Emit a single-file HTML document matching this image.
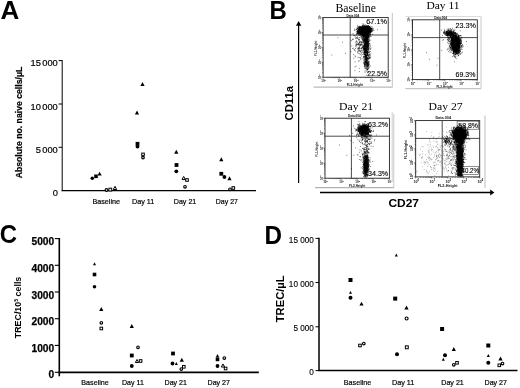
<!DOCTYPE html>
<html><head><meta charset="utf-8"><title>Figure</title>
<style>
html,body{margin:0;padding:0;background:#fff;}
body{width:520px;height:388px;overflow:hidden;font-family:"Liberation Sans",sans-serif;}
svg{display:block}
</style></head><body>
<svg width="520" height="388" viewBox="0 0 520 388">
<defs><filter id="soft" x="0" y="0" width="100%" height="100%" filterUnits="userSpaceOnUse"><feGaussianBlur stdDeviation="0.32"/></filter></defs>
<rect width="520" height="388" fill="#fff"/>
<g filter="url(#soft)">
<text x="0.50" y="18.90" font-family="Liberation Sans" font-size="25" text-anchor="start" fill="#000" font-weight="bold" textLength="18.80" lengthAdjust="spacingAndGlyphs" >A</text>
<text x="269.50" y="19.10" font-family="Liberation Sans" font-size="25" text-anchor="start" fill="#000" font-weight="bold" textLength="17.30" lengthAdjust="spacingAndGlyphs" >B</text>
<text x="-0.20" y="242.80" font-family="Liberation Sans" font-size="25" text-anchor="start" fill="#000" font-weight="bold" textLength="17.30" lengthAdjust="spacingAndGlyphs" >C</text>
<text x="264.40" y="243.70" font-family="Liberation Sans" font-size="25" text-anchor="start" fill="#000" font-weight="bold" textLength="17.50" lengthAdjust="spacingAndGlyphs" >D</text>
<line x1="62.20" y1="60.10" x2="62.20" y2="191.10" stroke="#000" stroke-width="1.0" />
<line x1="61.70" y1="190.60" x2="256.00" y2="190.60" stroke="#000" stroke-width="1.1" />
<line x1="58.60" y1="60.60" x2="62.20" y2="60.60" stroke="#000" stroke-width="1.0" />
<line x1="58.60" y1="104.00" x2="62.20" y2="104.00" stroke="#000" stroke-width="1.0" />
<line x1="58.60" y1="147.30" x2="62.20" y2="147.30" stroke="#000" stroke-width="1.0" />
<text x="57.80" y="66.20" font-family="Liberation Sans" font-size="9.3" text-anchor="end" fill="#000" word-spacing="-1.2" stroke="#000" stroke-width="0.2">15 000</text>
<text x="57.80" y="109.80" font-family="Liberation Sans" font-size="9.3" text-anchor="end" fill="#000" word-spacing="-1.2" stroke="#000" stroke-width="0.2">10 000</text>
<text x="57.80" y="153.00" font-family="Liberation Sans" font-size="9.3" text-anchor="end" fill="#000" word-spacing="-1.2" stroke="#000" stroke-width="0.2">5 000</text>
<text x="57.80" y="196.40" font-family="Liberation Sans" font-size="9.3" text-anchor="end" fill="#000" word-spacing="-1.2" stroke="#000" stroke-width="0.2">0</text>
<text x="22.20" y="178.30" font-family="Liberation Sans" font-size="8.4" text-anchor="start" fill="#000" font-weight="bold" textLength="111.50" lengthAdjust="spacingAndGlyphs" transform="rotate(-90 22.20 178.30)" stroke="#000" stroke-width="0.2">Absolute no. naive cells/µL</text>
<text x="92.40" y="204.00" font-family="Liberation Sans" font-size="7.6" text-anchor="start" fill="#000" textLength="27.60" lengthAdjust="spacingAndGlyphs" stroke="#000" stroke-width="0.2">Baseline</text>
<text x="132.00" y="204.00" font-family="Liberation Sans" font-size="7.6" text-anchor="start" fill="#000" textLength="22.30" lengthAdjust="spacingAndGlyphs" stroke="#000" stroke-width="0.2">Day 11</text>
<text x="173.80" y="204.00" font-family="Liberation Sans" font-size="7.6" text-anchor="start" fill="#000" textLength="22.50" lengthAdjust="spacingAndGlyphs" stroke="#000" stroke-width="0.2">Day 21</text>
<text x="215.80" y="204.00" font-family="Liberation Sans" font-size="7.6" text-anchor="start" fill="#000" textLength="22.20" lengthAdjust="spacingAndGlyphs" stroke="#000" stroke-width="0.2">Day 27</text>
<circle cx="92.30" cy="178.30" r="1.8" fill="#000"/>
<rect x="94.20" y="174.50" width="3.6" height="3.6" fill="#000"/>
<path d="M97.50 175.55L101.70 175.55L99.60 171.65Z" fill="#000"/>
<circle cx="106.50" cy="190.00" r="1.4" fill="#fff" stroke="#000" stroke-width="1.15"/>
<rect x="108.90" y="188.20" width="2.8" height="2.8" fill="#fff" stroke="#000" stroke-width="1"/>
<path d="M113.30 189.50L116.70 189.50L115.00 186.30Z" fill="#fff" stroke="#000" stroke-width="1.0"/>
<path d="M140.40 85.95L144.60 85.95L142.50 82.05Z" fill="#000"/>
<path d="M134.90 114.45L139.10 114.45L137.00 110.55Z" fill="#000"/>
<rect x="135.60" y="141.90" width="3.8" height="3.8" fill="#000"/>
<circle cx="137.50" cy="146.60" r="1.9" fill="#000"/>
<rect x="141.70" y="153.10" width="2.6" height="2.6" fill="#fff" stroke="#000" stroke-width="1"/>
<circle cx="143.00" cy="157.60" r="1.3" fill="#fff" stroke="#000" stroke-width="1.15"/>
<path d="M174.20 153.75L178.40 153.75L176.30 149.85Z" fill="#000"/>
<rect x="174.60" y="163.10" width="3.8" height="3.8" fill="#000"/>
<circle cx="176.30" cy="171.30" r="1.9" fill="#000"/>
<path d="M182.05 179.55L185.35 179.55L183.70 176.45Z" fill="#fff" stroke="#000" stroke-width="1.0"/>
<rect x="185.70" y="178.70" width="2.6" height="2.6" fill="#fff" stroke="#000" stroke-width="1"/>
<circle cx="185.00" cy="186.80" r="1.3" fill="#fff" stroke="#000" stroke-width="1.15"/>
<path d="M219.20 161.25L223.40 161.25L221.30 157.35Z" fill="#000"/>
<rect x="219.40" y="171.90" width="3.8" height="3.8" fill="#000"/>
<circle cx="224.40" cy="177.00" r="1.9" fill="#000"/>
<path d="M227.40 180.25L231.60 180.25L229.50 176.35Z" fill="#000"/>
<circle cx="230.00" cy="189.30" r="1.3" fill="#fff" stroke="#000" stroke-width="1.15"/>
<rect x="232.00" y="186.70" width="2.6" height="2.6" fill="#fff" stroke="#000" stroke-width="1"/>
<line x1="59.30" y1="238.00" x2="59.30" y2="376.30" stroke="#000" stroke-width="1.6" />
<line x1="58.50" y1="372.30" x2="258.80" y2="372.30" stroke="#000" stroke-width="1.7" />
<line x1="54.80" y1="238.60" x2="59.30" y2="238.60" stroke="#000" stroke-width="1.1" />
<line x1="54.80" y1="265.30" x2="59.30" y2="265.30" stroke="#000" stroke-width="1.1" />
<line x1="54.80" y1="292.00" x2="59.30" y2="292.00" stroke="#000" stroke-width="1.1" />
<line x1="54.80" y1="318.70" x2="59.30" y2="318.70" stroke="#000" stroke-width="1.1" />
<line x1="54.80" y1="345.40" x2="59.30" y2="345.40" stroke="#000" stroke-width="1.1" />
<line x1="54.80" y1="372.30" x2="59.30" y2="372.30" stroke="#000" stroke-width="1.1" />
<text x="54.20" y="245.35" font-family="Liberation Sans" font-size="10.2" text-anchor="end" fill="#000" font-weight="bold" textLength="22.70" lengthAdjust="spacingAndGlyphs" stroke="#000" stroke-width="0.25">5000</text>
<text x="54.20" y="272.05" font-family="Liberation Sans" font-size="10.2" text-anchor="end" fill="#000" font-weight="bold" textLength="22.70" lengthAdjust="spacingAndGlyphs" stroke="#000" stroke-width="0.25">4000</text>
<text x="54.20" y="298.75" font-family="Liberation Sans" font-size="10.2" text-anchor="end" fill="#000" font-weight="bold" textLength="22.70" lengthAdjust="spacingAndGlyphs" stroke="#000" stroke-width="0.25">3000</text>
<text x="54.20" y="325.45" font-family="Liberation Sans" font-size="10.2" text-anchor="end" fill="#000" font-weight="bold" textLength="22.70" lengthAdjust="spacingAndGlyphs" stroke="#000" stroke-width="0.25">2000</text>
<text x="54.20" y="352.15" font-family="Liberation Sans" font-size="10.2" text-anchor="end" fill="#000" font-weight="bold" textLength="22.70" lengthAdjust="spacingAndGlyphs" stroke="#000" stroke-width="0.25">1000</text>
<text x="54.20" y="377.50" font-family="Liberation Sans" font-size="10.2" text-anchor="end" fill="#000" font-weight="bold" stroke="#000" stroke-width="0.25">0</text>
<text x="20.6" y="338.2" font-family="Liberation Sans" font-size="8.4" font-weight="bold" transform="rotate(-90 20.6 338.2)" textLength="61.5" lengthAdjust="spacingAndGlyphs">TREC/10<tspan font-size="5" dy="-3">5</tspan><tspan dy="3"> cells</tspan></text>
<text x="81.30" y="385.10" font-family="Liberation Sans" font-size="7.6" text-anchor="start" fill="#000" textLength="27.50" lengthAdjust="spacingAndGlyphs" stroke="#000" stroke-width="0.2">Baseline</text>
<text x="122.00" y="385.10" font-family="Liberation Sans" font-size="7.6" text-anchor="start" fill="#000" textLength="21.80" lengthAdjust="spacingAndGlyphs" stroke="#000" stroke-width="0.2">Day 11</text>
<text x="164.50" y="385.10" font-family="Liberation Sans" font-size="7.6" text-anchor="start" fill="#000" textLength="22.50" lengthAdjust="spacingAndGlyphs" stroke="#000" stroke-width="0.2">Day 21</text>
<text x="207.50" y="385.10" font-family="Liberation Sans" font-size="7.6" text-anchor="start" fill="#000" textLength="22.50" lengthAdjust="spacingAndGlyphs" stroke="#000" stroke-width="0.2">Day 27</text>
<path d="M93.00 265.25L96.00 265.25L94.50 262.35Z" fill="#000"/>
<rect x="92.70" y="272.70" width="3.6" height="3.6" fill="#000"/>
<circle cx="94.50" cy="286.80" r="1.8" fill="#000"/>
<path d="M99.20 310.95L103.40 310.95L101.30 307.05Z" fill="#000"/>
<circle cx="101.30" cy="322.80" r="1.3" fill="#fff" stroke="#000" stroke-width="1.15"/>
<rect x="100.00" y="327.20" width="2.6" height="2.6" fill="#fff" stroke="#000" stroke-width="1"/>
<path d="M129.70 327.95L133.90 327.95L131.80 324.05Z" fill="#000"/>
<circle cx="138.00" cy="347.30" r="1.3" fill="#fff" stroke="#000" stroke-width="1.15"/>
<rect x="129.90" y="353.60" width="3.8" height="3.8" fill="#000"/>
<path d="M135.35 362.55L138.65 362.55L137.00 359.45Z" fill="#fff" stroke="#000" stroke-width="1.0"/>
<rect x="139.30" y="359.70" width="2.6" height="2.6" fill="#fff" stroke="#000" stroke-width="1"/>
<circle cx="131.80" cy="366.00" r="1.9" fill="#000"/>
<rect x="171.10" y="351.60" width="3.8" height="3.8" fill="#000"/>
<path d="M179.70 361.75L183.90 361.75L181.80 357.85Z" fill="#000"/>
<circle cx="172.50" cy="363.50" r="1.9" fill="#000"/>
<path d="M174.80 364.95L177.80 364.95L176.30 362.05Z" fill="#000"/>
<rect x="182.50" y="365.50" width="2.6" height="2.6" fill="#fff" stroke="#000" stroke-width="1"/>
<circle cx="181.30" cy="369.00" r="1.3" fill="#fff" stroke="#000" stroke-width="1.15"/>
<path d="M215.70 357.50L219.30 357.50L217.50 354.10Z" fill="#000"/>
<rect x="215.70" y="357.60" width="3.6" height="3.6" fill="#000"/>
<circle cx="224.30" cy="358.00" r="1.3" fill="#fff" stroke="#000" stroke-width="1.15"/>
<circle cx="217.50" cy="366.00" r="1.9" fill="#000"/>
<path d="M221.35 367.05L224.65 367.05L223.00 363.95Z" fill="#fff" stroke="#000" stroke-width="1.0"/>
<rect x="224.30" y="367.20" width="2.6" height="2.6" fill="#fff" stroke="#000" stroke-width="1"/>
<line x1="319.00" y1="237.80" x2="319.00" y2="371.00" stroke="#000" stroke-width="1.5" />
<line x1="318.30" y1="370.50" x2="517.50" y2="370.50" stroke="#000" stroke-width="1.4" />
<line x1="315.50" y1="238.40" x2="319.00" y2="238.40" stroke="#000" stroke-width="1.0" />
<line x1="315.50" y1="282.50" x2="319.00" y2="282.50" stroke="#000" stroke-width="1.0" />
<line x1="315.50" y1="326.80" x2="319.00" y2="326.80" stroke="#000" stroke-width="1.0" />
<line x1="315.50" y1="370.60" x2="319.00" y2="370.60" stroke="#000" stroke-width="1.0" />
<text x="313.90" y="242.55" font-family="Liberation Sans" font-size="8.2" text-anchor="end" fill="#000" stroke="#000" stroke-width="0.12">15 000</text>
<text x="313.90" y="286.65" font-family="Liberation Sans" font-size="8.2" text-anchor="end" fill="#000" stroke="#000" stroke-width="0.12">10 000</text>
<text x="313.90" y="330.95" font-family="Liberation Sans" font-size="8.2" text-anchor="end" fill="#000" stroke="#000" stroke-width="0.12">5 000</text>
<text x="313.90" y="374.75" font-family="Liberation Sans" font-size="8.2" text-anchor="end" fill="#000" stroke="#000" stroke-width="0.12">0</text>
<text x="283.60" y="322.20" font-family="Liberation Sans" font-size="11.2" text-anchor="start" fill="#000" font-weight="bold" textLength="46.80" lengthAdjust="spacingAndGlyphs" transform="rotate(-90 283.60 322.20)" >TREC/µL</text>
<text x="343.80" y="384.60" font-family="Liberation Sans" font-size="7.6" text-anchor="start" fill="#000" textLength="27.50" lengthAdjust="spacingAndGlyphs" stroke="#000" stroke-width="0.2">Baseline</text>
<text x="391.90" y="384.60" font-family="Liberation Sans" font-size="7.6" text-anchor="start" fill="#000" textLength="22.50" lengthAdjust="spacingAndGlyphs" stroke="#000" stroke-width="0.2">Day 11</text>
<text x="441.30" y="384.60" font-family="Liberation Sans" font-size="7.6" text-anchor="start" fill="#000" textLength="22.50" lengthAdjust="spacingAndGlyphs" stroke="#000" stroke-width="0.2">Day 21</text>
<text x="484.50" y="384.60" font-family="Liberation Sans" font-size="7.6" text-anchor="start" fill="#000" textLength="22.50" lengthAdjust="spacingAndGlyphs" stroke="#000" stroke-width="0.2">Day 27</text>
<rect x="348.50" y="278.00" width="4.0" height="4.0" fill="#000"/>
<path d="M349.00 293.85L352.00 293.85L350.50 290.95Z" fill="#000"/>
<circle cx="350.50" cy="297.70" r="2.0" fill="#000"/>
<path d="M359.40 305.55L363.60 305.55L361.50 301.65Z" fill="#000"/>
<rect x="358.70" y="344.20" width="2.6" height="2.6" fill="#fff" stroke="#000" stroke-width="1"/>
<circle cx="363.80" cy="343.50" r="1.3" fill="#fff" stroke="#000" stroke-width="1.15"/>
<path d="M394.80 256.45L397.80 256.45L396.30 253.55Z" fill="#000"/>
<rect x="393.20" y="296.60" width="4.0" height="4.0" fill="#000"/>
<path d="M404.40 309.45L408.60 309.45L406.50 305.55Z" fill="#000"/>
<circle cx="406.60" cy="318.50" r="1.5" fill="#fff" stroke="#000" stroke-width="1.15"/>
<rect x="405.35" y="345.85" width="2.9" height="2.9" fill="#fff" stroke="#000" stroke-width="1"/>
<circle cx="397.00" cy="354.30" r="2.0" fill="#000"/>
<rect x="440.10" y="327.00" width="4.0" height="4.0" fill="#000"/>
<path d="M451.70 350.95L455.90 350.95L453.80 347.05Z" fill="#000"/>
<circle cx="445.00" cy="355.30" r="2.0" fill="#000"/>
<path d="M441.80 360.75L444.80 360.75L443.30 357.85Z" fill="#000"/>
<circle cx="453.80" cy="364.80" r="1.3" fill="#fff" stroke="#000" stroke-width="1.15"/>
<rect x="455.70" y="361.50" width="2.6" height="2.6" fill="#fff" stroke="#000" stroke-width="1"/>
<rect x="486.30" y="343.50" width="4.0" height="4.0" fill="#000"/>
<path d="M486.80 356.95L489.80 356.95L488.30 354.05Z" fill="#000"/>
<circle cx="488.30" cy="362.80" r="2.0" fill="#000"/>
<path d="M498.40 360.45L502.60 360.45L500.50 356.55Z" fill="#000"/>
<rect x="498.00" y="364.00" width="2.6" height="2.6" fill="#fff" stroke="#000" stroke-width="1"/>
<circle cx="502.50" cy="363.50" r="1.3" fill="#fff" stroke="#000" stroke-width="1.15"/>
<line x1="298.60" y1="24.50" x2="298.60" y2="183.10" stroke="#000" stroke-width="1.2" />
<path d="M296.0 25.8L301.3 25.8L298.6 21.0Z" fill="#000"/>
<line x1="320.00" y1="192.40" x2="491.00" y2="192.40" stroke="#000" stroke-width="1.5" />
<path d="M490.2 189.4L490.2 195.6L494.4 192.4Z" fill="#000"/>
<text x="292.80" y="120.40" font-family="Liberation Sans" font-size="11.6" text-anchor="start" fill="#000" font-weight="bold" textLength="34.40" lengthAdjust="spacingAndGlyphs" transform="rotate(-90 292.80 120.40)" >CD11a</text>
<text x="388.40" y="207.10" font-family="Liberation Sans" font-size="11.7" text-anchor="start" fill="#000" font-weight="bold" textLength="30.60" lengthAdjust="spacingAndGlyphs" >CD27</text>
<text x="335.40" y="11.60" font-family="Liberation Serif" font-size="11.8" text-anchor="start" fill="#000" textLength="40.60" lengthAdjust="spacingAndGlyphs" >Baseline</text>
<text x="426.40" y="9.10" font-family="Liberation Serif" font-size="11.0" text-anchor="start" fill="#000" textLength="33.20" lengthAdjust="spacingAndGlyphs" >Day 11</text>
<text x="339.00" y="110.00" font-family="Liberation Serif" font-size="11.3" text-anchor="start" fill="#000" textLength="34.20" lengthAdjust="spacingAndGlyphs" >Day 21</text>
<text x="428.60" y="110.00" font-family="Liberation Serif" font-size="11.3" text-anchor="start" fill="#000" textLength="34.00" lengthAdjust="spacingAndGlyphs" >Day 27</text>
<line x1="313.50" y1="87.10" x2="392.50" y2="87.10" stroke="#a8a8a8" stroke-width="1.0" />
<line x1="392.30" y1="13.00" x2="392.30" y2="87.10" stroke="#c4c4c4" stroke-width="1.0" />
<rect x="323.10" y="17.60" width="65.10" height="59.60" fill="#fff" stroke="#1a1a1a" stroke-width="0.85"/>
<line x1="350.20" y1="17.60" x2="350.20" y2="77.20" stroke="#2a2a2a" stroke-width="0.85" />
<line x1="323.10" y1="35.00" x2="388.20" y2="35.00" stroke="#2a2a2a" stroke-width="0.85" />
<path d="M323.10 77.20v1.7M323.10 77.20h-1.7M328.00 77.20v0.9M323.10 72.71h-0.9M330.87 77.20v0.9M323.10 70.09h-0.9M332.90 77.20v0.9M323.10 68.23h-0.9M334.48 77.20v0.9M323.10 66.79h-0.9M335.76 77.20v0.9M323.10 65.61h-0.9M336.85 77.20v0.9M323.10 64.61h-0.9M337.80 77.20v0.9M323.10 63.74h-0.9M338.63 77.20v0.9M323.10 62.98h-0.9M339.38 77.20v1.7M323.10 62.30h-1.7M344.27 77.20v0.9M323.10 57.81h-0.9M347.14 77.20v0.9M323.10 55.19h-0.9M349.17 77.20v0.9M323.10 53.33h-0.9M350.75 77.20v0.9M323.10 51.89h-0.9M352.04 77.20v0.9M323.10 50.71h-0.9M353.13 77.20v0.9M323.10 49.71h-0.9M354.07 77.20v0.9M323.10 48.84h-0.9M354.91 77.20v0.9M323.10 48.08h-0.9M355.65 77.20v1.7M323.10 47.40h-1.7M360.55 77.20v0.9M323.10 42.91h-0.9M363.42 77.20v0.9M323.10 40.29h-0.9M365.45 77.20v0.9M323.10 38.43h-0.9M367.03 77.20v0.9M323.10 36.99h-0.9M368.31 77.20v0.9M323.10 35.81h-0.9M369.40 77.20v0.9M323.10 34.81h-0.9M370.35 77.20v0.9M323.10 33.94h-0.9M371.18 77.20v0.9M323.10 33.18h-0.9M371.93 77.20v1.7M323.10 32.50h-1.7M376.82 77.20v0.9M323.10 28.01h-0.9M379.69 77.20v0.9M323.10 25.39h-0.9M381.72 77.20v0.9M323.10 23.53h-0.9M383.30 77.20v0.9M323.10 22.09h-0.9M384.59 77.20v0.9M323.10 20.91h-0.9M385.68 77.20v0.9M323.10 19.91h-0.9M386.62 77.20v0.9M323.10 19.04h-0.9M387.46 77.20v0.9M323.10 18.28h-0.9M388.20 77.20v1.7M323.10 17.60h-1.7" stroke="#222" stroke-width="0.5" fill="none"/>
<text x="321.24" y="82.10" font-family="Liberation Sans" font-size="3.0" font-weight="bold" fill="#111">10<tspan dy="-1.35" font-size="2.40">0</tspan></text>
<text x="320.90" y="79.06" font-family="Liberation Sans" font-size="3.0" font-weight="bold" fill="#111" transform="rotate(-90 320.90 79.06)">10<tspan dy="-1.35" font-size="2.40">0</tspan></text>
<text x="337.51" y="82.10" font-family="Liberation Sans" font-size="3.0" font-weight="bold" fill="#111">10<tspan dy="-1.35" font-size="2.40">1</tspan></text>
<text x="320.90" y="64.16" font-family="Liberation Sans" font-size="3.0" font-weight="bold" fill="#111" transform="rotate(-90 320.90 64.16)">10<tspan dy="-1.35" font-size="2.40">1</tspan></text>
<text x="353.79" y="82.10" font-family="Liberation Sans" font-size="3.0" font-weight="bold" fill="#111">10<tspan dy="-1.35" font-size="2.40">2</tspan></text>
<text x="320.90" y="49.26" font-family="Liberation Sans" font-size="3.0" font-weight="bold" fill="#111" transform="rotate(-90 320.90 49.26)">10<tspan dy="-1.35" font-size="2.40">2</tspan></text>
<text x="370.06" y="82.10" font-family="Liberation Sans" font-size="3.0" font-weight="bold" fill="#111">10<tspan dy="-1.35" font-size="2.40">3</tspan></text>
<text x="320.90" y="34.36" font-family="Liberation Sans" font-size="3.0" font-weight="bold" fill="#111" transform="rotate(-90 320.90 34.36)">10<tspan dy="-1.35" font-size="2.40">3</tspan></text>
<text x="386.34" y="82.10" font-family="Liberation Sans" font-size="3.0" font-weight="bold" fill="#111">10<tspan dy="-1.35" font-size="2.40">4</tspan></text>
<text x="320.90" y="19.46" font-family="Liberation Sans" font-size="3.0" font-weight="bold" fill="#111" transform="rotate(-90 320.90 19.46)">10<tspan dy="-1.35" font-size="2.40">4</tspan></text>
<text x="352.80" y="16.60" font-family="Liberation Sans" font-size="3.1" text-anchor="middle" fill="#111" font-weight="bold" >Data.004</text>
<text x="354.80" y="85.80" font-family="Liberation Sans" font-size="3.1" text-anchor="middle" fill="#111" font-weight="bold" >FL2-Height</text>
<text x="316.80" y="48.40" font-family="Liberation Sans" font-size="2.9" text-anchor="middle" fill="#111" font-weight="bold" transform="rotate(-90 316.80 48.40)" >FL1-Height</text>
<path d="M368.3 30.1h.7M362.3 25.6h.7M363.6 30.0h.7M362.2 31.2h.7M364.7 28.6h.7M361.2 29.7h.7M365.5 31.7h.7M360.1 28.5h.7M365.6 33.6h.7M363.5 29.3h.7M366.6 30.0h.7M365.6 33.5h.7M365.3 30.7h.7M365.6 29.4h.7M363.1 29.5h.7M363.0 29.7h.7M363.1 29.9h.7M363.8 30.7h.7M364.4 33.3h.7M359.4 33.1h.7M363.0 28.3h.7M363.1 30.8h.7M366.5 28.6h.7M364.2 30.8h.7M359.1 28.3h.7M365.2 31.9h.7M366.5 31.6h.7M364.7 30.8h.7M366.9 29.0h.7M363.2 31.3h.7M359.3 33.1h.7M361.5 30.5h.7M369.4 29.0h.7M362.2 33.6h.7M360.7 29.8h.7M365.0 31.5h.7M365.2 31.3h.7M367.2 32.5h.7M365.2 29.3h.7M361.7 27.0h.7M365.5 27.1h.7M366.0 34.1h.7M360.7 29.3h.7M362.3 32.2h.7M361.3 30.4h.7M362.2 30.1h.7M367.1 28.8h.7M363.8 31.1h.7M365.9 28.2h.7M366.6 31.4h.7M366.0 30.7h.7M359.2 29.4h.7M365.8 30.7h.7M363.5 34.0h.7M369.5 30.5h.7M368.8 26.8h.7M358.1 32.2h.7M362.9 31.7h.7M365.0 30.4h.7M365.4 30.9h.7M359.5 31.0h.7M364.1 34.1h.7M360.6 30.6h.7M362.5 30.3h.7M368.1 31.3h.7M362.3 30.9h.7M365.7 28.7h.7M362.9 33.5h.7M365.9 30.5h.7M362.3 30.3h.7M359.4 32.4h.7M364.5 30.9h.7M360.1 29.2h.7M365.0 31.1h.7M362.3 31.6h.7M366.1 29.3h.7M362.2 28.9h.7M360.5 32.1h.7M365.0 31.2h.7M360.4 28.6h.7M363.4 29.8h.7M363.9 29.3h.7M365.4 34.0h.7M367.8 33.7h.7M363.8 32.4h.7M362.6 32.3h.7M362.6 29.7h.7M361.9 31.9h.7M364.3 31.0h.7M360.5 30.9h.7M359.7 33.4h.7M363.2 31.0h.7M363.3 27.6h.7M359.9 30.5h.7M367.6 28.5h.7M361.7 30.5h.7M359.0 27.4h.7M362.5 30.5h.7M362.5 33.5h.7M363.2 31.3h.7M367.9 33.8h.7M359.3 29.9h.7M366.7 28.0h.7M361.1 28.1h.7M359.9 28.4h.7M364.1 33.0h.7M367.7 30.6h.7M358.3 30.5h.7M362.7 31.3h.7M363.3 27.2h.7M364.7 26.7h.7M361.7 31.2h.7M364.5 33.6h.7M357.2 31.2h.7M365.5 30.0h.7M365.3 28.5h.7M365.4 31.6h.7M360.9 29.3h.7M363.1 29.4h.7M366.4 30.9h.7M367.1 32.8h.7M363.8 30.2h.7M361.0 29.1h.7M361.4 31.3h.7M361.2 30.7h.7M364.1 29.7h.7M363.1 33.3h.7M368.0 29.1h.7M363.1 29.9h.7M362.9 33.5h.7M365.5 33.0h.7M368.4 29.8h.7M363.1 30.7h.7M366.4 30.4h.7M365.3 32.8h.7M366.7 31.4h.7M361.5 27.6h.7M366.6 31.5h.7M361.1 29.6h.7M362.4 27.4h.7M364.3 29.1h.7M362.8 32.0h.7M363.3 31.6h.7M364.7 30.7h.7M363.7 34.1h.7M363.1 33.7h.7M361.1 32.0h.7M364.1 29.2h.7M356.5 33.6h.7M360.5 28.8h.7M364.0 30.7h.7M364.4 30.1h.7M359.6 32.2h.7M361.2 31.0h.7M365.2 32.8h.7M363.0 30.0h.7M363.0 27.1h.7M361.6 28.7h.7M360.5 30.9h.7M362.8 33.6h.7M367.6 27.0h.7M363.9 28.7h.7M365.1 30.9h.7M366.1 31.2h.7M365.7 30.0h.7M356.8 28.3h.7M361.3 29.7h.7M360.9 33.7h.7M363.1 33.1h.7M362.7 33.7h.7M360.4 31.7h.7M360.0 31.4h.7M367.9 27.5h.7M361.2 31.1h.7M363.1 28.0h.7M366.7 30.7h.7M367.1 31.2h.7M360.5 29.7h.7M367.3 28.0h.7M362.3 31.7h.7M366.3 32.2h.7M359.6 34.6h.7M363.2 30.6h.7M363.6 30.2h.7M361.0 30.0h.7M367.2 28.0h.7M357.0 31.6h.7M364.5 32.0h.7M368.3 29.2h.7M364.1 31.6h.7M366.9 32.5h.7M361.3 28.0h.7M362.9 27.5h.7M366.6 29.8h.7M362.6 28.9h.7M367.7 31.1h.7M362.5 31.8h.7M363.4 31.7h.7M367.2 30.1h.7M365.0 31.5h.7M366.7 31.7h.7M363.7 29.4h.7M364.4 28.6h.7M365.4 30.7h.7M365.1 29.6h.7M361.4 28.9h.7M366.6 30.2h.7M363.0 27.2h.7M363.4 24.0h.7M367.3 30.1h.7M363.7 27.9h.7M360.6 31.7h.7M363.0 31.4h.7M367.0 31.9h.7M358.5 28.7h.7M360.5 28.9h.7M358.0 26.7h.7M361.6 29.5h.7M365.0 30.0h.7M367.4 27.1h.7M359.8 31.1h.7M362.9 28.7h.7M365.7 32.7h.7M367.1 29.8h.7M363.6 31.0h.7M363.7 32.5h.7M362.3 31.3h.7M357.6 32.0h.7M368.0 30.5h.7M366.4 27.4h.7M362.7 27.7h.7M364.5 31.6h.7M359.9 29.0h.7M362.0 35.2h.7M363.4 30.8h.7M364.6 31.2h.7M363.0 28.1h.7M361.8 33.7h.7M364.3 29.9h.7M359.9 30.5h.7M363.7 29.4h.7M366.0 29.5h.7M363.1 32.2h.7M364.2 32.7h.7M363.0 29.8h.7M364.9 31.0h.7M366.8 31.4h.7M363.5 31.5h.7M365.4 28.5h.7M363.2 30.0h.7M366.8 29.7h.7M366.5 28.2h.7M363.5 32.6h.7M362.9 32.8h.7M358.1 30.7h.7M364.0 30.4h.7M359.5 31.9h.7M357.3 32.4h.7M364.4 32.5h.7M362.9 28.5h.7M362.2 29.7h.7M365.2 30.0h.7M364.7 31.5h.7M367.4 26.8h.7M362.5 31.9h.7M365.5 29.5h.7M362.9 30.4h.7M364.0 29.6h.7M361.9 28.5h.7M362.6 33.3h.7M361.1 32.5h.7M368.9 31.0h.7M370.0 30.4h.7M368.2 30.6h.7M360.4 31.3h.7M368.8 29.5h.7M365.0 28.8h.7M361.3 31.5h.7M363.2 31.8h.7M367.1 28.4h.7M361.9 30.8h.7M370.0 30.1h.7M362.4 31.5h.7M369.4 29.6h.7M362.9 30.8h.7M365.8 34.9h.7M360.4 27.6h.7M364.2 31.8h.7M357.8 29.6h.7M366.4 29.8h.7M365.1 31.1h.7M365.6 31.6h.7M364.5 33.1h.7M362.3 31.0h.7M366.9 29.7h.7M362.9 29.4h.7M361.3 34.6h.7M365.1 34.4h.7M365.9 30.9h.7M363.1 31.3h.7M363.8 32.5h.7M361.5 31.1h.7M365.1 30.4h.7M363.3 31.8h.7M365.4 30.6h.7M363.8 29.7h.7M365.4 30.6h.7M359.6 30.2h.7M365.5 31.3h.7M361.5 32.2h.7M365.5 31.9h.7M367.9 30.1h.7M365.4 30.3h.7M366.5 32.9h.7M365.1 32.1h.7M361.6 31.9h.7M360.6 34.8h.7M366.9 27.8h.7M356.6 33.2h.7M361.4 31.7h.7M360.2 30.8h.7M361.9 31.8h.7M362.8 33.5h.7M361.6 33.1h.7M363.6 31.6h.7M359.3 27.3h.7M366.5 28.3h.7M362.7 30.0h.7M361.2 31.0h.7M359.8 28.4h.7M366.1 29.1h.7M365.6 31.9h.7M367.7 31.5h.7M358.7 29.4h.7M362.5 32.9h.7M364.5 29.7h.7M364.8 29.9h.7M365.1 30.9h.7M366.6 31.2h.7M366.3 30.6h.7M365.5 30.3h.7M365.3 31.0h.7M363.3 29.8h.7M362.9 31.5h.7M357.4 33.0h.7M357.2 30.2h.7M362.7 32.0h.7M364.2 30.5h.7M363.8 32.4h.7M369.9 31.3h.7M358.0 29.8h.7M364.7 36.9h.7M361.5 29.9h.7M365.1 31.2h.7M360.0 32.4h.7M360.0 30.1h.7M367.2 28.1h.7M362.7 33.8h.7M362.9 28.6h.7M362.0 32.2h.7M359.4 29.4h.7M359.7 28.4h.7M367.1 30.4h.7M362.4 31.4h.7M361.7 28.3h.7M366.7 32.3h.7M361.3 31.9h.7M367.5 31.5h.7M365.0 28.2h.7M363.2 27.0h.7M366.6 30.3h.7M367.2 29.1h.7M366.0 27.6h.7M362.5 31.6h.7M364.6 30.5h.7M359.1 33.1h.7M365.4 32.8h.7M366.7 29.9h.7M364.7 35.7h.7M361.3 31.4h.7M362.1 33.9h.7M364.1 28.6h.7M361.9 27.9h.7M357.4 25.4h.7M361.6 28.4h.7M364.0 29.0h.7M364.2 34.0h.7M360.4 28.3h.7M366.3 35.1h.7M361.2 27.3h.7M362.8 29.8h.7M365.5 28.5h.7M362.9 30.0h.7M359.3 27.6h.7M364.8 31.6h.7M361.4 33.6h.7M366.1 31.5h.7M365.3 31.3h.7M365.6 32.3h.7M363.8 26.6h.7M363.1 29.0h.7M360.3 31.7h.7M358.7 32.2h.7M361.8 28.2h.7M361.2 35.1h.7M367.6 30.0h.7M366.5 34.0h.7M361.2 30.0h.7M366.1 31.4h.7M362.6 33.7h.7M365.0 32.1h.7M370.2 31.5h.7M370.9 31.2h.7M363.1 30.8h.7M366.0 31.9h.7M364.6 27.7h.7M360.6 30.1h.7M365.6 33.4h.7M356.9 30.3h.7M362.3 30.4h.7M364.1 28.9h.7M359.9 32.5h.7M365.6 29.8h.7M363.2 29.2h.7M359.7 31.8h.7M361.7 28.4h.7M361.9 33.7h.7M364.8 31.0h.7M363.8 32.2h.7M365.6 28.0h.7M362.9 29.3h.7M364.1 30.4h.7M358.0 32.8h.7M364.3 27.2h.7M366.7 30.8h.7M364.8 30.6h.7M364.0 29.6h.7M358.9 29.3h.7M364.0 30.6h.7M365.3 30.3h.7M357.3 31.9h.7M361.2 27.9h.7M362.6 27.8h.7M364.4 28.7h.7M368.8 30.0h.7M361.9 29.2h.7M357.5 28.8h.7M361.3 29.8h.7M357.3 30.5h.7M366.9 29.6h.7M363.3 31.3h.7M361.2 29.6h.7M366.1 30.9h.7M360.1 27.0h.7M369.7 31.4h.7M359.1 30.8h.7M365.4 30.8h.7M358.3 34.0h.7M365.2 30.2h.7M365.4 30.1h.7M362.6 32.3h.7M358.1 32.5h.7M364.7 32.0h.7M366.1 33.6h.7M367.6 32.3h.7M362.5 31.9h.7M362.3 28.8h.7M364.9 31.3h.7M366.9 26.5h.7M365.3 31.9h.7M364.0 33.5h.7M361.3 31.3h.7M362.7 30.6h.7M361.0 30.4h.7M365.5 30.9h.7M364.6 29.2h.7M368.1 29.3h.7M363.8 31.8h.7M363.2 32.1h.7M364.2 34.0h.7M365.2 31.4h.7M361.5 31.6h.7M366.5 31.5h.7M361.2 29.6h.7M363.1 30.7h.7M359.9 34.3h.7M363.4 30.9h.7M362.5 30.6h.7M368.9 28.8h.7M362.3 28.7h.7M362.2 33.6h.7M361.9 29.8h.7M358.7 29.9h.7M364.3 29.7h.7M362.6 32.2h.7M365.1 30.4h.7M361.5 27.8h.7M368.2 27.7h.7M365.4 30.3h.7M361.7 32.3h.7M361.6 33.1h.7M360.9 31.6h.7M367.1 28.8h.7M369.4 32.3h.7M357.7 33.3h.7M368.9 30.1h.7M363.1 31.4h.7M358.5 30.9h.7M366.2 29.6h.7M366.7 34.9h.7M358.3 27.2h.7M361.7 31.9h.7M364.7 28.9h.7M360.6 29.2h.7M368.3 28.8h.7M362.1 32.5h.7M362.9 28.7h.7M367.5 31.3h.7M361.8 29.9h.7M366.2 30.0h.7M364.4 32.4h.7M366.4 27.1h.7M362.4 30.0h.7M364.0 32.1h.7M366.9 29.8h.7M360.7 31.1h.7M362.1 34.0h.7M364.7 30.8h.7M366.4 29.4h.7M362.8 30.4h.7M365.5 33.2h.7M365.9 32.2h.7M363.1 31.4h.7M363.1 32.9h.7M362.1 30.6h.7M364.4 32.2h.7M361.8 30.3h.7M361.5 28.1h.7M366.7 31.6h.7M359.7 28.8h.7M365.3 29.5h.7M360.9 33.1h.7M362.4 30.0h.7M365.3 29.3h.7M363.8 31.0h.7M365.7 29.3h.7M366.7 31.3h.7M368.6 31.1h.7M362.3 29.7h.7M360.6 30.7h.7M363.5 32.4h.7M363.9 29.0h.7M366.5 29.8h.7M364.4 33.4h.7M367.1 29.2h.7M363.3 33.2h.7M366.3 31.7h.7M366.0 26.5h.7M362.8 27.9h.7M361.9 29.9h.7M364.9 32.8h.7M365.7 31.1h.7M362.6 33.0h.7M364.3 27.2h.7M363.3 31.5h.7M360.9 30.9h.7M367.6 30.0h.7M363.3 30.4h.7M360.8 29.6h.7M360.7 29.9h.7M361.2 32.3h.7M363.1 32.1h.7M360.0 30.4h.7M365.0 31.8h.7M361.7 30.3h.7M363.7 29.8h.7M362.3 31.5h.7M360.2 27.0h.7M362.1 31.0h.7M357.2 33.1h.7M363.7 31.6h.7M361.1 30.4h.7M368.4 34.0h.7M365.1 30.0h.7M363.1 33.0h.7M361.5 28.7h.7M363.1 32.2h.7M360.5 31.1h.7M364.4 30.7h.7M363.0 32.2h.7M365.0 27.6h.7M367.8 31.3h.7M364.2 29.7h.7M362.5 25.6h.7M362.7 31.5h.7M365.0 29.1h.7M356.9 28.2h.7M362.4 32.8h.7M358.9 30.4h.7M364.9 31.6h.7M363.0 25.0h.7M364.9 30.6h.7M364.8 28.6h.7M362.0 33.3h.7M363.1 30.4h.7M361.4 32.8h.7M358.9 29.4h.7M364.5 30.4h.7M365.8 31.3h.7M367.3 30.0h.7M363.1 31.0h.7M358.6 33.2h.7M361.0 32.7h.7M367.4 32.5h.7M364.0 29.3h.7M357.7 31.6h.7M362.8 33.8h.7M362.7 31.7h.7M362.4 31.4h.7M362.6 30.2h.7M358.4 29.2h.7M363.1 33.0h.7M364.3 28.2h.7M367.9 31.2h.7M366.6 28.8h.7M354.5 29.1h.7M360.7 31.1h.7M359.3 28.8h.7M359.8 30.8h.7M361.0 33.2h.7M365.7 32.2h.7M363.0 31.0h.7M365.9 28.9h.7M367.0 30.4h.7M367.0 34.9h.7M367.9 28.5h.7M366.9 30.0h.7M362.4 30.1h.7M360.4 31.1h.7M361.6 32.7h.7M364.5 25.6h.7M360.9 28.6h.7M361.7 29.3h.7M364.1 30.3h.7M360.6 31.4h.7M366.1 30.6h.7M366.8 31.4h.7M362.0 29.8h.7M363.6 31.6h.7M364.0 32.5h.7M366.7 28.6h.7M360.4 30.4h.7M364.8 32.3h.7M365.3 31.8h.7M361.0 31.3h.7M361.8 31.4h.7M366.0 29.3h.7M362.9 35.3h.7M361.5 29.6h.7M360.6 27.8h.7M366.3 29.3h.7M361.9 29.0h.7M355.9 32.0h.7M362.1 30.5h.7M367.3 30.3h.7M363.9 30.9h.7M367.1 28.0h.7M362.0 26.4h.7M363.6 31.8h.7M362.4 34.4h.7M366.3 34.4h.7M364.1 34.1h.7M362.2 31.4h.7M364.0 29.8h.7M368.2 33.2h.7M361.8 32.0h.7M364.0 31.0h.7M365.4 29.8h.7M364.3 31.3h.7M362.1 29.8h.7M366.1 30.8h.7M370.2 34.8h.7M361.8 31.3h.7M358.2 29.4h.7M361.2 29.2h.7M357.8 31.1h.7M364.0 29.1h.7M363.4 32.4h.7M368.0 28.0h.7M367.9 27.3h.7M361.3 29.8h.7M367.8 31.8h.7M365.2 33.6h.7M364.2 29.7h.7M367.6 30.2h.7M360.1 27.3h.7M364.0 34.2h.7M365.6 30.7h.7M366.9 27.7h.7M364.8 29.6h.7M367.3 29.0h.7M365.8 31.0h.7M363.6 31.9h.7M363.2 33.3h.7M363.0 26.4h.7M367.5 33.1h.7M365.0 33.3h.7M365.5 29.0h.7M358.0 28.6h.7M362.8 31.6h.7M359.7 28.9h.7M367.7 29.2h.7M361.6 28.8h.7M368.0 32.1h.7M366.0 33.8h.7M366.2 33.2h.7M364.6 32.3h.7M365.3 31.9h.7M360.4 30.2h.7M362.6 29.3h.7M363.5 34.0h.7M366.1 30.8h.7M364.5 33.3h.7M360.3 31.3h.7M368.1 34.0h.7M366.0 31.6h.7M358.6 29.2h.7M363.4 31.3h.7M364.7 26.2h.7M362.1 31.1h.7M361.5 30.1h.7M364.9 31.1h.7M364.0 32.0h.7M366.6 30.0h.7M360.7 29.2h.7M362.2 30.5h.7M359.4 29.1h.7M362.9 33.1h.7M365.0 30.3h.7M365.9 30.9h.7M364.2 32.6h.7M364.5 30.9h.7M365.5 29.5h.7M363.7 26.6h.7M362.4 33.5h.7M362.6 30.6h.7M362.4 28.6h.7M364.9 30.5h.7M366.5 28.9h.7M363.7 29.9h.7M362.0 32.7h.7M361.6 29.2h.7M370.4 30.5h.7M363.0 31.5h.7M360.9 31.3h.7M360.4 29.7h.7M362.1 33.2h.7M365.3 34.1h.7M368.1 29.3h.7M365.0 29.8h.7M361.9 32.9h.7M367.5 30.9h.7M364.5 31.2h.7M364.5 31.3h.7M360.9 31.8h.7M361.8 28.3h.7M363.2 31.1h.7M365.9 31.3h.7M364.4 29.3h.7M364.7 31.0h.7M364.4 29.2h.7M368.2 32.0h.7M365.4 30.8h.7M362.8 32.4h.7M360.0 29.7h.7M362.8 31.7h.7M362.8 33.3h.7M358.8 33.6h.7M364.4 32.4h.7M362.2 32.6h.7M362.7 31.1h.7M359.6 31.6h.7M363.9 27.0h.7M363.3 30.0h.7M365.8 29.3h.7M364.1 33.0h.7M361.2 34.2h.7M364.2 30.1h.7M359.9 27.2h.7M366.2 29.7h.7M361.9 32.6h.7M365.4 30.8h.7M359.6 26.9h.7M366.1 30.5h.7M362.9 34.2h.7M362.4 31.3h.7M369.4 31.8h.7M362.1 29.0h.7M366.9 28.2h.7M365.9 33.7h.7M363.3 32.2h.7M363.8 33.3h.7M364.4 29.3h.7M364.6 30.9h.7M362.0 30.2h.7M360.4 29.0h.7M365.4 27.1h.7M364.4 30.6h.7M362.0 33.3h.7M365.5 29.5h.7M364.2 32.4h.7M359.4 31.0h.7M363.0 31.4h.7M369.3 29.4h.7M362.7 28.3h.7M364.2 31.8h.7M356.9 33.4h.7M368.0 25.5h.7M359.5 31.5h.7M363.9 32.9h.7M362.9 33.1h.7M359.9 31.4h.7M362.5 29.8h.7M358.9 29.9h.7M367.4 29.4h.7M363.1 30.9h.7M361.1 31.2h.7M365.2 30.2h.7M358.7 33.6h.7M363.9 30.6h.7M363.1 29.6h.7M359.2 30.6h.7M364.1 32.6h.7M368.2 29.3h.7M368.1 30.9h.7M365.3 28.7h.7M364.7 28.9h.7M365.6 28.3h.7M363.8 29.9h.7M364.7 31.2h.7M364.2 29.7h.7M366.1 31.8h.7M361.6 32.1h.7M362.0 30.9h.7M363.5 30.6h.7M365.9 27.3h.7M367.3 27.4h.7M367.2 31.8h.7M359.8 31.4h.7M363.0 28.5h.7M367.1 32.9h.7M364.9 34.0h.7M364.3 30.3h.7M367.5 29.4h.7M366.1 33.0h.7M364.5 31.0h.7M365.3 31.3h.7M362.0 24.0h.7M362.5 28.0h.7M366.6 30.0h.7M364.6 32.3h.7M366.7 29.1h.7M369.9 32.6h.7M365.7 29.1h.7M369.5 32.1h.7M367.0 30.3h.7M369.2 33.7h.7M363.7 34.7h.7M361.1 32.5h.7M365.7 32.2h.7M362.0 30.1h.7M366.5 32.8h.7M363.7 30.3h.7M362.4 33.3h.7M363.4 29.7h.7M358.6 27.3h.7M360.7 26.8h.7M362.6 30.1h.7M360.9 29.8h.7M363.4 27.2h.7M365.5 25.3h.7M368.9 27.8h.7M363.7 29.9h.7M364.6 29.1h.7M365.1 27.6h.7M365.7 30.0h.7M364.6 32.6h.7M360.3 29.4h.7M361.5 30.4h.7M364.0 32.0h.7M364.2 30.3h.7M365.1 32.6h.7M366.2 34.6h.7M361.9 31.0h.7M359.9 29.3h.7M365.3 33.0h.7M362.2 31.5h.7M363.8 31.6h.7M364.2 29.7h.7M357.5 27.7h.7M364.7 30.4h.7M369.3 30.7h.7M366.1 28.3h.7M359.8 31.0h.7M368.2 31.4h.7M362.7 31.4h.7M365.3 31.5h.7M363.7 28.6h.7M360.5 29.6h.7M363.3 28.1h.7M367.9 31.7h.7M362.2 32.1h.7M370.2 31.1h.7M364.2 32.6h.7M359.9 29.5h.7M361.5 32.1h.7M359.0 31.2h.7M362.3 30.1h.7M362.1 33.4h.7M361.3 28.3h.7M364.5 29.5h.7M365.0 30.5h.7M363.7 30.7h.7M359.0 26.7h.7M369.1 28.4h.7M365.0 28.5h.7M363.4 30.1h.7M367.5 30.2h.7M359.4 27.9h.7M364.4 32.3h.7M369.0 34.7h.7M359.7 30.4h.7M360.3 31.1h.7M365.8 27.1h.7M365.9 32.0h.7M362.9 29.4h.7M368.1 30.3h.7M360.6 30.8h.7M366.4 31.9h.7M358.3 28.0h.7M362.5 30.9h.7M364.0 28.2h.7M366.1 31.5h.7M359.3 28.8h.7M363.3 27.7h.7M363.7 30.9h.7M362.4 31.7h.7M368.5 29.3h.7M364.9 29.7h.7M367.8 33.0h.7M363.6 29.4h.7M365.7 30.5h.7M360.3 28.7h.7M363.2 34.7h.7M366.6 33.2h.7M366.2 33.2h.7M367.7 28.5h.7M365.3 31.8h.7M365.0 31.4h.7M356.8 31.0h.7M359.9 32.4h.7M362.2 30.1h.7M363.4 26.7h.7M363.1 28.2h.7M366.2 29.6h.7M360.5 33.0h.7M362.8 28.7h.7M363.3 30.2h.7M364.2 28.7h.7M366.5 31.2h.7M368.0 31.7h.7M360.9 32.6h.7M362.9 30.8h.7M356.9 28.2h.7M367.3 32.7h.7M358.8 31.2h.7M364.5 33.0h.7M360.7 27.3h.7M364.5 29.4h.7M362.0 28.9h.7M367.0 29.0h.7M366.2 31.8h.7M361.9 32.5h.7M367.1 31.3h.7M363.0 32.1h.7M361.6 31.6h.7M367.8 28.1h.7M358.8 32.0h.7M361.3 29.8h.7M364.0 29.4h.7M364.0 28.8h.7M362.2 30.5h.7M365.1 29.8h.7M364.6 31.8h.7M365.0 30.4h.7M367.2 29.2h.7M366.5 32.5h.7M366.1 29.7h.7M366.3 31.6h.7M360.6 30.1h.7M360.1 31.4h.7M367.4 32.4h.7M361.0 28.7h.7M363.2 30.4h.7M365.7 30.0h.7M366.7 29.6h.7M366.5 27.9h.7M362.2 30.7h.7M365.9 31.7h.7M361.4 28.2h.7M363.6 30.5h.7M362.6 30.6h.7M360.1 31.6h.7M366.4 29.0h.7M361.4 33.0h.7M366.6 29.2h.7M361.9 27.3h.7M365.0 31.0h.7M363.8 34.9h.7M363.2 30.4h.7M364.4 30.3h.7M366.7 30.4h.7M364.0 34.9h.7M362.2 28.4h.7M364.1 29.5h.7M362.0 31.1h.7M366.0 27.8h.7M363.2 26.7h.7M366.2 28.7h.7M365.4 34.1h.7M367.3 31.4h.7M358.3 34.2h.7M362.5 32.1h.7M362.3 30.2h.7M368.0 27.5h.7M360.3 30.1h.7M366.5 25.9h.7M367.0 29.8h.7M365.5 35.6h.7M365.0 32.7h.7M367.3 30.0h.7M364.0 30.3h.7M364.2 30.0h.7M362.2 29.5h.7M365.7 28.1h.7M363.9 33.2h.7M359.9 27.3h.7M365.4 29.1h.7M361.6 31.8h.7M364.4 29.3h.7M362.7 27.8h.7M362.0 30.5h.7M365.1 31.7h.7M368.3 30.5h.7M366.3 31.1h.7M361.0 31.2h.7M364.6 31.9h.7M365.0 30.9h.7M361.2 30.0h.7M364.4 31.8h.7M365.8 31.3h.7M365.3 33.3h.7M364.2 29.6h.7M359.8 30.7h.7M365.3 29.9h.7M367.6 29.0h.7M362.6 30.5h.7M360.2 32.5h.7M361.5 28.3h.7M358.6 32.3h.7M367.0 28.6h.7M359.7 29.7h.7M363.5 29.5h.7M364.8 28.5h.7M369.1 31.2h.7M366.3 29.8h.7M366.1 33.7h.7M361.6 30.8h.7M366.3 31.4h.7M361.3 29.7h.7M365.2 31.2h.7M361.8 31.2h.7M357.6 30.7h.7M366.2 32.4h.7M362.4 31.1h.7M364.2 30.4h.7M361.4 27.8h.7M361.8 28.1h.7M357.7 32.7h.7M359.3 29.1h.7M361.4 26.9h.7M363.9 26.9h.7M367.7 27.4h.7M360.7 29.7h.7M362.5 30.1h.7M365.9 32.7h.7M369.5 28.3h.7M366.5 32.0h.7M362.9 28.2h.7M370.3 33.0h.7M358.9 33.7h.7M365.1 31.2h.7M366.0 29.6h.7M363.4 32.6h.7M360.6 28.1h.7M359.2 32.2h.7M360.9 30.0h.7M362.4 31.8h.7M364.7 29.1h.7M367.5 31.5h.7M364.6 29.8h.7M362.8 30.2h.7M363.7 31.5h.7M364.8 30.2h.7M363.3 32.0h.7M366.9 33.0h.7M363.6 28.2h.7M364.1 31.0h.7M363.9 31.6h.7M362.3 30.9h.7M357.4 34.0h.7M363.7 30.0h.7M365.1 30.2h.7M361.7 32.2h.7M363.8 29.3h.7M365.5 31.5h.7M364.7 30.0h.7M366.6 28.9h.7M365.9 33.5h.7M361.1 31.1h.7M358.7 30.7h.7M359.0 28.0h.7M364.1 32.7h.7M365.0 30.2h.7M361.5 30.6h.7M370.2 33.3h.7M360.0 29.2h.7M359.7 31.7h.7M362.8 27.6h.7M363.1 29.7h.7M360.7 29.9h.7M365.9 28.8h.7M362.6 27.8h.7M362.5 33.2h.7M365.1 29.2h.7M361.9 33.0h.7M363.2 29.6h.7M366.7 29.9h.7M361.7 31.4h.7M360.1 29.8h.7M361.6 31.0h.7M363.4 34.2h.7M365.6 30.8h.7M365.3 30.3h.7M364.5 31.9h.7M365.1 33.5h.7M365.4 29.4h.7M364.6 28.6h.7M369.3 27.2h.7M363.5 31.7h.7M361.3 29.9h.7M366.6 28.4h.7M366.3 30.3h.7M362.8 34.5h.7M365.9 31.5h.7M363.1 31.1h.7M363.3 34.2h.7M364.3 29.3h.7M362.4 31.5h.7M360.8 29.3h.7M359.4 26.3h.7M370.0 30.3h.7M368.6 31.8h.7M364.6 28.6h.7M363.7 31.1h.7M361.4 32.1h.7M367.2 31.7h.7M364.4 27.5h.7M371.4 32.2h.7M360.7 28.6h.7M362.0 28.9h.7M364.0 29.1h.7M364.2 29.9h.7M363.1 28.5h.7M364.3 31.3h.7M361.6 27.6h.7M364.0 27.3h.7M361.6 31.6h.7M367.2 30.2h.7M364.7 33.2h.7M360.9 29.9h.7M364.5 33.2h.7M360.5 28.4h.7M366.4 33.0h.7M362.0 30.8h.7M366.4 30.3h.7M358.5 31.1h.7M366.3 28.2h.7M367.2 30.0h.7M358.8 31.0h.7M359.5 33.3h.7M365.0 34.1h.7M359.1 30.9h.7M367.6 32.9h.7M365.4 31.3h.7M365.4 32.6h.7M368.6 27.2h.7M360.9 29.5h.7M364.2 31.4h.7M362.7 30.5h.7M365.7 32.9h.7M361.5 30.1h.7M363.8 35.4h.7M361.8 31.2h.7M363.8 29.8h.7M366.2 30.5h.7M362.3 30.7h.7M364.3 29.4h.7M361.6 32.7h.7M362.0 32.3h.7M363.1 28.9h.7M360.4 27.3h.7M365.4 31.8h.7M362.3 28.4h.7M361.9 30.7h.7M366.8 29.2h.7M358.8 30.9h.7M362.4 28.8h.7M358.2 31.5h.7M367.2 28.4h.7M359.2 29.3h.7M362.4 31.4h.7M363.5 27.0h.7M363.9 30.9h.7M361.7 30.9h.7M359.4 29.6h.7M359.4 30.3h.7M365.2 26.5h.7M363.2 31.7h.7M363.8 33.4h.7M363.0 34.5h.7M363.5 28.0h.7M362.8 29.0h.7M366.5 33.5h.7M367.9 31.9h.7M363.0 29.3h.7M360.3 31.7h.7M359.9 29.9h.7M364.0 31.3h.7M359.5 28.0h.7M360.1 32.1h.7M360.2 28.7h.7M365.0 32.2h.7M368.5 30.4h.7M366.0 27.1h.7M365.2 32.2h.7M366.1 29.6h.7M367.4 33.7h.7M363.6 30.7h.7M362.6 30.0h.7M363.6 28.1h.7M359.8 30.0h.7M362.1 32.4h.7M362.9 28.7h.7M358.7 29.9h.7M360.6 27.1h.7M368.7 26.8h.7M368.1 36.5h.7M363.9 29.7h.7M365.4 28.9h.7M364.1 32.1h.7M360.2 33.6h.7M363.8 31.2h.7M367.3 27.9h.7M360.2 31.2h.7M364.7 30.2h.7M363.3 30.2h.7M361.0 28.1h.7M361.6 30.8h.7M364.8 28.2h.7M368.3 35.1h.7M364.2 29.1h.7M363.1 32.1h.7M363.3 34.2h.7M362.8 32.4h.7M364.9 34.9h.7M364.7 31.5h.7M361.3 30.1h.7M360.0 36.8h.7M363.8 30.2h.7M363.7 31.4h.7M365.2 27.2h.7M367.1 30.8h.7M363.5 34.1h.7M364.4 29.1h.7M361.3 32.1h.7M363.8 30.9h.7M360.1 31.0h.7M361.8 29.1h.7M367.2 31.2h.7M362.9 32.5h.7M368.8 27.7h.7M366.2 31.1h.7M363.4 33.3h.7M366.0 29.8h.7M367.1 30.3h.7M363.6 28.1h.7M363.8 31.8h.7M362.8 30.7h.7M367.1 30.3h.7M361.9 33.9h.7M361.7 26.0h.7M360.1 30.1h.7M360.3 28.4h.7M362.3 30.3h.7M362.9 30.6h.7M366.6 37.0h.7M366.9 31.9h.7M361.8 30.8h.7M360.8 30.6h.7M360.7 32.7h.7M369.4 32.5h.7M371.0 28.5h.7M366.1 30.4h.7M364.1 28.6h.7M363.5 30.5h.7M361.7 32.8h.7M365.7 32.9h.7M362.2 29.4h.7M360.5 32.2h.7M366.3 30.6h.7M361.7 30.8h.7M365.0 31.7h.7M363.0 32.8h.7M367.2 28.9h.7M364.5 30.8h.7M360.1 29.6h.7M364.4 32.9h.7M361.7 29.9h.7M363.1 29.8h.7M359.7 32.3h.7M363.0 31.5h.7M365.5 29.8h.7M361.0 29.3h.7M362.3 29.0h.7M362.8 27.9h.7M362.4 29.5h.7M364.3 31.6h.7M368.6 32.9h.7M365.6 30.7h.7M363.9 31.4h.7M363.1 30.8h.7M361.4 31.4h.7M361.3 29.8h.7M362.3 35.6h.7M364.1 32.6h.7M360.4 31.8h.7M363.0 32.5h.7M362.7 28.5h.7M365.9 30.8h.7M360.2 30.5h.7M361.2 32.1h.7M364.0 31.4h.7M361.2 33.3h.7M362.2 31.3h.7M363.2 30.9h.7M360.5 30.9h.7M364.9 28.3h.7M366.6 28.8h.7M362.3 29.5h.7M367.0 29.8h.7M362.6 31.4h.7M364.2 32.9h.7M362.7 29.6h.7M361.6 29.2h.7M365.7 31.7h.7M362.9 30.5h.7M357.8 32.3h.7M365.0 26.7h.7M362.3 30.5h.7M367.7 31.2h.7M367.2 33.7h.7M365.8 28.9h.7M360.2 30.2h.7M365.9 31.6h.7M360.3 32.1h.7M361.4 30.0h.7M366.6 31.0h.7M362.4 29.3h.7M364.0 31.3h.7M363.4 29.3h.7M365.1 32.4h.7M360.8 32.0h.7M362.2 30.3h.7M366.4 28.4h.7M363.5 34.0h.7M367.8 29.7h.7M360.9 33.2h.7M364.5 31.3h.7M359.7 31.0h.7M363.6 28.9h.7M371.1 31.2h.7M370.5 29.4h.7M367.9 28.8h.7M371.5 28.6h.7M363.9 28.6h.7M369.3 28.5h.7M367.4 27.2h.7M365.5 27.3h.7M364.4 28.9h.7M368.2 32.2h.7M368.2 27.6h.7M364.5 27.0h.7M366.6 27.8h.7M366.4 27.5h.7M370.3 28.8h.7M368.5 28.8h.7M371.9 27.1h.7M368.1 31.4h.7M366.9 30.8h.7M366.9 31.1h.7M367.0 32.1h.7M363.6 30.6h.7M366.0 28.8h.7M368.4 28.5h.7M365.6 30.3h.7M364.6 29.0h.7M369.4 28.2h.7M369.8 27.8h.7M367.6 29.5h.7M363.9 30.6h.7M363.9 31.5h.7M370.4 28.4h.7M367.2 29.1h.7M363.8 28.0h.7M366.8 29.3h.7M369.8 28.6h.7M365.7 30.4h.7M368.7 29.0h.7M367.5 28.5h.7M366.6 26.1h.7M363.1 30.6h.7M365.6 27.7h.7M368.1 32.5h.7M369.3 30.0h.7M367.1 32.2h.7M371.0 29.8h.7M366.4 29.6h.7M368.3 29.2h.7M366.0 28.5h.7M363.8 29.0h.7M367.7 27.4h.7M365.1 30.8h.7M365.2 29.9h.7M364.5 26.3h.7M367.7 30.2h.7M367.4 29.2h.7M370.1 28.8h.7M365.1 29.6h.7M369.2 29.7h.7M369.1 31.5h.7M365.1 29.0h.7M366.2 30.1h.7M363.2 30.7h.7M363.7 29.8h.7M366.1 28.5h.7M368.0 27.3h.7M368.1 28.7h.7M363.7 30.7h.7M364.1 30.1h.7M365.9 28.6h.7M369.8 29.6h.7M366.3 30.5h.7M365.7 31.6h.7M365.4 30.0h.7M365.5 30.2h.7M364.8 29.0h.7M368.3 27.2h.7M366.3 29.8h.7M365.6 28.6h.7M368.2 30.4h.7M363.2 27.8h.7M360.9 29.0h.7M368.0 27.8h.7M363.9 29.7h.7M365.4 32.1h.7M369.8 26.3h.7M368.1 30.0h.7M368.1 29.0h.7M363.4 29.2h.7M365.4 31.7h.7M367.8 30.9h.7M364.3 29.0h.7M366.0 27.7h.7M365.5 26.7h.7M366.7 27.6h.7M366.7 29.5h.7M365.8 27.9h.7M368.2 30.1h.7M365.3 30.5h.7M360.6 29.1h.7M367.4 28.9h.7M362.8 28.9h.7M368.5 29.4h.7M363.6 29.1h.7M370.3 30.9h.7M369.8 28.9h.7M368.2 29.0h.7M366.4 27.5h.7M366.7 30.6h.7M366.9 26.3h.7M367.9 27.5h.7M367.8 27.9h.7M370.1 28.8h.7M369.0 27.0h.7M366.3 29.3h.7M363.6 28.3h.7M365.5 29.3h.7M366.8 26.6h.7M369.2 30.0h.7M365.3 30.6h.7M366.2 28.2h.7M363.7 25.2h.7M367.3 30.8h.7M368.1 30.1h.7M371.0 26.9h.7M368.3 32.2h.7M366.5 32.1h.7M366.1 28.4h.7M362.6 30.1h.7M368.7 30.1h.7M367.4 30.4h.7M366.5 26.7h.7M367.6 30.1h.7M372.9 28.6h.7M367.2 26.6h.7M363.0 27.5h.7M370.1 29.5h.7M367.0 28.5h.7M367.4 30.6h.7M368.2 29.1h.7M367.3 29.8h.7M368.4 29.8h.7M366.3 27.1h.7M367.1 29.3h.7M366.6 28.6h.7M364.3 30.8h.7M365.3 29.1h.7M365.7 27.2h.7M368.2 26.8h.7M366.7 28.5h.7M366.7 27.6h.7M368.9 31.1h.7M368.2 28.4h.7M363.7 32.2h.7M362.4 27.3h.7M367.4 29.9h.7M364.1 29.8h.7M363.6 30.2h.7M367.6 29.1h.7M369.1 29.6h.7M361.6 30.4h.7M367.4 30.6h.7M366.3 30.3h.7M366.1 29.9h.7M368.8 28.4h.7M365.5 29.3h.7M368.6 29.8h.7M367.2 30.3h.7M367.7 27.7h.7M369.8 31.2h.7M369.2 26.7h.7M369.6 27.6h.7M366.9 29.0h.7M370.5 30.7h.7M366.9 30.0h.7M365.6 27.6h.7M368.3 30.4h.7M367.0 31.6h.7M370.9 28.6h.7M367.5 30.1h.7M362.8 31.1h.7M369.2 29.9h.7M367.0 28.8h.7M370.1 28.4h.7M367.9 29.2h.7M369.9 31.6h.7M367.4 29.4h.7M364.4 27.8h.7M367.8 30.0h.7M367.1 27.5h.7M364.9 25.0h.7M366.5 25.4h.7M362.5 27.6h.7M368.8 27.3h.7M367.9 31.9h.7M368.1 29.9h.7M363.9 28.5h.7M362.8 29.9h.7M367.7 31.1h.7M366.6 29.5h.7M364.6 29.7h.7M369.2 29.8h.7M368.4 29.2h.7M367.7 29.3h.7M364.8 29.0h.7M368.3 29.6h.7M366.5 27.8h.7M367.9 28.4h.7M366.3 30.1h.7M369.1 28.3h.7M365.9 30.3h.7M366.1 31.7h.7M368.9 29.3h.7M364.4 30.4h.7M367.2 26.9h.7M364.8 28.9h.7M368.2 26.2h.7M366.4 29.3h.7M371.5 29.5h.7M367.1 29.0h.7M367.4 30.0h.7M366.2 29.8h.7M370.7 28.7h.7M368.0 32.0h.7M365.0 29.1h.7M365.3 30.4h.7M369.1 29.8h.7M366.6 29.0h.7M367.1 30.8h.7M367.6 31.4h.7M371.1 28.7h.7M370.5 31.2h.7M366.7 25.7h.7M364.6 30.3h.7M362.7 31.1h.7M364.9 29.5h.7M365.3 28.5h.7M367.2 27.3h.7M366.1 28.3h.7M368.3 27.6h.7M371.2 31.7h.7M364.0 27.2h.7M365.5 29.6h.7M368.0 30.1h.7M368.5 29.0h.7M364.1 27.7h.7M365.8 27.9h.7M371.9 28.5h.7M369.4 30.3h.7M364.9 27.2h.7M366.0 29.6h.7M366.0 30.8h.7M365.4 28.2h.7M367.4 32.1h.7M368.5 31.9h.7M365.9 30.9h.7M367.9 32.9h.7M366.1 29.6h.7M365.1 27.6h.7M368.6 30.2h.7M364.9 30.8h.7M366.9 29.4h.7M371.2 30.6h.7M369.7 31.8h.7M368.0 29.1h.7M370.5 32.1h.7M364.1 28.3h.7M365.6 28.3h.7M370.2 29.1h.7M366.8 29.9h.7M368.7 29.6h.7M368.2 27.5h.7M367.6 28.4h.7M367.3 31.5h.7M368.1 29.4h.7M370.1 32.2h.7M368.6 28.5h.7M370.5 29.6h.7M365.2 30.2h.7M365.7 28.5h.7M364.4 27.8h.7M368.3 25.5h.7M368.1 30.4h.7M368.3 29.1h.7M364.1 29.1h.7M368.1 31.1h.7M366.9 26.2h.7M365.0 27.5h.7M368.0 29.6h.7M366.9 28.7h.7M362.6 28.6h.7M368.8 27.5h.7M364.5 26.9h.7M365.5 29.4h.7M362.4 29.5h.7M364.2 32.3h.7M365.7 29.5h.7M362.6 30.4h.7M366.7 28.4h.7M369.8 28.9h.7M365.7 31.2h.7M365.6 30.0h.7M365.2 27.4h.7M370.0 29.7h.7M368.9 30.5h.7M366.9 29.9h.7M365.7 28.4h.7M367.5 26.0h.7M366.5 27.6h.7M366.6 27.5h.7M369.5 30.1h.7M365.2 30.1h.7M362.4 26.9h.7M367.9 31.6h.7M366.6 30.3h.7M367.2 31.6h.7M365.6 26.8h.7M365.0 29.3h.7M368.0 28.2h.7M369.2 26.9h.7M367.2 27.6h.7M365.8 28.3h.7M369.1 31.5h.7M361.9 28.6h.7M367.4 27.8h.7M366.4 29.0h.7M368.5 28.0h.7M368.5 28.9h.7M366.9 28.2h.7M366.5 29.3h.7M372.3 30.7h.7M367.7 29.4h.7M365.2 30.9h.7M364.3 28.1h.7M368.7 28.4h.7M364.8 33.3h.7M364.6 28.7h.7M363.9 29.5h.7M369.1 33.1h.7M369.7 30.1h.7M366.9 31.0h.7M366.8 30.2h.7M363.9 30.2h.7M364.0 28.8h.7M363.0 27.4h.7M370.3 29.7h.7M364.8 31.1h.7M362.4 29.2h.7M364.1 30.2h.7M368.8 28.8h.7M366.0 28.2h.7M369.1 29.6h.7M371.2 29.8h.7M367.3 27.8h.7M364.6 30.3h.7M366.3 30.8h.7M368.3 28.4h.7M366.0 30.9h.7M369.0 30.6h.7M365.1 29.6h.7M365.3 32.8h.7M366.3 29.3h.7M366.4 28.0h.7M368.2 28.5h.7M367.2 30.1h.7M367.1 28.8h.7M368.5 29.3h.7M364.3 25.9h.7M364.1 29.3h.7M369.6 28.2h.7M367.0 27.5h.7M368.4 31.8h.7M364.7 29.2h.7M371.3 28.5h.7M364.9 29.2h.7M367.5 28.8h.7M366.7 30.9h.7M364.8 30.9h.7M365.4 30.6h.7M369.6 29.4h.7M365.8 27.5h.7M363.7 30.2h.7M363.0 29.1h.7M365.8 30.6h.7M365.5 31.1h.7M366.4 32.3h.7M366.0 28.6h.7M364.6 30.9h.7M365.8 30.6h.7M365.9 27.1h.7M369.8 31.0h.7M365.9 30.6h.7M362.6 30.3h.7M366.1 29.6h.7M366.2 29.4h.7M366.3 28.4h.7M366.5 29.5h.7M368.7 29.5h.7M365.4 28.9h.7M366.0 32.0h.7M364.0 29.5h.7M364.3 30.0h.7M365.5 29.2h.7M365.5 30.5h.7M369.5 30.1h.7M368.6 29.8h.7M360.1 27.6h.7M367.4 28.5h.7M363.5 26.1h.7M365.1 31.6h.7M364.7 30.9h.7M365.0 30.3h.7M367.8 27.8h.7M365.1 28.1h.7M368.0 26.8h.7M366.5 28.1h.7M370.4 27.2h.7M367.5 29.4h.7M369.8 30.6h.7M363.3 31.7h.7M365.8 29.9h.7M361.5 31.4h.7M366.9 29.3h.7M365.8 31.0h.7M360.4 28.8h.7M364.6 28.9h.7M369.9 27.6h.7M366.2 27.2h.7M368.3 28.9h.7M369.2 31.8h.7M361.6 26.2h.7M365.1 29.2h.7M364.8 30.0h.7M366.5 27.0h.7M366.6 27.6h.7M363.8 28.7h.7M365.9 30.1h.7M363.3 26.6h.7M368.0 28.7h.7M366.3 28.7h.7M363.1 27.2h.7M367.3 29.3h.7M366.2 30.3h.7M370.0 28.9h.7M368.2 30.7h.7M366.5 28.9h.7M364.2 30.8h.7M367.7 29.3h.7M365.3 30.7h.7M363.2 30.2h.7M369.2 29.0h.7M364.5 27.6h.7M368.5 28.9h.7M368.4 28.1h.7M364.1 33.4h.7M364.7 30.3h.7M369.2 29.2h.7M367.5 29.8h.7M370.8 29.3h.7M368.2 31.9h.7M364.8 27.6h.7M367.4 29.1h.7M369.3 30.7h.7M367.2 30.6h.7M366.8 33.4h.7M369.9 29.4h.7M373.0 29.9h.7M369.3 28.3h.7M364.9 32.2h.7M366.5 28.2h.7M365.7 30.8h.7M366.3 28.1h.7M361.6 28.3h.7M367.7 28.7h.7M365.8 32.6h.7M368.5 28.7h.7M368.4 28.0h.7M368.5 31.8h.7M366.7 31.4h.7M366.2 27.5h.7M366.5 29.1h.7M369.0 29.6h.7M365.6 28.8h.7M367.0 30.1h.7M364.8 28.4h.7M366.8 27.9h.7M369.4 29.3h.7M364.5 28.1h.7M369.4 28.6h.7M364.8 30.3h.7M369.3 26.8h.7M367.4 31.9h.7M371.7 30.9h.7M368.4 27.5h.7M368.5 28.5h.7M366.2 30.3h.7M365.3 28.6h.7M371.0 30.3h.7M363.3 28.1h.7M362.8 33.9h.7M363.0 33.1h.7M365.1 34.8h.7M365.3 34.3h.7M364.9 32.1h.7M366.7 34.3h.7M363.6 31.0h.7M365.2 35.8h.7M365.4 31.4h.7M364.1 31.5h.7M364.3 35.1h.7M365.2 33.6h.7M363.9 32.6h.7M365.1 30.0h.7M364.0 29.6h.7M366.7 31.9h.7M366.5 30.9h.7M368.0 35.7h.7M365.2 33.1h.7M364.3 32.9h.7M366.6 35.1h.7M366.6 33.1h.7M364.4 30.4h.7M361.3 33.2h.7M363.7 33.6h.7M364.5 32.9h.7M364.7 29.6h.7M364.3 34.0h.7M364.7 34.1h.7M360.8 34.1h.7M365.8 34.8h.7M365.2 34.6h.7M366.5 33.1h.7M364.6 34.5h.7M362.3 34.1h.7M363.4 32.3h.7M363.5 33.7h.7M362.6 35.5h.7M363.8 31.8h.7M367.6 34.1h.7M361.8 33.1h.7M366.4 36.6h.7M366.7 33.9h.7M369.6 34.5h.7M361.8 36.8h.7M367.6 36.1h.7M369.4 36.5h.7M365.1 34.6h.7M363.6 34.4h.7M363.6 31.8h.7M362.2 33.2h.7M366.1 33.1h.7M361.8 31.2h.7M364.6 33.0h.7M363.8 31.1h.7M368.0 34.5h.7M365.5 34.0h.7M362.8 35.7h.7M363.9 33.0h.7M363.7 31.0h.7M365.0 32.0h.7M364.8 34.3h.7M367.9 31.5h.7M367.7 37.5h.7M364.0 33.9h.7M367.0 32.2h.7M368.0 31.6h.7M366.0 34.2h.7M363.3 31.9h.7M364.9 32.9h.7M364.4 32.8h.7M366.3 34.5h.7M365.2 34.4h.7M365.6 36.4h.7M365.1 34.2h.7M363.8 31.0h.7M363.6 33.0h.7M362.5 35.3h.7M363.1 33.6h.7M363.7 33.8h.7M366.4 36.6h.7M362.7 35.2h.7M363.8 36.2h.7M362.4 31.9h.7M364.8 36.0h.7M365.1 35.8h.7M365.6 35.4h.7M364.7 33.1h.7M365.1 33.7h.7M364.1 32.8h.7M361.4 29.8h.7M363.3 32.2h.7M362.5 37.0h.7M362.9 33.9h.7M366.5 32.3h.7M365.8 33.6h.7M363.1 34.9h.7M366.9 39.4h.7M367.0 32.1h.7M367.0 31.0h.7M364.3 28.8h.7M366.3 34.1h.7M368.3 36.2h.7M364.2 34.7h.7M366.5 32.5h.7M363.7 33.6h.7M361.0 28.9h.7M365.1 33.3h.7M363.9 37.9h.7M365.3 36.1h.7M365.5 33.8h.7M364.1 30.7h.7M365.0 32.7h.7M366.3 32.6h.7M363.5 33.6h.7M361.9 31.5h.7M364.9 33.1h.7M364.3 33.8h.7M365.4 38.7h.7M364.8 32.2h.7M366.9 35.0h.7M364.6 36.7h.7M361.7 33.8h.7M364.3 34.3h.7M365.6 34.6h.7M366.4 32.8h.7M364.0 35.4h.7M365.0 33.1h.7M363.2 33.4h.7M362.8 36.3h.7M370.0 36.1h.7M363.7 35.6h.7M362.2 34.5h.7M364.8 35.7h.7M364.1 34.1h.7M367.1 34.0h.7M367.8 33.9h.7M364.9 36.9h.7M364.5 33.9h.7M363.9 32.1h.7M367.6 35.2h.7M363.1 32.5h.7M365.1 35.7h.7M366.3 35.1h.7M362.9 37.4h.7M364.1 33.9h.7M364.5 36.2h.7M365.5 35.2h.7M364.8 33.2h.7M365.4 35.0h.7M366.5 35.6h.7M366.7 30.3h.7M365.3 34.8h.7M366.9 33.1h.7M362.6 30.3h.7M363.4 30.4h.7M364.8 35.7h.7M363.0 31.9h.7M363.8 31.4h.7M367.0 32.1h.7M366.6 33.3h.7M362.3 32.4h.7M364.1 30.7h.7M363.3 34.7h.7M364.8 28.2h.7M366.3 34.9h.7M365.6 39.4h.7M361.4 33.3h.7M366.3 30.1h.7M366.3 33.3h.7M362.7 36.3h.7M366.2 31.9h.7M364.8 31.0h.7M369.5 32.1h.7M365.3 33.1h.7M367.8 34.9h.7M365.6 35.5h.7M364.8 35.5h.7M368.4 38.6h.7M360.7 33.3h.7M366.8 34.9h.7M367.7 34.4h.7M367.0 32.1h.7M362.8 30.1h.7M366.3 35.1h.7M367.9 34.9h.7M366.1 32.9h.7M367.7 35.1h.7M365.5 37.5h.7M362.7 34.1h.7M365.2 34.8h.7M365.9 35.5h.7M362.2 33.3h.7M363.3 33.5h.7M362.3 34.3h.7M365.7 37.1h.7M361.7 30.8h.7M364.5 33.3h.7M361.4 30.6h.7M363.8 34.5h.7M365.6 33.7h.7M368.0 36.9h.7M366.1 34.4h.7M366.5 34.4h.7M368.3 32.0h.7M364.6 33.5h.7M365.5 32.6h.7M361.6 32.6h.7M367.8 33.4h.7M366.1 35.4h.7M365.3 33.1h.7M364.8 36.7h.7M365.9 34.4h.7M364.6 34.0h.7M367.5 36.8h.7M365.6 34.5h.7M367.7 37.4h.7M366.2 32.7h.7M360.7 30.5h.7M364.7 34.4h.7M364.5 32.4h.7M367.0 34.0h.7M363.6 31.3h.7M366.3 33.2h.7M365.8 34.6h.7M365.3 33.9h.7M365.8 31.7h.7M366.0 33.2h.7M364.0 33.5h.7M364.3 33.9h.7M363.9 37.7h.7M362.1 33.4h.7M363.8 30.9h.7M365.5 36.5h.7M363.9 36.1h.7M362.2 33.3h.7M363.0 30.6h.7M363.3 31.7h.7M365.4 36.9h.7M366.4 37.1h.7M364.6 32.4h.7M367.7 37.2h.7M363.4 33.2h.7M366.3 34.1h.7M362.9 34.3h.7M361.8 37.8h.7M365.9 31.8h.7M367.1 36.9h.7M367.4 34.7h.7M362.6 31.7h.7M368.5 34.0h.7M363.5 32.6h.7M361.9 32.2h.7M365.4 32.6h.7M368.3 32.6h.7M367.2 35.2h.7M368.1 35.1h.7M361.4 30.6h.7M365.3 32.1h.7M367.2 31.0h.7M366.4 33.3h.7M365.8 35.6h.7M361.1 31.7h.7M365.7 34.1h.7M362.3 32.1h.7M364.7 32.8h.7M366.0 37.1h.7M366.0 31.4h.7M363.1 34.7h.7M366.8 32.8h.7M363.9 29.1h.7M367.3 34.1h.7M364.0 34.9h.7M365.8 36.6h.7M363.2 33.8h.7M363.0 33.3h.7M364.0 30.7h.7M363.1 34.4h.7M363.5 33.3h.7M360.5 33.5h.7M360.2 31.8h.7M365.2 38.1h.7M365.4 32.1h.7M364.0 34.2h.7M365.7 33.2h.7M366.6 35.4h.7M363.5 33.8h.7M366.0 31.5h.7M363.3 33.8h.7M364.5 35.2h.7M366.1 33.1h.7M366.9 34.3h.7M366.4 39.6h.7M363.6 30.4h.7M366.7 32.9h.7M363.7 35.6h.7M364.3 29.0h.7M367.5 33.7h.7M363.3 34.0h.7M365.2 32.2h.7M366.5 31.7h.7M365.4 33.1h.7M366.1 35.0h.7M363.3 32.3h.7M368.2 36.1h.7M366.6 36.0h.7M365.5 31.0h.7M364.2 33.2h.7M365.2 29.6h.7M367.8 33.1h.7M366.4 29.7h.7M365.6 32.2h.7M367.2 32.7h.7M367.3 36.6h.7M362.9 31.4h.7M363.6 33.4h.7M365.5 32.0h.7M364.1 33.3h.7M366.0 32.3h.7M365.5 34.8h.7M366.8 32.7h.7M367.3 37.1h.7M365.7 34.0h.7M366.0 33.2h.7M364.9 35.6h.7M364.5 33.3h.7M364.8 34.1h.7M367.0 36.2h.7M362.6 33.4h.7M364.9 35.4h.7M367.1 33.6h.7M364.2 29.9h.7M366.1 35.0h.7M365.0 31.3h.7M364.8 32.9h.7M363.5 33.1h.7M362.0 31.6h.7M359.7 33.1h.7M368.3 30.9h.7M365.8 33.8h.7M364.0 35.1h.7M362.3 33.7h.7M363.9 33.1h.7M361.6 32.6h.7M365.8 33.9h.7M361.4 35.0h.7M365.5 34.4h.7M366.3 32.8h.7M366.8 34.8h.7M364.3 33.4h.7M366.5 38.5h.7M363.8 28.0h.7M365.5 32.1h.7M364.4 32.6h.7M365.9 34.1h.7M363.3 32.6h.7M363.4 32.8h.7M364.5 35.2h.7M362.2 35.5h.7M362.9 34.2h.7M369.7 34.4h.7M367.5 34.8h.7M364.1 36.2h.7M362.2 34.4h.7M364.6 35.3h.7M366.7 35.2h.7M364.9 35.9h.7M362.7 35.3h.7M367.3 33.3h.7M365.5 35.0h.7M367.6 34.8h.7M364.7 33.1h.7M363.3 30.0h.7M367.8 36.8h.7M366.7 33.5h.7M367.1 37.1h.7M365.1 34.8h.7M362.7 34.0h.7M368.3 36.8h.7M367.1 35.6h.7M364.2 31.7h.7M363.7 33.4h.7M364.5 35.2h.7M362.5 34.7h.7M362.3 33.1h.7M364.7 35.6h.7M364.4 33.4h.7M365.6 32.7h.7M367.3 33.7h.7M365.0 35.9h.7M365.4 33.6h.7M366.9 35.6h.7M364.5 36.8h.7M364.1 36.5h.7M367.2 34.6h.7M364.6 35.2h.7M361.4 30.4h.7M367.5 33.1h.7M366.2 35.7h.7M363.5 35.7h.7M362.5 33.2h.7M364.7 29.7h.7M367.4 31.3h.7M362.7 34.8h.7M362.6 33.6h.7M363.9 32.4h.7M363.1 32.4h.7M364.9 34.4h.7M363.4 35.2h.7M364.8 34.9h.7M363.7 30.9h.7M369.6 33.4h.7M367.7 35.7h.7M364.9 32.8h.7M364.1 35.8h.7M363.7 34.6h.7M364.3 33.0h.7M364.1 31.3h.7M366.5 36.0h.7M366.1 32.3h.7M363.7 32.0h.7M366.5 33.2h.7M363.9 34.0h.7M365.5 34.0h.7M366.3 32.2h.7M367.9 33.3h.7M363.1 35.8h.7M363.0 33.3h.7M363.1 36.1h.7M365.9 36.6h.7M364.8 31.1h.7M368.4 37.4h.7M364.9 34.4h.7M364.3 30.4h.7M364.0 30.9h.7M365.1 33.6h.7M366.4 37.6h.7M366.5 33.5h.7M363.6 36.3h.7M359.7 28.7h.7M361.3 36.1h.7M360.9 32.7h.7M367.6 34.1h.7M361.1 33.0h.7M364.6 34.4h.7M363.4 32.5h.7M366.7 34.1h.7M363.4 34.1h.7M366.3 36.2h.7M367.6 31.4h.7M365.3 31.0h.7M365.0 39.2h.7M365.5 34.3h.7M363.4 32.6h.7M366.0 35.6h.7M365.6 38.4h.7M361.8 34.8h.7M361.7 35.3h.7M365.1 31.9h.7M364.6 32.1h.7M365.6 30.6h.7M366.5 35.4h.7M364.4 33.8h.7M367.0 37.3h.7M365.7 34.8h.7M361.4 31.2h.7M365.1 32.9h.7M362.6 33.2h.7M367.7 36.8h.7M361.2 33.3h.7M363.4 35.1h.7M364.3 33.8h.7M365.6 32.7h.7M362.1 29.7h.7M366.1 32.6h.7M364.3 35.0h.7M365.3 36.0h.7M362.9 36.3h.7M365.7 35.4h.7M369.6 36.1h.7M364.9 34.8h.7M365.6 35.1h.7M364.5 35.1h.7M367.8 32.6h.7M366.5 33.9h.7M366.5 33.6h.7M367.9 35.3h.7M364.3 33.0h.7M365.2 35.8h.7M366.2 37.1h.7M364.6 33.7h.7M366.2 39.3h.7M365.3 36.2h.7M367.7 31.5h.7M364.5 34.4h.7M365.1 35.5h.7M366.4 32.0h.7M363.3 32.0h.7M358.6 28.5h.7M364.9 32.8h.7M356.1 29.5h.7M361.6 29.7h.7M367.8 31.2h.7M352.7 33.6h.7M367.8 36.1h.7M365.4 31.8h.7M369.0 33.3h.7M362.4 33.3h.7M359.5 32.5h.7M356.7 31.6h.7M372.2 29.2h.7M360.8 30.7h.7M365.0 27.5h.7M359.0 30.0h.7M360.3 27.1h.7M366.8 34.0h.7M369.7 32.3h.7M358.6 27.9h.7M359.7 26.5h.7M360.1 32.9h.7M362.7 30.5h.7M359.9 35.5h.7M363.4 33.6h.7M377.1 29.7h.7M368.2 34.0h.7M360.7 31.9h.7M361.1 29.7h.7M368.2 30.4h.7M354.3 35.7h.7M364.7 29.2h.7M361.2 33.1h.7M361.3 32.1h.7M368.2 31.8h.7M365.3 32.5h.7M363.7 29.0h.7M368.0 29.4h.7M363.4 26.9h.7M362.6 32.4h.7M359.5 29.5h.7M370.5 34.4h.7M360.2 34.2h.7M363.2 34.1h.7M360.7 32.9h.7M365.5 31.3h.7M361.0 37.0h.7M361.8 34.9h.7M362.0 29.6h.7M364.6 26.6h.7M360.9 32.9h.7M356.1 29.2h.7M362.6 32.7h.7M368.4 34.5h.7M363.4 25.7h.7M364.2 31.9h.7M362.0 32.2h.7M358.4 34.1h.7M363.5 27.6h.7M362.7 33.4h.7M363.0 30.9h.7M367.0 31.7h.7M362.1 31.7h.7M362.2 29.8h.7M361.2 33.5h.7M365.8 31.7h.7M357.6 31.7h.7M366.1 34.1h.7M358.2 33.5h.7M365.8 33.4h.7M370.0 22.5h.7M360.1 28.9h.7M370.2 31.7h.7M368.7 31.1h.7M363.7 30.4h.7M367.0 29.9h.7M363.5 34.0h.7M362.0 27.1h.7M356.6 29.3h.7M370.5 29.6h.7M364.8 34.5h.7M360.8 32.5h.7M360.4 33.3h.7M366.0 28.2h.7M363.8 30.2h.7M365.8 34.7h.7M363.1 28.8h.7M359.2 34.9h.7M366.4 33.1h.7M362.7 30.1h.7M365.9 34.1h.7M372.3 34.3h.7M363.7 38.3h.7M354.4 30.4h.7M368.0 31.8h.7M362.8 33.2h.7M370.9 31.4h.7M372.1 30.0h.7M359.8 28.8h.7M361.1 27.0h.7M364.3 34.1h.7M362.3 28.8h.7M361.8 32.1h.7M358.2 31.6h.7M372.0 31.3h.7M361.1 29.0h.7M368.5 30.3h.7M363.4 37.6h.7M362.2 33.6h.7M365.6 30.1h.7M359.2 37.6h.7M369.0 31.6h.7M373.6 30.5h.7M362.7 28.6h.7M364.1 33.0h.7M361.5 30.6h.7M358.8 28.3h.7M359.9 34.6h.7M363.2 32.1h.7M369.3 34.7h.7M365.3 34.1h.7M361.1 30.3h.7M370.7 36.6h.7M366.8 36.3h.7M363.8 32.2h.7M362.9 27.3h.7M357.0 31.4h.7M358.3 30.2h.7M370.1 31.8h.7M361.1 33.3h.7M363.8 30.0h.7M357.2 33.6h.7M365.9 41.0h.7M363.5 43.7h.7M364.6 39.1h.7M366.6 41.7h.7M367.0 51.5h.7M365.1 44.0h.7M365.7 42.3h.7M366.5 41.6h.7M364.7 37.0h.7M366.1 48.1h.7M367.3 44.0h.7M365.1 35.1h.7M366.1 49.0h.7M366.5 45.4h.7M368.6 45.1h.7M364.0 41.5h.7M366.6 45.5h.7M369.9 46.1h.7M367.0 41.0h.7M364.0 49.3h.7M367.3 34.7h.7M366.8 49.1h.7M368.6 46.2h.7M364.9 42.9h.7M367.1 38.3h.7M366.6 44.7h.7M364.9 37.2h.7M365.6 51.0h.7M366.9 52.3h.7M363.0 46.7h.7M365.0 50.5h.7M366.1 56.3h.7M364.7 45.6h.7M361.1 56.0h.7M364.1 38.5h.7M366.5 56.1h.7M364.9 51.3h.7M364.1 52.5h.7M366.6 51.4h.7M367.1 44.9h.7M365.4 50.1h.7M367.4 53.6h.7M367.1 45.4h.7M366.3 43.7h.7M365.6 48.4h.7M367.2 47.2h.7M365.4 48.3h.7M363.7 49.0h.7M367.0 41.2h.7M365.4 51.6h.7M367.7 45.4h.7M366.8 30.3h.7M367.5 55.8h.7M364.7 30.6h.7M366.2 52.3h.7M365.3 53.1h.7M367.0 45.9h.7M367.2 53.0h.7M366.4 37.7h.7M363.3 32.6h.7M363.4 52.1h.7M367.4 38.7h.7M367.8 39.2h.7M366.6 46.7h.7M364.8 43.1h.7M364.7 43.6h.7M367.4 39.7h.7M366.9 38.3h.7M368.7 39.0h.7M363.5 41.9h.7M365.3 42.7h.7M366.2 35.3h.7M368.4 41.3h.7M365.2 40.0h.7M365.3 51.8h.7M365.7 47.8h.7M370.5 54.0h.7M366.9 37.0h.7M367.3 51.6h.7M365.9 35.0h.7M365.5 39.5h.7M367.9 48.3h.7M366.4 40.1h.7M364.7 49.6h.7M367.4 54.5h.7M366.4 45.2h.7M367.0 39.5h.7M365.6 41.4h.7M367.4 37.6h.7M364.8 44.3h.7M366.6 44.2h.7M366.4 43.3h.7M363.9 44.5h.7M368.1 45.2h.7M365.8 46.3h.7M366.6 45.5h.7M363.3 50.0h.7M368.9 41.0h.7M364.9 46.7h.7M365.3 32.2h.7M369.4 40.7h.7M368.3 43.7h.7M365.0 36.6h.7M365.8 46.3h.7M368.3 46.3h.7M365.7 45.5h.7M364.6 49.0h.7M367.9 46.2h.7M366.6 46.4h.7M365.1 54.7h.7M364.4 49.4h.7M367.5 39.5h.7M367.3 36.1h.7M367.5 35.9h.7M368.0 47.0h.7M362.8 35.9h.7M364.4 40.2h.7M364.7 41.5h.7M365.9 37.6h.7M365.3 44.2h.7M370.7 48.0h.7M364.3 46.0h.7M368.3 51.8h.7M365.4 50.7h.7M363.2 45.9h.7M367.4 42.4h.7M368.5 45.4h.7M366.0 38.5h.7M365.9 46.2h.7M366.5 39.8h.7M365.8 44.3h.7M366.8 43.3h.7M365.2 61.7h.7M368.7 39.8h.7M368.0 40.8h.7M366.1 45.5h.7M365.7 44.4h.7M365.4 48.3h.7M368.0 55.7h.7M361.2 53.9h.7M365.3 34.5h.7M365.7 59.6h.7M368.6 54.7h.7M364.7 55.5h.7M369.0 57.0h.7M368.0 44.3h.7M364.7 40.4h.7M366.0 45.6h.7M365.6 41.2h.7M362.8 41.1h.7M364.5 48.5h.7M368.1 48.5h.7M367.2 47.9h.7M365.9 38.9h.7M364.6 44.4h.7M363.7 50.1h.7M365.6 45.7h.7M365.4 40.0h.7M365.2 48.6h.7M367.0 44.3h.7M365.2 45.4h.7M363.9 42.6h.7M363.7 39.9h.7M367.4 46.7h.7M363.9 39.4h.7M366.1 37.5h.7M365.9 54.1h.7M366.2 52.0h.7M365.9 54.1h.7M366.0 45.0h.7M367.9 42.3h.7M365.3 41.8h.7M366.1 43.1h.7M369.2 37.4h.7M366.8 39.8h.7M366.0 52.1h.7M364.7 30.0h.7M366.8 53.3h.7M365.8 40.9h.7M364.9 46.2h.7M364.9 33.2h.7M364.6 43.7h.7M365.7 45.8h.7M367.1 55.8h.7M363.7 48.0h.7M365.5 43.8h.7M363.0 49.0h.7M362.2 40.7h.7M369.4 43.4h.7M367.2 40.2h.7M364.3 47.6h.7M366.9 42.3h.7M364.2 41.1h.7M365.7 39.2h.7M367.8 41.5h.7M365.1 39.5h.7M363.6 46.9h.7M364.6 46.7h.7M365.8 61.9h.7M367.2 58.9h.7M362.4 44.5h.7M367.1 38.8h.7M366.5 41.1h.7M368.6 44.4h.7M365.6 58.8h.7M365.5 37.6h.7M366.6 40.1h.7M363.5 45.9h.7M366.9 36.1h.7M367.6 35.2h.7M365.5 51.6h.7M366.8 37.1h.7M365.1 38.4h.7M362.5 47.9h.7M369.9 40.2h.7M362.9 40.0h.7M366.6 49.1h.7M364.7 52.2h.7M364.6 46.4h.7M370.2 49.2h.7M366.3 49.2h.7M365.6 45.4h.7M364.3 37.0h.7M363.5 47.9h.7M363.6 46.4h.7M370.0 51.6h.7M364.9 47.0h.7M368.4 41.8h.7M368.0 35.1h.7M363.9 50.8h.7M363.7 53.3h.7M365.1 46.9h.7M365.7 38.3h.7M367.3 45.2h.7M367.5 36.3h.7M361.5 42.8h.7M365.8 43.1h.7M366.9 47.1h.7M362.9 34.8h.7M364.5 43.6h.7M365.4 46.0h.7M361.6 48.5h.7M365.5 45.7h.7M368.2 48.8h.7M364.8 41.6h.7M368.1 46.4h.7M367.1 45.0h.7M369.1 63.8h.7M365.4 44.3h.7M365.3 39.4h.7M369.9 57.7h.7M363.5 38.7h.7M367.6 46.8h.7M368.0 42.4h.7M368.7 36.9h.7M366.7 42.5h.7M366.0 49.9h.7M365.3 42.8h.7M365.0 56.0h.7M363.3 42.5h.7M367.5 38.2h.7M363.4 46.3h.7M362.7 29.0h.7M366.1 42.8h.7M367.3 40.1h.7M367.3 42.2h.7M364.0 51.5h.7M368.1 39.9h.7M365.2 44.9h.7M366.7 44.6h.7M365.1 54.2h.7M366.5 36.3h.7M364.1 40.4h.7M367.6 52.5h.7M364.3 52.7h.7M367.0 51.3h.7M367.0 40.1h.7M364.2 53.1h.7M364.6 48.3h.7M367.6 44.7h.7M367.8 52.3h.7M369.5 48.5h.7M366.0 46.2h.7M364.1 47.1h.7M364.7 45.2h.7M367.0 46.8h.7M363.8 50.9h.7M366.5 40.6h.7M366.0 55.5h.7M365.7 44.3h.7M367.2 51.4h.7M365.8 37.1h.7M365.3 38.3h.7M368.6 50.0h.7M365.6 31.7h.7M364.9 52.5h.7M366.8 43.7h.7M360.4 42.3h.7M364.9 51.3h.7M365.5 47.5h.7M367.9 41.8h.7M363.8 39.3h.7M366.8 57.8h.7M367.3 41.6h.7M369.7 44.2h.7M366.8 44.3h.7M367.8 41.4h.7M366.1 51.1h.7M365.8 46.2h.7M366.5 36.2h.7M366.5 38.9h.7M365.1 41.6h.7M365.3 49.7h.7M364.9 49.5h.7M365.8 42.0h.7M365.0 45.4h.7M366.3 40.1h.7M366.3 43.2h.7M365.9 44.0h.7M365.6 39.0h.7M369.0 52.0h.7M364.9 41.5h.7M365.1 53.1h.7M363.9 50.3h.7M365.1 42.1h.7M363.8 48.4h.7M368.4 50.0h.7M364.9 32.6h.7M365.3 47.8h.7M363.6 45.7h.7M364.4 36.1h.7M363.6 52.7h.7M365.3 35.5h.7M364.8 30.5h.7M363.1 33.2h.7M366.5 52.1h.7M364.5 52.0h.7M364.3 52.8h.7M367.1 48.0h.7M365.2 27.1h.7M365.8 41.0h.7M366.0 49.0h.7M366.4 43.0h.7M366.8 44.7h.7M364.5 48.1h.7M364.9 39.5h.7M367.6 43.4h.7M366.0 36.5h.7M366.4 58.6h.7M366.5 47.5h.7M364.2 49.0h.7M362.9 36.2h.7M365.8 56.9h.7M367.1 41.4h.7M362.7 46.1h.7M362.3 31.5h.7M365.4 43.0h.7M362.8 37.2h.7M365.9 40.9h.7M366.0 48.7h.7M368.1 56.0h.7M367.0 44.9h.7M365.4 59.8h.7M365.6 42.9h.7M364.2 54.3h.7M366.7 39.6h.7M362.1 37.5h.7M365.1 43.8h.7M363.7 40.7h.7M366.6 53.5h.7M367.1 48.0h.7M369.7 45.8h.7M367.3 36.3h.7M363.9 40.8h.7M364.4 33.9h.7M364.4 42.5h.7M363.4 49.4h.7M365.4 49.4h.7M365.5 41.1h.7M365.5 44.0h.7M364.7 46.9h.7M365.3 56.2h.7M368.4 42.0h.7M367.9 47.4h.7M365.7 53.4h.7M363.5 42.5h.7M366.0 50.1h.7M364.5 44.4h.7M366.2 40.9h.7M367.3 51.6h.7M364.9 52.0h.7M364.9 45.9h.7M366.7 45.1h.7M367.7 39.2h.7M365.8 40.0h.7M369.5 57.2h.7M365.4 47.7h.7M367.5 43.5h.7M362.2 38.9h.7M365.3 38.9h.7M365.0 43.2h.7M365.0 48.6h.7M367.3 37.9h.7M363.7 48.8h.7M366.8 52.0h.7M364.8 49.2h.7M367.5 46.5h.7M366.0 50.5h.7M362.2 45.9h.7M366.3 50.0h.7M367.7 45.1h.7M364.8 39.3h.7M367.6 37.3h.7M364.5 40.9h.7M366.9 38.2h.7M364.9 43.6h.7M366.7 43.9h.7M368.0 43.2h.7M366.4 49.5h.7M364.5 46.0h.7M365.4 41.7h.7M365.4 51.0h.7M363.5 43.9h.7M369.2 35.6h.7M366.4 57.5h.7M366.1 61.1h.7M365.6 49.1h.7M365.6 40.2h.7M367.3 48.2h.7M363.4 45.8h.7M367.2 51.7h.7M367.7 50.3h.7M368.7 38.9h.7M364.3 46.0h.7M367.4 49.7h.7M364.6 46.3h.7M367.3 44.0h.7M366.3 47.5h.7M365.6 56.9h.7M365.8 40.8h.7M368.0 41.9h.7M368.0 41.6h.7M367.2 44.7h.7M365.2 43.6h.7M362.6 32.0h.7M367.4 58.9h.7M363.6 39.7h.7M367.3 44.3h.7M366.9 34.4h.7M366.6 39.7h.7M367.5 44.2h.7M366.9 45.9h.7M364.3 53.8h.7M366.1 49.0h.7M369.9 49.1h.7M363.8 30.9h.7M363.4 47.2h.7M363.6 40.8h.7M365.0 48.4h.7M365.8 44.0h.7M364.4 39.5h.7M363.0 40.2h.7M367.6 41.1h.7M364.9 35.0h.7M366.5 38.2h.7M366.1 52.6h.7M364.2 51.9h.7M365.7 37.4h.7M367.9 33.6h.7M366.6 43.2h.7M365.2 44.5h.7M363.4 41.9h.7M364.2 49.5h.7M367.4 40.4h.7M366.8 38.2h.7M364.7 45.9h.7M367.4 42.7h.7M364.8 32.9h.7M366.6 44.5h.7M365.2 40.0h.7M365.4 47.2h.7M366.4 42.6h.7M365.0 45.9h.7M364.4 36.2h.7M363.7 39.6h.7M368.4 49.9h.7M364.4 48.6h.7M367.9 52.7h.7M364.6 47.0h.7M362.1 39.9h.7M366.7 51.1h.7M365.6 40.2h.7M366.5 28.3h.7M364.0 45.7h.7M365.8 31.1h.7M364.7 51.0h.7M362.4 39.1h.7M366.7 34.4h.7M368.0 44.1h.7M365.1 49.3h.7M367.4 49.1h.7M364.8 56.5h.7M364.7 44.4h.7M365.0 44.5h.7M365.6 50.1h.7M365.3 51.1h.7M363.8 39.5h.7M367.8 41.4h.7M363.6 38.7h.7M365.1 39.9h.7M364.9 38.3h.7M364.3 38.1h.7M367.3 52.6h.7M366.3 49.8h.7M365.8 50.1h.7M365.6 40.3h.7M367.3 45.9h.7M367.8 40.2h.7M366.6 42.9h.7M362.9 27.8h.7M365.3 40.7h.7M364.8 45.4h.7M366.4 42.9h.7M368.2 49.7h.7M366.5 32.2h.7M366.4 34.9h.7M364.6 43.5h.7M369.5 47.5h.7M364.5 50.1h.7M365.5 52.1h.7M366.5 41.4h.7M364.8 40.8h.7M366.7 43.9h.7M366.5 45.9h.7M365.6 44.5h.7M364.3 44.0h.7M367.8 48.5h.7M366.8 55.5h.7M364.1 46.1h.7M366.1 42.5h.7M363.3 38.1h.7M365.5 40.2h.7M363.5 48.0h.7M365.0 40.2h.7M368.2 45.2h.7M365.5 59.0h.7M367.2 45.8h.7M363.2 41.4h.7M366.5 56.0h.7M365.6 44.6h.7M366.9 47.5h.7M366.2 41.8h.7M367.2 50.4h.7M366.1 45.9h.7M368.6 35.8h.7M363.0 48.6h.7M364.8 52.5h.7M364.2 26.9h.7M365.2 37.5h.7M369.1 43.5h.7M366.0 53.9h.7M366.5 49.5h.7M363.9 48.4h.7M366.7 44.8h.7M365.0 48.9h.7M363.9 40.7h.7M365.4 43.5h.7M367.5 45.2h.7M366.7 52.0h.7M364.7 39.1h.7M366.4 45.8h.7M369.4 55.2h.7M365.5 46.7h.7M363.1 34.0h.7M366.9 48.5h.7M366.2 62.0h.7M368.0 47.7h.7M364.6 41.9h.7M365.9 39.8h.7M363.9 51.5h.7M366.0 34.9h.7M364.3 40.0h.7M366.1 43.2h.7M364.5 46.3h.7M361.2 52.2h.7M367.6 52.1h.7M364.4 41.6h.7M366.0 42.2h.7M365.4 48.2h.7M364.6 46.1h.7M364.2 50.0h.7M366.8 34.1h.7M364.5 43.8h.7M364.7 40.3h.7M370.1 55.2h.7M365.1 45.1h.7M365.3 42.3h.7M363.4 53.9h.7M366.8 54.6h.7M365.9 61.5h.7M368.7 56.2h.7M363.1 56.6h.7M365.2 26.4h.7M367.9 49.7h.7M364.9 41.5h.7M366.0 42.5h.7M366.2 42.7h.7M367.1 69.9h.7M364.6 47.1h.7M367.0 51.7h.7M367.0 47.2h.7M366.9 45.4h.7M363.6 47.7h.7M366.3 46.6h.7M366.2 38.5h.7M366.7 45.6h.7M368.2 44.2h.7M363.3 40.3h.7M366.7 39.2h.7M367.2 45.7h.7M366.7 65.1h.7M365.9 64.8h.7M368.9 62.0h.7M365.0 58.0h.7M368.2 68.5h.7M365.2 62.6h.7M368.2 65.0h.7M367.2 54.1h.7M366.8 52.7h.7M368.9 64.4h.7M366.3 59.7h.7M366.7 57.6h.7M366.8 63.5h.7M364.9 62.3h.7M364.1 56.8h.7M367.0 60.6h.7M365.8 51.1h.7M368.9 51.5h.7M367.6 54.5h.7M364.0 60.0h.7M367.2 62.0h.7M367.8 59.2h.7M365.8 59.0h.7M365.4 57.9h.7M364.9 56.5h.7M365.9 60.7h.7M363.9 61.6h.7M368.2 62.4h.7M363.4 63.0h.7M367.1 72.7h.7M364.9 63.1h.7M367.3 52.6h.7M365.1 57.0h.7M366.6 64.4h.7M367.2 54.7h.7M365.2 57.1h.7M368.6 52.6h.7M363.6 63.3h.7M364.8 59.9h.7M364.3 64.5h.7M368.7 55.3h.7M363.2 57.7h.7M367.2 69.6h.7M368.0 57.0h.7M367.3 52.5h.7M366.9 63.3h.7M368.2 66.0h.7M367.2 65.9h.7M366.2 66.3h.7M366.3 65.7h.7M363.4 62.0h.7M367.4 43.7h.7M367.4 62.3h.7M367.6 62.9h.7M365.7 57.4h.7M363.8 52.2h.7M367.6 58.2h.7M365.2 57.8h.7M364.7 72.3h.7M365.5 64.4h.7M365.8 54.9h.7M364.2 67.1h.7M366.9 62.8h.7M367.3 60.0h.7M365.4 59.0h.7M365.6 62.7h.7M362.9 59.9h.7M364.7 65.7h.7M367.0 58.0h.7M368.2 45.2h.7M366.0 67.6h.7M365.6 52.7h.7M366.6 61.1h.7M367.5 64.2h.7M365.1 61.5h.7M366.7 51.6h.7M366.1 64.6h.7M368.0 64.3h.7M367.7 68.9h.7M363.6 56.2h.7M367.4 67.1h.7M367.3 64.4h.7M365.4 50.4h.7M364.8 64.3h.7M368.0 64.1h.7M365.9 59.0h.7M366.7 49.8h.7M365.0 59.9h.7M365.8 58.0h.7M368.0 65.6h.7M368.9 58.6h.7M366.1 55.4h.7M368.8 57.8h.7M364.3 57.5h.7M366.7 63.1h.7M366.1 59.9h.7M368.3 65.9h.7M365.4 51.2h.7M363.9 66.1h.7M368.0 61.6h.7M367.7 47.6h.7M368.7 54.3h.7M367.0 53.7h.7M364.8 55.8h.7M367.1 64.3h.7M366.7 51.7h.7M366.3 57.4h.7M367.0 69.2h.7M364.7 71.1h.7M366.4 55.7h.7M366.8 54.9h.7M366.3 59.0h.7M366.9 65.0h.7M368.4 65.1h.7M366.7 69.2h.7M366.6 47.4h.7M364.0 54.6h.7M367.5 63.7h.7M363.8 64.0h.7M366.2 57.4h.7M366.5 59.8h.7M364.9 44.3h.7M365.4 53.9h.7M367.1 68.2h.7M364.0 54.3h.7M366.7 63.5h.7M366.7 47.6h.7M368.1 60.0h.7M364.7 68.3h.7M368.1 58.0h.7M367.0 58.2h.7M366.0 54.9h.7M366.7 52.5h.7M364.2 54.6h.7M365.4 62.7h.7M365.7 60.4h.7M366.9 49.7h.7M367.3 69.3h.7M369.3 57.8h.7M365.7 62.8h.7M370.0 66.0h.7M365.4 64.9h.7M364.2 63.5h.7M366.9 55.7h.7M370.4 57.0h.7M367.2 64.2h.7M365.8 57.3h.7M365.5 51.9h.7M366.7 67.2h.7M368.0 55.8h.7M364.2 64.8h.7M363.7 59.8h.7M366.7 57.9h.7M368.8 53.0h.7M366.0 60.7h.7M365.3 62.1h.7M366.3 62.6h.7M364.4 58.7h.7M365.1 52.0h.7M366.5 41.7h.7M366.6 69.8h.7M365.6 63.6h.7M364.0 56.2h.7M366.5 64.8h.7M362.7 50.8h.7M362.7 49.4h.7M368.2 64.0h.7M367.5 72.0h.7M369.1 54.2h.7M368.1 62.9h.7M367.7 63.1h.7M365.0 66.2h.7M364.3 58.1h.7M367.0 58.8h.7M366.1 50.0h.7M366.6 46.5h.7M365.0 56.6h.7M366.6 59.5h.7M367.9 62.5h.7M366.8 55.5h.7M365.9 59.7h.7M365.9 59.4h.7M364.6 51.9h.7M366.3 63.3h.7M367.2 53.8h.7M366.1 63.0h.7M364.8 56.7h.7M366.9 65.9h.7M367.3 63.2h.7M368.8 66.0h.7M366.4 62.6h.7M363.9 64.8h.7M364.1 63.1h.7M366.6 69.3h.7M365.3 58.3h.7M367.7 65.5h.7M364.1 66.7h.7M365.3 60.5h.7M365.3 55.3h.7M365.2 49.1h.7M365.0 67.3h.7M364.3 65.2h.7M367.3 61.0h.7M365.9 71.0h.7M365.6 62.9h.7M365.8 68.3h.7M363.0 54.2h.7M364.6 61.8h.7M365.2 68.7h.7M368.1 58.2h.7M364.3 62.5h.7M364.6 54.2h.7M368.2 72.1h.7M369.6 58.0h.7M366.3 55.3h.7M365.0 54.7h.7M368.9 67.2h.7M366.7 52.6h.7M365.9 63.3h.7M366.1 55.9h.7M365.4 55.7h.7M365.1 55.8h.7M364.2 61.2h.7M364.8 64.5h.7M368.4 68.8h.7M366.0 62.1h.7M368.6 58.5h.7M365.2 61.8h.7M365.0 62.3h.7M364.1 64.0h.7M364.1 59.8h.7M367.9 63.9h.7M365.4 58.1h.7M367.4 63.5h.7M364.1 56.4h.7M365.9 66.1h.7M365.1 59.0h.7M367.4 60.9h.7M366.2 59.0h.7M367.9 66.2h.7M365.1 55.7h.7M367.0 58.2h.7M366.3 68.8h.7M366.7 65.4h.7M368.5 61.7h.7M367.3 66.3h.7M368.5 61.8h.7M363.2 56.9h.7M366.1 59.3h.7M365.6 63.3h.7M366.9 66.8h.7M366.3 62.4h.7M367.0 66.0h.7M365.0 55.1h.7M367.6 64.9h.7M365.7 61.2h.7M366.5 59.0h.7M366.5 61.3h.7M364.8 66.0h.7M365.0 52.9h.7M366.4 56.7h.7M366.4 55.0h.7M367.5 58.5h.7M365.8 56.8h.7M364.9 54.5h.7M368.2 67.5h.7M364.7 62.9h.7M366.9 66.0h.7M365.0 65.1h.7M366.8 62.2h.7M365.9 75.1h.7M364.9 51.3h.7M366.8 59.9h.7M366.2 60.2h.7M364.0 52.4h.7M366.5 66.4h.7M365.8 58.1h.7M368.6 59.0h.7M362.5 58.3h.7M366.2 57.0h.7M363.1 48.6h.7M352.9 35.4h.7M356.1 45.6h.7M360.9 42.2h.7M359.4 35.1h.7M358.8 40.0h.7M355.2 42.1h.7M357.4 44.7h.7M359.0 42.5h.7M359.6 41.0h.7M362.2 41.9h.7M361.3 44.6h.7M356.3 40.9h.7M356.6 43.7h.7M356.6 38.1h.7M355.8 43.9h.7M357.4 38.2h.7M353.8 49.5h.7M361.6 51.0h.7M361.4 50.5h.7M358.5 43.8h.7M360.9 48.9h.7M359.9 41.6h.7M351.0 40.7h.7M357.1 36.9h.7M354.9 38.2h.7M360.2 44.9h.7M356.0 37.6h.7M361.3 41.7h.7M359.0 50.9h.7M362.2 39.5h.7M352.9 39.3h.7M360.2 51.8h.7M362.1 47.6h.7M359.2 42.6h.7M358.5 37.9h.7M358.9 57.6h.7M360.2 45.0h.7M354.6 29.8h.7M360.6 44.8h.7M361.1 48.0h.7M359.2 45.7h.7M359.5 46.2h.7M363.0 38.9h.7M362.5 46.1h.7M359.5 53.6h.7M359.9 51.7h.7M359.2 41.6h.7M364.6 50.3h.7M361.5 39.0h.7M361.7 47.0h.7M356.6 31.7h.7M358.2 48.3h.7M357.2 26.7h.7M356.2 34.5h.7M356.1 41.2h.7M361.6 38.4h.7M361.1 42.8h.7M357.7 50.0h.7M356.6 44.6h.7M357.0 38.2h.7M357.9 39.5h.7M355.2 37.0h.7M356.1 44.5h.7M360.4 58.3h.7M358.8 44.3h.7M365.2 45.8h.7M359.8 54.7h.7M359.3 44.6h.7M362.4 52.3h.7M359.9 48.4h.7M354.8 35.6h.7M360.7 38.0h.7M357.5 48.5h.7M358.0 51.1h.7M359.9 57.6h.7M359.9 34.8h.7M355.3 46.1h.7M358.4 47.4h.7M358.9 48.9h.7M356.6 42.4h.7M365.6 48.6h.7M359.1 47.6h.7M358.6 35.4h.7M356.8 33.7h.7M358.7 43.1h.7M352.4 39.2h.7M361.2 36.7h.7M365.1 44.6h.7M362.6 38.5h.7M357.9 44.7h.7M359.2 39.5h.7M353.5 48.2h.7M358.9 50.6h.7M361.2 42.9h.7M360.1 44.8h.7M355.0 48.4h.7M360.6 45.3h.7M362.0 42.9h.7M357.4 42.0h.7M362.7 36.7h.7M362.0 47.5h.7M361.3 44.6h.7M355.1 45.1h.7M360.5 59.6h.7M358.5 49.2h.7M358.1 44.9h.7M362.6 47.4h.7M357.7 48.9h.7M358.7 48.4h.7M358.8 48.8h.7M358.5 43.5h.7M355.7 38.6h.7M360.0 44.0h.7M361.4 48.7h.7M358.6 50.8h.7M356.5 35.5h.7M358.2 39.9h.7M358.0 43.9h.7M355.2 51.0h.7M362.4 54.4h.7M353.2 54.4h.7M354.7 61.9h.7M357.5 52.5h.7M357.6 57.3h.7M354.6 55.8h.7M358.5 61.3h.7M356.6 47.0h.7M359.4 47.1h.7M357.2 51.8h.7M354.7 66.9h.7M354.2 50.4h.7M360.0 50.6h.7M355.2 56.6h.7M358.9 68.3h.7M357.4 44.3h.7M358.7 60.7h.7M350.6 51.6h.7M357.8 53.6h.7M351.5 45.9h.7M365.0 45.0h.7M353.6 58.1h.7M354.6 70.6h.7M355.7 66.1h.7M351.9 39.7h.7M345.3 53.3h.7M342.1 42.2h.7M352.4 48.5h.7M331.5 55.0h.7M337.6 37.8h.7M358.9 71.6h.7" stroke="#000" stroke-width="0.7" fill="none"/>
<text x="366.30" y="23.90" font-family="Liberation Sans" font-size="7.2" text-anchor="start" fill="#000" textLength="20.60" lengthAdjust="spacingAndGlyphs" stroke="#000" stroke-width="0.12">67.1%</text>
<text x="367.30" y="76.00" font-family="Liberation Sans" font-size="7.2" text-anchor="start" fill="#000" textLength="19.60" lengthAdjust="spacingAndGlyphs" stroke="#000" stroke-width="0.12">22.5%</text>
<line x1="405.50" y1="88.70" x2="481.00" y2="88.70" stroke="#b8b8b8" stroke-width="1.0" />
<line x1="481.00" y1="16.50" x2="481.00" y2="88.70" stroke="#c8c8c8" stroke-width="1.0" />
<line x1="405.50" y1="16.50" x2="481.00" y2="16.50" stroke="#dcdcdc" stroke-width="1.0" />
<rect x="412.50" y="19.80" width="64.80" height="59.80" fill="#fff" stroke="#1a1a1a" stroke-width="0.85"/>
<line x1="439.70" y1="19.80" x2="439.70" y2="79.60" stroke="#2a2a2a" stroke-width="0.85" />
<line x1="412.50" y1="37.60" x2="477.30" y2="37.60" stroke="#2a2a2a" stroke-width="0.85" />
<path d="M412.50 79.60v1.7M412.50 79.60h-1.7M417.38 79.60v0.9M412.50 75.10h-0.9M420.23 79.60v0.9M412.50 72.47h-0.9M422.25 79.60v0.9M412.50 70.60h-0.9M423.82 79.60v0.9M412.50 69.15h-0.9M425.11 79.60v0.9M412.50 67.97h-0.9M426.19 79.60v0.9M412.50 66.97h-0.9M427.13 79.60v0.9M412.50 66.10h-0.9M427.96 79.60v0.9M412.50 65.33h-0.9M428.70 79.60v1.7M412.50 64.65h-1.7M433.58 79.60v0.9M412.50 60.15h-0.9M436.43 79.60v0.9M412.50 57.52h-0.9M438.45 79.60v0.9M412.50 55.65h-0.9M440.02 79.60v0.9M412.50 54.20h-0.9M441.31 79.60v0.9M412.50 53.02h-0.9M442.39 79.60v0.9M412.50 52.02h-0.9M443.33 79.60v0.9M412.50 51.15h-0.9M444.16 79.60v0.9M412.50 50.38h-0.9M444.90 79.60v1.7M412.50 49.70h-1.7M449.78 79.60v0.9M412.50 45.20h-0.9M452.63 79.60v0.9M412.50 42.57h-0.9M454.65 79.60v0.9M412.50 40.70h-0.9M456.22 79.60v0.9M412.50 39.25h-0.9M457.51 79.60v0.9M412.50 38.07h-0.9M458.59 79.60v0.9M412.50 37.07h-0.9M459.53 79.60v0.9M412.50 36.20h-0.9M460.36 79.60v0.9M412.50 35.43h-0.9M461.10 79.60v1.7M412.50 34.75h-1.7M465.98 79.60v0.9M412.50 30.25h-0.9M468.83 79.60v0.9M412.50 27.62h-0.9M470.85 79.60v0.9M412.50 25.75h-0.9M472.42 79.60v0.9M412.50 24.30h-0.9M473.71 79.60v0.9M412.50 23.12h-0.9M474.79 79.60v0.9M412.50 22.12h-0.9M475.73 79.60v0.9M412.50 21.25h-0.9M476.56 79.60v0.9M412.50 20.48h-0.9M477.30 79.60v1.7M412.50 19.80h-1.7" stroke="#222" stroke-width="0.5" fill="none"/>
<text x="410.64" y="84.50" font-family="Liberation Sans" font-size="3.0" font-weight="bold" fill="#111">10<tspan dy="-1.35" font-size="2.40">0</tspan></text>
<text x="410.30" y="81.46" font-family="Liberation Sans" font-size="3.0" font-weight="bold" fill="#111" transform="rotate(-90 410.30 81.46)">10<tspan dy="-1.35" font-size="2.40">0</tspan></text>
<text x="426.84" y="84.50" font-family="Liberation Sans" font-size="3.0" font-weight="bold" fill="#111">10<tspan dy="-1.35" font-size="2.40">1</tspan></text>
<text x="410.30" y="66.51" font-family="Liberation Sans" font-size="3.0" font-weight="bold" fill="#111" transform="rotate(-90 410.30 66.51)">10<tspan dy="-1.35" font-size="2.40">1</tspan></text>
<text x="443.04" y="84.50" font-family="Liberation Sans" font-size="3.0" font-weight="bold" fill="#111">10<tspan dy="-1.35" font-size="2.40">2</tspan></text>
<text x="410.30" y="51.56" font-family="Liberation Sans" font-size="3.0" font-weight="bold" fill="#111" transform="rotate(-90 410.30 51.56)">10<tspan dy="-1.35" font-size="2.40">2</tspan></text>
<text x="459.24" y="84.50" font-family="Liberation Sans" font-size="3.0" font-weight="bold" fill="#111">10<tspan dy="-1.35" font-size="2.40">3</tspan></text>
<text x="410.30" y="36.61" font-family="Liberation Sans" font-size="3.0" font-weight="bold" fill="#111" transform="rotate(-90 410.30 36.61)">10<tspan dy="-1.35" font-size="2.40">3</tspan></text>
<text x="475.44" y="84.50" font-family="Liberation Sans" font-size="3.0" font-weight="bold" fill="#111">10<tspan dy="-1.35" font-size="2.40">4</tspan></text>
<text x="410.30" y="21.66" font-family="Liberation Sans" font-size="3.0" font-weight="bold" fill="#111" transform="rotate(-90 410.30 21.66)">10<tspan dy="-1.35" font-size="2.40">4</tspan></text>
<text x="440.60" y="18.60" font-family="Liberation Sans" font-size="3.1" text-anchor="middle" fill="#111" font-weight="bold" >Data.004</text>
<text x="444.50" y="87.60" font-family="Liberation Sans" font-size="3.1" text-anchor="middle" fill="#111" font-weight="bold" >FL2-Height</text>
<text x="406.00" y="50.70" font-family="Liberation Sans" font-size="2.9" text-anchor="middle" fill="#111" font-weight="bold" transform="rotate(-90 406.00 50.70)" >FL1-Height</text>
<path d="M456.6 43.1h.7M456.1 39.1h.7M457.2 39.9h.7M455.6 45.1h.7M453.9 56.4h.7M454.3 47.2h.7M457.9 41.3h.7M458.4 45.6h.7M457.7 42.4h.7M453.4 49.9h.7M456.7 46.3h.7M456.9 47.9h.7M453.2 36.6h.7M452.1 38.0h.7M450.9 42.2h.7M454.5 45.2h.7M456.1 44.2h.7M455.1 45.8h.7M453.5 42.4h.7M455.7 43.0h.7M454.4 45.0h.7M458.4 47.4h.7M454.9 43.2h.7M455.4 54.3h.7M449.0 46.4h.7M456.1 49.1h.7M453.2 53.4h.7M457.7 45.8h.7M455.9 42.9h.7M455.7 45.1h.7M457.6 47.4h.7M455.4 48.2h.7M456.8 46.7h.7M452.4 49.0h.7M453.2 41.2h.7M455.4 47.5h.7M458.6 39.6h.7M458.7 52.5h.7M454.6 44.6h.7M454.4 43.0h.7M452.8 38.5h.7M455.2 46.5h.7M459.4 42.4h.7M451.2 45.4h.7M454.6 46.8h.7M454.8 40.6h.7M454.2 48.4h.7M456.2 41.9h.7M457.4 40.3h.7M454.5 46.2h.7M452.7 40.4h.7M455.6 45.3h.7M455.1 43.3h.7M453.3 42.1h.7M462.0 44.4h.7M458.8 43.9h.7M458.5 50.9h.7M456.5 43.3h.7M452.7 48.8h.7M452.9 40.2h.7M458.8 51.9h.7M455.7 44.7h.7M454.2 46.7h.7M454.6 39.5h.7M454.0 46.3h.7M452.3 41.2h.7M455.9 52.2h.7M456.0 45.8h.7M459.7 42.2h.7M454.1 48.6h.7M457.9 47.8h.7M450.1 47.4h.7M457.0 46.0h.7M457.0 51.3h.7M455.7 42.0h.7M451.7 45.1h.7M454.1 43.1h.7M453.2 46.2h.7M457.1 47.6h.7M453.2 48.6h.7M456.3 36.1h.7M456.9 37.9h.7M453.2 49.3h.7M457.0 43.4h.7M453.7 46.6h.7M451.8 46.5h.7M455.0 48.3h.7M455.3 41.3h.7M456.0 44.3h.7M452.6 40.5h.7M453.5 45.4h.7M457.2 45.8h.7M453.1 43.6h.7M456.8 50.0h.7M453.6 46.3h.7M454.8 37.1h.7M452.9 42.9h.7M454.5 43.9h.7M454.3 46.8h.7M453.6 39.0h.7M456.7 43.4h.7M457.3 42.7h.7M458.3 41.3h.7M453.1 47.8h.7M459.3 43.2h.7M458.9 52.1h.7M457.3 45.1h.7M451.0 38.7h.7M453.9 47.2h.7M455.2 42.9h.7M455.8 39.2h.7M456.4 42.0h.7M458.3 46.7h.7M454.0 43.2h.7M452.2 45.6h.7M453.5 44.8h.7M458.0 47.4h.7M456.6 56.0h.7M457.1 50.2h.7M455.1 40.9h.7M456.1 41.2h.7M449.3 46.7h.7M456.3 41.6h.7M458.3 45.8h.7M454.6 41.7h.7M458.0 44.3h.7M454.5 43.6h.7M453.9 38.7h.7M454.0 41.9h.7M457.1 40.8h.7M457.0 43.8h.7M453.9 44.6h.7M455.7 46.0h.7M456.8 46.6h.7M452.3 42.3h.7M459.0 45.8h.7M450.7 45.3h.7M459.2 50.8h.7M455.7 46.5h.7M457.0 45.2h.7M454.6 51.7h.7M454.8 49.4h.7M452.3 41.9h.7M453.2 46.7h.7M454.3 42.8h.7M453.7 45.8h.7M457.6 43.7h.7M456.9 45.8h.7M454.3 46.7h.7M458.4 36.0h.7M457.1 52.7h.7M455.2 48.5h.7M457.7 48.0h.7M456.1 50.8h.7M457.9 46.8h.7M457.0 42.3h.7M455.3 46.0h.7M455.5 43.0h.7M458.3 47.5h.7M457.1 40.8h.7M454.5 42.7h.7M455.2 52.1h.7M460.9 47.4h.7M456.4 45.0h.7M454.5 48.8h.7M454.7 41.4h.7M456.9 45.2h.7M456.3 47.0h.7M457.7 48.5h.7M457.6 45.6h.7M455.4 47.2h.7M456.2 47.7h.7M456.4 54.3h.7M455.3 47.5h.7M456.0 51.0h.7M454.1 40.6h.7M458.2 49.1h.7M456.1 42.8h.7M458.3 47.9h.7M454.4 43.6h.7M454.3 50.8h.7M455.2 41.6h.7M454.4 49.7h.7M456.9 43.1h.7M453.2 42.9h.7M456.2 44.1h.7M454.4 45.5h.7M454.4 41.1h.7M452.6 41.4h.7M454.1 46.3h.7M455.8 42.4h.7M457.9 41.3h.7M457.6 41.4h.7M454.9 48.7h.7M457.4 42.6h.7M455.8 41.3h.7M455.2 47.2h.7M454.4 51.1h.7M456.6 48.4h.7M454.4 44.9h.7M456.2 49.1h.7M457.1 44.3h.7M453.8 40.7h.7M460.1 50.8h.7M458.7 45.6h.7M459.9 48.4h.7M456.1 43.7h.7M452.6 47.7h.7M455.8 45.6h.7M452.8 37.3h.7M453.3 48.6h.7M459.6 43.8h.7M454.9 39.4h.7M453.5 46.4h.7M454.0 45.7h.7M458.2 45.4h.7M453.2 51.6h.7M456.9 46.6h.7M456.3 44.9h.7M457.1 40.5h.7M455.6 41.0h.7M455.5 48.1h.7M455.2 52.3h.7M455.5 42.9h.7M456.3 46.7h.7M456.3 45.9h.7M455.4 49.2h.7M452.2 47.9h.7M454.4 45.0h.7M453.7 50.2h.7M451.3 40.0h.7M454.7 48.1h.7M452.8 47.1h.7M457.9 42.5h.7M450.2 47.5h.7M455.2 45.2h.7M457.9 49.0h.7M454.4 46.0h.7M453.7 47.0h.7M455.4 47.5h.7M454.3 46.2h.7M456.3 47.9h.7M455.8 37.8h.7M456.7 41.2h.7M457.7 45.9h.7M455.6 43.1h.7M459.3 43.3h.7M458.5 52.5h.7M462.2 52.2h.7M455.4 42.0h.7M454.1 39.7h.7M458.6 47.6h.7M453.4 48.3h.7M455.9 49.9h.7M456.5 41.7h.7M456.1 49.5h.7M456.0 46.3h.7M453.1 42.9h.7M455.8 49.0h.7M454.5 44.2h.7M460.2 42.9h.7M455.2 42.0h.7M455.7 49.0h.7M457.4 47.7h.7M458.3 46.2h.7M457.1 42.1h.7M457.8 43.7h.7M458.4 42.2h.7M456.3 47.0h.7M456.3 45.3h.7M459.0 47.9h.7M453.2 43.3h.7M458.3 42.7h.7M459.5 45.0h.7M451.8 48.4h.7M453.7 30.9h.7M455.7 40.6h.7M456.0 48.4h.7M457.3 45.0h.7M452.2 50.0h.7M455.8 45.8h.7M452.3 42.2h.7M455.9 44.8h.7M455.9 41.7h.7M452.0 46.1h.7M455.2 49.7h.7M458.4 45.5h.7M454.8 50.4h.7M457.5 42.5h.7M459.5 47.4h.7M455.3 40.4h.7M454.8 47.7h.7M456.4 51.3h.7M457.7 42.2h.7M455.2 44.1h.7M454.1 42.5h.7M453.6 41.5h.7M455.4 46.9h.7M458.1 42.7h.7M454.4 33.1h.7M455.2 46.2h.7M454.4 45.5h.7M453.8 42.2h.7M452.6 40.7h.7M451.6 49.3h.7M457.3 46.1h.7M455.3 51.3h.7M456.7 43.0h.7M455.7 46.9h.7M456.2 46.9h.7M452.1 41.9h.7M451.4 46.0h.7M454.7 40.5h.7M460.2 51.5h.7M454.6 48.7h.7M454.3 49.1h.7M457.3 44.0h.7M456.9 52.9h.7M457.8 41.6h.7M456.6 49.1h.7M456.3 50.4h.7M454.4 36.7h.7M459.1 42.3h.7M455.6 40.0h.7M457.6 42.3h.7M456.1 46.2h.7M458.9 54.1h.7M457.5 50.4h.7M456.4 47.1h.7M454.0 47.8h.7M451.5 48.5h.7M456.0 45.9h.7M458.2 39.1h.7M453.7 47.6h.7M455.0 48.0h.7M455.2 41.2h.7M456.6 46.7h.7M456.8 48.0h.7M459.9 42.8h.7M454.4 51.1h.7M453.9 45.8h.7M458.0 47.7h.7M456.7 45.7h.7M451.9 47.9h.7M457.5 47.8h.7M454.8 46.4h.7M457.2 44.6h.7M454.6 41.3h.7M456.6 41.1h.7M454.6 50.8h.7M451.3 41.8h.7M457.6 45.0h.7M458.1 41.5h.7M453.7 49.7h.7M453.5 45.4h.7M455.1 50.9h.7M453.3 45.6h.7M457.5 51.1h.7M456.0 49.0h.7M454.4 53.2h.7M456.8 49.3h.7M459.6 47.9h.7M455.9 49.0h.7M458.7 41.1h.7M452.2 47.8h.7M455.4 46.1h.7M460.1 46.0h.7M455.6 50.8h.7M454.0 46.2h.7M455.3 46.5h.7M456.2 41.3h.7M454.7 43.2h.7M452.8 46.8h.7M454.2 40.8h.7M452.2 43.0h.7M453.1 46.5h.7M457.6 44.0h.7M454.0 43.5h.7M457.0 42.9h.7M456.7 43.2h.7M450.5 50.9h.7M457.3 45.0h.7M455.9 46.3h.7M459.1 45.0h.7M456.2 44.8h.7M454.4 47.3h.7M456.7 43.9h.7M460.7 35.6h.7M458.8 41.8h.7M454.0 48.0h.7M457.7 51.6h.7M452.7 53.5h.7M453.6 46.9h.7M458.6 46.8h.7M455.7 49.4h.7M455.9 41.7h.7M458.2 51.0h.7M457.2 48.1h.7M458.4 50.8h.7M458.6 48.5h.7M451.9 48.5h.7M457.4 50.2h.7M459.2 41.6h.7M449.7 49.1h.7M457.5 46.8h.7M453.4 52.7h.7M455.2 54.5h.7M456.7 50.8h.7M450.4 47.5h.7M454.3 40.6h.7M455.1 57.0h.7M454.5 38.8h.7M458.3 43.0h.7M455.6 52.5h.7M458.1 49.2h.7M458.2 46.2h.7M453.1 44.9h.7M454.8 45.7h.7M455.5 47.8h.7M457.8 44.0h.7M455.1 46.9h.7M458.3 44.9h.7M451.5 48.9h.7M452.9 43.7h.7M454.7 48.0h.7M451.8 50.4h.7M454.9 50.4h.7M455.1 57.3h.7M456.1 44.9h.7M454.3 36.1h.7M459.5 41.1h.7M456.3 49.5h.7M457.4 46.2h.7M454.3 48.2h.7M455.6 39.7h.7M453.7 48.1h.7M457.8 36.6h.7M456.4 45.1h.7M457.8 46.6h.7M455.3 49.6h.7M458.2 51.1h.7M455.8 48.1h.7M459.7 46.4h.7M454.3 47.6h.7M453.9 49.5h.7M454.1 44.6h.7M458.4 43.1h.7M455.2 47.7h.7M456.7 40.7h.7M457.9 45.9h.7M456.2 49.1h.7M457.6 47.5h.7M457.8 47.5h.7M453.1 40.4h.7M453.9 41.6h.7M455.0 36.7h.7M455.9 48.6h.7M457.3 46.1h.7M453.3 53.8h.7M454.1 43.5h.7M455.8 39.8h.7M452.8 45.3h.7M458.0 44.6h.7M456.6 48.0h.7M456.2 42.3h.7M457.9 45.3h.7M453.5 41.0h.7M457.8 46.6h.7M454.2 49.5h.7M457.3 46.1h.7M453.1 44.8h.7M456.3 42.0h.7M461.1 46.4h.7M453.4 39.1h.7M458.0 45.7h.7M455.6 42.9h.7M457.1 47.4h.7M453.3 43.5h.7M452.9 46.9h.7M455.6 49.3h.7M456.8 49.1h.7M451.8 42.1h.7M453.2 39.5h.7M453.8 49.4h.7M457.3 51.8h.7M456.8 47.9h.7M454.9 44.3h.7M454.9 42.2h.7M452.8 45.6h.7M458.4 42.1h.7M453.0 49.1h.7M455.3 38.9h.7M455.1 36.1h.7M456.1 44.0h.7M452.9 45.7h.7M454.5 50.9h.7M454.1 47.2h.7M453.5 46.8h.7M457.1 49.2h.7M457.7 41.2h.7M459.6 53.1h.7M455.5 46.7h.7M457.7 39.5h.7M455.2 47.3h.7M456.7 47.8h.7M453.2 49.0h.7M457.6 47.8h.7M454.3 41.2h.7M455.2 47.0h.7M453.2 43.3h.7M456.6 47.3h.7M453.7 37.2h.7M454.9 38.3h.7M452.2 47.5h.7M456.1 40.8h.7M454.9 45.0h.7M456.4 49.8h.7M456.4 36.5h.7M456.2 44.2h.7M455.1 45.1h.7M455.0 43.6h.7M457.6 50.0h.7M458.6 49.7h.7M457.3 47.5h.7M453.0 49.2h.7M454.9 45.0h.7M452.4 42.9h.7M462.1 45.4h.7M457.3 50.5h.7M456.7 43.8h.7M455.3 47.4h.7M454.8 40.4h.7M453.4 51.4h.7M457.2 48.7h.7M457.6 47.2h.7M453.6 54.2h.7M455.0 46.8h.7M456.1 50.9h.7M455.3 40.0h.7M452.5 41.4h.7M457.6 51.3h.7M455.4 44.2h.7M457.2 46.7h.7M454.3 41.6h.7M456.0 50.1h.7M458.1 49.4h.7M454.6 50.4h.7M451.4 45.8h.7M457.3 42.7h.7M452.8 51.4h.7M455.2 44.9h.7M458.8 48.7h.7M453.4 46.3h.7M455.7 50.2h.7M458.8 40.2h.7M454.3 51.9h.7M455.9 46.1h.7M454.4 47.7h.7M454.5 46.0h.7M455.8 43.5h.7M452.9 39.4h.7M454.2 43.1h.7M456.6 46.1h.7M455.9 41.9h.7M454.6 42.8h.7M453.2 40.0h.7M459.5 46.7h.7M457.7 46.5h.7M453.6 50.5h.7M456.6 45.4h.7M453.1 45.1h.7M457.2 50.2h.7M456.0 44.7h.7M454.7 47.0h.7M453.6 45.1h.7M451.0 50.2h.7M457.4 44.8h.7M454.2 47.5h.7M455.1 42.9h.7M454.5 43.5h.7M453.0 48.4h.7M451.5 44.7h.7M455.0 38.3h.7M456.5 37.5h.7M453.9 41.4h.7M454.6 43.2h.7M457.5 45.2h.7M455.0 44.9h.7M455.9 42.6h.7M456.7 46.1h.7M456.2 45.3h.7M455.3 45.2h.7M454.0 45.7h.7M457.3 43.6h.7M455.4 47.8h.7M455.0 43.8h.7M455.8 46.2h.7M458.6 46.4h.7M457.4 45.5h.7M457.7 50.7h.7M458.2 40.7h.7M455.4 40.9h.7M455.6 45.3h.7M453.2 40.2h.7M453.8 44.5h.7M456.1 50.3h.7M459.3 42.1h.7M455.8 44.3h.7M455.0 39.5h.7M456.4 46.5h.7M453.8 45.2h.7M453.3 33.9h.7M453.5 43.0h.7M452.9 44.6h.7M459.3 46.0h.7M454.8 39.8h.7M455.0 44.5h.7M457.6 43.3h.7M453.6 42.0h.7M458.5 50.5h.7M454.3 56.9h.7M453.4 41.5h.7M456.9 43.8h.7M453.3 39.8h.7M455.1 44.2h.7M454.9 40.3h.7M457.4 41.7h.7M456.7 51.9h.7M452.5 42.3h.7M455.1 46.3h.7M454.9 40.1h.7M456.1 43.9h.7M457.6 42.9h.7M452.8 40.7h.7M454.0 45.7h.7M456.8 40.2h.7M455.9 39.5h.7M461.7 46.9h.7M455.2 42.7h.7M457.2 51.2h.7M454.7 45.4h.7M455.5 47.2h.7M453.8 46.4h.7M455.0 51.9h.7M453.0 44.6h.7M456.3 49.7h.7M456.8 44.6h.7M455.9 49.1h.7M452.3 48.5h.7M454.2 49.2h.7M459.5 44.0h.7M454.8 46.1h.7M455.1 50.4h.7M458.0 41.8h.7M453.0 44.6h.7M454.2 48.2h.7M458.3 45.2h.7M453.2 42.5h.7M456.2 46.0h.7M455.2 43.6h.7M457.3 45.6h.7M456.5 50.8h.7M452.5 45.8h.7M454.8 43.3h.7M456.1 42.4h.7M453.7 56.0h.7M459.4 50.1h.7M453.4 42.8h.7M453.5 43.8h.7M455.8 47.7h.7M452.6 48.6h.7M455.8 49.3h.7M455.2 48.0h.7M452.3 47.0h.7M453.8 42.3h.7M455.4 44.2h.7M449.8 49.5h.7M454.1 44.3h.7M455.0 42.7h.7M454.9 45.5h.7M454.6 40.1h.7M454.0 49.6h.7M455.6 44.0h.7M458.1 43.3h.7M459.1 47.8h.7M455.1 41.7h.7M453.8 41.7h.7M457.9 53.3h.7M457.4 44.4h.7M456.1 37.8h.7M453.2 43.4h.7M459.4 47.3h.7M457.7 48.3h.7M453.7 45.2h.7M453.9 39.5h.7M455.9 46.2h.7M456.4 47.8h.7M453.6 40.7h.7M454.8 44.2h.7M457.9 46.2h.7M453.9 46.7h.7M456.0 42.2h.7M458.1 38.7h.7M455.2 48.5h.7M454.9 45.8h.7M451.2 44.2h.7M456.2 41.6h.7M455.7 44.0h.7M455.2 46.5h.7M455.1 47.2h.7M454.7 50.9h.7M456.2 40.6h.7M453.8 47.6h.7M458.5 43.9h.7M455.7 42.5h.7M458.8 47.3h.7M454.9 50.4h.7M450.1 45.9h.7M452.6 45.7h.7M454.2 40.7h.7M455.1 43.5h.7M460.3 45.1h.7M459.8 49.9h.7M455.0 39.0h.7M457.0 47.1h.7M452.2 53.4h.7M456.2 45.3h.7M458.2 49.8h.7M456.6 46.3h.7M456.5 38.1h.7M454.4 43.9h.7M461.4 48.8h.7M455.3 46.6h.7M454.6 47.9h.7M454.8 47.1h.7M456.4 45.1h.7M454.8 42.2h.7M452.6 43.8h.7M454.6 43.9h.7M455.3 46.3h.7M455.5 44.8h.7M458.1 52.0h.7M454.0 46.1h.7M456.1 41.8h.7M456.7 44.0h.7M458.8 42.3h.7M456.4 41.5h.7M452.9 47.3h.7M455.6 49.9h.7M457.2 38.9h.7M458.1 41.0h.7M454.7 41.7h.7M456.2 46.2h.7M455.4 54.1h.7M454.2 43.2h.7M453.2 51.7h.7M453.4 44.8h.7M454.6 44.3h.7M455.9 40.1h.7M454.5 47.8h.7M452.5 47.5h.7M454.0 48.6h.7M455.1 42.3h.7M453.2 52.2h.7M457.2 42.7h.7M461.2 43.5h.7M453.2 49.8h.7M454.8 50.0h.7M454.2 48.9h.7M456.0 46.7h.7M457.1 42.4h.7M454.2 44.9h.7M454.9 45.4h.7M456.7 43.8h.7M454.1 48.8h.7M461.7 49.5h.7M457.3 44.2h.7M453.9 48.1h.7M459.3 46.2h.7M457.2 44.6h.7M453.4 42.8h.7M452.8 45.8h.7M454.5 51.8h.7M458.5 45.4h.7M456.4 44.7h.7M458.4 55.2h.7M456.1 42.5h.7M453.6 44.3h.7M456.0 45.2h.7M454.9 45.7h.7M456.0 44.7h.7M453.1 43.7h.7M452.5 44.0h.7M454.7 47.5h.7M455.5 41.1h.7M453.5 50.4h.7M453.3 46.9h.7M455.5 45.3h.7M456.9 43.8h.7M456.3 44.5h.7M456.8 44.8h.7M453.7 45.7h.7M455.6 44.4h.7M452.8 47.5h.7M452.5 44.4h.7M454.5 48.6h.7M456.7 50.2h.7M451.7 44.5h.7M452.6 47.0h.7M460.2 43.8h.7M457.2 36.4h.7M454.9 48.9h.7M454.3 44.1h.7M455.0 48.3h.7M454.8 43.7h.7M454.0 46.3h.7M456.9 43.8h.7M456.6 46.2h.7M457.3 53.7h.7M456.7 46.9h.7M455.0 42.5h.7M453.1 44.5h.7M454.5 48.0h.7M455.1 50.0h.7M456.1 43.4h.7M454.6 35.5h.7M458.4 44.7h.7M452.0 45.3h.7M453.0 40.7h.7M454.6 40.8h.7M456.7 43.1h.7M453.0 45.7h.7M453.3 42.6h.7M457.4 53.4h.7M451.4 38.4h.7M453.6 47.4h.7M453.9 46.8h.7M453.1 45.0h.7M453.2 37.5h.7M453.3 46.2h.7M455.1 47.2h.7M455.2 38.9h.7M455.1 45.7h.7M458.0 49.4h.7M455.9 43.4h.7M457.6 39.6h.7M453.3 39.8h.7M454.9 48.6h.7M453.2 53.4h.7M453.6 51.9h.7M454.2 47.3h.7M453.1 44.5h.7M454.0 49.8h.7M453.2 47.9h.7M459.3 45.6h.7M454.5 47.2h.7M450.0 44.2h.7M456.3 45.2h.7M452.9 45.6h.7M457.0 48.8h.7M454.5 44.2h.7M454.5 40.0h.7M453.8 41.0h.7M455.1 45.6h.7M460.5 49.5h.7M456.5 43.4h.7M459.1 52.1h.7M455.3 43.2h.7M455.1 44.6h.7M452.2 44.0h.7M454.6 48.6h.7M455.9 44.3h.7M457.8 48.2h.7M455.5 43.0h.7M453.5 47.5h.7M456.2 44.7h.7M456.2 40.4h.7M457.9 47.5h.7M458.5 42.1h.7M456.0 43.2h.7M458.1 55.4h.7M455.5 46.9h.7M458.4 41.9h.7M455.7 43.9h.7M455.7 41.0h.7M452.5 39.9h.7M456.0 46.0h.7M457.2 47.8h.7M457.4 47.3h.7M455.9 47.8h.7M455.0 46.6h.7M455.8 58.6h.7M453.0 48.9h.7M457.2 47.4h.7M455.8 44.0h.7M452.7 44.1h.7M455.4 41.5h.7M456.7 40.1h.7M457.8 54.1h.7M454.7 45.4h.7M459.7 38.3h.7M454.1 40.3h.7M454.1 49.8h.7M457.7 44.1h.7M457.9 40.1h.7M454.3 50.4h.7M460.1 51.3h.7M457.6 45.8h.7M458.2 45.4h.7M458.6 46.6h.7M457.1 39.8h.7M455.1 47.8h.7M452.7 46.0h.7M456.6 44.4h.7M454.0 43.5h.7M450.9 41.3h.7M459.6 41.6h.7M455.1 39.0h.7M460.0 44.0h.7M455.5 47.6h.7M454.9 56.1h.7M456.9 45.4h.7M451.5 46.2h.7M453.9 48.6h.7M454.9 41.2h.7M457.2 46.1h.7M455.0 43.3h.7M454.8 42.4h.7M456.9 39.8h.7M455.3 41.9h.7M457.2 45.9h.7M457.6 41.1h.7M451.0 47.1h.7M454.8 39.4h.7M456.2 49.4h.7M454.2 45.1h.7M453.0 41.8h.7M455.7 44.8h.7M454.9 42.6h.7M457.2 47.2h.7M460.3 44.2h.7M454.2 45.2h.7M453.7 40.5h.7M453.4 43.0h.7M454.8 42.6h.7M456.7 48.8h.7M456.7 46.2h.7M453.9 43.2h.7M452.3 48.6h.7M457.9 51.3h.7M453.1 52.1h.7M456.0 47.1h.7M458.6 47.2h.7M454.5 46.3h.7M454.3 43.9h.7M457.7 40.4h.7M452.1 47.2h.7M456.0 45.7h.7M456.9 42.8h.7M457.5 42.7h.7M453.9 49.3h.7M455.4 45.2h.7M453.8 49.5h.7M457.7 42.5h.7M456.2 46.5h.7M455.3 39.3h.7M457.8 48.2h.7M452.1 41.1h.7M459.3 48.9h.7M452.4 43.0h.7M455.2 43.6h.7M454.5 42.7h.7M454.8 48.6h.7M453.0 50.2h.7M456.5 45.3h.7M458.7 50.2h.7M456.5 48.3h.7M455.6 47.7h.7M458.2 49.7h.7M453.9 43.7h.7M456.2 43.9h.7M454.0 52.0h.7M454.1 46.3h.7M453.7 46.6h.7M457.5 44.6h.7M455.1 46.9h.7M455.4 43.9h.7M456.4 47.1h.7M454.5 48.3h.7M452.6 41.1h.7M457.2 50.7h.7M455.0 39.4h.7M454.2 47.1h.7M457.1 47.7h.7M457.1 40.4h.7M454.2 42.7h.7M454.8 51.1h.7M456.8 42.3h.7M454.9 35.6h.7M457.0 43.2h.7M456.0 46.6h.7M451.7 46.3h.7M454.4 43.7h.7M453.0 44.4h.7M457.0 49.3h.7M456.2 46.0h.7M458.4 45.2h.7M456.1 53.3h.7M452.5 40.2h.7M453.6 43.9h.7M454.8 46.0h.7M459.2 51.3h.7M454.4 48.4h.7M456.3 44.6h.7M457.7 51.8h.7M453.6 49.5h.7M453.9 43.8h.7M456.2 42.8h.7M455.0 45.4h.7M456.5 44.5h.7M455.0 42.1h.7M456.2 47.6h.7M453.3 46.5h.7M458.6 47.8h.7M457.5 47.3h.7M455.1 43.1h.7M454.6 44.0h.7M452.3 39.9h.7M457.9 39.6h.7M452.6 39.0h.7M455.4 43.4h.7M456.0 40.3h.7M457.4 43.3h.7M453.2 48.1h.7M457.2 49.3h.7M451.6 43.1h.7M455.3 43.0h.7M451.1 45.9h.7M455.8 44.9h.7M453.0 41.0h.7M456.4 42.6h.7M455.1 44.9h.7M454.8 47.9h.7M454.8 48.8h.7M459.0 46.9h.7M452.8 42.8h.7M456.9 49.0h.7M453.3 44.3h.7M454.8 40.9h.7M455.7 44.7h.7M458.4 42.3h.7M457.1 45.4h.7M456.6 44.0h.7M454.3 49.0h.7M458.0 44.3h.7M457.3 44.5h.7M455.7 52.8h.7M457.6 47.4h.7M457.0 44.7h.7M455.7 47.9h.7M453.9 44.4h.7M459.1 45.4h.7M455.6 50.4h.7M459.1 45.8h.7M457.8 42.1h.7M453.3 44.7h.7M458.9 44.0h.7M456.3 47.7h.7M452.5 42.8h.7M457.8 49.3h.7M455.7 37.5h.7M456.3 48.9h.7M452.4 46.6h.7M454.6 40.1h.7M457.9 52.3h.7M454.3 49.0h.7M455.3 45.1h.7M454.4 43.6h.7M454.4 47.7h.7M454.6 49.0h.7M455.1 42.7h.7M456.0 52.2h.7M457.2 51.7h.7M451.9 42.1h.7M453.5 45.1h.7M455.6 39.1h.7M454.4 46.0h.7M457.4 38.0h.7M459.0 44.6h.7M457.3 41.2h.7M455.9 49.9h.7M458.2 46.0h.7M452.4 49.1h.7M455.1 45.7h.7M458.5 39.9h.7M460.8 41.7h.7M457.9 53.3h.7M455.8 53.5h.7M453.6 49.0h.7M456.5 43.7h.7M457.0 42.0h.7M452.8 51.4h.7M457.9 42.6h.7M452.5 43.4h.7M454.4 50.9h.7M455.0 48.9h.7M454.8 39.4h.7M459.8 47.4h.7M453.1 45.3h.7M458.1 42.4h.7M453.0 41.3h.7M458.0 55.7h.7M453.8 43.8h.7M455.3 46.2h.7M459.0 48.8h.7M455.5 49.9h.7M456.2 40.7h.7M455.3 54.7h.7M456.6 45.1h.7M456.9 43.7h.7M455.3 43.6h.7M455.1 49.4h.7M455.8 46.2h.7M456.4 45.2h.7M456.5 49.2h.7M455.5 41.0h.7M456.9 39.2h.7M457.4 47.2h.7M453.5 42.8h.7M455.0 36.9h.7M457.8 51.7h.7M455.3 46.7h.7M455.0 47.5h.7M458.5 50.2h.7M453.8 44.1h.7M457.2 43.0h.7M453.7 43.7h.7M456.4 47.9h.7M451.2 43.1h.7M457.8 43.4h.7M455.7 46.5h.7M456.2 46.1h.7M453.3 50.1h.7M457.0 46.1h.7M457.8 45.2h.7M454.0 42.5h.7M456.4 51.3h.7M457.7 44.8h.7M452.1 42.1h.7M453.6 48.7h.7M459.0 35.5h.7M453.9 46.0h.7M459.4 47.4h.7M456.1 51.5h.7M454.8 43.9h.7M453.4 46.0h.7M451.1 43.4h.7M454.1 44.1h.7M455.7 48.8h.7M456.5 43.9h.7M456.8 43.6h.7M453.7 44.0h.7M452.9 48.8h.7M456.4 45.9h.7M458.1 52.8h.7M453.7 44.0h.7M456.7 42.0h.7M456.3 42.7h.7M455.4 48.6h.7M456.9 40.9h.7M456.0 53.5h.7M455.4 44.6h.7M456.2 47.4h.7M452.6 48.9h.7M456.2 46.5h.7M453.5 43.7h.7M452.7 49.1h.7M455.8 35.8h.7M452.9 42.6h.7M455.1 40.3h.7M455.9 45.7h.7M456.0 44.0h.7M458.3 40.8h.7M449.3 41.5h.7M460.0 54.3h.7M453.4 38.9h.7M457.5 37.4h.7M457.3 42.9h.7M454.6 42.6h.7M454.8 45.7h.7M455.1 44.1h.7M455.5 44.9h.7M461.3 52.9h.7M454.0 46.6h.7M459.1 41.6h.7M456.1 43.3h.7M454.4 49.6h.7M456.7 40.0h.7M457.0 40.0h.7M456.1 50.3h.7M454.8 52.0h.7M454.7 41.1h.7M455.0 44.6h.7M458.2 44.1h.7M458.3 46.3h.7M454.6 45.0h.7M456.0 45.1h.7M453.0 45.0h.7M457.8 45.5h.7M457.9 41.9h.7M456.1 45.9h.7M456.3 42.6h.7M456.6 46.1h.7M455.9 43.7h.7M452.3 42.4h.7M450.0 48.2h.7M455.5 47.8h.7M453.3 47.8h.7M455.9 47.9h.7M453.9 49.6h.7M457.1 53.8h.7M458.3 43.5h.7M455.1 51.6h.7M455.5 41.6h.7M456.0 46.7h.7M456.7 48.9h.7M453.9 43.8h.7M455.6 50.4h.7M457.1 44.9h.7M457.9 40.9h.7M455.1 43.4h.7M457.9 40.9h.7M460.3 40.3h.7M458.2 44.8h.7M454.7 46.8h.7M455.0 49.0h.7M458.5 50.0h.7M453.7 46.7h.7M456.6 45.6h.7M457.8 46.7h.7M457.2 50.6h.7M458.4 43.7h.7M454.4 50.8h.7M452.3 38.9h.7M451.7 48.8h.7M456.1 40.2h.7M456.5 40.8h.7M456.1 44.9h.7M454.9 48.2h.7M455.9 42.1h.7M450.9 40.4h.7M453.8 41.8h.7M453.3 44.7h.7M455.7 40.3h.7M455.5 35.5h.7M451.5 43.8h.7M453.9 42.4h.7M454.5 42.5h.7M455.0 45.1h.7M457.1 42.6h.7M453.1 44.8h.7M458.9 47.3h.7M453.3 52.3h.7M453.5 43.7h.7M458.2 44.8h.7M456.3 46.3h.7M454.3 46.9h.7M456.1 44.8h.7M450.8 46.8h.7M455.5 38.8h.7M453.8 41.6h.7M458.3 45.3h.7M455.9 49.8h.7M460.0 35.6h.7M456.4 52.9h.7M456.6 44.0h.7M458.9 47.1h.7M454.7 44.1h.7M456.6 49.5h.7M455.8 39.3h.7M455.0 43.1h.7M453.6 45.3h.7M455.2 42.7h.7M455.9 42.4h.7M457.2 42.1h.7M453.9 38.0h.7M454.1 41.6h.7M456.4 46.2h.7M457.3 48.9h.7M454.2 41.9h.7M454.3 49.6h.7M451.4 47.5h.7M450.7 44.2h.7M452.1 47.2h.7M456.1 51.5h.7M457.9 46.0h.7M458.4 38.8h.7M453.7 40.1h.7M459.6 43.6h.7M452.9 37.2h.7M455.0 48.3h.7M458.8 38.3h.7M452.4 49.4h.7M453.6 48.3h.7M456.3 44.0h.7M454.5 43.9h.7M457.6 48.7h.7M449.7 48.3h.7M456.9 50.9h.7M457.4 46.7h.7M455.6 42.4h.7M456.9 42.1h.7M456.6 47.8h.7M455.6 46.3h.7M452.0 42.8h.7M454.0 44.6h.7M454.5 40.9h.7M453.3 43.9h.7M453.2 46.3h.7M456.5 53.3h.7M457.7 49.2h.7M453.6 44.5h.7M452.8 47.3h.7M455.7 48.1h.7M457.6 43.8h.7M455.9 40.0h.7M454.1 49.2h.7M454.9 48.9h.7M457.1 39.2h.7M456.0 42.6h.7M455.3 42.9h.7M455.3 46.1h.7M458.0 47.9h.7M454.8 46.7h.7M452.8 41.1h.7M456.9 49.3h.7M453.0 47.7h.7M454.7 42.5h.7M454.6 44.9h.7M456.1 49.8h.7M454.8 47.6h.7M454.2 46.0h.7M455.9 43.6h.7M455.7 48.1h.7M459.5 46.4h.7M453.3 41.2h.7M454.9 48.5h.7M453.3 55.2h.7M454.7 49.2h.7M450.7 49.3h.7M454.8 42.5h.7M455.4 50.3h.7M455.4 50.9h.7M457.0 48.9h.7M455.9 51.6h.7M458.1 49.1h.7M456.0 49.2h.7M457.4 44.8h.7M458.3 39.4h.7M455.7 48.5h.7M456.8 45.4h.7M455.4 45.0h.7M458.5 49.5h.7M453.4 49.3h.7M457.2 40.5h.7M456.4 46.2h.7M457.5 53.6h.7M457.0 53.8h.7M454.8 44.0h.7M456.6 45.9h.7M454.2 50.9h.7M461.1 43.2h.7M456.3 49.2h.7M456.3 41.2h.7M457.4 43.9h.7M455.1 45.7h.7M458.7 41.8h.7M453.8 40.1h.7M456.3 52.5h.7M458.7 44.5h.7M455.4 46.6h.7M456.1 47.8h.7M458.5 41.4h.7M454.3 40.3h.7M457.4 46.6h.7M454.8 48.8h.7M454.4 46.4h.7M454.8 53.4h.7M457.2 51.3h.7M455.2 43.3h.7M454.7 48.1h.7M453.6 43.8h.7M457.4 53.6h.7M456.1 45.4h.7M454.6 41.4h.7M455.8 45.2h.7M455.3 41.2h.7M456.8 48.1h.7M454.9 47.0h.7M453.3 51.2h.7M456.3 43.7h.7M453.3 47.6h.7M453.9 48.8h.7M454.6 41.0h.7M454.2 54.3h.7M457.7 43.1h.7M457.1 40.6h.7M456.1 42.3h.7M451.7 43.0h.7M452.0 44.6h.7M454.0 44.8h.7M455.4 53.1h.7M455.5 52.7h.7M454.9 44.0h.7M455.5 50.0h.7M456.1 49.1h.7M456.6 41.5h.7M457.0 40.7h.7M456.8 43.4h.7M458.3 42.7h.7M455.8 47.9h.7M454.5 53.6h.7M454.9 42.3h.7M456.0 44.8h.7M458.3 40.7h.7M455.7 43.4h.7M454.2 47.3h.7M453.9 39.3h.7M457.8 50.1h.7M453.2 43.3h.7M458.2 36.7h.7M458.1 46.6h.7M457.5 46.1h.7M456.5 53.3h.7M456.9 45.7h.7M451.2 45.1h.7M456.0 47.3h.7M453.7 45.4h.7M455.7 43.6h.7M455.5 43.8h.7M455.9 42.9h.7M453.3 44.2h.7M456.9 50.9h.7M454.2 50.2h.7M458.7 36.4h.7M454.2 49.8h.7M453.7 50.5h.7M456.5 41.5h.7M456.3 49.5h.7M455.7 46.8h.7M458.3 44.9h.7M457.5 37.4h.7M451.6 50.9h.7M455.0 41.1h.7M457.7 48.2h.7M455.1 47.8h.7M455.8 37.7h.7M456.2 46.4h.7M455.6 43.5h.7M455.5 46.6h.7M456.3 35.1h.7M455.5 41.7h.7M458.4 43.3h.7M455.1 46.7h.7M455.2 43.8h.7M452.8 47.2h.7M454.2 45.5h.7M458.9 49.8h.7M458.1 44.5h.7M454.3 47.9h.7M453.5 46.5h.7M455.0 43.5h.7M455.5 43.0h.7M455.9 42.0h.7M454.0 41.7h.7M456.9 40.2h.7M455.1 47.1h.7M454.8 47.0h.7M456.5 42.3h.7M457.9 46.0h.7M458.6 50.8h.7M457.7 46.7h.7M453.6 52.0h.7M455.8 37.3h.7M459.4 51.2h.7M455.3 41.7h.7M453.6 40.9h.7M454.4 44.1h.7M455.2 44.3h.7M455.8 42.6h.7M454.5 48.6h.7M456.4 43.7h.7M454.6 41.4h.7M458.7 48.5h.7M455.0 42.3h.7M457.1 47.4h.7M456.2 49.4h.7M455.5 44.2h.7M453.3 43.4h.7M451.8 47.3h.7M454.7 49.1h.7M451.6 44.2h.7M461.3 45.7h.7M455.9 48.7h.7M459.5 39.3h.7M453.5 43.4h.7M454.4 43.9h.7M458.1 41.5h.7M453.8 45.1h.7M454.4 42.5h.7M452.8 44.9h.7M457.5 43.0h.7M454.8 41.9h.7M453.2 43.1h.7M457.0 42.6h.7M453.1 51.1h.7M454.6 46.0h.7M452.3 43.4h.7M458.4 46.7h.7M452.1 39.2h.7M456.0 37.5h.7M454.0 45.0h.7M455.2 48.3h.7M463.0 46.1h.7M455.1 41.8h.7M456.3 52.8h.7M456.4 46.9h.7M455.5 46.3h.7M457.0 46.7h.7M456.3 49.4h.7M456.6 42.0h.7M453.4 47.5h.7M456.2 44.4h.7M458.1 51.9h.7M456.2 52.4h.7M453.7 40.9h.7M454.0 44.1h.7M452.2 45.7h.7M455.2 44.3h.7M456.2 43.6h.7M456.1 48.4h.7M458.4 41.7h.7M456.8 47.4h.7M454.2 42.8h.7M457.2 49.1h.7M456.9 47.2h.7M456.4 44.6h.7M454.0 45.4h.7M459.8 30.8h.7M451.6 42.2h.7M457.3 46.5h.7M452.4 47.4h.7M455.1 48.3h.7M450.6 47.9h.7M456.2 39.9h.7M453.1 45.4h.7M456.0 45.6h.7M451.4 46.2h.7M456.7 45.7h.7M455.6 45.6h.7M455.3 43.9h.7M454.6 42.8h.7M454.0 50.6h.7M457.3 46.4h.7M453.2 52.0h.7M455.9 51.4h.7M453.7 44.2h.7M459.1 39.8h.7M455.4 48.1h.7M458.7 45.5h.7M458.9 46.2h.7M459.3 48.6h.7M452.2 50.1h.7M457.4 48.3h.7M461.0 46.1h.7M455.3 43.8h.7M454.2 42.3h.7M459.0 46.1h.7M455.6 42.0h.7M456.7 46.4h.7M458.8 53.0h.7M457.8 38.9h.7M456.1 48.1h.7M459.2 50.5h.7M453.7 39.5h.7M454.4 41.7h.7M457.7 40.3h.7M459.8 43.8h.7M456.9 51.5h.7M457.0 47.7h.7M455.2 50.2h.7M453.2 46.8h.7M452.5 46.2h.7M456.5 46.2h.7M457.9 42.3h.7M457.5 43.1h.7M452.6 44.7h.7M460.4 43.6h.7M454.5 42.6h.7M459.2 46.4h.7M457.2 39.4h.7M453.4 40.1h.7M455.0 42.4h.7M454.0 40.4h.7M451.6 37.2h.7M452.9 40.0h.7M454.6 40.1h.7M454.7 39.6h.7M457.0 43.2h.7M454.8 41.2h.7M456.0 36.4h.7M454.0 39.6h.7M457.1 39.8h.7M451.5 44.0h.7M455.1 38.0h.7M454.1 40.2h.7M451.8 42.4h.7M454.7 38.8h.7M455.8 40.5h.7M457.5 43.0h.7M456.2 41.0h.7M450.8 40.8h.7M453.0 39.1h.7M453.2 42.8h.7M455.0 42.2h.7M457.0 42.5h.7M458.3 42.4h.7M453.6 36.8h.7M454.9 36.9h.7M456.1 40.0h.7M450.5 43.4h.7M455.1 46.6h.7M456.1 39.4h.7M455.2 41.2h.7M455.8 41.2h.7M456.1 36.5h.7M452.3 39.7h.7M457.2 38.6h.7M454.8 41.9h.7M453.7 43.4h.7M454.4 39.0h.7M456.0 40.1h.7M455.1 39.7h.7M451.8 44.4h.7M456.5 40.6h.7M458.3 40.6h.7M452.9 44.3h.7M455.5 41.6h.7M457.7 41.2h.7M450.7 46.5h.7M459.8 41.3h.7M459.1 43.1h.7M455.3 40.1h.7M453.8 38.7h.7M455.7 38.1h.7M456.0 36.8h.7M459.1 42.0h.7M453.7 42.4h.7M460.4 41.8h.7M456.7 39.7h.7M460.4 43.9h.7M451.2 39.8h.7M456.5 43.2h.7M451.4 39.9h.7M451.2 40.3h.7M456.1 37.6h.7M455.4 41.2h.7M455.2 42.7h.7M455.2 43.5h.7M456.4 39.7h.7M459.0 45.0h.7M452.4 38.5h.7M456.2 40.0h.7M454.7 41.3h.7M455.9 43.7h.7M456.7 41.5h.7M455.5 42.1h.7M456.1 38.9h.7M453.6 39.8h.7M455.3 41.9h.7M455.4 38.7h.7M451.2 39.9h.7M452.6 38.9h.7M457.1 41.6h.7M456.0 41.2h.7M457.0 39.6h.7M453.6 37.6h.7M455.7 41.9h.7M457.4 42.7h.7M454.6 42.3h.7M452.0 41.9h.7M452.9 41.2h.7M454.3 40.5h.7M456.0 37.1h.7M455.6 40.0h.7M453.0 40.8h.7M454.9 41.2h.7M456.7 39.2h.7M455.1 42.6h.7M455.9 41.4h.7M458.5 36.4h.7M458.9 45.9h.7M454.0 44.0h.7M456.5 39.0h.7M454.4 43.3h.7M455.0 39.3h.7M454.0 44.9h.7M451.8 43.6h.7M451.6 43.8h.7M458.9 39.2h.7M456.3 41.7h.7M455.8 44.6h.7M453.4 35.3h.7M453.4 38.6h.7M457.9 39.3h.7M454.1 43.2h.7M452.9 35.6h.7M453.9 39.0h.7M456.9 40.9h.7M455.9 38.3h.7M453.9 40.1h.7M456.7 43.1h.7M455.6 43.8h.7M451.1 38.5h.7M460.0 40.7h.7M460.3 40.3h.7M454.0 39.8h.7M456.1 38.1h.7M457.6 40.2h.7M454.4 41.0h.7M455.2 44.0h.7M455.4 43.5h.7M452.7 43.2h.7M455.4 41.4h.7M455.9 40.2h.7M457.3 39.9h.7M453.3 41.5h.7M455.8 40.4h.7M455.9 42.4h.7M457.1 39.5h.7M453.4 37.9h.7M453.0 40.2h.7M455.0 39.9h.7M456.9 42.6h.7M457.3 41.7h.7M454.2 42.4h.7M457.9 39.6h.7M458.4 40.3h.7M453.9 39.8h.7M454.2 42.2h.7M455.0 43.0h.7M454.3 41.8h.7M453.6 38.5h.7M457.3 41.9h.7M457.4 34.8h.7M451.0 39.0h.7M458.8 41.2h.7M453.2 39.4h.7M455.4 41.6h.7M454.4 39.7h.7M451.2 40.0h.7M459.2 38.7h.7M456.0 37.4h.7M457.9 41.6h.7M454.1 45.1h.7M452.9 37.7h.7M454.8 41.6h.7M458.9 41.5h.7M454.3 39.5h.7M458.9 39.5h.7M456.9 39.2h.7M457.1 41.3h.7M451.8 39.3h.7M453.6 40.2h.7M457.5 39.1h.7M456.4 37.8h.7M458.0 39.1h.7M455.8 40.3h.7M453.9 36.3h.7M454.4 41.1h.7M458.1 42.2h.7M458.3 38.5h.7M453.7 37.6h.7M455.3 41.2h.7M456.8 42.7h.7M456.7 37.5h.7M458.6 36.6h.7M454.8 40.7h.7M453.7 40.7h.7M459.6 39.2h.7M457.2 43.5h.7M456.8 42.4h.7M456.1 41.9h.7M454.0 38.6h.7M458.3 41.5h.7M456.3 40.7h.7M455.3 41.5h.7M453.8 42.5h.7M454.4 41.3h.7M453.6 40.9h.7M452.8 41.2h.7M457.5 40.2h.7M453.1 41.5h.7M456.0 41.7h.7M456.9 42.5h.7M458.1 38.7h.7M458.6 37.6h.7M453.0 38.8h.7M453.9 40.6h.7M456.4 42.2h.7M453.9 37.4h.7M456.4 41.5h.7M457.9 39.2h.7M458.6 40.3h.7M454.6 38.6h.7M450.4 38.6h.7M453.9 43.5h.7M454.6 42.2h.7M456.1 40.0h.7M454.0 38.0h.7M455.0 37.6h.7M456.9 39.1h.7M454.5 35.6h.7M453.4 43.9h.7M455.2 40.7h.7M455.5 42.5h.7M452.2 41.0h.7M458.0 40.3h.7M458.9 40.6h.7M457.9 40.4h.7M454.5 41.4h.7M452.6 41.4h.7M453.6 44.2h.7M453.0 38.5h.7M460.5 43.8h.7M455.8 44.4h.7M454.1 43.1h.7M456.3 44.1h.7M456.0 41.4h.7M449.9 37.3h.7M452.2 36.3h.7M451.4 42.2h.7M450.8 38.0h.7M454.6 41.5h.7M456.8 42.4h.7M452.5 40.9h.7M454.6 41.9h.7M453.5 41.5h.7M452.5 37.5h.7M456.6 40.9h.7M457.4 39.6h.7M460.5 39.7h.7M451.3 40.7h.7M458.3 41.0h.7M457.6 40.4h.7M451.4 37.9h.7M455.2 44.0h.7M454.2 41.3h.7M452.8 40.2h.7M457.6 41.8h.7M461.1 41.9h.7M457.4 44.5h.7M455.9 42.2h.7M460.1 41.1h.7M457.3 39.5h.7M454.2 38.4h.7M452.2 38.1h.7M453.7 42.9h.7M451.9 38.8h.7M454.7 42.2h.7M457.7 42.9h.7M458.0 44.2h.7M455.2 42.3h.7M455.5 44.1h.7M450.5 40.7h.7M457.7 40.2h.7M458.8 41.9h.7M455.8 40.5h.7M457.9 43.2h.7M456.0 38.6h.7M455.2 42.6h.7M456.8 38.6h.7M453.8 41.6h.7M455.5 38.9h.7M457.2 45.5h.7M454.3 37.5h.7M456.9 39.5h.7M455.1 41.0h.7M452.1 38.1h.7M459.5 39.1h.7M461.0 40.3h.7M459.0 42.2h.7M455.7 39.6h.7M457.2 42.0h.7M456.0 45.9h.7M452.1 42.5h.7M454.7 42.8h.7M456.3 42.3h.7M452.7 41.6h.7M457.1 43.6h.7M452.3 42.7h.7M454.1 38.7h.7M454.5 38.9h.7M453.8 44.5h.7M456.7 42.3h.7M455.1 39.6h.7M455.6 41.9h.7M455.5 41.9h.7M452.9 40.1h.7M458.0 38.0h.7M452.6 38.0h.7M457.8 40.9h.7M454.3 37.7h.7M454.3 41.7h.7M454.5 38.9h.7M453.4 41.3h.7M459.9 38.4h.7M449.6 43.7h.7M456.7 38.8h.7M454.4 37.4h.7M456.0 41.0h.7M458.1 39.7h.7M453.7 39.3h.7M455.0 44.0h.7M452.7 39.8h.7M456.7 40.7h.7M452.4 41.3h.7M454.9 40.8h.7M455.4 38.1h.7M458.2 43.3h.7M454.6 42.2h.7M458.5 41.7h.7M451.4 38.7h.7M459.1 40.3h.7M454.9 44.9h.7M458.5 39.3h.7M454.8 38.7h.7M457.7 40.8h.7M455.3 43.8h.7M458.1 36.6h.7M452.8 40.3h.7M455.4 47.0h.7M450.0 41.3h.7M455.0 43.3h.7M453.6 38.3h.7M454.6 42.2h.7M454.2 37.6h.7M458.1 43.7h.7M456.6 36.2h.7M455.6 37.1h.7M452.7 41.2h.7M453.2 43.3h.7M458.1 42.0h.7M456.0 38.8h.7M457.0 40.5h.7M455.9 42.0h.7M452.7 38.7h.7M456.2 43.0h.7M455.6 36.7h.7M453.4 40.1h.7M453.2 38.3h.7M455.1 42.7h.7M453.1 40.7h.7M455.3 34.3h.7M454.3 37.4h.7M458.9 41.6h.7M452.9 43.5h.7M456.0 38.7h.7M455.3 41.5h.7M451.1 42.6h.7M457.2 40.9h.7M452.0 36.7h.7M453.3 37.7h.7M449.8 43.5h.7M451.1 39.7h.7M454.5 40.2h.7M456.0 40.5h.7M457.1 42.7h.7M454.1 38.8h.7M452.8 40.3h.7M457.0 43.2h.7M456.6 42.7h.7M455.2 41.0h.7M460.6 39.4h.7M455.9 42.7h.7M456.1 41.1h.7M454.5 40.8h.7M455.5 39.9h.7M451.3 44.0h.7M456.2 40.2h.7M455.2 39.1h.7M456.4 42.1h.7M455.0 42.4h.7M455.3 37.4h.7M454.5 35.3h.7M452.7 40.5h.7M452.0 37.2h.7M455.0 41.8h.7M454.5 41.0h.7M455.3 35.3h.7M457.6 41.7h.7M455.8 38.7h.7M461.0 37.3h.7M453.0 39.1h.7M454.6 39.2h.7M453.8 41.3h.7M451.0 39.2h.7M454.5 43.8h.7M459.9 43.0h.7M450.8 39.2h.7M457.5 40.9h.7M455.6 38.8h.7M461.3 38.4h.7M457.5 37.4h.7M457.2 40.8h.7M453.1 38.9h.7M455.0 40.5h.7M455.7 40.1h.7M454.5 39.1h.7M453.8 39.2h.7M451.4 39.8h.7M452.1 39.3h.7M457.6 39.8h.7M459.0 42.7h.7M458.8 37.2h.7M452.5 42.1h.7M456.1 39.4h.7M457.0 37.5h.7M457.4 38.5h.7M457.5 40.2h.7M454.4 42.7h.7M455.6 42.4h.7M455.8 39.4h.7M451.3 40.4h.7M452.4 43.2h.7M455.3 43.3h.7M456.7 39.9h.7M455.5 37.1h.7M456.8 42.1h.7M455.5 39.7h.7M453.4 42.6h.7M453.6 39.2h.7M454.0 43.3h.7M455.1 37.8h.7M451.2 37.5h.7M451.1 40.3h.7M461.4 40.8h.7M454.7 37.4h.7M454.5 38.2h.7M455.3 42.8h.7M451.6 30.7h.7M447.6 28.8h.7M451.8 32.5h.7M450.4 33.5h.7M452.7 35.6h.7M451.8 36.1h.7M446.0 33.1h.7M445.9 34.1h.7M454.5 37.2h.7M448.6 33.6h.7M448.8 34.8h.7M451.4 31.8h.7M448.2 38.0h.7M451.6 33.5h.7M454.8 34.4h.7M449.9 31.9h.7M456.5 34.2h.7M451.0 29.7h.7M454.7 36.6h.7M454.6 29.9h.7M451.2 34.8h.7M446.7 33.0h.7M446.7 32.8h.7M449.0 32.0h.7M452.4 34.0h.7M447.7 34.8h.7M455.8 34.7h.7M451.6 33.3h.7M448.7 33.7h.7M447.4 32.0h.7M445.7 33.5h.7M450.3 36.9h.7M449.0 33.0h.7M448.3 32.8h.7M447.4 32.8h.7M453.3 31.2h.7M450.0 32.6h.7M450.6 35.6h.7M452.4 33.6h.7M447.8 37.7h.7M444.0 33.4h.7M452.0 32.7h.7M448.4 33.7h.7M447.0 35.2h.7M447.6 33.8h.7M452.2 31.7h.7M449.9 35.7h.7M447.6 32.2h.7M447.9 33.1h.7M452.0 33.4h.7M445.8 32.0h.7M452.2 37.0h.7M452.9 31.8h.7M449.7 34.3h.7M447.3 37.3h.7M452.7 34.9h.7M447.3 33.2h.7M451.7 36.6h.7M447.2 32.3h.7M443.7 32.4h.7M452.8 34.5h.7M455.1 35.5h.7M454.9 35.6h.7M454.7 33.4h.7M451.9 33.7h.7M451.8 38.9h.7M451.5 33.9h.7M449.1 31.2h.7M447.7 33.6h.7M447.6 30.0h.7M446.5 32.8h.7M450.0 33.7h.7M448.2 29.9h.7M448.0 33.3h.7M450.7 35.2h.7M455.5 36.4h.7M450.9 34.1h.7M451.2 33.5h.7M450.4 32.8h.7M449.2 35.3h.7M451.3 32.1h.7M451.6 32.9h.7M454.6 33.8h.7M449.0 32.3h.7M449.7 32.6h.7M452.9 33.2h.7M447.6 33.3h.7M448.6 34.3h.7M449.3 31.1h.7M449.5 35.6h.7M446.0 33.9h.7M444.2 31.5h.7M446.7 33.8h.7M448.3 34.6h.7M446.8 31.9h.7M451.4 32.9h.7M448.7 30.3h.7M450.2 34.8h.7M450.8 34.4h.7M449.4 34.3h.7M447.4 34.1h.7M447.3 35.5h.7M450.7 31.4h.7M448.0 33.9h.7M453.2 32.1h.7M450.4 33.2h.7M455.9 33.2h.7M445.5 31.6h.7M448.6 33.3h.7M446.3 34.6h.7M456.5 38.5h.7M453.0 36.3h.7M450.6 32.9h.7M447.0 33.4h.7M449.6 33.3h.7M444.3 30.7h.7M449.8 36.6h.7M447.2 34.0h.7M449.4 36.0h.7M446.9 31.3h.7M442.9 32.0h.7M445.7 35.3h.7M447.2 33.0h.7M447.9 32.7h.7M449.6 33.2h.7M450.1 33.0h.7M449.3 34.6h.7M448.0 30.7h.7M447.2 35.7h.7M449.7 33.2h.7M448.1 38.9h.7M450.4 35.0h.7M448.5 32.6h.7M446.1 31.8h.7M453.7 34.7h.7M446.3 33.7h.7M452.4 34.8h.7M455.0 33.3h.7M450.6 35.4h.7M449.7 31.1h.7M450.2 35.8h.7M453.0 36.4h.7M448.0 32.7h.7M453.0 40.2h.7M449.3 33.0h.7M448.5 31.9h.7M448.1 29.2h.7M452.9 35.2h.7M445.1 32.7h.7M455.4 34.6h.7M448.4 33.0h.7M450.8 32.4h.7M449.8 35.8h.7M449.7 31.3h.7M446.9 32.8h.7M447.6 32.3h.7M446.7 31.8h.7M451.4 32.7h.7M453.7 35.3h.7M450.3 34.4h.7M450.0 36.9h.7M444.1 32.2h.7M450.1 32.3h.7M450.8 33.5h.7M457.7 34.7h.7M452.5 32.1h.7M446.2 35.3h.7M447.7 33.4h.7M454.8 32.8h.7M450.5 32.9h.7M448.7 33.1h.7M445.7 34.9h.7M448.2 35.7h.7M448.6 34.2h.7M446.0 32.3h.7M450.8 35.3h.7M450.3 31.5h.7M445.8 35.3h.7M451.6 32.3h.7M451.6 31.3h.7M453.5 35.2h.7M448.9 35.5h.7M449.3 32.1h.7M454.7 35.7h.7M452.3 35.6h.7M452.9 34.4h.7M446.1 32.1h.7M449.7 33.3h.7M447.7 34.4h.7M449.4 35.5h.7M454.1 33.8h.7M450.7 33.0h.7M445.8 32.9h.7M444.4 32.4h.7M452.8 33.1h.7M446.1 31.6h.7M457.4 38.6h.7M448.5 34.5h.7M450.2 30.7h.7M449.2 33.3h.7M450.8 34.3h.7M449.9 35.5h.7M455.1 36.2h.7M447.2 31.8h.7M443.4 33.6h.7M450.8 31.6h.7M450.3 33.8h.7M447.8 32.0h.7M447.6 35.5h.7M451.0 32.9h.7M454.4 36.0h.7M450.9 35.8h.7M448.2 33.8h.7M450.0 34.6h.7M450.0 29.9h.7M449.1 31.6h.7M449.0 31.8h.7M449.1 33.1h.7M441.2 30.1h.7M450.6 35.2h.7M449.2 32.3h.7M449.0 33.5h.7M456.3 33.6h.7M455.2 32.9h.7M450.6 31.3h.7M446.3 32.7h.7M447.8 34.5h.7M455.2 33.7h.7M453.0 34.6h.7M449.0 32.6h.7M449.7 33.3h.7M450.1 35.7h.7M449.8 33.0h.7M453.1 34.1h.7M446.5 34.7h.7M452.0 35.9h.7M449.9 31.6h.7M447.2 33.1h.7M447.3 33.7h.7M454.5 35.6h.7M446.4 32.5h.7M450.5 31.5h.7M450.3 34.4h.7M448.6 30.9h.7M453.0 32.8h.7M454.8 32.4h.7M449.8 34.7h.7M448.5 32.7h.7M448.1 32.2h.7M449.6 34.5h.7M453.2 33.0h.7M451.6 29.4h.7M445.5 33.1h.7M449.3 33.8h.7M448.2 32.9h.7M446.2 32.8h.7M449.0 31.6h.7M454.4 33.7h.7M444.6 34.2h.7M451.6 36.8h.7M451.7 34.5h.7M449.0 32.8h.7M447.7 32.0h.7M446.2 32.5h.7M447.9 30.8h.7M444.1 34.0h.7M449.7 35.5h.7M444.7 31.0h.7M454.0 38.4h.7M449.2 33.6h.7M443.9 29.2h.7M451.3 32.5h.7M451.4 33.9h.7M446.9 32.7h.7M449.5 34.9h.7M450.5 36.2h.7M454.0 34.4h.7M448.5 33.6h.7M446.3 33.3h.7M442.2 35.7h.7M447.1 32.4h.7M448.5 33.3h.7M448.0 35.2h.7M453.0 32.6h.7M453.5 34.7h.7M443.6 33.0h.7M452.5 34.7h.7M451.6 33.2h.7M451.2 30.8h.7M452.6 35.8h.7M448.4 30.7h.7M444.9 33.3h.7M450.0 35.2h.7M451.2 33.3h.7M454.6 33.3h.7M451.0 32.1h.7M450.3 32.8h.7M454.2 35.9h.7M447.0 34.2h.7M449.5 33.0h.7M446.9 34.7h.7M446.8 34.9h.7M451.9 32.4h.7M443.5 32.4h.7M454.0 37.7h.7M451.9 34.1h.7M446.8 34.5h.7M456.1 35.1h.7M450.4 34.1h.7M450.4 34.9h.7M447.6 34.2h.7M447.3 35.6h.7M450.6 30.1h.7M452.4 34.0h.7M451.5 35.0h.7M448.6 31.3h.7M449.9 35.9h.7M443.7 32.3h.7M445.5 34.1h.7M447.7 33.3h.7M453.5 35.3h.7M447.4 34.1h.7M445.3 34.7h.7M453.2 32.5h.7M449.6 37.6h.7M447.3 32.0h.7M446.8 31.2h.7M449.2 29.2h.7M449.4 34.0h.7M454.4 32.7h.7M454.3 42.1h.7M450.9 39.2h.7M455.0 40.8h.7M458.3 43.1h.7M451.1 33.9h.7M447.5 39.4h.7M457.4 34.7h.7M453.0 40.4h.7M453.4 38.1h.7M460.9 42.3h.7M459.7 39.1h.7M454.0 32.4h.7M448.2 33.5h.7M450.1 43.6h.7M452.6 39.8h.7M454.3 39.4h.7M453.1 38.4h.7M446.9 35.2h.7M451.3 40.0h.7M458.4 35.6h.7M459.2 43.5h.7M447.6 35.1h.7M454.1 33.7h.7M452.0 28.3h.7M458.6 42.3h.7M454.4 43.2h.7M449.9 42.7h.7M447.1 33.4h.7M451.8 41.4h.7M452.1 35.0h.7M445.9 35.6h.7M448.0 34.5h.7M456.5 40.4h.7M454.7 43.0h.7M456.8 40.4h.7M450.5 32.2h.7M455.2 40.6h.7M448.9 41.4h.7M455.2 38.7h.7M456.7 41.0h.7M443.2 39.6h.7M459.0 43.0h.7M455.7 37.9h.7M453.8 45.1h.7M455.8 37.9h.7M452.4 34.1h.7M458.0 41.4h.7M456.0 35.8h.7M457.2 42.8h.7M450.9 33.9h.7M452.8 38.1h.7M447.3 42.7h.7M453.9 43.8h.7M453.8 39.7h.7M454.4 42.8h.7M455.5 39.4h.7M448.1 40.2h.7M452.2 41.3h.7M455.3 32.8h.7M458.0 35.6h.7M460.3 35.7h.7M453.4 34.5h.7M458.7 40.6h.7M453.1 41.3h.7M452.6 36.1h.7M446.9 39.8h.7M456.9 40.4h.7M453.5 29.9h.7M458.6 35.7h.7M445.5 32.9h.7M455.5 39.9h.7M455.8 27.7h.7M450.0 44.6h.7M453.9 33.4h.7M448.7 39.1h.7M452.4 40.5h.7M450.3 28.5h.7M451.0 41.4h.7M457.7 36.5h.7M447.3 36.2h.7M452.3 41.2h.7M456.4 42.6h.7M457.1 39.1h.7M451.3 36.7h.7M462.2 47.1h.7M448.4 41.8h.7M453.3 35.9h.7M451.4 37.2h.7M450.3 44.4h.7M453.3 36.4h.7M456.4 38.4h.7M456.6 35.4h.7M450.8 36.3h.7M456.1 35.8h.7M450.6 36.3h.7M449.9 37.0h.7M452.5 35.6h.7M456.1 41.4h.7M451.0 39.0h.7M456.2 43.8h.7M458.0 37.8h.7M447.8 48.3h.7M455.8 33.8h.7M452.0 34.0h.7M458.0 35.5h.7M457.1 40.3h.7M450.2 36.7h.7M446.4 30.0h.7M459.0 40.7h.7M450.8 32.5h.7M448.2 40.4h.7M449.5 45.4h.7M448.5 38.2h.7M451.7 33.2h.7M453.0 31.3h.7M452.9 39.1h.7M457.6 36.4h.7M451.6 38.7h.7M451.8 43.5h.7M453.8 30.9h.7M449.3 38.2h.7M451.7 39.5h.7M451.0 32.7h.7M452.9 40.6h.7M451.6 34.9h.7M451.2 44.6h.7M453.8 40.2h.7M452.5 34.6h.7M455.5 37.9h.7M449.2 39.9h.7M453.4 44.6h.7M447.1 30.7h.7M458.3 38.7h.7M452.6 40.0h.7M449.9 40.0h.7M450.9 42.8h.7M453.7 32.5h.7M452.9 47.7h.7M458.4 40.5h.7M453.5 41.8h.7M450.9 42.6h.7M449.9 42.5h.7M448.4 36.2h.7M451.7 43.4h.7M449.3 32.8h.7M454.8 40.3h.7M448.8 47.2h.7M450.2 35.1h.7M457.1 33.3h.7M451.4 35.4h.7M459.8 39.9h.7M450.8 52.3h.7M459.6 41.3h.7M454.5 47.2h.7M447.7 40.9h.7M453.2 51.9h.7M446.9 49.8h.7M448.9 39.4h.7M451.0 39.7h.7M466.1 41.5h.7M454.0 61.9h.7M447.5 35.2h.7M441.4 50.4h.7M458.3 48.4h.7M453.7 43.2h.7M448.8 32.9h.7M454.3 55.2h.7M449.1 45.3h.7M448.4 37.3h.7M447.6 49.0h.7M461.3 45.5h.7M460.6 43.1h.7M448.0 43.8h.7M455.5 50.5h.7M460.4 53.6h.7M452.2 56.6h.7M452.4 46.3h.7M451.5 48.6h.7M455.7 43.7h.7M455.7 46.6h.7M447.3 39.2h.7M448.0 51.4h.7M448.8 37.4h.7M449.1 50.4h.7M453.9 52.2h.7M452.9 47.0h.7M457.3 44.7h.7M455.1 50.9h.7M449.7 52.4h.7M451.8 43.0h.7M437.7 58.2h.7M436.6 65.2h.7M428.9 59.3h.7M450.2 41.4h.7M426.2 52.7h.7M442.4 40.3h.7M444.7 33.2h.7" stroke="#000" stroke-width="0.7" fill="none"/>
<text x="455.60" y="27.60" font-family="Liberation Sans" font-size="7.2" text-anchor="start" fill="#000" textLength="20.40" lengthAdjust="spacingAndGlyphs" stroke="#000" stroke-width="0.12">23.3%</text>
<text x="455.60" y="77.40" font-family="Liberation Sans" font-size="7.2" text-anchor="start" fill="#000" textLength="19.80" lengthAdjust="spacingAndGlyphs" stroke="#000" stroke-width="0.12">69.3%</text>
<line x1="315.00" y1="187.70" x2="394.00" y2="187.70" stroke="#a0a0a0" stroke-width="1.0" />
<line x1="393.80" y1="114.00" x2="393.80" y2="187.70" stroke="#c8c8c8" stroke-width="1.0" />
<rect x="325.00" y="118.20" width="64.40" height="60.00" fill="#fff" stroke="#1a1a1a" stroke-width="0.85"/>
<line x1="351.40" y1="118.20" x2="351.40" y2="178.20" stroke="#2a2a2a" stroke-width="0.85" />
<line x1="325.00" y1="136.20" x2="389.40" y2="136.20" stroke="#2a2a2a" stroke-width="0.85" />
<path d="M325.00 178.20v1.7M325.00 178.20h-1.7M329.85 178.20v0.9M325.00 173.68h-0.9M332.68 178.20v0.9M325.00 171.04h-0.9M334.69 178.20v0.9M325.00 169.17h-0.9M336.25 178.20v0.9M325.00 167.72h-0.9M337.53 178.20v0.9M325.00 166.53h-0.9M338.61 178.20v0.9M325.00 165.52h-0.9M339.54 178.20v0.9M325.00 164.65h-0.9M340.36 178.20v0.9M325.00 163.89h-0.9M341.10 178.20v1.7M325.00 163.20h-1.7M345.95 178.20v0.9M325.00 158.68h-0.9M348.78 178.20v0.9M325.00 156.04h-0.9M350.79 178.20v0.9M325.00 154.17h-0.9M352.35 178.20v0.9M325.00 152.72h-0.9M353.63 178.20v0.9M325.00 151.53h-0.9M354.71 178.20v0.9M325.00 150.52h-0.9M355.64 178.20v0.9M325.00 149.65h-0.9M356.46 178.20v0.9M325.00 148.89h-0.9M357.20 178.20v1.7M325.00 148.20h-1.7M362.05 178.20v0.9M325.00 143.68h-0.9M364.88 178.20v0.9M325.00 141.04h-0.9M366.89 178.20v0.9M325.00 139.17h-0.9M368.45 178.20v0.9M325.00 137.72h-0.9M369.73 178.20v0.9M325.00 136.53h-0.9M370.81 178.20v0.9M325.00 135.52h-0.9M371.74 178.20v0.9M325.00 134.65h-0.9M372.56 178.20v0.9M325.00 133.89h-0.9M373.30 178.20v1.7M325.00 133.20h-1.7M378.15 178.20v0.9M325.00 128.68h-0.9M380.98 178.20v0.9M325.00 126.04h-0.9M382.99 178.20v0.9M325.00 124.17h-0.9M384.55 178.20v0.9M325.00 122.72h-0.9M385.83 178.20v0.9M325.00 121.53h-0.9M386.91 178.20v0.9M325.00 120.52h-0.9M387.84 178.20v0.9M325.00 119.65h-0.9M388.66 178.20v0.9M325.00 118.89h-0.9M389.40 178.20v1.7M325.00 118.20h-1.7" stroke="#222" stroke-width="0.5" fill="none"/>
<text x="323.14" y="183.10" font-family="Liberation Sans" font-size="3.0" font-weight="bold" fill="#111">10<tspan dy="-1.35" font-size="2.40">0</tspan></text>
<text x="322.80" y="180.06" font-family="Liberation Sans" font-size="3.0" font-weight="bold" fill="#111" transform="rotate(-90 322.80 180.06)">10<tspan dy="-1.35" font-size="2.40">0</tspan></text>
<text x="339.24" y="183.10" font-family="Liberation Sans" font-size="3.0" font-weight="bold" fill="#111">10<tspan dy="-1.35" font-size="2.40">1</tspan></text>
<text x="322.80" y="165.06" font-family="Liberation Sans" font-size="3.0" font-weight="bold" fill="#111" transform="rotate(-90 322.80 165.06)">10<tspan dy="-1.35" font-size="2.40">1</tspan></text>
<text x="355.34" y="183.10" font-family="Liberation Sans" font-size="3.0" font-weight="bold" fill="#111">10<tspan dy="-1.35" font-size="2.40">2</tspan></text>
<text x="322.80" y="150.06" font-family="Liberation Sans" font-size="3.0" font-weight="bold" fill="#111" transform="rotate(-90 322.80 150.06)">10<tspan dy="-1.35" font-size="2.40">2</tspan></text>
<text x="371.44" y="183.10" font-family="Liberation Sans" font-size="3.0" font-weight="bold" fill="#111">10<tspan dy="-1.35" font-size="2.40">3</tspan></text>
<text x="322.80" y="135.06" font-family="Liberation Sans" font-size="3.0" font-weight="bold" fill="#111" transform="rotate(-90 322.80 135.06)">10<tspan dy="-1.35" font-size="2.40">3</tspan></text>
<text x="387.54" y="183.10" font-family="Liberation Sans" font-size="3.0" font-weight="bold" fill="#111">10<tspan dy="-1.35" font-size="2.40">4</tspan></text>
<text x="322.80" y="120.06" font-family="Liberation Sans" font-size="3.0" font-weight="bold" fill="#111" transform="rotate(-90 322.80 120.06)">10<tspan dy="-1.35" font-size="2.40">4</tspan></text>
<text x="354.40" y="116.80" font-family="Liberation Sans" font-size="3.1" text-anchor="middle" fill="#111" font-weight="bold" >Data.004</text>
<text x="357.20" y="186.90" font-family="Liberation Sans" font-size="3.1" text-anchor="middle" fill="#111" font-weight="bold" >FL2-Height</text>
<text x="317.60" y="149.20" font-family="Liberation Sans" font-size="2.9" text-anchor="middle" fill="#111" font-weight="bold" transform="rotate(-90 317.60 149.20)" >FL1-Height</text>
<path d="M361.6 131.6h.7M363.4 130.9h.7M367.0 131.1h.7M367.0 131.9h.7M367.3 127.3h.7M361.4 126.8h.7M365.0 129.2h.7M365.9 130.6h.7M363.8 135.0h.7M365.1 129.7h.7M360.9 132.7h.7M366.0 127.2h.7M363.1 130.4h.7M359.2 129.1h.7M367.1 125.9h.7M364.8 134.3h.7M361.9 128.7h.7M364.1 131.0h.7M364.5 126.2h.7M361.5 130.0h.7M362.7 132.5h.7M362.7 128.9h.7M368.3 129.6h.7M361.0 129.8h.7M362.9 131.5h.7M364.7 129.0h.7M362.5 128.5h.7M367.0 134.6h.7M363.4 131.2h.7M364.4 128.6h.7M362.1 128.6h.7M358.5 128.0h.7M364.7 132.0h.7M363.0 128.9h.7M365.2 134.7h.7M361.1 127.9h.7M362.4 131.1h.7M361.3 130.9h.7M361.6 131.1h.7M362.7 128.8h.7M365.6 127.0h.7M361.5 131.5h.7M365.5 130.3h.7M357.8 131.5h.7M364.4 129.0h.7M358.4 131.8h.7M368.0 131.0h.7M367.0 128.2h.7M364.0 128.2h.7M360.6 129.0h.7M361.1 128.0h.7M361.5 128.8h.7M362.7 130.1h.7M360.3 130.6h.7M358.8 129.9h.7M363.7 124.2h.7M362.6 132.4h.7M364.7 128.6h.7M362.1 130.5h.7M363.9 131.8h.7M363.9 132.0h.7M364.5 128.0h.7M360.9 128.5h.7M364.6 127.7h.7M365.8 126.1h.7M362.8 127.6h.7M364.3 130.1h.7M363.1 126.8h.7M361.2 128.2h.7M366.1 128.3h.7M364.8 132.0h.7M361.3 128.6h.7M357.8 128.8h.7M365.4 127.5h.7M364.4 131.7h.7M364.4 128.7h.7M364.1 128.2h.7M362.4 135.5h.7M362.2 128.2h.7M363.9 130.5h.7M365.5 128.0h.7M360.8 127.5h.7M365.4 132.4h.7M361.5 128.6h.7M363.4 127.5h.7M362.2 132.1h.7M360.3 130.7h.7M366.6 127.2h.7M366.3 129.8h.7M362.1 131.9h.7M363.7 129.2h.7M362.0 127.8h.7M362.1 129.2h.7M365.5 129.2h.7M364.3 128.9h.7M364.7 129.6h.7M366.8 130.4h.7M359.2 129.5h.7M362.4 132.1h.7M363.6 131.9h.7M365.4 128.2h.7M362.7 129.9h.7M360.7 138.0h.7M364.9 126.7h.7M359.8 130.1h.7M362.5 126.1h.7M359.0 129.8h.7M362.3 130.8h.7M363.2 132.4h.7M358.7 131.2h.7M361.4 127.6h.7M366.0 125.2h.7M363.3 128.9h.7M366.6 126.3h.7M364.4 130.9h.7M363.5 130.1h.7M363.1 126.3h.7M362.1 125.2h.7M365.9 132.1h.7M359.8 132.7h.7M363.0 126.1h.7M361.6 131.2h.7M363.2 127.2h.7M365.2 129.3h.7M362.2 126.8h.7M364.8 131.8h.7M360.8 129.1h.7M362.8 130.2h.7M360.7 134.6h.7M364.2 131.9h.7M362.6 134.8h.7M364.6 125.5h.7M366.1 129.7h.7M360.7 129.7h.7M361.1 131.5h.7M365.1 126.5h.7M365.2 132.3h.7M357.0 132.9h.7M365.2 131.8h.7M367.2 129.7h.7M361.2 130.7h.7M363.1 130.9h.7M357.4 128.8h.7M370.2 130.7h.7M366.1 130.6h.7M362.6 131.8h.7M365.4 129.0h.7M363.0 131.4h.7M361.4 127.8h.7M366.5 132.6h.7M363.0 133.6h.7M365.7 130.8h.7M362.2 131.7h.7M362.1 129.6h.7M361.9 132.7h.7M363.9 129.8h.7M365.3 135.8h.7M366.2 126.1h.7M363.5 130.1h.7M362.1 127.5h.7M368.0 131.7h.7M366.0 130.7h.7M365.7 131.1h.7M364.0 129.4h.7M361.0 128.1h.7M363.4 127.7h.7M364.4 127.7h.7M365.6 126.5h.7M364.4 132.9h.7M365.8 128.5h.7M366.9 129.9h.7M364.4 129.7h.7M359.0 131.2h.7M364.6 131.6h.7M361.0 131.7h.7M361.8 127.0h.7M360.8 130.3h.7M362.4 133.5h.7M365.6 132.6h.7M363.1 127.2h.7M359.3 129.3h.7M366.8 132.8h.7M359.2 130.5h.7M365.3 127.4h.7M363.5 128.1h.7M363.9 130.3h.7M362.7 129.5h.7M361.7 130.1h.7M355.2 130.9h.7M366.2 126.6h.7M363.0 131.2h.7M361.7 128.2h.7M363.3 131.6h.7M359.9 130.4h.7M364.9 126.5h.7M363.9 133.3h.7M363.5 129.4h.7M367.2 128.4h.7M363.1 133.0h.7M368.1 127.2h.7M363.0 131.0h.7M366.8 130.9h.7M362.0 131.7h.7M357.7 130.1h.7M365.4 132.5h.7M364.7 126.4h.7M366.0 128.5h.7M362.3 132.6h.7M358.4 135.2h.7M365.8 131.9h.7M363.1 131.5h.7M365.1 130.4h.7M359.6 130.9h.7M364.2 132.1h.7M364.6 130.4h.7M363.9 126.2h.7M358.7 129.5h.7M361.7 130.9h.7M360.3 128.4h.7M365.3 129.8h.7M361.2 131.1h.7M364.2 127.3h.7M361.8 130.3h.7M363.0 129.2h.7M362.1 123.3h.7M364.8 130.5h.7M363.1 125.5h.7M362.4 129.7h.7M362.9 129.5h.7M357.7 131.2h.7M364.9 131.3h.7M366.8 130.2h.7M366.9 126.8h.7M365.2 129.2h.7M367.0 128.5h.7M362.0 128.2h.7M364.6 127.8h.7M365.6 131.4h.7M363.5 130.0h.7M361.7 134.2h.7M365.5 126.9h.7M365.9 127.0h.7M364.1 131.1h.7M362.4 128.2h.7M364.2 130.9h.7M363.8 130.5h.7M359.7 129.4h.7M360.7 129.8h.7M360.5 127.6h.7M360.8 128.5h.7M362.4 129.1h.7M364.6 127.1h.7M367.2 128.5h.7M361.0 130.0h.7M361.9 128.2h.7M363.5 126.3h.7M365.6 126.0h.7M361.2 131.9h.7M365.9 130.1h.7M359.3 128.4h.7M361.4 127.8h.7M362.1 130.2h.7M365.2 129.9h.7M360.8 129.4h.7M363.6 131.4h.7M361.4 128.2h.7M361.4 126.7h.7M364.0 128.1h.7M365.4 131.4h.7M363.1 130.0h.7M362.1 129.9h.7M363.4 132.2h.7M362.0 132.1h.7M364.9 130.4h.7M360.2 127.2h.7M363.2 129.9h.7M360.0 133.7h.7M363.7 129.3h.7M364.7 127.8h.7M357.9 129.3h.7M361.5 129.7h.7M363.8 125.9h.7M361.3 131.8h.7M367.1 129.5h.7M363.7 130.6h.7M364.2 136.1h.7M367.9 128.3h.7M362.7 132.6h.7M365.1 132.1h.7M365.3 127.8h.7M360.3 126.4h.7M361.8 130.9h.7M362.2 134.7h.7M359.4 129.2h.7M366.3 134.4h.7M361.1 130.6h.7M365.4 125.1h.7M365.6 130.2h.7M362.5 132.2h.7M363.7 128.0h.7M367.0 128.3h.7M366.9 124.1h.7M365.9 129.1h.7M364.3 130.3h.7M366.2 127.8h.7M363.1 129.1h.7M364.8 129.8h.7M364.3 130.8h.7M359.2 129.3h.7M363.9 130.4h.7M370.0 131.8h.7M367.0 128.9h.7M365.7 134.2h.7M362.5 128.4h.7M359.7 126.8h.7M368.0 126.4h.7M363.4 131.8h.7M364.1 130.5h.7M363.4 132.3h.7M360.0 129.0h.7M363.5 125.4h.7M361.7 129.4h.7M367.5 128.4h.7M366.7 128.2h.7M367.9 128.9h.7M366.3 136.9h.7M366.2 133.4h.7M360.8 131.3h.7M365.5 129.4h.7M364.3 127.2h.7M362.3 126.9h.7M359.6 131.6h.7M361.4 130.6h.7M368.4 132.5h.7M361.9 129.2h.7M361.8 129.8h.7M368.0 133.7h.7M362.2 126.5h.7M366.3 124.3h.7M365.0 124.3h.7M364.6 130.3h.7M362.4 127.1h.7M364.9 130.9h.7M363.9 135.5h.7M362.9 128.6h.7M367.3 137.2h.7M361.9 129.4h.7M362.4 130.6h.7M365.7 128.1h.7M363.0 127.6h.7M364.1 129.2h.7M364.6 129.3h.7M364.0 125.9h.7M361.9 128.9h.7M364.0 127.3h.7M362.2 132.2h.7M364.7 128.3h.7M363.5 129.0h.7M364.1 129.1h.7M361.1 130.1h.7M359.5 131.4h.7M366.1 131.9h.7M360.0 129.5h.7M365.8 130.4h.7M364.4 130.2h.7M365.6 129.5h.7M359.4 130.6h.7M369.2 131.6h.7M365.2 134.6h.7M361.6 127.5h.7M362.6 131.0h.7M368.3 132.6h.7M363.5 133.4h.7M364.5 130.7h.7M363.2 127.8h.7M363.1 127.6h.7M358.3 128.0h.7M367.1 129.3h.7M360.0 130.3h.7M369.8 129.7h.7M370.1 131.3h.7M358.3 130.8h.7M369.2 131.2h.7M360.6 131.0h.7M367.2 126.3h.7M364.1 130.8h.7M366.6 129.1h.7M361.5 131.6h.7M364.6 129.9h.7M362.5 132.0h.7M362.4 135.3h.7M362.8 133.1h.7M366.5 131.1h.7M363.4 132.7h.7M364.0 127.9h.7M364.0 131.0h.7M359.2 132.7h.7M358.8 130.5h.7M363.4 125.8h.7M363.0 127.4h.7M364.6 128.3h.7M364.2 130.8h.7M366.5 127.8h.7M368.0 124.9h.7M360.6 128.7h.7M359.1 125.5h.7M364.3 125.5h.7M361.4 131.7h.7M366.5 128.9h.7M365.3 131.7h.7M364.9 129.1h.7M360.9 126.3h.7M367.1 131.0h.7M363.1 129.6h.7M365.5 132.0h.7M363.3 127.2h.7M365.5 128.8h.7M359.6 133.0h.7M368.3 130.6h.7M363.4 129.5h.7M362.6 128.6h.7M361.3 127.7h.7M362.0 129.4h.7M363.6 130.8h.7M360.7 131.1h.7M360.8 127.2h.7M364.5 125.4h.7M363.0 124.9h.7M362.0 131.2h.7M365.5 127.0h.7M360.6 133.4h.7M364.4 133.1h.7M359.3 133.2h.7M364.4 126.7h.7M363.6 133.3h.7M365.0 126.9h.7M359.3 132.6h.7M362.6 127.8h.7M362.1 127.9h.7M359.6 129.1h.7M364.1 126.1h.7M366.1 127.7h.7M364.1 131.7h.7M365.6 133.3h.7M358.8 124.9h.7M359.2 128.2h.7M364.5 126.9h.7M360.5 128.4h.7M361.7 134.8h.7M360.6 133.9h.7M369.3 129.4h.7M362.8 129.3h.7M361.6 128.2h.7M359.9 130.5h.7M365.7 127.7h.7M365.5 128.5h.7M361.5 129.9h.7M362.4 133.7h.7M366.9 132.9h.7M365.5 126.5h.7M361.9 129.4h.7M368.0 127.7h.7M366.6 125.0h.7M362.2 128.9h.7M366.3 132.2h.7M363.8 130.8h.7M360.0 125.4h.7M366.4 136.5h.7M366.2 128.7h.7M364.9 125.4h.7M363.0 129.0h.7M367.0 130.5h.7M366.1 126.5h.7M362.8 127.9h.7M365.7 130.5h.7M363.9 124.9h.7M368.1 129.0h.7M363.6 136.0h.7M367.5 130.3h.7M365.4 126.7h.7M361.5 131.7h.7M362.1 129.2h.7M359.7 128.2h.7M361.8 128.5h.7M368.1 129.5h.7M363.7 132.5h.7M362.7 131.5h.7M358.7 129.0h.7M364.9 128.0h.7M364.8 129.0h.7M365.1 132.4h.7M362.9 127.0h.7M360.9 130.0h.7M363.4 125.9h.7M366.1 132.8h.7M363.5 130.5h.7M364.3 127.5h.7M363.4 130.6h.7M363.0 126.6h.7M359.6 128.1h.7M361.6 127.8h.7M357.7 128.9h.7M361.9 129.2h.7M359.8 130.9h.7M363.3 131.7h.7M361.3 131.3h.7M364.0 128.6h.7M363.6 127.5h.7M362.9 129.5h.7M363.0 130.2h.7M365.0 126.9h.7M364.3 124.1h.7M360.5 134.7h.7M365.2 129.5h.7M369.9 127.3h.7M362.7 126.8h.7M364.3 127.7h.7M358.0 126.1h.7M361.4 131.1h.7M364.3 131.3h.7M364.1 128.0h.7M368.0 128.0h.7M364.3 128.0h.7M362.1 128.8h.7M360.7 131.6h.7M363.1 131.9h.7M366.6 131.2h.7M363.8 130.9h.7M361.7 130.6h.7M357.8 127.3h.7M365.1 125.6h.7M363.9 131.3h.7M363.2 127.4h.7M365.6 134.5h.7M366.9 125.9h.7M367.9 128.1h.7M367.3 129.6h.7M364.9 133.1h.7M360.8 133.0h.7M363.4 131.4h.7M363.1 129.1h.7M359.8 129.1h.7M365.6 127.5h.7M366.9 131.3h.7M359.6 129.6h.7M364.5 129.4h.7M364.4 132.0h.7M362.4 130.8h.7M362.8 127.3h.7M364.6 128.4h.7M362.7 131.5h.7M358.0 131.0h.7M364.3 130.0h.7M364.7 130.4h.7M364.5 125.8h.7M362.1 130.2h.7M362.9 129.9h.7M361.1 133.9h.7M363.5 131.4h.7M365.7 128.5h.7M362.0 127.1h.7M364.5 132.9h.7M365.2 126.4h.7M366.2 132.5h.7M364.2 125.8h.7M358.4 128.0h.7M359.4 130.5h.7M366.8 133.1h.7M365.9 132.3h.7M366.3 130.2h.7M361.3 134.4h.7M368.4 124.8h.7M366.9 130.6h.7M362.1 133.6h.7M361.4 129.4h.7M363.7 133.0h.7M362.1 130.5h.7M362.3 130.8h.7M367.6 133.0h.7M364.0 130.3h.7M360.2 133.3h.7M364.4 133.6h.7M364.8 130.5h.7M363.7 126.4h.7M366.1 132.1h.7M362.3 131.4h.7M364.3 128.8h.7M361.8 126.9h.7M361.3 132.8h.7M366.1 130.4h.7M366.7 130.6h.7M362.8 131.4h.7M363.3 129.5h.7M365.1 127.5h.7M367.3 131.1h.7M362.3 131.8h.7M360.8 126.6h.7M362.9 130.8h.7M362.1 127.3h.7M369.2 131.0h.7M361.2 129.4h.7M366.2 130.0h.7M360.7 135.9h.7M368.0 126.6h.7M366.0 131.8h.7M361.8 129.5h.7M362.2 131.3h.7M368.6 130.6h.7M363.1 134.0h.7M363.8 128.2h.7M362.3 129.1h.7M365.6 132.4h.7M366.7 132.5h.7M359.7 131.6h.7M360.8 130.8h.7M364.3 128.6h.7M362.7 129.1h.7M364.8 130.7h.7M368.5 130.9h.7M365.4 131.2h.7M363.6 132.5h.7M362.0 130.8h.7M362.2 129.6h.7M359.4 126.8h.7M365.9 130.7h.7M365.6 129.5h.7M361.6 131.5h.7M366.6 127.7h.7M358.0 128.8h.7M363.5 126.1h.7M360.3 131.2h.7M366.9 133.8h.7M362.8 131.1h.7M363.3 127.6h.7M362.3 131.6h.7M360.9 128.3h.7M363.5 128.2h.7M360.7 129.0h.7M366.8 130.6h.7M361.2 130.6h.7M362.4 131.0h.7M363.6 126.9h.7M361.9 130.4h.7M364.2 129.0h.7M364.6 127.5h.7M362.1 129.0h.7M357.7 130.9h.7M361.5 129.6h.7M360.8 131.5h.7M362.8 128.5h.7M366.4 128.4h.7M359.2 133.0h.7M362.3 127.3h.7M362.6 132.9h.7M364.6 127.8h.7M363.7 135.7h.7M365.8 132.8h.7M362.5 129.5h.7M369.0 129.1h.7M364.8 132.0h.7M365.6 129.5h.7M366.1 128.9h.7M360.8 131.0h.7M363.8 128.7h.7M363.5 126.9h.7M364.6 132.6h.7M358.8 127.6h.7M362.0 127.0h.7M364.2 133.3h.7M363.9 133.1h.7M363.9 130.9h.7M362.4 130.7h.7M361.2 133.1h.7M360.8 127.6h.7M364.2 127.9h.7M365.1 131.2h.7M364.0 125.7h.7M363.2 130.2h.7M363.5 129.5h.7M361.7 128.7h.7M364.6 130.7h.7M362.0 131.2h.7M366.3 132.6h.7M363.3 135.3h.7M359.6 131.3h.7M364.0 129.7h.7M363.3 128.4h.7M364.0 129.3h.7M362.6 129.2h.7M362.4 131.5h.7M366.9 129.6h.7M364.5 133.7h.7M361.1 131.4h.7M362.5 130.9h.7M365.4 133.4h.7M362.0 131.9h.7M363.0 132.7h.7M360.7 132.6h.7M368.1 134.8h.7M366.7 130.0h.7M362.0 132.1h.7M365.0 126.1h.7M360.5 131.3h.7M363.4 126.3h.7M360.9 128.4h.7M365.5 131.7h.7M365.3 130.0h.7M363.8 129.6h.7M368.3 126.8h.7M365.7 132.3h.7M364.6 124.7h.7M363.6 129.8h.7M361.5 128.5h.7M362.7 131.1h.7M361.8 130.8h.7M360.7 134.6h.7M359.6 129.5h.7M360.6 127.2h.7M364.4 132.8h.7M361.5 130.6h.7M362.1 131.6h.7M356.7 131.0h.7M362.4 129.2h.7M362.4 125.7h.7M365.6 130.6h.7M361.1 128.6h.7M362.4 125.0h.7M363.4 131.1h.7M363.4 129.4h.7M359.1 128.0h.7M359.2 128.1h.7M363.9 136.6h.7M362.8 129.6h.7M362.1 128.8h.7M366.0 128.3h.7M363.4 131.2h.7M361.0 135.2h.7M362.2 130.2h.7M367.0 128.7h.7M355.9 130.2h.7M365.4 129.9h.7M366.0 130.2h.7M368.2 134.1h.7M364.1 133.0h.7M362.6 131.4h.7M366.2 127.4h.7M364.5 125.1h.7M360.6 126.6h.7M365.7 127.6h.7M367.6 127.6h.7M362.0 126.7h.7M363.7 128.6h.7M363.1 130.9h.7M363.4 128.0h.7M360.4 130.1h.7M368.1 132.8h.7M363.9 128.4h.7M366.0 130.5h.7M362.1 128.8h.7M361.9 127.3h.7M363.1 128.6h.7M363.9 128.9h.7M359.7 130.4h.7M368.3 126.8h.7M364.5 128.0h.7M364.2 136.3h.7M366.6 128.5h.7M361.7 128.6h.7M365.0 129.0h.7M360.8 130.6h.7M357.9 128.1h.7M367.2 128.8h.7M363.1 127.3h.7M361.0 126.7h.7M360.9 126.3h.7M355.9 129.4h.7M360.8 132.1h.7M365.1 131.3h.7M366.6 132.9h.7M362.5 133.0h.7M368.7 131.4h.7M360.3 129.2h.7M363.8 128.2h.7M361.1 133.4h.7M363.0 129.2h.7M365.3 127.8h.7M368.8 130.3h.7M364.5 126.5h.7M362.1 131.9h.7M363.9 129.6h.7M362.8 130.9h.7M358.8 133.7h.7M366.2 132.3h.7M359.0 130.7h.7M367.8 129.3h.7M361.3 125.8h.7M361.9 131.2h.7M358.9 126.7h.7M365.5 127.0h.7M363.5 129.7h.7M365.7 127.8h.7M363.5 127.6h.7M367.0 129.1h.7M368.1 128.0h.7M363.2 133.3h.7M364.5 131.4h.7M362.7 129.6h.7M362.2 130.1h.7M366.0 132.7h.7M365.3 125.6h.7M366.3 131.8h.7M363.2 129.3h.7M357.7 127.6h.7M365.6 133.7h.7M363.6 127.7h.7M362.9 130.6h.7M360.6 129.7h.7M364.7 132.3h.7M362.2 127.2h.7M363.4 128.7h.7M362.8 128.4h.7M363.6 128.3h.7M364.9 129.3h.7M361.7 133.8h.7M364.9 129.9h.7M362.1 125.0h.7M364.8 131.4h.7M361.6 130.5h.7M361.7 130.1h.7M364.1 128.1h.7M362.1 131.2h.7M361.7 126.0h.7M358.7 129.4h.7M367.9 130.2h.7M365.1 132.0h.7M363.8 133.3h.7M358.8 129.7h.7M367.2 130.6h.7M366.7 133.0h.7M363.9 126.3h.7M361.2 130.8h.7M369.4 130.6h.7M358.0 129.6h.7M363.5 130.1h.7M365.0 121.6h.7M370.4 132.4h.7M365.6 131.0h.7M361.0 129.5h.7M369.0 131.7h.7M365.6 130.0h.7M363.1 130.5h.7M366.9 133.0h.7M366.4 127.3h.7M363.1 129.8h.7M361.3 131.7h.7M361.4 135.8h.7M364.7 130.1h.7M361.3 129.4h.7M367.6 125.9h.7M362.3 132.7h.7M356.3 129.8h.7M360.9 132.1h.7M360.7 126.1h.7M362.7 133.8h.7M362.3 130.1h.7M364.1 127.8h.7M362.7 129.4h.7M364.9 129.8h.7M362.9 125.7h.7M368.7 129.5h.7M363.0 131.7h.7M367.8 130.3h.7M364.6 127.4h.7M364.0 130.8h.7M361.9 131.4h.7M360.5 133.8h.7M359.9 132.2h.7M361.3 131.3h.7M367.3 125.8h.7M363.3 129.9h.7M360.2 128.4h.7M366.7 126.9h.7M362.4 126.2h.7M360.5 130.7h.7M366.4 126.5h.7M365.1 131.0h.7M358.3 130.7h.7M360.1 126.5h.7M360.1 127.3h.7M362.9 130.9h.7M366.1 126.2h.7M367.9 127.4h.7M358.4 131.0h.7M364.7 132.3h.7M365.7 132.5h.7M361.2 128.8h.7M361.8 130.5h.7M361.9 133.1h.7M364.7 131.3h.7M362.3 128.6h.7M362.5 129.8h.7M357.4 127.2h.7M365.1 130.2h.7M365.0 129.3h.7M361.7 129.9h.7M362.0 131.2h.7M363.3 130.3h.7M364.8 128.0h.7M361.4 128.4h.7M362.9 132.9h.7M362.4 128.7h.7M365.8 133.0h.7M364.5 132.3h.7M363.5 130.1h.7M363.6 131.8h.7M363.7 129.9h.7M361.0 127.5h.7M363.4 129.1h.7M366.1 128.9h.7M364.9 129.4h.7M360.7 126.9h.7M362.5 130.0h.7M360.2 132.2h.7M365.1 131.8h.7M363.8 131.4h.7M364.8 125.5h.7M361.7 134.0h.7M361.6 131.0h.7M365.2 130.4h.7M364.8 135.5h.7M359.0 126.8h.7M368.0 132.4h.7M362.1 134.0h.7M361.4 127.9h.7M363.5 128.7h.7M363.5 128.0h.7M361.1 128.8h.7M365.7 127.5h.7M360.8 131.3h.7M362.6 134.6h.7M368.5 128.0h.7M358.0 126.8h.7M364.2 128.0h.7M366.1 126.7h.7M361.9 129.9h.7M367.2 127.3h.7M364.6 129.7h.7M363.9 128.7h.7M362.4 129.8h.7M363.8 126.9h.7M363.2 130.0h.7M365.8 128.7h.7M367.6 125.4h.7M359.2 127.7h.7M363.1 132.7h.7M364.6 130.9h.7M363.7 127.3h.7M368.2 131.9h.7M361.7 129.5h.7M363.4 131.9h.7M365.6 131.8h.7M362.8 131.5h.7M364.2 128.5h.7M364.1 129.3h.7M363.1 130.9h.7M361.6 135.2h.7M365.3 130.7h.7M366.2 129.7h.7M367.0 123.9h.7M364.1 128.4h.7M359.4 132.6h.7M366.4 129.0h.7M367.1 134.8h.7M362.3 131.1h.7M364.5 127.4h.7M361.0 131.3h.7M358.5 128.4h.7M364.0 130.5h.7M361.6 129.5h.7M365.6 130.7h.7M366.2 131.7h.7M364.9 127.5h.7M362.8 129.2h.7M365.3 128.4h.7M360.2 128.9h.7M359.3 129.0h.7M368.3 125.7h.7M367.5 126.4h.7M361.5 129.6h.7M362.9 129.4h.7M364.8 132.5h.7M367.8 128.5h.7M360.4 125.1h.7M362.8 127.4h.7M362.7 124.4h.7M366.1 132.3h.7M364.4 131.3h.7M359.6 130.6h.7M364.0 127.7h.7M366.6 127.6h.7M362.4 133.8h.7M362.9 133.5h.7M363.5 127.4h.7M361.8 127.2h.7M361.6 130.2h.7M365.8 134.1h.7M358.7 129.9h.7M363.5 134.1h.7M366.6 131.5h.7M360.4 130.5h.7M359.6 126.0h.7M366.4 129.3h.7M360.5 133.5h.7M364.1 140.3h.7M371.2 134.9h.7M363.7 129.3h.7M373.3 131.3h.7M356.0 130.3h.7M364.7 132.7h.7M356.5 137.6h.7M365.2 133.4h.7M367.6 132.9h.7M368.6 132.6h.7M371.1 130.4h.7M360.9 128.6h.7M367.5 134.4h.7M361.4 128.4h.7M363.7 131.9h.7M363.2 136.3h.7M362.2 131.0h.7M361.9 131.3h.7M365.7 131.0h.7M364.3 127.5h.7M367.3 130.5h.7M363.4 130.0h.7M367.8 135.0h.7M366.3 129.3h.7M367.0 129.5h.7M363.4 127.7h.7M362.0 135.0h.7M364.0 129.5h.7M369.2 131.2h.7M366.0 126.7h.7M357.9 124.9h.7M364.4 125.1h.7M366.2 135.4h.7M364.5 130.3h.7M366.4 128.9h.7M369.9 132.4h.7M367.0 130.5h.7M369.9 135.2h.7M363.5 134.1h.7M365.4 130.6h.7M360.3 130.7h.7M358.3 135.2h.7M361.4 137.5h.7M357.5 124.3h.7M356.9 134.2h.7M359.1 134.0h.7M363.5 128.8h.7M364.3 133.1h.7M368.4 136.1h.7M361.5 134.6h.7M365.5 133.1h.7M369.8 132.1h.7M367.1 136.1h.7M357.8 128.3h.7M358.9 123.7h.7M363.5 135.1h.7M366.0 129.9h.7M369.3 135.5h.7M371.6 138.0h.7M365.1 130.2h.7M363.8 134.3h.7M355.3 129.2h.7M367.6 129.9h.7M362.0 130.5h.7M361.9 126.5h.7M363.0 131.9h.7M369.5 137.2h.7M364.9 129.6h.7M356.2 134.9h.7M364.2 132.8h.7M367.0 132.6h.7M363.9 131.2h.7M367.6 126.3h.7M365.2 132.4h.7M372.9 130.3h.7M361.5 131.0h.7M366.9 127.4h.7M367.6 133.3h.7M357.4 124.9h.7M369.0 131.7h.7M370.9 130.8h.7M356.6 129.1h.7M360.9 132.9h.7M363.0 125.0h.7M357.3 129.8h.7M370.5 132.0h.7M368.3 124.3h.7M365.0 131.6h.7M366.7 130.8h.7M353.9 128.3h.7M363.0 133.5h.7M364.1 132.6h.7M361.6 132.6h.7M364.9 132.0h.7M362.9 131.4h.7M365.6 132.0h.7M351.3 129.1h.7M367.4 133.6h.7M361.1 132.4h.7M361.9 132.4h.7M361.0 131.5h.7M360.0 130.6h.7M364.6 131.8h.7M365.5 136.6h.7M362.5 132.8h.7M362.7 133.4h.7M365.9 128.6h.7M366.7 132.3h.7M363.2 130.3h.7M369.1 131.7h.7M363.6 133.3h.7M365.5 133.1h.7M367.2 126.7h.7M364.9 134.9h.7M366.0 134.3h.7M367.1 136.7h.7M364.4 131.1h.7M352.1 133.2h.7M369.9 131.2h.7M363.2 134.4h.7M359.1 128.9h.7M358.7 136.6h.7M366.3 128.0h.7M367.3 131.8h.7M365.7 138.3h.7M361.8 138.0h.7M358.8 129.6h.7M364.4 128.8h.7M361.9 134.6h.7M362.5 132.5h.7M363.8 132.5h.7M364.7 128.6h.7M365.4 133.7h.7M365.3 136.4h.7M369.1 126.3h.7M358.7 121.7h.7M359.0 131.0h.7M358.6 124.9h.7M360.2 133.9h.7M361.1 130.1h.7M367.6 128.5h.7M360.2 127.2h.7M368.2 133.8h.7M366.0 129.6h.7M366.5 132.0h.7M360.7 139.9h.7M365.4 132.4h.7M367.7 133.3h.7M369.2 130.0h.7M366.6 127.3h.7M364.7 137.7h.7M367.6 138.2h.7M362.0 128.4h.7M365.7 126.6h.7M365.6 133.8h.7M363.5 132.2h.7M361.4 132.1h.7M364.8 132.9h.7M358.9 124.9h.7M358.2 129.9h.7M363.5 134.2h.7M363.2 129.6h.7M371.7 127.9h.7M362.5 131.9h.7M366.4 134.0h.7M365.8 130.7h.7M361.3 135.9h.7M363.5 134.5h.7M359.4 128.3h.7M363.8 138.4h.7M369.7 135.0h.7M356.9 134.1h.7M364.3 132.3h.7M367.6 128.2h.7M364.3 129.9h.7M359.8 130.0h.7M364.9 126.8h.7M361.7 133.8h.7M363.0 132.9h.7M366.3 131.8h.7M365.3 132.1h.7M363.8 133.8h.7M364.7 127.4h.7M361.9 125.2h.7M363.3 128.2h.7M365.5 125.7h.7M368.4 129.9h.7M356.4 135.4h.7M363.0 128.3h.7M363.7 123.5h.7M362.0 128.2h.7M361.5 135.3h.7M370.0 139.5h.7M362.3 130.1h.7M361.5 131.3h.7M366.1 128.8h.7M372.6 131.6h.7M365.4 126.7h.7M365.8 132.6h.7M361.0 135.5h.7M363.6 126.0h.7M358.5 130.9h.7M365.1 131.0h.7M368.4 134.4h.7M370.1 128.8h.7M362.2 138.0h.7M364.7 128.4h.7M363.6 135.4h.7M360.9 132.9h.7M357.6 130.1h.7M360.7 129.7h.7M361.5 131.0h.7M359.2 130.5h.7M362.5 132.3h.7M368.7 139.1h.7M360.5 129.8h.7M358.6 130.0h.7M362.7 127.2h.7M365.8 133.2h.7M359.0 132.3h.7M371.1 131.0h.7M358.5 126.4h.7M365.9 134.5h.7M365.1 132.0h.7M365.1 132.3h.7M360.5 135.4h.7M376.1 134.9h.7M362.5 132.8h.7M361.1 130.6h.7M368.5 132.2h.7M366.4 124.6h.7M358.6 133.8h.7M364.5 121.7h.7M370.6 131.6h.7M361.7 135.8h.7M368.8 128.5h.7M358.8 135.1h.7M368.3 143.5h.7M366.1 137.4h.7M361.8 137.3h.7M369.2 144.8h.7M365.6 136.1h.7M362.2 148.4h.7M366.5 134.3h.7M367.1 144.4h.7M364.0 136.5h.7M366.2 145.0h.7M366.7 135.0h.7M366.4 138.4h.7M366.0 140.8h.7M369.3 144.4h.7M374.2 140.7h.7M367.1 141.8h.7M365.9 148.2h.7M370.2 136.6h.7M368.4 139.5h.7M370.6 141.6h.7M361.7 142.8h.7M374.5 139.6h.7M360.3 146.4h.7M363.9 144.2h.7M366.0 136.9h.7M365.4 136.0h.7M365.3 141.7h.7M362.7 144.6h.7M371.4 135.4h.7M369.4 139.8h.7M362.3 139.5h.7M366.6 136.8h.7M365.0 139.4h.7M369.3 139.3h.7M366.9 142.0h.7M367.9 137.9h.7M362.0 140.3h.7M364.1 141.3h.7M362.0 139.5h.7M365.3 143.0h.7M366.8 140.5h.7M368.8 139.0h.7M365.2 140.4h.7M369.1 143.6h.7M367.6 139.6h.7M370.0 135.5h.7M362.1 139.2h.7M370.7 146.2h.7M366.4 133.0h.7M365.2 142.1h.7M361.7 136.8h.7M370.6 138.2h.7M368.7 136.1h.7M363.6 139.0h.7M368.0 139.4h.7M365.2 137.2h.7M368.8 135.0h.7M366.9 134.9h.7M369.6 135.0h.7M364.8 135.3h.7M367.2 146.0h.7M365.0 145.0h.7M364.6 150.0h.7M367.2 140.6h.7M366.1 141.7h.7M370.9 143.3h.7M364.2 135.9h.7M360.2 142.6h.7M363.7 132.9h.7M364.8 145.1h.7M362.8 139.1h.7M361.9 143.5h.7M365.4 141.7h.7M363.6 137.6h.7M366.4 133.7h.7M372.7 146.6h.7M367.3 138.3h.7M368.2 143.8h.7M363.6 137.1h.7M365.5 139.6h.7M364.5 167.7h.7M366.8 172.2h.7M366.3 171.9h.7M364.8 162.9h.7M365.7 160.4h.7M363.1 173.8h.7M364.1 152.7h.7M365.1 165.8h.7M365.1 162.2h.7M365.1 165.6h.7M366.2 166.1h.7M365.2 167.4h.7M365.0 160.9h.7M366.1 159.2h.7M365.2 159.8h.7M365.1 176.5h.7M364.9 166.7h.7M366.9 162.9h.7M367.0 163.8h.7M365.7 154.2h.7M365.9 165.8h.7M366.6 160.8h.7M364.2 168.7h.7M367.9 160.6h.7M364.9 175.0h.7M365.3 165.9h.7M366.7 167.8h.7M366.1 157.4h.7M366.0 166.6h.7M364.1 151.3h.7M368.3 170.6h.7M363.2 164.3h.7M365.6 161.3h.7M364.9 172.0h.7M365.5 160.0h.7M364.1 165.1h.7M366.9 167.8h.7M366.0 161.3h.7M365.3 171.6h.7M366.0 173.1h.7M366.7 166.2h.7M364.5 175.0h.7M365.5 167.8h.7M365.9 170.5h.7M365.7 166.2h.7M365.5 163.7h.7M365.7 170.3h.7M366.4 158.2h.7M366.0 171.0h.7M364.2 165.5h.7M365.0 157.0h.7M363.4 173.7h.7M366.8 174.3h.7M364.1 166.9h.7M365.5 161.0h.7M364.4 173.4h.7M364.1 163.9h.7M365.2 162.8h.7M367.1 166.7h.7M362.4 172.7h.7M365.1 156.3h.7M365.4 155.9h.7M370.4 162.0h.7M363.6 159.8h.7M365.3 172.1h.7M366.0 160.1h.7M363.4 154.5h.7M365.2 172.8h.7M366.2 172.8h.7M365.4 157.2h.7M364.8 164.5h.7M364.5 167.3h.7M365.7 165.6h.7M364.3 165.8h.7M367.9 164.6h.7M364.8 172.2h.7M364.3 167.1h.7M365.0 168.1h.7M365.1 162.8h.7M365.4 156.5h.7M367.2 165.0h.7M367.4 163.4h.7M365.2 171.6h.7M366.7 168.8h.7M368.2 165.7h.7M366.4 165.3h.7M364.3 171.7h.7M365.4 169.9h.7M365.6 169.2h.7M365.7 168.1h.7M365.7 166.1h.7M366.6 164.0h.7M366.1 162.4h.7M365.2 157.3h.7M364.8 161.8h.7M365.6 172.1h.7M367.1 169.8h.7M365.7 163.8h.7M366.2 163.6h.7M366.7 161.5h.7M363.4 171.9h.7M363.8 159.0h.7M367.0 165.9h.7M368.2 167.1h.7M365.1 163.1h.7M364.7 174.8h.7M365.9 166.3h.7M366.0 161.0h.7M365.2 171.5h.7M367.4 168.7h.7M366.8 174.7h.7M364.9 161.7h.7M364.7 162.9h.7M368.7 166.1h.7M364.3 163.6h.7M368.0 162.1h.7M365.9 165.7h.7M365.0 169.5h.7M366.7 168.9h.7M365.8 159.3h.7M364.8 166.7h.7M364.8 163.3h.7M365.2 160.7h.7M366.3 174.5h.7M367.5 168.0h.7M366.3 163.4h.7M362.7 168.3h.7M366.5 174.4h.7M365.2 167.3h.7M366.2 165.6h.7M364.8 169.0h.7M363.9 163.5h.7M365.1 160.7h.7M363.4 160.5h.7M363.7 169.1h.7M366.7 168.2h.7M365.6 157.2h.7M363.5 165.6h.7M364.9 152.5h.7M366.0 156.8h.7M363.3 153.7h.7M369.4 160.7h.7M366.5 157.9h.7M368.9 168.8h.7M366.8 169.0h.7M365.6 162.9h.7M360.8 167.8h.7M368.0 163.3h.7M363.6 161.7h.7M365.5 164.5h.7M364.1 164.9h.7M366.5 156.2h.7M365.3 160.0h.7M365.0 168.9h.7M366.9 156.1h.7M366.0 162.5h.7M365.8 174.3h.7M362.9 153.1h.7M366.2 162.3h.7M365.1 168.4h.7M365.1 161.5h.7M368.7 161.8h.7M364.6 165.4h.7M365.2 160.9h.7M367.1 170.2h.7M366.0 159.6h.7M365.3 162.7h.7M363.4 163.0h.7M367.0 166.6h.7M363.7 157.9h.7M366.6 160.1h.7M365.6 163.3h.7M366.9 170.9h.7M366.0 168.4h.7M365.1 166.1h.7M366.1 166.4h.7M366.9 169.3h.7M365.6 166.8h.7M367.0 175.6h.7M365.4 169.7h.7M365.2 163.2h.7M365.7 163.2h.7M364.5 166.0h.7M366.1 168.6h.7M366.0 160.8h.7M362.1 168.9h.7M367.5 164.8h.7M365.5 172.3h.7M364.6 165.9h.7M367.0 176.2h.7M365.1 159.0h.7M366.6 175.1h.7M366.6 164.1h.7M366.6 160.1h.7M365.1 175.4h.7M365.3 170.6h.7M367.6 152.4h.7M365.1 157.6h.7M365.7 163.9h.7M368.5 166.1h.7M366.5 161.5h.7M362.9 161.9h.7M367.0 160.6h.7M365.3 175.2h.7M366.2 167.0h.7M363.9 164.8h.7M363.3 170.5h.7M366.4 163.8h.7M367.9 164.3h.7M364.9 164.9h.7M366.4 169.8h.7M365.9 159.1h.7M364.8 160.1h.7M363.4 166.1h.7M366.4 171.5h.7M365.3 173.1h.7M363.6 169.3h.7M366.3 168.0h.7M366.9 163.4h.7M363.4 170.7h.7M366.4 152.1h.7M367.5 172.8h.7M366.4 170.1h.7M365.7 168.0h.7M365.9 173.6h.7M366.6 175.4h.7M365.0 166.4h.7M366.7 163.2h.7M368.2 159.7h.7M366.0 163.9h.7M364.8 162.9h.7M365.1 159.6h.7M365.9 174.1h.7M367.0 157.7h.7M364.5 166.5h.7M367.0 170.0h.7M367.3 170.4h.7M366.3 167.7h.7M366.1 159.0h.7M365.8 164.4h.7M364.7 166.4h.7M365.8 172.7h.7M367.6 162.0h.7M364.8 155.7h.7M365.7 165.4h.7M364.0 154.7h.7M368.8 169.7h.7M366.4 158.7h.7M364.4 162.9h.7M366.3 170.1h.7M367.9 161.1h.7M366.9 163.0h.7M366.3 164.5h.7M365.4 169.8h.7M365.3 166.5h.7M365.4 173.0h.7M367.2 161.5h.7M365.8 167.0h.7M362.5 166.4h.7M368.0 164.7h.7M365.1 168.5h.7M367.0 167.4h.7M364.4 163.2h.7M364.4 177.0h.7M365.2 161.6h.7M365.2 175.1h.7M365.2 163.8h.7M365.8 168.3h.7M365.0 163.5h.7M364.3 162.5h.7M367.9 159.8h.7M365.0 170.9h.7M363.6 165.6h.7M366.6 173.1h.7M367.2 155.3h.7M366.4 161.6h.7M366.7 159.8h.7M364.5 161.1h.7M365.1 161.7h.7M364.2 170.1h.7M366.7 157.4h.7M365.0 168.4h.7M368.1 166.3h.7M365.4 170.6h.7M366.7 159.3h.7M366.5 174.9h.7M365.9 161.7h.7M363.7 164.3h.7M367.5 162.8h.7M364.7 168.1h.7M366.8 161.6h.7M364.2 160.6h.7M364.2 164.9h.7M364.1 170.6h.7M364.1 163.8h.7M364.7 164.8h.7M367.4 156.5h.7M367.7 159.8h.7M367.2 155.6h.7M366.6 151.4h.7M364.5 165.6h.7M364.3 161.0h.7M367.1 166.5h.7M364.6 163.1h.7M365.2 162.7h.7M365.6 156.5h.7M363.9 170.1h.7M364.3 163.1h.7M363.8 156.3h.7M367.3 165.4h.7M365.8 174.0h.7M364.6 161.9h.7M364.3 170.4h.7M366.1 158.9h.7M364.9 169.6h.7M362.0 162.2h.7M367.5 170.2h.7M366.0 161.1h.7M365.9 165.6h.7M363.6 167.9h.7M366.0 167.1h.7M365.2 173.6h.7M366.0 163.8h.7M364.9 172.6h.7M364.0 175.4h.7M365.2 169.7h.7M366.2 161.0h.7M364.0 166.1h.7M366.4 174.9h.7M366.0 164.8h.7M368.1 167.0h.7M366.0 170.5h.7M367.1 170.2h.7M365.5 168.5h.7M365.6 164.6h.7M365.8 163.7h.7M364.1 175.2h.7M366.3 166.5h.7M366.8 166.4h.7M364.3 164.1h.7M367.8 169.5h.7M364.6 164.8h.7M364.0 166.0h.7M365.3 158.4h.7M364.5 166.5h.7M365.3 176.9h.7M363.9 169.1h.7M366.1 158.8h.7M365.1 164.3h.7M364.1 170.9h.7M365.5 167.1h.7M366.9 164.1h.7M367.1 160.1h.7M365.3 166.4h.7M364.3 160.7h.7M365.8 158.9h.7M365.0 158.0h.7M367.0 171.6h.7M365.5 163.0h.7M364.0 169.6h.7M366.6 150.3h.7M363.6 166.9h.7M367.8 158.5h.7M367.1 175.2h.7M368.7 165.8h.7M367.6 159.0h.7M366.1 161.5h.7M365.2 168.5h.7M364.7 171.4h.7M365.9 169.3h.7M365.6 168.0h.7M367.7 166.6h.7M364.7 172.9h.7M364.4 167.4h.7M366.7 169.0h.7M366.2 164.6h.7M366.0 164.3h.7M365.2 172.0h.7M364.3 173.5h.7M365.8 175.7h.7M363.3 158.0h.7M365.5 168.8h.7M364.7 162.9h.7M364.7 172.3h.7M364.4 152.0h.7M364.9 165.0h.7M366.3 166.5h.7M365.5 163.1h.7M365.9 164.0h.7M364.0 164.5h.7M365.3 176.9h.7M366.9 168.3h.7M365.2 170.5h.7M366.3 161.6h.7M365.2 171.0h.7M363.9 158.0h.7M363.3 173.5h.7M364.6 164.8h.7M365.3 171.8h.7M365.2 167.9h.7M368.0 167.7h.7M368.5 170.8h.7M364.6 162.8h.7M365.9 158.1h.7M363.7 170.6h.7M365.3 165.7h.7M366.7 167.6h.7M366.0 166.5h.7M365.3 170.4h.7M364.1 174.2h.7M367.1 158.3h.7M364.6 167.2h.7M365.6 172.5h.7M365.4 163.7h.7M365.6 166.3h.7M365.2 159.5h.7M363.4 169.2h.7M365.9 158.7h.7M368.0 163.3h.7M366.3 166.1h.7M365.7 160.2h.7M365.1 175.8h.7M367.3 158.7h.7M367.3 166.1h.7M365.9 165.9h.7M362.9 167.5h.7M366.5 169.0h.7M363.1 171.9h.7M364.4 166.2h.7M364.4 162.3h.7M364.5 169.0h.7M366.2 159.6h.7M364.4 169.3h.7M363.7 162.1h.7M365.6 167.7h.7M364.7 166.7h.7M365.6 172.8h.7M367.0 167.1h.7M364.9 164.8h.7M365.1 163.5h.7M367.4 167.8h.7M366.3 173.7h.7M365.0 166.8h.7M364.5 171.4h.7M364.4 167.9h.7M364.7 162.6h.7M366.0 171.3h.7M367.3 166.0h.7M366.7 157.0h.7M366.5 166.0h.7M365.4 168.2h.7M363.8 165.9h.7M362.9 164.8h.7M363.6 168.1h.7M365.5 156.4h.7M364.7 163.7h.7M365.4 166.8h.7M365.1 168.5h.7M366.4 168.1h.7M366.1 164.5h.7M364.5 162.0h.7M363.8 158.8h.7M367.6 172.0h.7M365.0 167.7h.7M364.5 170.3h.7M365.3 156.2h.7M364.5 167.6h.7M363.6 165.9h.7M365.9 166.6h.7M365.7 158.3h.7M365.4 163.0h.7M367.3 176.2h.7M366.4 163.6h.7M366.1 168.5h.7M365.2 169.5h.7M368.1 169.8h.7M367.4 170.3h.7M364.2 169.8h.7M365.5 161.8h.7M363.9 156.3h.7M366.2 166.8h.7M364.1 172.6h.7M365.3 167.2h.7M366.0 164.6h.7M364.8 169.5h.7M368.3 166.4h.7M366.8 166.1h.7M364.4 171.8h.7M366.0 167.4h.7M366.8 163.0h.7M365.4 163.9h.7M366.5 163.5h.7M363.2 164.1h.7M363.1 161.9h.7M365.3 160.6h.7M366.7 157.4h.7M365.3 166.3h.7M366.1 165.0h.7M367.9 163.1h.7M367.0 161.3h.7M366.4 167.5h.7M366.7 166.4h.7M364.8 166.7h.7M365.1 165.8h.7M365.5 166.3h.7M366.7 163.7h.7M364.2 163.6h.7M367.4 166.2h.7M364.1 163.5h.7M365.8 171.8h.7M365.9 171.1h.7M366.8 162.2h.7M366.4 156.2h.7M364.4 162.3h.7M365.4 167.9h.7M370.0 166.6h.7M364.3 170.0h.7M365.3 172.8h.7M365.1 169.2h.7M365.6 170.4h.7M366.2 162.2h.7M367.9 157.2h.7M367.7 168.1h.7M366.4 163.0h.7M366.4 165.2h.7M366.9 168.0h.7M364.6 162.6h.7M364.1 172.7h.7M365.4 166.2h.7M367.5 167.8h.7M364.3 165.8h.7M367.2 167.7h.7M365.9 165.0h.7M366.0 163.2h.7M365.1 164.4h.7M366.0 165.9h.7M366.3 164.2h.7M365.3 168.5h.7M367.8 160.3h.7M365.4 164.2h.7M366.8 170.0h.7M365.9 170.7h.7M363.7 159.5h.7M364.0 156.9h.7M365.0 170.4h.7M365.7 168.9h.7M366.5 174.2h.7M364.9 171.5h.7M363.6 176.7h.7M364.7 157.8h.7M365.0 161.6h.7M365.3 164.1h.7M364.5 168.5h.7M364.4 166.2h.7M366.3 164.6h.7M365.8 164.2h.7M365.9 170.3h.7M364.9 174.7h.7M366.3 170.0h.7M366.8 170.5h.7M367.3 166.2h.7M363.5 167.6h.7M367.1 174.8h.7M366.2 168.9h.7M363.6 176.8h.7M363.1 172.4h.7M367.1 171.9h.7M366.4 146.7h.7M367.5 162.7h.7M363.4 163.2h.7M366.3 162.3h.7M367.1 174.3h.7M368.5 162.1h.7M364.2 165.5h.7M365.8 174.3h.7M366.8 158.3h.7M363.1 164.4h.7M364.4 163.6h.7M364.6 163.2h.7M367.1 161.6h.7M365.1 160.1h.7M366.6 164.9h.7M364.9 168.6h.7M366.2 162.5h.7M366.1 158.6h.7M365.2 168.0h.7M365.3 173.1h.7M364.7 160.1h.7M364.5 176.3h.7M364.8 166.6h.7M364.6 155.8h.7M363.8 163.9h.7M364.1 171.6h.7M366.2 177.4h.7M366.6 163.4h.7M366.2 155.9h.7M366.1 163.7h.7M365.7 164.3h.7M363.7 174.7h.7M366.8 160.3h.7M365.5 157.8h.7M365.0 166.8h.7M365.1 167.6h.7M363.4 169.0h.7M365.4 170.5h.7M364.0 151.9h.7M366.0 165.8h.7M362.5 166.7h.7M365.3 172.2h.7M366.3 171.4h.7M367.1 171.5h.7M365.8 173.5h.7M366.1 171.0h.7M366.7 168.8h.7M366.8 159.2h.7M365.9 166.0h.7M364.6 151.8h.7M362.2 171.8h.7M365.8 174.6h.7M362.8 164.4h.7M366.1 169.1h.7M366.2 165.3h.7M366.2 167.8h.7M366.2 176.2h.7M367.0 172.7h.7M364.2 168.0h.7M365.5 168.0h.7M363.1 164.9h.7M366.5 167.5h.7M366.8 172.4h.7M365.6 167.3h.7M365.7 167.6h.7M369.4 164.4h.7M364.4 166.5h.7M365.0 166.0h.7M365.0 157.2h.7M366.0 157.0h.7M365.0 155.6h.7M367.1 151.0h.7M364.0 162.0h.7M365.6 149.5h.7M364.5 170.2h.7M363.1 148.9h.7M368.0 152.3h.7M364.9 156.8h.7M365.2 147.5h.7M366.9 155.1h.7M366.5 164.3h.7M367.0 151.0h.7M367.5 155.4h.7M363.8 166.9h.7M362.3 154.6h.7M365.4 160.0h.7M365.9 145.4h.7M368.4 173.2h.7M364.9 153.7h.7M368.2 167.8h.7M366.4 160.9h.7M368.3 149.0h.7M363.7 158.9h.7M365.7 149.5h.7M368.0 169.2h.7M366.7 166.8h.7M366.0 158.9h.7M366.3 162.1h.7M367.6 168.4h.7M366.6 164.1h.7M367.5 157.9h.7M364.8 160.5h.7M366.3 150.5h.7M364.7 151.2h.7M366.8 166.9h.7M362.5 156.2h.7M365.1 163.6h.7M367.4 146.4h.7M364.1 149.1h.7M363.8 161.2h.7M364.0 158.7h.7M365.1 156.8h.7M363.8 163.2h.7M368.8 152.9h.7M366.2 161.5h.7M366.6 162.4h.7M364.2 157.8h.7M364.1 168.0h.7M364.4 155.1h.7M366.8 141.4h.7M366.0 156.2h.7M369.6 159.7h.7M367.7 163.9h.7M367.6 148.1h.7M368.0 159.9h.7M364.4 160.2h.7M365.0 163.8h.7M364.5 165.2h.7M364.7 154.3h.7M363.2 160.0h.7M366.5 152.2h.7M366.7 157.0h.7M365.6 159.1h.7M361.6 160.8h.7M360.9 150.9h.7M363.9 156.6h.7M366.4 158.4h.7M366.1 148.4h.7M366.4 161.5h.7M365.9 156.7h.7M366.4 153.6h.7M365.0 162.5h.7M368.6 161.7h.7M366.2 146.4h.7M366.1 159.3h.7M369.9 157.9h.7M362.2 154.6h.7M363.2 158.1h.7M368.0 162.3h.7M365.5 158.1h.7M367.5 153.9h.7M365.6 169.9h.7M362.9 173.5h.7M367.5 142.2h.7M367.4 159.7h.7M367.1 157.4h.7M368.5 157.7h.7M367.9 157.4h.7M365.9 165.7h.7M366.9 162.8h.7M366.4 145.4h.7M367.7 152.4h.7M367.6 151.9h.7M368.1 149.4h.7M365.9 164.5h.7M368.7 160.6h.7M363.2 161.8h.7M369.5 149.1h.7M367.2 165.5h.7M367.3 160.3h.7M366.6 141.6h.7M364.5 149.3h.7M364.6 165.4h.7M363.3 160.0h.7M364.3 143.9h.7M364.6 163.0h.7M367.8 174.8h.7M364.5 157.0h.7M367.2 148.9h.7M365.8 158.9h.7M365.7 159.7h.7M366.7 170.2h.7M363.3 157.9h.7M365.9 155.3h.7M368.1 152.9h.7M363.4 171.3h.7M363.8 163.7h.7M362.0 157.8h.7M364.4 157.0h.7M366.3 159.1h.7M365.7 151.8h.7M366.0 159.1h.7M365.5 169.2h.7M366.4 156.1h.7M364.4 162.2h.7M363.8 149.2h.7M364.7 153.3h.7M364.3 168.9h.7M368.3 164.8h.7M362.5 155.7h.7M367.4 154.2h.7M367.3 157.7h.7M365.5 158.8h.7M363.2 157.5h.7M366.2 164.9h.7M366.6 156.8h.7M365.5 138.3h.7M365.8 151.4h.7M372.4 161.4h.7M364.2 169.7h.7M366.3 149.0h.7M368.1 159.7h.7M368.3 165.1h.7M364.1 173.4h.7M365.4 152.7h.7M367.5 146.4h.7M365.1 152.4h.7M366.5 167.0h.7M364.4 158.4h.7M368.5 149.0h.7M366.2 157.5h.7M365.1 167.0h.7M367.2 156.1h.7M364.5 152.5h.7M363.4 149.3h.7M366.2 155.3h.7M364.0 153.2h.7M364.5 165.0h.7M365.9 140.9h.7M359.6 149.7h.7M366.8 144.2h.7M366.6 147.6h.7M370.3 143.4h.7M371.1 142.7h.7M362.0 143.1h.7M360.2 160.1h.7M367.2 164.6h.7M360.0 156.7h.7M366.0 158.1h.7M361.8 153.4h.7M367.0 155.6h.7M359.0 152.3h.7M363.0 156.6h.7M363.9 147.7h.7M367.6 156.1h.7M367.2 152.1h.7M358.9 159.5h.7M367.2 150.3h.7M364.3 158.6h.7M369.2 141.6h.7M364.2 158.7h.7M363.0 151.1h.7M361.0 141.0h.7M359.0 141.6h.7M361.6 159.4h.7M359.4 140.3h.7M367.9 134.7h.7M357.6 139.7h.7M366.7 158.9h.7M365.7 153.4h.7M362.7 148.4h.7M359.6 156.6h.7M357.7 155.0h.7M346.5 155.4h.7M339.3 145.1h.7M353.5 155.2h.7M352.9 142.7h.7M355.0 147.8h.7M353.1 125.9h.7M350.4 140.6h.7M356.9 154.8h.7M351.3 168.8h.7M349.3 135.3h.7" stroke="#000" stroke-width="0.7" fill="none"/>
<text x="368.00" y="126.60" font-family="Liberation Sans" font-size="7.2" text-anchor="start" fill="#000" textLength="20.20" lengthAdjust="spacingAndGlyphs" stroke="#000" stroke-width="0.12">63.2%</text>
<text x="368.00" y="175.90" font-family="Liberation Sans" font-size="7.2" text-anchor="start" fill="#000" textLength="20.20" lengthAdjust="spacingAndGlyphs" stroke="#000" stroke-width="0.12">34.3%</text>
<line x1="485.00" y1="115.50" x2="485.00" y2="187.80" stroke="#bdbdbd" stroke-width="1.0" />
<line x1="392.20" y1="112.00" x2="392.20" y2="182.00" stroke="#cfcfcf" stroke-width="1.0" />
<rect x="415.70" y="120.60" width="64.00" height="56.30" fill="#fff" stroke="#1a1a1a" stroke-width="0.85"/>
<line x1="442.20" y1="120.60" x2="442.20" y2="176.90" stroke="#2a2a2a" stroke-width="0.85" />
<line x1="415.70" y1="138.40" x2="479.70" y2="138.40" stroke="#2a2a2a" stroke-width="0.85" />
<path d="M415.70 176.90v1.7M415.70 176.90h-1.7M420.52 176.90v0.9M415.70 172.66h-0.9M423.33 176.90v0.9M415.70 170.18h-0.9M425.33 176.90v0.9M415.70 168.43h-0.9M426.88 176.90v0.9M415.70 167.06h-0.9M428.15 176.90v0.9M415.70 165.95h-0.9M429.22 176.90v0.9M415.70 165.01h-0.9M430.15 176.90v0.9M415.70 164.19h-0.9M430.97 176.90v0.9M415.70 163.47h-0.9M431.70 176.90v1.7M415.70 162.82h-1.7M436.52 176.90v0.9M415.70 158.59h-0.9M439.33 176.90v0.9M415.70 156.11h-0.9M441.33 176.90v0.9M415.70 154.35h-0.9M442.88 176.90v0.9M415.70 152.99h-0.9M444.15 176.90v0.9M415.70 151.87h-0.9M445.22 176.90v0.9M415.70 150.93h-0.9M446.15 176.90v0.9M415.70 150.11h-0.9M446.97 176.90v0.9M415.70 149.39h-0.9M447.70 176.90v1.7M415.70 148.75h-1.7M452.52 176.90v0.9M415.70 144.51h-0.9M455.33 176.90v0.9M415.70 142.03h-0.9M457.33 176.90v0.9M415.70 140.28h-0.9M458.88 176.90v0.9M415.70 138.91h-0.9M460.15 176.90v0.9M415.70 137.80h-0.9M461.22 176.90v0.9M415.70 136.86h-0.9M462.15 176.90v0.9M415.70 136.04h-0.9M462.97 176.90v0.9M415.70 135.32h-0.9M463.70 176.90v1.7M415.70 134.68h-1.7M468.52 176.90v0.9M415.70 130.44h-0.9M471.33 176.90v0.9M415.70 127.96h-0.9M473.33 176.90v0.9M415.70 126.20h-0.9M474.88 176.90v0.9M415.70 124.84h-0.9M476.15 176.90v0.9M415.70 123.72h-0.9M477.22 176.90v0.9M415.70 122.78h-0.9M478.15 176.90v0.9M415.70 121.96h-0.9M478.97 176.90v0.9M415.70 121.24h-0.9M479.70 176.90v1.7M415.70 120.60h-1.7" stroke="#222" stroke-width="0.5" fill="none"/>
<text x="413.41" y="182.50" font-family="Liberation Sans" font-size="3.7" font-weight="bold" fill="#111">10<tspan dy="-1.67" font-size="2.96">0</tspan></text>
<text x="413.50" y="179.19" font-family="Liberation Sans" font-size="3.7" font-weight="bold" fill="#111" transform="rotate(-90 413.50 179.19)">10<tspan dy="-1.67" font-size="2.96">0</tspan></text>
<text x="429.41" y="182.50" font-family="Liberation Sans" font-size="3.7" font-weight="bold" fill="#111">10<tspan dy="-1.67" font-size="2.96">1</tspan></text>
<text x="413.50" y="165.12" font-family="Liberation Sans" font-size="3.7" font-weight="bold" fill="#111" transform="rotate(-90 413.50 165.12)">10<tspan dy="-1.67" font-size="2.96">1</tspan></text>
<text x="445.41" y="182.50" font-family="Liberation Sans" font-size="3.7" font-weight="bold" fill="#111">10<tspan dy="-1.67" font-size="2.96">2</tspan></text>
<text x="413.50" y="151.04" font-family="Liberation Sans" font-size="3.7" font-weight="bold" fill="#111" transform="rotate(-90 413.50 151.04)">10<tspan dy="-1.67" font-size="2.96">2</tspan></text>
<text x="461.41" y="182.50" font-family="Liberation Sans" font-size="3.7" font-weight="bold" fill="#111">10<tspan dy="-1.67" font-size="2.96">3</tspan></text>
<text x="413.50" y="136.97" font-family="Liberation Sans" font-size="3.7" font-weight="bold" fill="#111" transform="rotate(-90 413.50 136.97)">10<tspan dy="-1.67" font-size="2.96">3</tspan></text>
<text x="477.41" y="182.50" font-family="Liberation Sans" font-size="3.7" font-weight="bold" fill="#111">10<tspan dy="-1.67" font-size="2.96">4</tspan></text>
<text x="413.50" y="122.89" font-family="Liberation Sans" font-size="3.7" font-weight="bold" fill="#111" transform="rotate(-90 413.50 122.89)">10<tspan dy="-1.67" font-size="2.96">4</tspan></text>
<text x="443.20" y="118.60" font-family="Liberation Sans" font-size="3.8000000000000003" text-anchor="middle" fill="#111" font-weight="bold" >Data.004</text>
<text x="447.60" y="187.40" font-family="Liberation Sans" font-size="3.8000000000000003" text-anchor="middle" fill="#111" font-weight="bold" >FL2-Height</text>
<text x="407.20" y="149.75" font-family="Liberation Sans" font-size="3.6" text-anchor="middle" fill="#111" font-weight="bold" transform="rotate(-90 407.20 149.75)" >FL1-Height</text>
<rect x="457.10" y="121.20" width="21.60" height="8.00" fill="#fff" stroke="#444" stroke-width="0.6"/>
<text x="458.30" y="127.90" font-family="Liberation Sans" font-size="7.2" text-anchor="start" fill="#000" textLength="19.70" lengthAdjust="spacingAndGlyphs" stroke="#000" stroke-width="0.12">58.8%</text>
<rect x="460.40" y="166.60" width="18.30" height="8.00" fill="#fff" stroke="#444" stroke-width="0.6"/>
<text x="461.60" y="173.30" font-family="Liberation Sans" font-size="7.2" text-anchor="start" fill="#000" textLength="17.30" lengthAdjust="spacingAndGlyphs" stroke="#000" stroke-width="0.12">40.2%</text>
<path d="M451.5 156.8h.6M437.7 155.3h.6M421.0 158.1h.6M430.4 166.8h.6M434.1 156.1h.6M425.2 162.4h.6M434.2 162.2h.6M444.1 163.8h.6M433.6 137.1h.6M424.3 164.4h.6M446.1 168.9h.6M430.5 146.2h.6M445.1 164.7h.6M436.2 156.0h.6M422.5 153.9h.6M449.3 146.8h.6M431.3 154.5h.6M432.7 137.9h.6M431.0 150.4h.6M432.9 152.0h.6M436.1 146.0h.6M452.9 152.8h.6M450.7 170.6h.6M437.3 144.2h.6M433.1 157.6h.6M428.2 150.8h.6M463.0 158.8h.6M423.9 161.9h.6M426.2 131.6h.6M437.4 147.9h.6M436.2 173.6h.6M436.5 147.0h.6M451.9 134.2h.6M423.8 169.5h.6M450.8 152.7h.6M428.2 158.5h.6M438.3 156.8h.6M430.3 142.1h.6M427.8 150.9h.6M430.9 148.3h.6M433.5 137.0h.6M444.0 168.8h.6M429.0 141.3h.6M438.6 160.6h.6M433.9 165.3h.6M430.1 144.7h.6M450.8 150.9h.6M431.5 132.7h.6M432.1 149.6h.6M435.6 162.7h.6M437.8 144.3h.6M446.4 159.6h.6M441.4 155.2h.6M436.8 141.9h.6M420.4 149.1h.6M428.6 157.8h.6M427.0 166.3h.6M429.5 149.8h.6M435.7 159.6h.6M441.2 157.9h.6M434.8 170.0h.6M419.1 155.6h.6M429.7 157.6h.6M427.5 157.5h.6M460.8 161.2h.6M437.4 171.5h.6M427.1 144.9h.6M416.5 171.0h.6M437.1 161.4h.6M437.7 155.9h.6M433.5 140.9h.6M451.3 152.1h.6M453.8 162.8h.6M422.2 151.7h.6M431.6 149.6h.6M429.3 154.4h.6M428.7 147.4h.6M435.8 155.1h.6M429.6 158.9h.6M430.3 158.7h.6M434.6 166.2h.6M416.5 172.0h.6M430.2 166.8h.6M428.5 152.6h.6M438.9 150.1h.6M428.9 152.0h.6M449.1 136.3h.6M433.3 168.3h.6M430.9 169.6h.6M428.5 145.0h.6M426.2 159.6h.6M422.1 156.5h.6M436.1 151.5h.6M455.2 149.8h.6M454.9 147.2h.6M438.9 157.2h.6M425.9 161.4h.6M446.9 161.2h.6M434.7 168.2h.6M441.8 158.3h.6M442.7 141.8h.6M431.1 135.8h.6M428.2 156.0h.6M422.9 146.7h.6M446.8 151.7h.6M421.4 157.5h.6M439.5 154.2h.6M432.6 146.0h.6M462.0 144.3h.6M435.4 159.9h.6M445.8 151.0h.6M437.9 149.1h.6M438.9 136.3h.6M447.9 158.6h.6M442.6 153.3h.6M431.7 169.3h.6M433.8 165.5h.6M435.6 146.8h.6M430.7 160.0h.6M441.8 146.4h.6M436.0 156.3h.6M442.5 168.1h.6M421.7 146.7h.6M436.2 139.4h.6M456.7 152.9h.6M436.1 158.0h.6M442.8 135.4h.6M433.6 163.2h.6M439.2 154.1h.6M429.2 139.7h.6M439.6 157.3h.6M429.3 157.0h.6M454.7 156.1h.6M438.1 150.3h.6M450.6 149.7h.6M437.6 160.3h.6M452.2 150.3h.6M445.3 142.7h.6M436.4 158.7h.6M436.2 156.0h.6M434.0 154.3h.6M442.6 159.7h.6M449.4 153.1h.6M444.9 162.9h.6M439.0 161.9h.6M440.0 155.5h.6M435.7 141.2h.6M425.4 154.8h.6M441.0 161.0h.6M433.3 147.5h.6M438.0 154.7h.6M424.6 162.4h.6M446.0 155.0h.6M420.4 154.8h.6M436.2 141.9h.6M440.4 155.8h.6M453.2 151.9h.6M447.4 157.8h.6M453.7 147.9h.6M448.1 175.7h.6M446.9 146.6h.6M455.2 165.7h.6M437.2 157.7h.6M438.4 155.8h.6M452.7 164.3h.6M439.9 147.2h.6M456.5 161.3h.6M445.6 158.4h.6M440.9 138.9h.6M438.2 160.5h.6M441.6 163.2h.6M452.7 159.5h.6M442.5 151.2h.6M442.7 158.4h.6M454.8 159.6h.6M459.5 161.5h.6M444.4 142.7h.6M442.3 143.1h.6M450.4 156.5h.6M459.1 164.7h.6M452.4 149.0h.6M444.0 163.2h.6M448.8 149.9h.6M444.9 160.1h.6M452.2 161.9h.6M446.2 155.5h.6M452.0 159.0h.6M439.5 149.8h.6M451.6 173.6h.6M453.5 151.2h.6M450.2 154.5h.6M449.1 163.6h.6M447.7 159.1h.6M457.2 152.8h.6M445.6 161.9h.6M448.5 156.5h.6M449.4 149.7h.6M448.4 152.4h.6M456.6 151.6h.6M448.0 167.5h.6M444.6 160.5h.6M442.8 150.7h.6M443.7 151.6h.6M446.7 132.8h.6M448.1 156.7h.6M443.0 146.7h.6M447.0 153.7h.6M460.9 168.7h.6M447.5 152.0h.6M449.2 142.3h.6M439.8 162.4h.6M435.3 152.5h.6M441.6 156.0h.6M449.1 152.9h.6M452.6 156.3h.6M454.2 159.1h.6M457.8 175.4h.6M448.5 131.7h.6M442.9 155.2h.6M438.6 149.3h.6M454.1 149.7h.6M446.3 170.0h.6M439.8 145.8h.6M448.1 144.4h.6M448.3 164.7h.6M451.0 153.6h.6M443.7 160.1h.6M446.8 159.0h.6M457.0 140.0h.6M453.9 150.7h.6M452.5 156.4h.6M446.3 155.4h.6M455.0 163.0h.6M455.0 144.8h.6M444.0 149.5h.6M445.3 166.8h.6M453.6 152.5h.6M435.8 153.1h.6M439.6 149.4h.6M450.1 162.3h.6M459.5 147.0h.6M438.0 137.2h.6M456.4 143.1h.6M447.8 170.7h.6M440.8 161.7h.6M440.1 165.7h.6M437.7 150.2h.6M443.5 153.7h.6M453.1 167.8h.6M455.1 170.1h.6M437.6 157.9h.6M457.5 173.0h.6M454.4 155.5h.6M453.6 156.1h.6M442.9 167.3h.6M448.0 157.5h.6M451.4 165.1h.6M445.0 145.0h.6M445.2 150.7h.6M447.8 163.8h.6M446.6 155.0h.6M440.1 161.3h.6M446.7 164.9h.6M454.9 163.5h.6M446.5 165.3h.6M459.5 145.3h.6M451.3 163.7h.6M450.7 159.3h.6M442.6 153.0h.6M453.4 147.3h.6M444.3 148.2h.6M452.4 169.9h.6M441.2 150.8h.6M431.0 167.6h.6M455.8 164.7h.6M441.5 163.4h.6M460.9 147.0h.6M444.0 171.0h.6M444.9 167.8h.6M444.1 155.7h.6M437.9 152.2h.6M450.0 160.5h.6M455.9 167.0h.6M447.2 171.6h.6M456.8 158.8h.6M434.5 171.4h.6M432.9 162.2h.6M434.3 168.3h.6M422.4 166.8h.6M436.0 164.3h.6M437.9 164.5h.6M446.2 158.0h.6M434.2 165.3h.6M443.5 155.8h.6M442.9 168.7h.6M418.7 153.9h.6M434.7 175.5h.6M423.7 162.5h.6M426.4 171.0h.6M429.0 160.2h.6M422.5 157.7h.6M433.0 170.4h.6M425.7 163.8h.6M427.5 172.4h.6M428.6 164.9h.6M431.8 159.2h.6M433.3 167.4h.6M426.1 170.8h.6M431.2 159.4h.6M427.1 162.1h.6M428.5 173.9h.6M420.9 162.9h.6M426.7 172.8h.6M427.6 163.1h.6M436.3 156.3h.6M428.8 171.6h.6M435.7 165.4h.6M450.4 134.3h.6M438.9 133.5h.6M445.1 137.7h.6M442.8 131.4h.6M454.6 140.7h.6M450.4 133.0h.6M450.9 128.8h.6M446.5 127.0h.6M449.8 134.2h.6M446.4 132.3h.6" stroke="#555" stroke-width="0.6" fill="none"/>
<path d="M459.4 129.0h.7M460.8 130.6h.7M461.2 134.5h.7M459.4 133.7h.7M457.5 129.6h.7M461.8 131.3h.7M463.7 135.5h.7M453.4 128.8h.7M460.0 131.8h.7M455.9 130.1h.7M457.1 131.8h.7M454.7 131.6h.7M455.9 132.2h.7M455.5 135.3h.7M458.8 130.0h.7M455.0 134.7h.7M462.6 133.8h.7M454.2 131.7h.7M458.8 130.7h.7M459.9 134.1h.7M459.8 135.6h.7M458.6 131.7h.7M455.1 134.5h.7M452.9 137.5h.7M462.3 134.5h.7M456.3 132.7h.7M455.3 131.0h.7M459.3 131.0h.7M455.5 132.5h.7M456.6 132.1h.7M459.2 130.9h.7M458.9 136.1h.7M464.4 133.0h.7M461.1 132.3h.7M460.6 128.5h.7M459.6 138.0h.7M456.7 134.6h.7M457.6 136.6h.7M457.0 137.6h.7M460.0 129.8h.7M459.3 130.6h.7M457.1 132.0h.7M463.5 134.2h.7M464.7 133.4h.7M460.3 125.6h.7M456.5 132.4h.7M456.5 134.5h.7M453.4 132.4h.7M457.8 130.0h.7M456.9 131.7h.7M460.9 134.2h.7M462.1 134.3h.7M454.7 131.1h.7M453.4 133.6h.7M463.6 132.7h.7M459.6 133.7h.7M456.4 135.1h.7M456.9 133.5h.7M454.0 136.9h.7M461.0 132.4h.7M458.8 135.4h.7M455.2 134.1h.7M462.1 133.1h.7M461.9 133.5h.7M458.3 137.2h.7M459.7 135.6h.7M459.9 132.5h.7M460.9 131.0h.7M456.9 133.0h.7M461.3 134.9h.7M464.8 130.1h.7M458.1 137.2h.7M457.3 136.5h.7M460.4 131.9h.7M461.1 130.3h.7M467.6 134.8h.7M459.1 130.8h.7M459.5 135.7h.7M458.5 137.2h.7M458.0 132.5h.7M455.8 129.1h.7M464.6 132.3h.7M456.0 137.4h.7M455.3 134.8h.7M462.2 137.0h.7M462.7 133.1h.7M465.6 131.4h.7M455.7 128.3h.7M462.0 135.1h.7M463.3 131.6h.7M454.0 131.4h.7M463.7 137.3h.7M452.1 136.8h.7M463.0 134.0h.7M459.2 132.3h.7M457.3 132.2h.7M457.1 136.1h.7M461.1 132.9h.7M461.1 134.7h.7M462.2 132.0h.7M460.3 133.6h.7M457.4 135.5h.7M455.6 135.5h.7M454.6 134.8h.7M465.2 135.7h.7M460.1 133.1h.7M462.2 129.2h.7M457.9 132.3h.7M457.6 132.2h.7M459.5 134.3h.7M456.9 134.8h.7M458.9 135.8h.7M460.2 131.2h.7M456.3 140.3h.7M459.9 128.3h.7M453.2 134.0h.7M456.2 134.0h.7M456.0 133.9h.7M459.9 130.0h.7M458.2 132.5h.7M462.9 128.7h.7M457.1 130.6h.7M458.8 136.8h.7M459.8 126.1h.7M459.5 133.9h.7M455.5 129.8h.7M461.2 131.1h.7M457.5 133.0h.7M454.9 135.3h.7M458.2 134.0h.7M457.0 135.5h.7M461.1 134.7h.7M461.5 130.1h.7M457.7 131.2h.7M463.3 133.4h.7M458.5 133.0h.7M461.3 133.1h.7M460.0 134.3h.7M455.1 131.6h.7M459.8 130.4h.7M461.8 138.1h.7M458.5 133.6h.7M458.2 134.1h.7M461.5 134.7h.7M461.1 132.5h.7M462.1 135.0h.7M462.7 135.8h.7M457.1 132.7h.7M460.1 136.5h.7M458.2 138.1h.7M461.6 135.2h.7M465.6 133.6h.7M459.7 134.8h.7M460.0 132.5h.7M459.2 129.8h.7M466.9 131.9h.7M456.1 132.8h.7M459.5 131.4h.7M457.5 129.4h.7M460.1 137.0h.7M462.8 135.7h.7M458.6 134.1h.7M463.6 138.0h.7M458.6 134.8h.7M465.4 134.1h.7M458.3 133.5h.7M459.0 129.7h.7M459.1 131.0h.7M457.3 129.6h.7M455.8 131.4h.7M458.0 130.8h.7M464.2 135.6h.7M467.1 133.9h.7M464.0 134.5h.7M457.4 131.7h.7M460.5 131.0h.7M459.9 129.7h.7M463.1 130.1h.7M461.3 135.6h.7M459.9 135.2h.7M467.0 131.3h.7M455.3 136.4h.7M461.8 134.1h.7M463.1 133.6h.7M463.5 133.0h.7M456.4 130.3h.7M461.9 134.4h.7M462.8 131.6h.7M462.3 130.1h.7M461.7 135.9h.7M458.0 136.3h.7M461.2 134.1h.7M458.0 130.9h.7M467.0 133.4h.7M456.0 134.6h.7M455.9 128.0h.7M457.7 133.9h.7M460.0 134.2h.7M460.2 136.2h.7M461.7 130.2h.7M462.1 132.3h.7M454.4 132.4h.7M458.0 137.6h.7M460.7 131.8h.7M461.8 132.3h.7M458.0 134.7h.7M459.6 135.6h.7M458.2 134.8h.7M463.1 133.6h.7M461.9 138.9h.7M460.5 132.1h.7M457.7 136.7h.7M461.6 134.3h.7M456.8 136.7h.7M459.7 137.3h.7M459.4 130.8h.7M462.8 132.2h.7M457.4 131.8h.7M454.8 130.3h.7M453.7 135.3h.7M457.3 134.5h.7M461.6 136.4h.7M458.8 138.2h.7M453.4 132.4h.7M460.4 130.7h.7M464.4 134.4h.7M455.0 130.6h.7M461.3 134.0h.7M464.7 132.3h.7M453.1 135.8h.7M459.9 133.5h.7M457.6 135.4h.7M453.3 133.0h.7M459.9 131.1h.7M461.2 135.3h.7M460.9 133.8h.7M459.3 134.9h.7M461.3 135.7h.7M458.3 136.0h.7M458.0 135.0h.7M460.1 133.5h.7M458.3 132.6h.7M453.7 130.0h.7M457.0 133.7h.7M453.6 128.7h.7M453.7 138.1h.7M457.7 133.5h.7M461.4 135.7h.7M458.9 135.7h.7M459.2 132.8h.7M457.8 132.9h.7M459.5 131.3h.7M460.3 132.7h.7M462.5 133.6h.7M455.7 134.6h.7M458.1 134.7h.7M460.4 131.4h.7M456.9 134.4h.7M462.0 127.9h.7M460.7 133.6h.7M455.5 132.6h.7M463.9 134.5h.7M462.5 137.1h.7M458.4 133.5h.7M459.2 130.2h.7M464.8 130.4h.7M458.5 134.5h.7M459.9 139.4h.7M456.8 132.5h.7M460.1 129.8h.7M462.1 133.1h.7M458.6 131.6h.7M461.8 136.5h.7M457.1 130.3h.7M456.4 133.4h.7M457.2 125.5h.7M455.6 127.0h.7M459.8 133.9h.7M458.2 126.6h.7M453.5 137.2h.7M467.4 135.2h.7M461.5 131.9h.7M458.7 135.5h.7M458.8 134.4h.7M456.3 134.1h.7M456.1 137.9h.7M457.9 132.3h.7M460.1 133.5h.7M462.9 130.4h.7M465.3 135.0h.7M460.2 133.5h.7M459.4 128.6h.7M457.7 137.5h.7M461.7 136.5h.7M457.5 133.6h.7M459.4 132.9h.7M458.5 135.4h.7M454.6 136.6h.7M457.5 134.9h.7M454.1 134.8h.7M462.5 135.4h.7M462.0 139.5h.7M459.8 129.9h.7M460.9 131.6h.7M463.4 134.8h.7M460.7 131.4h.7M460.1 135.6h.7M454.9 134.4h.7M464.0 130.1h.7M459.1 135.7h.7M461.3 132.1h.7M460.1 134.6h.7M460.6 133.4h.7M457.8 133.6h.7M459.4 131.8h.7M458.8 132.1h.7M458.9 136.1h.7M461.3 129.1h.7M453.0 134.3h.7M462.2 131.3h.7M456.9 130.9h.7M456.0 134.3h.7M456.7 134.9h.7M459.3 131.9h.7M462.0 133.6h.7M463.7 132.9h.7M455.8 137.7h.7M458.5 133.9h.7M464.0 135.4h.7M459.7 135.9h.7M465.4 136.3h.7M458.9 133.2h.7M458.0 129.4h.7M454.7 129.9h.7M460.6 130.7h.7M468.1 132.5h.7M462.3 133.8h.7M461.8 131.2h.7M460.6 133.3h.7M460.9 135.8h.7M462.3 133.2h.7M462.4 135.7h.7M461.0 132.9h.7M461.4 134.2h.7M459.9 133.7h.7M461.7 135.4h.7M456.1 130.6h.7M459.2 133.5h.7M456.2 133.6h.7M462.2 130.4h.7M460.8 127.4h.7M458.2 136.3h.7M455.8 128.6h.7M458.3 127.5h.7M462.4 131.4h.7M459.8 134.9h.7M458.4 134.7h.7M459.4 134.2h.7M460.0 130.5h.7M462.7 133.5h.7M458.5 135.7h.7M460.9 135.2h.7M461.2 133.8h.7M459.3 131.5h.7M457.8 135.2h.7M458.6 134.8h.7M461.3 137.4h.7M465.4 134.2h.7M458.0 131.1h.7M453.9 132.0h.7M455.9 136.0h.7M458.7 130.1h.7M458.5 132.8h.7M457.9 131.9h.7M458.1 133.3h.7M462.5 131.8h.7M454.8 133.8h.7M460.0 129.1h.7M460.4 134.7h.7M460.3 132.6h.7M460.5 130.1h.7M458.9 135.6h.7M454.5 135.9h.7M456.3 132.3h.7M460.9 131.1h.7M457.3 128.0h.7M462.5 133.8h.7M459.0 131.4h.7M459.1 137.9h.7M467.4 129.6h.7M456.7 133.7h.7M464.2 136.5h.7M455.6 130.4h.7M456.5 133.5h.7M456.8 133.2h.7M460.7 130.2h.7M458.5 136.6h.7M457.1 131.8h.7M459.9 135.6h.7M454.8 135.4h.7M457.3 135.6h.7M452.9 136.4h.7M459.6 130.7h.7M462.2 130.7h.7M457.8 132.8h.7M459.7 133.6h.7M456.4 130.7h.7M454.0 133.5h.7M460.6 133.7h.7M461.1 138.4h.7M461.1 131.6h.7M460.4 135.0h.7M461.0 135.8h.7M463.3 129.0h.7M452.2 132.5h.7M455.0 136.5h.7M456.9 135.0h.7M460.8 142.5h.7M455.2 138.0h.7M455.7 129.2h.7M459.7 133.8h.7M460.8 135.1h.7M461.0 132.3h.7M458.2 135.6h.7M459.8 135.1h.7M465.4 130.8h.7M458.6 133.6h.7M454.9 133.3h.7M462.5 132.1h.7M464.1 133.1h.7M459.4 132.2h.7M460.3 135.4h.7M459.8 134.3h.7M461.0 128.4h.7M456.2 130.0h.7M457.7 134.3h.7M455.6 132.5h.7M460.4 131.2h.7M456.3 132.4h.7M465.1 130.4h.7M468.0 131.3h.7M457.4 128.0h.7M455.1 136.1h.7M459.5 135.4h.7M459.8 130.3h.7M458.2 132.9h.7M457.6 132.7h.7M461.9 136.3h.7M462.5 136.6h.7M461.4 131.6h.7M457.8 130.8h.7M462.1 137.6h.7M459.8 131.6h.7M458.8 137.4h.7M460.9 136.2h.7M465.3 136.1h.7M459.1 132.0h.7M453.3 136.9h.7M458.5 137.2h.7M464.4 136.5h.7M461.9 130.8h.7M462.8 129.3h.7M461.7 131.8h.7M456.0 132.7h.7M455.4 137.7h.7M457.8 135.0h.7M461.4 130.7h.7M457.1 131.3h.7M457.6 133.4h.7M457.2 134.2h.7M462.3 130.1h.7M457.7 133.3h.7M460.4 133.6h.7M453.6 133.7h.7M456.2 133.2h.7M459.6 130.0h.7M460.9 131.0h.7M462.0 133.4h.7M458.1 135.4h.7M458.9 135.6h.7M456.4 134.7h.7M453.0 134.9h.7M465.9 134.2h.7M462.6 134.2h.7M460.0 132.8h.7M457.5 130.9h.7M456.8 134.4h.7M462.0 132.9h.7M463.5 131.0h.7M463.7 137.3h.7M458.8 131.1h.7M459.7 132.6h.7M463.7 131.1h.7M455.8 132.3h.7M455.2 128.8h.7M458.1 132.2h.7M453.8 137.4h.7M455.2 131.5h.7M458.6 134.2h.7M456.1 133.0h.7M453.6 133.6h.7M462.0 133.9h.7M457.0 130.8h.7M457.2 131.4h.7M456.8 134.9h.7M455.6 134.3h.7M461.6 134.5h.7M457.4 133.8h.7M456.5 133.4h.7M456.5 135.4h.7M454.7 131.1h.7M462.4 134.4h.7M458.1 130.2h.7M466.8 139.2h.7M464.7 134.7h.7M453.6 133.2h.7M461.3 139.1h.7M455.5 130.6h.7M462.4 137.6h.7M464.4 135.5h.7M462.8 131.3h.7M461.3 135.0h.7M453.4 134.3h.7M458.9 133.3h.7M459.4 133.5h.7M466.8 135.3h.7M461.6 134.6h.7M463.9 131.6h.7M459.3 131.2h.7M453.9 131.5h.7M463.6 130.4h.7M459.8 134.6h.7M457.3 134.1h.7M459.8 135.6h.7M461.9 128.8h.7M456.6 134.0h.7M461.1 129.1h.7M463.2 135.6h.7M456.5 135.7h.7M462.2 131.8h.7M464.4 128.4h.7M456.2 129.8h.7M457.0 130.0h.7M459.8 136.2h.7M457.5 130.8h.7M460.4 130.2h.7M455.5 132.4h.7M461.4 135.3h.7M457.0 132.1h.7M462.3 130.3h.7M463.4 130.8h.7M460.2 135.7h.7M461.7 132.4h.7M460.9 134.8h.7M462.5 130.6h.7M458.5 133.9h.7M456.5 133.2h.7M457.4 134.2h.7M467.9 134.7h.7M462.5 132.8h.7M458.7 131.7h.7M458.1 126.3h.7M453.8 133.6h.7M459.1 130.6h.7M461.8 132.5h.7M461.6 134.4h.7M459.3 137.2h.7M460.0 139.4h.7M458.6 132.6h.7M462.8 133.2h.7M458.4 138.3h.7M456.9 131.5h.7M458.6 132.9h.7M460.2 133.3h.7M460.5 132.7h.7M456.5 134.8h.7M460.3 131.0h.7M462.0 133.0h.7M461.6 135.6h.7M460.7 134.7h.7M461.1 134.1h.7M457.6 132.9h.7M459.9 136.1h.7M461.2 131.5h.7M456.7 133.6h.7M458.8 127.3h.7M459.5 137.3h.7M456.4 131.9h.7M462.7 133.9h.7M460.7 134.2h.7M459.0 132.3h.7M461.4 132.9h.7M457.1 133.7h.7M461.0 132.4h.7M461.5 130.8h.7M458.1 136.0h.7M461.1 132.4h.7M460.6 130.8h.7M454.9 136.2h.7M464.3 132.5h.7M458.8 133.1h.7M458.0 132.8h.7M459.2 132.1h.7M460.4 132.8h.7M463.6 130.8h.7M461.6 127.5h.7M458.4 130.2h.7M459.7 133.6h.7M460.1 132.4h.7M459.0 130.5h.7M456.5 133.9h.7M459.8 135.2h.7M462.7 131.8h.7M463.8 132.1h.7M459.1 133.5h.7M460.6 134.6h.7M458.7 132.9h.7M465.1 129.8h.7M468.1 133.3h.7M459.2 137.9h.7M460.7 133.3h.7M457.8 135.5h.7M458.3 136.1h.7M460.0 134.5h.7M463.2 132.8h.7M459.0 136.1h.7M458.2 129.8h.7M463.3 134.7h.7M461.6 129.9h.7M456.2 135.1h.7M458.7 137.9h.7M467.3 132.6h.7M459.0 135.7h.7M453.5 133.4h.7M454.9 130.7h.7M460.0 131.2h.7M456.9 135.1h.7M458.7 138.7h.7M459.1 132.1h.7M459.5 129.3h.7M463.1 135.7h.7M460.2 131.3h.7M458.1 134.9h.7M456.2 136.5h.7M453.0 132.1h.7M452.8 136.1h.7M460.2 131.1h.7M457.2 137.1h.7M457.3 133.7h.7M459.3 136.2h.7M455.8 135.8h.7M461.8 133.4h.7M459.1 136.1h.7M457.3 134.2h.7M456.3 135.5h.7M461.1 132.7h.7M459.0 133.3h.7M459.7 135.1h.7M465.0 136.0h.7M458.3 132.8h.7M460.8 130.4h.7M455.0 130.9h.7M459.9 131.8h.7M460.3 132.1h.7M457.0 134.4h.7M460.0 135.7h.7M462.7 135.8h.7M457.3 134.1h.7M462.4 132.1h.7M460.5 132.6h.7M459.4 134.2h.7M458.6 131.9h.7M453.4 134.5h.7M461.8 131.1h.7M460.5 134.5h.7M465.6 132.3h.7M456.8 137.7h.7M461.4 136.1h.7M457.6 134.0h.7M456.5 136.0h.7M454.2 127.8h.7M458.0 133.2h.7M456.5 135.9h.7M458.0 132.7h.7M460.8 131.6h.7M459.5 129.3h.7M460.9 130.4h.7M459.6 131.6h.7M462.0 132.1h.7M462.5 137.1h.7M459.8 135.7h.7M459.5 132.3h.7M458.7 129.6h.7M463.4 138.6h.7M457.7 136.5h.7M463.3 132.5h.7M458.8 131.8h.7M457.4 136.4h.7M460.0 134.4h.7M461.0 135.8h.7M459.0 134.5h.7M464.6 134.6h.7M464.1 141.0h.7M455.4 134.3h.7M462.6 134.6h.7M458.9 134.7h.7M454.6 131.2h.7M454.6 131.0h.7M455.9 135.9h.7M458.1 131.9h.7M461.6 133.6h.7M458.0 134.0h.7M464.4 135.5h.7M460.1 133.9h.7M454.7 137.7h.7M459.9 136.8h.7M462.1 131.3h.7M461.2 131.7h.7M458.7 138.9h.7M461.8 131.3h.7M461.6 130.4h.7M465.7 129.3h.7M462.1 133.6h.7M457.1 133.5h.7M463.9 132.6h.7M454.8 135.3h.7M462.1 132.3h.7M457.5 131.5h.7M459.9 134.2h.7M459.9 131.2h.7M461.0 130.3h.7M460.6 133.9h.7M455.0 132.5h.7M457.6 135.0h.7M458.1 138.3h.7M460.9 130.8h.7M459.1 134.8h.7M464.5 132.7h.7M467.6 134.7h.7M448.9 132.0h.7M457.1 129.4h.7M461.3 135.3h.7M460.6 129.9h.7M461.3 129.3h.7M458.4 137.6h.7M459.5 136.0h.7M459.7 135.6h.7M458.5 135.8h.7M461.8 134.8h.7M456.5 132.4h.7M456.1 130.7h.7M457.8 133.5h.7M455.6 136.1h.7M453.9 136.3h.7M457.6 134.2h.7M461.7 132.0h.7M455.3 134.5h.7M464.6 129.9h.7M457.0 134.1h.7M460.4 133.9h.7M458.5 132.1h.7M461.6 133.7h.7M456.8 129.6h.7M462.4 128.8h.7M457.9 129.7h.7M456.5 132.1h.7M460.7 134.1h.7M459.8 134.4h.7M462.0 132.0h.7M462.8 135.8h.7M461.9 133.5h.7M458.6 133.5h.7M462.6 130.9h.7M457.2 133.9h.7M456.0 133.0h.7M460.7 129.2h.7M460.9 126.8h.7M457.3 134.7h.7M458.8 134.5h.7M458.5 134.8h.7M459.1 131.8h.7M459.1 134.1h.7M461.8 131.2h.7M455.4 136.7h.7M457.3 131.9h.7M462.4 134.8h.7M456.8 135.0h.7M461.1 137.5h.7M460.8 131.0h.7M455.7 133.4h.7M456.2 133.6h.7M457.3 138.6h.7M461.4 134.7h.7M451.6 133.6h.7M458.5 130.6h.7M453.1 135.5h.7M462.9 131.0h.7M458.1 130.9h.7M454.3 130.7h.7M462.2 135.1h.7M458.4 131.3h.7M465.0 131.0h.7M457.1 131.7h.7M464.9 133.4h.7M462.0 134.2h.7M459.9 134.4h.7M463.7 138.7h.7M459.3 136.3h.7M453.4 135.5h.7M459.6 130.6h.7M459.3 138.0h.7M458.2 134.7h.7M460.3 134.2h.7M465.3 134.9h.7M460.3 136.2h.7M458.4 133.3h.7M463.8 132.1h.7M458.3 131.0h.7M457.1 135.8h.7M462.2 135.6h.7M459.2 133.8h.7M456.7 131.1h.7M463.2 135.0h.7M461.5 130.9h.7M459.7 129.8h.7M454.2 130.8h.7M457.3 138.6h.7M460.8 135.2h.7M459.2 135.2h.7M463.3 134.8h.7M460.0 137.7h.7M458.9 134.0h.7M459.4 132.5h.7M455.5 136.2h.7M458.2 133.2h.7M458.0 135.3h.7M455.5 137.3h.7M455.5 132.9h.7M458.4 134.5h.7M463.3 131.9h.7M462.5 132.4h.7M464.4 134.2h.7M460.9 129.8h.7M453.9 133.3h.7M458.9 131.5h.7M456.5 135.4h.7M456.9 136.9h.7M458.4 133.9h.7M452.6 133.6h.7M458.7 133.9h.7M456.9 133.5h.7M456.2 136.2h.7M455.5 131.3h.7M467.4 138.5h.7M461.2 131.7h.7M458.4 133.2h.7M459.5 132.2h.7M461.0 137.7h.7M457.5 133.9h.7M462.9 135.8h.7M461.8 132.2h.7M455.8 134.0h.7M457.7 135.6h.7M456.2 130.8h.7M464.6 127.4h.7M463.8 133.4h.7M461.3 132.1h.7M453.3 134.6h.7M456.2 133.8h.7M464.2 133.9h.7M457.0 131.4h.7M454.9 132.8h.7M464.6 136.4h.7M452.3 130.8h.7M459.3 134.7h.7M455.9 133.5h.7M458.8 130.0h.7M458.9 128.5h.7M457.8 132.0h.7M456.9 136.1h.7M467.0 132.4h.7M456.0 127.8h.7M458.3 132.5h.7M466.5 131.2h.7M450.7 135.1h.7M460.0 127.5h.7M463.1 132.9h.7M461.6 130.0h.7M456.8 130.6h.7M460.6 134.3h.7M460.1 127.3h.7M462.2 131.1h.7M458.1 131.6h.7M459.6 133.9h.7M463.6 136.2h.7M458.1 130.9h.7M458.5 132.2h.7M463.5 132.3h.7M458.1 132.1h.7M458.1 134.5h.7M458.8 135.9h.7M459.4 133.8h.7M460.8 135.2h.7M461.5 131.0h.7M457.5 134.9h.7M460.1 132.4h.7M454.4 130.6h.7M461.0 131.2h.7M460.2 132.8h.7M456.1 130.8h.7M452.8 130.8h.7M456.2 135.0h.7M465.7 130.6h.7M458.4 134.0h.7M465.6 130.3h.7M465.0 132.8h.7M463.9 131.5h.7M459.6 138.1h.7M460.6 136.5h.7M463.9 132.7h.7M462.8 132.2h.7M459.3 135.7h.7M456.9 136.0h.7M455.7 134.9h.7M458.0 133.7h.7M457.1 135.6h.7M465.9 130.4h.7M458.2 129.9h.7M458.1 130.6h.7M462.7 131.8h.7M459.6 131.1h.7M458.6 134.0h.7M461.4 134.2h.7M455.4 135.8h.7M463.6 136.0h.7M459.9 134.3h.7M459.5 136.6h.7M457.6 130.4h.7M458.9 133.5h.7M463.4 136.2h.7M464.9 132.8h.7M456.2 139.0h.7M460.5 129.2h.7M459.4 134.3h.7M460.8 133.0h.7M463.9 132.0h.7M460.4 133.6h.7M465.6 136.0h.7M458.3 134.4h.7M460.6 137.2h.7M461.2 133.5h.7M458.6 137.2h.7M458.4 131.6h.7M458.9 135.7h.7M454.7 134.6h.7M461.9 132.3h.7M456.9 134.8h.7M459.6 132.1h.7M462.7 138.3h.7M459.7 131.2h.7M460.1 131.1h.7M460.7 133.3h.7M460.7 133.2h.7M463.6 137.1h.7M458.3 134.3h.7M457.3 130.7h.7M463.0 137.6h.7M461.1 135.1h.7M459.0 133.6h.7M459.4 131.3h.7M461.0 133.4h.7M458.1 133.6h.7M461.1 135.9h.7M459.7 136.1h.7M458.8 133.8h.7M457.3 134.2h.7M457.5 132.6h.7M458.7 134.9h.7M457.5 135.0h.7M464.5 127.5h.7M460.6 135.2h.7M464.2 126.6h.7M462.7 140.6h.7M456.1 130.4h.7M457.6 128.7h.7M456.9 132.6h.7M460.7 132.6h.7M459.1 135.1h.7M463.7 136.0h.7M457.5 134.8h.7M458.6 134.7h.7M457.9 133.0h.7M458.8 135.8h.7M459.9 134.6h.7M458.0 130.4h.7M460.0 130.7h.7M459.8 131.0h.7M456.9 127.3h.7M458.6 130.8h.7M458.4 132.5h.7M461.2 135.4h.7M455.3 134.6h.7M462.8 135.6h.7M463.0 130.7h.7M460.3 131.7h.7M465.2 135.7h.7M467.0 131.2h.7M462.6 134.0h.7M458.2 136.6h.7M457.5 131.5h.7M456.7 134.7h.7M461.3 130.0h.7M458.0 132.8h.7M460.8 136.8h.7M463.6 134.2h.7M460.5 136.3h.7M457.9 131.7h.7M462.2 135.4h.7M460.2 133.0h.7M460.8 135.3h.7M457.9 129.3h.7M458.7 134.8h.7M454.8 135.5h.7M458.0 134.9h.7M458.4 135.1h.7M456.0 131.0h.7M460.5 132.5h.7M453.8 135.2h.7M461.2 134.3h.7M457.1 135.2h.7M461.2 133.9h.7M459.4 132.9h.7M463.9 131.0h.7M463.7 132.2h.7M459.3 135.2h.7M462.4 135.9h.7M459.2 130.8h.7M454.4 137.7h.7M458.5 129.3h.7M463.0 133.8h.7M456.6 131.3h.7M463.0 134.0h.7M462.7 129.8h.7M462.0 130.9h.7M460.1 132.9h.7M460.3 133.0h.7M458.4 130.9h.7M462.2 131.9h.7M466.5 133.9h.7M457.0 136.9h.7M460.0 130.0h.7M464.4 131.7h.7M463.4 134.3h.7M461.4 130.0h.7M456.7 133.8h.7M460.3 132.2h.7M460.6 134.1h.7M462.0 136.4h.7M455.1 133.7h.7M460.6 133.2h.7M457.1 131.5h.7M461.2 137.2h.7M461.6 135.5h.7M459.8 136.2h.7M455.7 132.0h.7M460.3 137.9h.7M455.9 132.3h.7M455.4 134.4h.7M462.8 133.4h.7M459.6 134.5h.7M457.0 133.5h.7M458.0 134.5h.7M463.3 130.2h.7M456.8 135.6h.7M458.1 134.0h.7M461.1 137.1h.7M462.5 130.5h.7M455.8 132.8h.7M460.3 135.4h.7M459.6 131.8h.7M460.4 127.7h.7M456.7 133.7h.7M460.2 136.7h.7M458.6 133.8h.7M459.3 129.4h.7M453.8 136.7h.7M456.7 134.5h.7M464.6 127.4h.7M461.5 137.6h.7M456.8 137.6h.7M462.8 136.1h.7M450.8 132.5h.7M456.6 132.8h.7M457.6 136.3h.7M453.6 133.4h.7M465.3 135.9h.7M459.4 132.1h.7M457.4 128.7h.7M454.7 133.2h.7M465.1 132.5h.7M460.9 133.2h.7M459.6 128.6h.7M462.7 132.2h.7M461.1 132.6h.7M454.4 134.1h.7M452.8 133.4h.7M461.3 136.1h.7M464.2 136.4h.7M460.0 134.1h.7M453.9 137.9h.7M465.8 136.9h.7M457.5 134.7h.7M453.7 136.2h.7M464.2 133.4h.7M460.9 135.1h.7M461.5 135.5h.7M459.1 133.2h.7M457.3 135.6h.7M460.4 136.8h.7M459.9 133.3h.7M459.5 131.4h.7M457.1 131.3h.7M460.2 134.5h.7M459.5 130.9h.7M461.7 134.6h.7M461.2 138.0h.7M455.7 137.1h.7M456.5 133.0h.7M455.5 133.7h.7M459.2 136.4h.7M459.3 134.0h.7M455.2 132.5h.7M462.1 127.0h.7M459.8 134.7h.7M455.7 135.8h.7M462.7 132.7h.7M468.1 138.7h.7M458.9 136.0h.7M460.3 132.3h.7M458.9 132.4h.7M457.5 133.3h.7M460.1 130.6h.7M463.9 126.1h.7M456.7 135.7h.7M461.8 134.3h.7M456.5 131.2h.7M452.6 139.2h.7M458.4 133.3h.7M463.4 131.8h.7M463.5 131.9h.7M459.6 138.6h.7M457.9 136.7h.7M462.0 134.3h.7M459.3 137.0h.7M455.9 131.1h.7M462.9 131.8h.7M463.6 137.2h.7M460.9 133.1h.7M455.1 137.1h.7M457.8 135.3h.7M458.2 133.3h.7M459.5 132.7h.7M462.2 135.0h.7M463.8 131.1h.7M463.4 131.2h.7M465.4 133.8h.7M455.5 128.4h.7M460.9 137.3h.7M456.1 134.2h.7M451.7 129.7h.7M460.8 127.4h.7M459.9 136.3h.7M455.7 133.7h.7M457.3 131.2h.7M456.7 132.8h.7M459.6 131.5h.7M455.6 133.3h.7M456.4 137.8h.7M460.9 134.1h.7M453.7 135.0h.7M458.7 128.0h.7M459.2 137.0h.7M457.5 132.6h.7M461.2 135.0h.7M463.9 133.4h.7M458.0 136.8h.7M458.9 134.9h.7M453.5 134.8h.7M455.6 131.5h.7M453.1 140.0h.7M458.8 132.0h.7M459.5 136.6h.7M459.4 134.7h.7M462.2 134.5h.7M458.6 131.3h.7M459.5 133.3h.7M457.7 132.6h.7M463.6 137.6h.7M459.5 130.4h.7M459.7 132.7h.7M457.5 131.8h.7M461.8 131.7h.7M465.0 133.6h.7M455.3 133.0h.7M459.0 137.2h.7M453.1 133.4h.7M458.6 133.1h.7M460.3 134.7h.7M464.0 133.4h.7M456.2 134.3h.7M461.9 133.4h.7M464.8 139.0h.7M457.1 133.5h.7M458.9 130.4h.7M453.5 127.2h.7M460.7 137.1h.7M460.6 138.6h.7M462.0 133.6h.7M464.0 131.8h.7M454.1 134.0h.7M462.4 132.6h.7M458.9 132.6h.7M459.5 125.4h.7M458.6 136.3h.7M467.5 128.6h.7M463.9 137.7h.7M458.3 134.4h.7M460.3 133.1h.7M457.9 132.4h.7M460.0 130.2h.7M457.4 130.3h.7M459.6 132.8h.7M464.3 134.6h.7M460.1 132.7h.7M462.6 129.4h.7M458.8 132.2h.7M454.3 132.1h.7M460.9 132.8h.7M458.9 135.4h.7M463.1 132.1h.7M461.1 133.9h.7M458.2 137.3h.7M457.5 131.9h.7M464.4 132.8h.7M461.6 130.7h.7M465.0 128.8h.7M461.9 135.2h.7M462.8 134.4h.7M463.6 132.8h.7M456.6 131.1h.7M459.0 130.6h.7M454.0 131.9h.7M457.9 132.7h.7M455.6 130.8h.7M459.8 130.3h.7M463.3 131.9h.7M460.8 130.7h.7M457.6 134.5h.7M461.9 134.2h.7M457.5 137.3h.7M463.4 129.3h.7M457.9 134.9h.7M456.4 129.3h.7M458.9 129.4h.7M462.9 135.9h.7M462.7 136.3h.7M458.9 130.0h.7M462.9 134.5h.7M461.7 132.2h.7M452.3 130.8h.7M455.6 135.1h.7M461.1 131.4h.7M455.1 137.9h.7M455.1 133.7h.7M456.8 129.8h.7M454.9 136.9h.7M454.3 137.0h.7M463.1 129.0h.7M463.4 131.0h.7M458.8 131.0h.7M460.9 134.7h.7M459.4 133.8h.7M453.7 130.7h.7M458.7 131.8h.7M453.6 135.8h.7M456.0 130.5h.7M462.6 133.0h.7M458.3 132.8h.7M459.1 132.6h.7M459.4 134.5h.7M459.1 133.6h.7M453.8 127.5h.7M461.4 136.4h.7M459.4 135.9h.7M457.6 137.6h.7M456.2 133.2h.7M467.9 138.9h.7M453.3 131.3h.7M459.4 132.5h.7M464.3 132.4h.7M455.6 133.3h.7M462.0 136.6h.7M456.6 135.5h.7M460.0 133.7h.7M453.2 134.6h.7M456.9 133.6h.7M462.0 130.9h.7M459.8 130.9h.7M463.9 130.4h.7M460.4 135.6h.7M453.1 132.7h.7M455.8 130.8h.7M456.1 137.3h.7M454.6 132.2h.7M465.1 136.0h.7M461.4 132.5h.7M463.7 134.0h.7M454.4 132.0h.7M465.9 134.7h.7M459.6 132.9h.7M456.8 131.2h.7M456.3 134.3h.7M459.7 134.3h.7M459.0 129.9h.7M461.7 133.0h.7M463.0 135.5h.7M458.2 131.0h.7M465.7 135.8h.7M460.2 132.3h.7M462.8 134.6h.7M457.9 129.7h.7M460.8 139.6h.7M461.2 133.2h.7M463.3 134.2h.7M456.3 129.7h.7M463.2 132.4h.7M465.1 136.1h.7M460.3 133.5h.7M458.4 132.0h.7M458.4 130.7h.7M458.3 135.4h.7M461.0 133.7h.7M454.7 131.8h.7M457.1 127.4h.7M461.2 128.9h.7M465.7 135.5h.7M458.6 135.1h.7M459.8 131.8h.7M461.0 134.7h.7M459.5 131.6h.7M461.5 134.3h.7M457.4 133.2h.7M459.6 137.3h.7M459.7 130.6h.7M459.6 135.5h.7M455.5 131.1h.7M456.2 138.8h.7M463.4 134.1h.7M455.0 132.9h.7M455.6 136.6h.7M462.2 129.9h.7M458.1 135.8h.7M452.4 132.7h.7M455.0 132.6h.7M463.1 134.1h.7M459.7 131.2h.7M463.1 135.2h.7M457.0 131.9h.7M456.8 132.2h.7M459.1 134.4h.7M458.4 132.3h.7M462.1 134.8h.7M461.9 128.2h.7M462.5 129.8h.7M451.0 135.0h.7M461.7 131.5h.7M457.0 134.4h.7M458.1 132.6h.7M459.1 133.3h.7M464.1 139.2h.7M453.2 133.7h.7M457.1 130.5h.7M461.7 136.5h.7M460.6 136.0h.7M457.4 131.7h.7M457.7 132.8h.7M459.0 136.8h.7M453.2 133.2h.7M462.8 132.0h.7M465.9 137.8h.7M455.2 133.3h.7M460.7 132.5h.7M457.6 133.0h.7M453.8 135.3h.7M459.8 131.7h.7M459.8 127.7h.7M461.0 131.5h.7M458.0 132.1h.7M455.1 135.3h.7M459.3 135.4h.7M458.8 132.0h.7M465.9 136.1h.7M461.8 135.5h.7M463.3 134.6h.7M462.8 134.3h.7M456.3 134.5h.7M462.1 138.4h.7M464.6 135.7h.7M459.1 134.8h.7M456.5 133.2h.7M455.1 131.1h.7M455.8 133.8h.7M454.9 134.2h.7M457.3 134.1h.7M457.1 136.8h.7M464.5 126.2h.7M460.4 133.1h.7M458.9 137.8h.7M459.6 132.4h.7M459.1 134.7h.7M461.8 133.3h.7M461.8 136.0h.7M462.6 133.6h.7M460.0 131.7h.7M459.9 132.0h.7M458.8 134.8h.7M454.9 131.7h.7M463.6 130.9h.7M464.3 131.8h.7M460.8 131.1h.7M454.8 131.0h.7M457.6 133.9h.7M462.6 132.9h.7M462.6 132.5h.7M461.3 133.6h.7M456.6 131.1h.7M460.7 128.9h.7M458.7 135.7h.7M456.9 131.7h.7M455.7 128.8h.7M457.4 130.2h.7M463.2 132.6h.7M462.8 133.2h.7M451.6 133.9h.7M458.3 132.1h.7M457.1 132.7h.7M457.1 133.3h.7M460.7 132.7h.7M457.4 132.6h.7M459.4 133.1h.7M455.9 132.1h.7M457.2 133.7h.7M457.8 132.3h.7M457.0 134.1h.7M460.9 132.9h.7M459.3 136.3h.7M461.3 133.0h.7M457.8 133.7h.7M462.3 133.2h.7M461.1 134.0h.7M455.1 135.1h.7M460.4 137.0h.7M461.6 126.8h.7M452.2 136.0h.7M460.4 134.1h.7M460.2 130.9h.7M456.7 133.5h.7M460.4 132.4h.7M459.6 131.8h.7M452.8 136.6h.7M459.1 132.6h.7M459.0 133.8h.7M463.7 133.0h.7M462.8 132.1h.7M456.8 134.3h.7M456.9 134.3h.7M457.4 134.9h.7M459.4 135.7h.7M458.6 130.4h.7M465.0 134.2h.7M455.4 133.9h.7M456.5 130.0h.7M454.9 129.4h.7M458.5 131.0h.7M459.1 134.3h.7M458.0 132.1h.7M461.1 132.1h.7M454.3 134.9h.7M460.2 130.3h.7M451.6 133.9h.7M462.3 136.4h.7M461.9 139.3h.7M461.8 131.7h.7M458.4 131.2h.7M467.2 130.1h.7M462.6 131.1h.7M464.7 134.3h.7M459.5 131.9h.7M460.8 129.7h.7M460.8 137.9h.7M460.0 132.0h.7M454.3 136.0h.7M458.7 132.2h.7M462.0 133.2h.7M456.5 135.3h.7M466.3 134.7h.7M459.5 136.4h.7M468.1 133.8h.7M456.7 129.0h.7M458.2 132.0h.7M464.7 131.9h.7M462.7 129.7h.7M458.0 135.2h.7M465.5 130.4h.7M457.2 138.0h.7M461.4 129.4h.7M462.0 130.7h.7M460.6 131.7h.7M457.9 131.6h.7M462.4 136.0h.7M462.3 134.1h.7M457.9 133.7h.7M465.5 137.4h.7M461.7 134.9h.7M460.6 131.6h.7M457.1 137.8h.7M458.7 133.6h.7M458.2 133.7h.7M460.0 134.6h.7M458.9 134.2h.7M456.7 136.6h.7M456.1 133.5h.7M455.9 136.4h.7M457.7 136.7h.7M458.8 129.5h.7M457.5 134.4h.7M458.7 132.3h.7M461.9 134.7h.7M454.2 132.3h.7M460.2 132.2h.7M457.1 131.0h.7M460.0 131.1h.7M456.7 135.0h.7M454.1 130.3h.7M456.0 133.4h.7M455.4 135.7h.7M458.3 127.4h.7M454.8 135.5h.7M460.4 135.9h.7M461.2 135.3h.7M461.7 134.3h.7M459.9 132.3h.7M460.9 129.2h.7M461.1 135.7h.7M467.8 137.2h.7M464.8 132.3h.7M456.8 135.1h.7M456.3 132.0h.7M452.6 130.4h.7M461.5 137.3h.7M457.4 133.3h.7M460.9 133.8h.7M454.5 134.5h.7M458.0 136.0h.7M458.7 134.6h.7M462.9 136.6h.7M462.9 133.1h.7M456.5 133.8h.7M463.6 134.8h.7M461.1 134.1h.7M463.5 135.7h.7M457.4 129.7h.7M458.9 133.3h.7M459.2 135.4h.7M456.1 135.1h.7M455.7 130.9h.7M458.5 135.8h.7M457.9 134.7h.7M460.1 134.3h.7M460.7 132.4h.7M457.9 131.3h.7M463.1 130.8h.7M451.4 131.0h.7M457.5 134.1h.7M461.9 131.2h.7M456.7 131.9h.7M455.9 133.2h.7M463.8 129.0h.7M462.8 131.4h.7M460.6 136.4h.7M457.6 135.2h.7M454.5 130.6h.7M467.3 133.3h.7M462.2 132.6h.7M461.9 134.2h.7M458.7 134.6h.7M459.5 134.7h.7M458.3 134.4h.7M461.3 134.0h.7M463.1 126.0h.7M456.2 135.8h.7M459.8 127.4h.7M460.5 132.6h.7M459.8 130.6h.7M457.1 134.4h.7M460.4 132.9h.7M462.1 138.3h.7M463.4 133.1h.7M461.3 132.7h.7M462.3 133.6h.7M458.5 135.0h.7M457.9 135.7h.7M459.7 135.6h.7M459.5 131.5h.7M459.7 134.4h.7M459.1 131.4h.7M459.2 129.5h.7M458.7 133.5h.7M461.3 135.6h.7M462.5 133.1h.7M466.0 130.8h.7M459.6 134.6h.7M458.0 133.8h.7M457.5 135.4h.7M461.3 135.5h.7M458.0 129.6h.7M457.6 132.9h.7M463.8 130.7h.7M459.4 129.1h.7M455.5 133.4h.7M459.4 128.2h.7M461.4 132.1h.7M463.4 133.8h.7M456.7 132.2h.7M460.2 134.8h.7M458.9 132.4h.7M459.2 133.1h.7M459.8 128.4h.7M459.5 136.9h.7M451.1 130.8h.7M455.3 131.9h.7M460.2 130.1h.7M461.7 133.7h.7M454.6 132.8h.7M461.9 134.3h.7M461.2 131.0h.7M455.7 134.8h.7M458.8 132.6h.7M462.5 139.7h.7M462.7 131.2h.7M458.1 133.2h.7M458.1 133.9h.7M458.8 133.9h.7M459.1 133.1h.7M463.9 136.2h.7M456.5 131.7h.7M461.6 134.7h.7M457.5 127.5h.7M461.7 131.1h.7M462.5 135.4h.7M458.6 131.4h.7M462.3 133.7h.7M452.4 132.0h.7M456.7 130.2h.7M460.3 135.2h.7M455.5 130.5h.7M462.0 133.2h.7M459.2 134.5h.7M463.3 137.8h.7M456.1 132.9h.7M463.5 135.3h.7M458.8 131.6h.7M457.5 130.9h.7M461.8 132.7h.7M459.3 132.8h.7M463.0 133.3h.7M460.7 137.5h.7M455.5 134.3h.7M457.3 131.6h.7M460.4 135.2h.7M462.2 136.5h.7M455.1 133.6h.7M462.6 136.1h.7M455.8 135.3h.7M460.0 132.7h.7M459.4 138.9h.7M461.8 132.6h.7M458.7 133.6h.7M461.4 133.0h.7M453.8 133.6h.7M459.4 131.0h.7M459.7 128.6h.7M460.5 128.8h.7M463.4 132.3h.7M457.9 134.5h.7M454.2 134.4h.7M460.5 135.6h.7M463.0 136.1h.7M454.4 131.7h.7M460.5 131.8h.7M460.2 132.3h.7M454.0 136.0h.7M459.1 129.9h.7M460.1 135.7h.7M455.4 135.6h.7M458.4 131.3h.7M461.4 132.6h.7M459.1 134.3h.7M454.6 131.4h.7M456.0 131.3h.7M466.6 135.0h.7M460.7 133.3h.7M459.2 135.3h.7M456.0 137.4h.7M457.0 135.5h.7M454.8 138.6h.7M455.5 131.9h.7M461.7 132.2h.7M466.1 134.5h.7M458.9 132.4h.7M457.8 134.2h.7M453.9 133.2h.7M463.8 131.6h.7M458.0 135.8h.7M463.5 130.0h.7M460.5 134.4h.7M462.2 132.1h.7M459.1 131.9h.7M454.1 135.8h.7M455.2 136.6h.7M460.2 132.4h.7M463.2 132.7h.7M456.5 132.3h.7M458.2 130.6h.7M463.3 133.7h.7M460.3 134.4h.7M459.5 133.3h.7M461.4 131.7h.7M456.0 127.1h.7M455.7 131.7h.7M463.4 133.5h.7M461.8 131.2h.7M456.5 136.9h.7M458.5 132.5h.7M456.7 133.7h.7M463.3 132.9h.7M461.8 130.3h.7M457.5 134.3h.7M463.1 133.0h.7M461.3 134.0h.7M458.2 132.5h.7M453.9 130.9h.7M458.8 135.0h.7M458.2 135.0h.7M460.8 132.7h.7M455.4 129.2h.7M454.6 133.2h.7M456.2 134.1h.7M454.6 132.1h.7M458.9 133.3h.7M458.6 133.2h.7M460.1 136.7h.7M463.5 136.8h.7M465.0 128.4h.7M462.4 133.6h.7M456.0 132.2h.7M456.9 138.1h.7M460.7 136.8h.7M460.8 132.3h.7M456.0 134.0h.7M460.9 131.5h.7M450.4 130.4h.7M454.9 131.2h.7M468.2 135.7h.7M461.2 134.9h.7M453.6 131.5h.7M451.0 135.7h.7M460.1 128.9h.7M457.6 129.6h.7M460.3 129.3h.7M459.4 129.8h.7M462.3 136.4h.7M461.0 133.9h.7M459.5 136.0h.7M460.4 132.5h.7M457.7 129.1h.7M458.2 133.9h.7M456.5 139.6h.7M458.4 131.7h.7M458.1 132.6h.7M463.5 136.4h.7M459.9 129.8h.7M459.4 132.4h.7M457.8 127.7h.7M454.9 131.9h.7M463.0 133.4h.7M464.8 135.0h.7M459.9 136.9h.7M459.6 135.1h.7M460.0 134.3h.7M461.6 138.3h.7M458.5 133.1h.7M462.0 132.3h.7M459.8 135.7h.7M460.3 134.7h.7M462.2 137.0h.7M465.7 137.7h.7M460.8 134.5h.7M459.4 131.6h.7M457.5 132.3h.7M458.4 134.1h.7M457.0 135.4h.7M461.2 134.8h.7M462.2 135.6h.7M458.4 132.8h.7M455.3 131.5h.7M459.2 130.0h.7M456.2 136.0h.7M468.6 129.4h.7M461.1 132.2h.7M465.8 132.6h.7M458.5 134.1h.7M457.3 134.5h.7M461.7 135.9h.7M464.2 132.7h.7M460.0 131.9h.7M458.2 134.6h.7M459.1 133.1h.7M463.4 136.0h.7M459.3 132.6h.7M453.3 132.7h.7M459.9 128.4h.7M457.7 133.4h.7M459.4 132.6h.7M460.4 135.5h.7M462.1 133.3h.7M455.5 136.2h.7M459.5 134.0h.7M458.9 133.0h.7M460.3 132.5h.7M464.4 136.0h.7M460.1 133.5h.7M456.5 132.0h.7M460.4 135.1h.7M461.4 134.3h.7M463.7 134.2h.7M460.4 130.0h.7M457.1 135.4h.7M458.9 129.4h.7M460.5 132.1h.7M457.8 137.9h.7M460.0 134.6h.7M456.1 132.1h.7M459.4 134.4h.7M458.5 129.8h.7M462.6 134.5h.7M456.9 134.2h.7M457.6 132.9h.7M460.8 128.2h.7M453.7 133.3h.7M462.0 131.6h.7M456.7 134.0h.7M461.5 134.5h.7M455.2 136.9h.7M458.1 134.2h.7M462.6 136.0h.7M464.5 129.2h.7M459.5 130.9h.7M454.5 137.5h.7M463.1 130.2h.7M462.1 132.4h.7M461.1 133.2h.7M456.5 134.4h.7M459.4 130.3h.7M460.5 131.4h.7M457.3 139.1h.7M459.3 134.3h.7M457.0 126.6h.7M459.4 131.8h.7M457.6 134.6h.7M466.3 130.8h.7M460.5 129.2h.7M458.3 130.1h.7M454.6 131.4h.7M459.7 134.8h.7M462.3 130.0h.7M460.8 134.5h.7M459.1 135.3h.7M463.1 138.3h.7M458.8 134.8h.7M460.6 131.4h.7M460.9 138.2h.7M455.3 131.6h.7M456.1 131.5h.7M464.4 131.5h.7M458.7 134.6h.7M460.4 137.8h.7M453.6 130.0h.7M458.9 136.0h.7M459.9 134.4h.7M460.3 133.1h.7M453.9 132.8h.7M463.2 134.5h.7M460.2 134.3h.7M461.5 133.4h.7M461.5 133.6h.7M450.3 132.9h.7M456.3 136.9h.7M456.6 133.9h.7M459.9 128.9h.7M463.3 131.8h.7M463.6 131.7h.7M463.1 135.2h.7M458.5 130.3h.7M465.3 133.1h.7M464.6 130.7h.7M455.5 131.2h.7M460.6 134.5h.7M458.9 134.1h.7M455.2 131.8h.7M463.0 130.0h.7M459.2 133.5h.7M456.2 132.6h.7M459.5 133.5h.7M457.7 133.9h.7M451.5 127.8h.7M456.9 127.6h.7M459.2 132.9h.7M456.5 135.3h.7M458.6 132.0h.7M453.8 132.4h.7M463.2 130.6h.7M457.0 134.6h.7M462.5 133.9h.7M465.7 136.3h.7M455.6 130.2h.7M460.0 134.4h.7M458.3 133.9h.7M456.5 129.8h.7M458.5 130.9h.7M461.5 135.0h.7M459.2 133.1h.7M460.5 133.6h.7M459.7 131.8h.7M456.0 131.9h.7M455.7 133.3h.7M461.5 129.7h.7M459.9 133.4h.7M459.0 130.4h.7M456.0 131.7h.7M458.1 133.3h.7M465.7 133.3h.7M459.8 131.0h.7M459.9 133.7h.7M458.5 135.8h.7M460.6 132.7h.7M461.7 130.9h.7M462.7 132.2h.7M462.3 133.0h.7M457.9 134.3h.7M459.0 130.1h.7M459.1 130.3h.7M459.3 135.4h.7M457.5 132.0h.7M461.0 131.5h.7M460.5 136.1h.7M459.2 131.4h.7M458.1 132.2h.7M458.2 131.0h.7M460.0 130.3h.7M458.4 132.6h.7M457.3 134.2h.7M458.5 131.4h.7M460.1 133.9h.7M459.7 130.7h.7M462.4 130.7h.7M459.4 133.8h.7M462.5 135.9h.7M457.9 133.8h.7M454.5 137.2h.7M456.5 133.8h.7M459.7 132.0h.7M458.9 135.6h.7M457.2 136.0h.7M456.1 133.9h.7M459.7 133.5h.7M458.3 134.1h.7M460.9 131.1h.7M461.0 133.3h.7M455.9 139.3h.7M458.8 133.1h.7M460.3 131.8h.7M460.6 134.1h.7M456.5 132.0h.7M461.0 133.8h.7M456.4 132.9h.7M464.1 130.5h.7M460.3 131.9h.7M465.4 130.2h.7M458.1 134.8h.7M459.9 138.0h.7M458.3 133.0h.7M460.4 132.6h.7M453.1 137.2h.7M456.4 136.4h.7M458.3 132.2h.7M464.3 133.7h.7M462.6 136.3h.7M458.1 135.7h.7M463.4 135.4h.7M461.3 128.5h.7M453.3 129.2h.7M457.2 137.4h.7M459.2 125.8h.7M461.3 134.7h.7M468.6 135.6h.7M456.8 134.7h.7M455.8 133.3h.7M461.9 129.9h.7M456.4 138.7h.7M456.1 137.1h.7M457.2 127.5h.7M459.7 134.5h.7M457.4 136.3h.7M463.1 134.7h.7M459.6 132.5h.7M462.7 135.7h.7M452.3 131.7h.7M456.6 128.5h.7M460.2 133.8h.7M459.1 135.1h.7M457.9 133.7h.7M462.1 131.8h.7M456.9 134.8h.7M457.6 131.8h.7M459.9 133.7h.7M457.4 134.9h.7M453.3 127.7h.7M461.9 135.0h.7M459.7 133.2h.7M452.9 138.7h.7M458.9 131.2h.7M455.4 134.4h.7M459.3 131.3h.7M456.8 137.3h.7M461.5 131.7h.7M456.7 131.8h.7M458.5 129.6h.7M464.0 135.9h.7M463.2 135.2h.7M458.0 134.4h.7M459.4 132.0h.7M461.3 135.3h.7M465.3 131.1h.7M456.5 135.2h.7M461.5 128.0h.7M460.9 134.7h.7M456.3 134.4h.7M457.5 136.2h.7M460.6 133.5h.7M461.3 127.9h.7M460.4 135.3h.7M460.0 132.3h.7M466.0 134.5h.7M461.0 131.1h.7M459.7 133.5h.7M453.5 134.8h.7M462.7 136.1h.7M465.8 134.8h.7M459.4 131.9h.7M460.5 133.7h.7M457.1 132.1h.7M462.4 136.8h.7M459.0 132.1h.7M460.1 131.0h.7M460.0 130.8h.7M457.2 134.1h.7M461.3 135.2h.7M456.2 136.5h.7M465.2 133.0h.7M460.7 134.1h.7M458.2 136.5h.7M455.8 134.3h.7M458.2 136.6h.7M461.9 129.5h.7M462.7 132.1h.7M462.0 136.7h.7M458.5 129.0h.7M455.0 130.6h.7M457.8 133.3h.7M459.8 134.3h.7M456.9 133.4h.7M460.4 137.8h.7M452.3 132.6h.7M449.7 135.2h.7M458.4 130.0h.7M457.0 134.0h.7M452.7 131.3h.7M452.9 135.7h.7M459.2 132.2h.7M455.6 130.6h.7M457.5 135.6h.7M453.6 133.5h.7M457.0 132.7h.7M461.6 135.5h.7M451.8 135.8h.7M460.3 135.3h.7M458.7 133.4h.7M467.2 132.6h.7M461.3 135.2h.7M462.5 132.3h.7M460.9 131.8h.7M458.2 133.5h.7M457.4 132.7h.7M458.9 131.4h.7M459.6 132.8h.7M456.8 131.1h.7M457.3 135.3h.7M464.9 130.4h.7M454.8 128.9h.7M464.0 135.8h.7M459.7 134.3h.7M456.6 133.1h.7M456.3 127.9h.7M457.8 135.8h.7M461.8 132.1h.7M455.6 136.3h.7M463.9 134.9h.7M456.3 137.5h.7M464.9 130.8h.7M460.2 135.8h.7M456.8 134.3h.7M456.2 139.1h.7M461.4 131.0h.7M458.0 130.4h.7M463.0 129.2h.7M462.2 137.7h.7M458.4 133.0h.7M452.5 131.5h.7M463.6 138.2h.7M455.5 134.9h.7M455.1 130.9h.7M450.6 134.4h.7M459.1 134.3h.7M458.4 134.5h.7M463.4 136.0h.7M462.6 132.9h.7M457.9 135.1h.7M457.9 130.7h.7M464.6 135.2h.7M464.0 132.0h.7M459.5 138.9h.7M461.3 135.6h.7M459.8 131.8h.7M456.5 134.9h.7M465.5 133.7h.7M461.8 132.1h.7M454.1 129.3h.7M459.8 134.8h.7M459.5 138.8h.7M462.1 132.2h.7M452.9 133.9h.7M455.4 136.1h.7M459.1 132.5h.7M457.6 133.8h.7M457.2 130.4h.7M459.8 134.2h.7M458.8 130.3h.7M460.2 136.3h.7M459.9 131.6h.7M461.6 135.4h.7M457.1 133.0h.7M460.9 132.0h.7M456.1 130.1h.7M457.1 131.8h.7M455.3 128.3h.7M459.2 136.0h.7M461.1 132.4h.7M462.1 134.9h.7M458.4 132.8h.7M460.5 136.2h.7M460.9 134.6h.7M462.8 135.0h.7M460.0 133.5h.7M460.8 134.6h.7M459.3 132.0h.7M466.1 133.0h.7M461.5 139.8h.7M455.5 133.1h.7M459.3 138.1h.7M461.0 135.3h.7M458.1 139.9h.7M464.1 130.9h.7M452.5 131.3h.7M463.6 137.6h.7M465.0 135.9h.7M456.3 136.6h.7M458.3 131.3h.7M460.0 136.4h.7M458.7 130.3h.7M462.5 134.3h.7M460.5 135.2h.7M460.5 131.3h.7M461.8 133.3h.7M457.1 133.6h.7M458.6 133.8h.7M461.3 131.4h.7M460.1 139.3h.7M459.8 130.8h.7M455.5 133.8h.7M462.4 128.4h.7M457.0 139.4h.7M463.7 133.8h.7M462.5 133.0h.7M460.7 134.3h.7M458.8 132.9h.7M457.5 135.4h.7M457.2 131.1h.7M467.3 128.3h.7M455.6 130.8h.7M458.4 130.4h.7M459.9 131.4h.7M457.8 138.7h.7M461.8 134.6h.7M459.3 131.0h.7M454.6 132.0h.7M456.6 134.7h.7M461.2 134.7h.7M461.2 131.8h.7M454.0 135.0h.7M460.7 135.5h.7M464.9 131.7h.7M461.9 133.4h.7M460.9 129.5h.7M458.3 132.4h.7M457.2 140.0h.7M455.4 136.3h.7M459.5 133.4h.7M461.2 133.0h.7M456.5 132.2h.7M459.6 136.6h.7M452.1 133.0h.7M453.4 128.4h.7M458.4 132.9h.7M459.4 132.7h.7M454.5 134.0h.7M455.6 134.2h.7M456.8 134.4h.7M454.8 131.8h.7M457.6 135.8h.7M463.4 129.8h.7M456.9 133.0h.7M464.1 128.9h.7M457.9 133.1h.7M459.8 129.8h.7M460.6 134.3h.7M465.3 137.8h.7M462.4 132.8h.7M458.8 136.6h.7M458.7 134.9h.7M461.5 128.4h.7M460.6 132.3h.7M457.0 134.3h.7M461.2 130.7h.7M462.2 131.7h.7M449.2 130.6h.7M465.0 130.5h.7M462.4 133.5h.7M461.0 135.1h.7M462.0 128.9h.7M457.4 135.5h.7M455.4 130.1h.7M455.6 130.0h.7M462.6 134.2h.7M459.2 134.7h.7M460.2 132.9h.7M457.5 135.9h.7M457.8 133.1h.7M459.7 135.0h.7M457.0 133.8h.7M455.9 133.7h.7M459.2 134.2h.7M459.7 129.8h.7M459.9 133.5h.7M456.2 133.1h.7M456.5 134.1h.7M456.1 132.1h.7M462.6 135.1h.7M463.3 129.9h.7M459.0 128.4h.7M465.4 128.2h.7M456.1 133.2h.7M455.8 129.0h.7M457.6 134.7h.7M458.2 136.4h.7M462.2 135.5h.7M455.2 131.7h.7M460.1 138.2h.7M457.7 134.4h.7M459.2 125.1h.7M457.8 129.3h.7M459.9 140.2h.7M455.7 135.4h.7M455.3 139.5h.7M461.8 138.1h.7M455.1 140.1h.7M454.5 136.1h.7M456.3 138.1h.7M460.8 141.7h.7M454.3 135.2h.7M455.7 135.8h.7M461.6 136.6h.7M458.1 136.9h.7M462.6 136.2h.7M460.4 139.7h.7M463.0 140.1h.7M457.4 136.8h.7M459.3 136.4h.7M455.5 135.8h.7M456.9 132.2h.7M459.3 141.1h.7M464.3 141.2h.7M458.5 134.3h.7M458.2 138.5h.7M454.6 135.0h.7M456.1 138.6h.7M457.2 140.2h.7M462.4 135.3h.7M459.0 140.5h.7M452.0 131.4h.7M460.7 137.1h.7M464.7 137.6h.7M460.7 137.7h.7M461.4 139.4h.7M457.4 142.3h.7M466.6 135.2h.7M461.6 136.7h.7M459.3 134.8h.7M459.9 132.3h.7M464.5 139.6h.7M462.9 143.4h.7M459.0 136.8h.7M463.3 138.3h.7M458.1 138.5h.7M461.2 140.3h.7M456.9 140.9h.7M463.2 134.4h.7M461.7 138.2h.7M459.8 134.1h.7M454.4 136.0h.7M465.6 133.9h.7M458.3 138.1h.7M461.8 133.0h.7M464.3 137.5h.7M457.8 136.2h.7M459.6 142.6h.7M459.8 136.1h.7M462.1 133.0h.7M463.0 141.6h.7M462.3 139.1h.7M459.7 137.1h.7M454.8 138.2h.7M463.6 131.2h.7M455.4 139.9h.7M456.0 139.8h.7M455.3 139.3h.7M465.8 136.6h.7M463.4 137.9h.7M466.6 135.3h.7M460.4 136.5h.7M456.3 136.4h.7M461.3 138.9h.7M460.8 133.2h.7M459.9 139.4h.7M457.5 135.2h.7M456.6 133.7h.7M463.1 136.5h.7M456.9 137.9h.7M460.3 137.5h.7M460.4 138.9h.7M458.5 137.5h.7M457.5 138.3h.7M460.7 139.8h.7M461.2 138.4h.7M457.5 137.9h.7M461.9 135.8h.7M451.4 140.1h.7M458.1 142.0h.7M454.6 135.9h.7M462.1 136.2h.7M462.2 137.7h.7M452.9 134.8h.7M462.0 141.8h.7M462.0 139.1h.7M451.8 135.1h.7M455.0 140.7h.7M460.4 140.6h.7M458.3 139.9h.7M462.3 137.1h.7M456.9 136.3h.7M457.5 143.2h.7M461.7 142.5h.7M459.1 141.0h.7M464.7 133.8h.7M463.3 136.1h.7M460.9 133.4h.7M460.2 141.1h.7M461.1 140.7h.7M456.0 137.3h.7M464.3 132.9h.7M454.3 133.6h.7M456.2 135.5h.7M461.6 135.7h.7M458.6 144.9h.7M458.1 130.6h.7M463.3 137.5h.7M460.2 139.6h.7M462.3 133.6h.7M463.9 133.7h.7M456.2 140.0h.7M458.8 132.5h.7M460.3 139.8h.7M456.8 136.5h.7M458.7 135.7h.7M457.6 136.5h.7M456.0 137.7h.7M460.4 133.8h.7M460.4 137.4h.7M455.7 141.1h.7M456.4 139.9h.7M456.1 142.3h.7M461.7 140.3h.7M465.3 140.8h.7M454.2 138.1h.7M458.8 140.1h.7M461.1 140.5h.7M458.3 140.0h.7M454.5 141.9h.7M458.9 137.0h.7M460.8 134.2h.7M465.7 138.8h.7M458.7 140.0h.7M461.1 138.2h.7M461.9 135.0h.7M461.8 136.6h.7M459.6 142.3h.7M457.8 136.5h.7M464.7 138.4h.7M457.8 133.0h.7M461.1 134.5h.7M455.0 131.9h.7M459.2 137.8h.7M457.9 135.9h.7M455.2 141.9h.7M460.0 135.8h.7M460.5 139.5h.7M454.8 134.8h.7M453.8 130.4h.7M460.7 137.2h.7M459.6 140.0h.7M458.4 135.8h.7M456.9 137.5h.7M455.4 138.4h.7M458.8 140.7h.7M457.7 140.7h.7M462.3 140.1h.7M459.0 136.5h.7M458.3 133.7h.7M463.5 135.6h.7M461.0 137.8h.7M455.5 141.7h.7M456.1 136.3h.7M461.4 134.1h.7M460.9 135.1h.7M455.9 132.3h.7M459.3 137.9h.7M460.4 139.2h.7M460.0 137.2h.7M461.1 138.6h.7M462.8 134.9h.7M456.3 133.7h.7M463.9 138.2h.7M461.6 139.4h.7M460.3 136.9h.7M461.5 135.1h.7M463.9 139.0h.7M459.7 139.5h.7M461.2 135.5h.7M456.9 137.9h.7M454.1 134.0h.7M461.0 139.1h.7M459.3 130.8h.7M461.3 138.4h.7M458.6 132.0h.7M458.2 131.6h.7M461.6 139.2h.7M454.9 136.0h.7M458.5 137.3h.7M455.9 137.9h.7M454.6 139.1h.7M456.1 136.1h.7M460.5 138.6h.7M455.4 132.4h.7M462.0 136.3h.7M457.0 135.9h.7M460.8 145.0h.7M461.6 142.7h.7M460.5 136.7h.7M463.3 135.2h.7M461.4 144.1h.7M459.5 139.1h.7M462.5 132.7h.7M459.7 132.7h.7M452.4 131.7h.7M457.1 138.5h.7M462.0 140.6h.7M462.7 137.9h.7M456.6 135.2h.7M452.7 136.2h.7M461.8 140.9h.7M460.7 140.4h.7M450.1 137.8h.7M460.5 137.0h.7M455.0 136.5h.7M462.0 142.1h.7M465.8 133.9h.7M458.7 140.8h.7M461.4 140.7h.7M462.9 137.4h.7M454.8 135.8h.7M465.6 139.0h.7M458.6 132.0h.7M458.7 136.7h.7M452.9 136.9h.7M457.7 142.7h.7M460.4 134.5h.7M458.1 133.6h.7M456.5 138.8h.7M457.5 136.9h.7M458.4 134.9h.7M457.2 139.3h.7M460.4 138.8h.7M458.3 139.1h.7M458.7 131.9h.7M456.1 136.8h.7M456.9 134.7h.7M459.9 146.1h.7M457.5 141.8h.7M456.3 139.2h.7M457.6 135.6h.7M464.4 137.4h.7M456.7 141.8h.7M457.9 135.7h.7M464.3 138.9h.7M461.0 134.2h.7M464.4 136.8h.7M456.4 141.7h.7M455.3 138.2h.7M463.4 140.1h.7M457.6 140.2h.7M456.6 134.6h.7M457.5 138.7h.7M457.5 139.8h.7M458.1 135.9h.7M463.4 138.4h.7M459.4 141.5h.7M460.3 134.5h.7M455.4 138.2h.7M461.5 134.3h.7M465.0 137.4h.7M459.5 138.0h.7M461.0 142.5h.7M459.0 137.6h.7M463.3 133.9h.7M462.6 138.5h.7M459.4 142.4h.7M455.0 141.7h.7M458.6 143.3h.7M456.7 139.6h.7M459.2 139.6h.7M454.2 138.5h.7M462.8 135.3h.7M456.8 141.1h.7M454.4 139.0h.7M453.2 134.8h.7M456.1 140.0h.7M458.6 132.0h.7M459.5 135.1h.7M456.3 138.2h.7M458.3 141.8h.7M464.4 142.6h.7M457.2 134.1h.7M460.8 137.2h.7M458.1 134.4h.7M460.6 138.6h.7M462.3 138.2h.7M464.0 133.6h.7M460.6 135.1h.7M459.1 138.8h.7M456.2 140.4h.7M459.9 139.0h.7M456.5 137.9h.7M455.5 136.0h.7M461.8 139.8h.7M456.6 133.8h.7M459.7 133.7h.7M460.7 136.1h.7M458.2 139.2h.7M461.0 132.6h.7M466.0 138.5h.7M459.2 134.6h.7M461.0 140.1h.7M456.4 135.2h.7M459.0 139.0h.7M459.8 137.6h.7M461.6 138.0h.7M458.8 136.9h.7M454.9 136.6h.7M459.9 138.9h.7M462.4 138.9h.7M461.1 135.6h.7M458.7 141.2h.7M457.4 132.0h.7M459.1 140.4h.7M457.7 139.7h.7M461.1 143.0h.7M458.2 138.8h.7M459.2 138.2h.7M461.9 141.8h.7M461.9 136.3h.7M456.7 140.5h.7M453.8 141.8h.7M459.5 136.4h.7M457.6 139.8h.7M454.7 136.1h.7M458.0 141.5h.7M460.2 141.3h.7M456.2 135.3h.7M460.9 135.0h.7M456.6 141.9h.7M461.7 136.7h.7M456.7 138.7h.7M460.6 138.3h.7M459.7 139.0h.7M459.8 138.3h.7M462.5 142.7h.7M453.4 139.2h.7M462.7 138.6h.7M458.4 142.3h.7M461.1 137.8h.7M460.8 136.2h.7M457.3 138.7h.7M458.9 134.0h.7M455.2 134.7h.7M457.8 140.2h.7M459.1 135.8h.7M458.0 140.0h.7M462.3 133.4h.7M460.3 141.5h.7M459.0 142.9h.7M460.2 135.6h.7M457.6 141.7h.7M461.7 139.4h.7M463.0 139.3h.7M458.5 139.6h.7M460.4 138.8h.7M454.4 142.6h.7M457.7 140.4h.7M457.6 141.6h.7M456.4 136.8h.7M461.7 135.3h.7M463.9 140.8h.7M459.3 134.4h.7M453.1 137.8h.7M459.5 135.2h.7M463.4 137.7h.7M455.9 141.3h.7M464.3 133.7h.7M459.9 136.4h.7M465.6 132.8h.7M462.6 138.4h.7M461.0 141.4h.7M459.3 140.4h.7M459.9 132.7h.7M460.5 133.2h.7M459.3 138.2h.7M462.3 135.4h.7M458.5 134.7h.7M458.3 142.7h.7M464.5 138.4h.7M463.3 133.6h.7M451.8 141.3h.7M461.0 142.2h.7M456.6 139.2h.7M459.7 136.2h.7M460.8 131.9h.7M460.1 137.9h.7M459.6 135.5h.7M457.4 138.4h.7M457.2 138.7h.7M461.1 138.6h.7M455.9 135.5h.7M461.2 137.6h.7M462.4 132.2h.7M461.0 139.4h.7M463.1 141.9h.7M463.7 135.5h.7M458.1 140.0h.7M458.1 135.3h.7M457.6 137.3h.7M460.0 141.2h.7M455.4 137.5h.7M462.9 141.8h.7M462.3 140.7h.7M456.2 136.8h.7M460.0 136.7h.7M458.6 142.7h.7M455.7 140.8h.7M454.3 134.1h.7M462.1 135.3h.7M463.5 136.3h.7M462.6 136.5h.7M458.7 135.7h.7M462.3 136.5h.7M459.0 138.2h.7M460.9 137.0h.7M455.4 140.4h.7M464.4 137.2h.7M462.5 143.2h.7M463.0 135.1h.7M461.2 137.1h.7M452.5 137.2h.7M464.4 138.4h.7M460.9 137.0h.7M463.5 137.7h.7M458.6 139.6h.7M457.2 139.9h.7M458.2 143.2h.7M469.1 138.9h.7M458.8 139.4h.7M460.1 135.8h.7M459.6 141.0h.7M459.6 140.5h.7M454.4 135.1h.7M459.0 135.0h.7M462.0 134.6h.7M465.2 134.6h.7M457.8 138.6h.7M457.3 136.4h.7M459.3 140.7h.7M461.3 139.3h.7M457.1 139.7h.7M463.2 135.6h.7M458.8 135.3h.7M456.0 135.2h.7M459.6 141.7h.7M453.9 139.3h.7M459.3 140.8h.7M452.6 139.6h.7M464.9 136.3h.7M456.2 136.4h.7M459.8 137.6h.7M460.4 135.5h.7M461.5 135.3h.7M460.6 139.1h.7M460.6 136.4h.7M464.5 134.8h.7M462.6 139.7h.7M459.7 137.3h.7M459.6 139.1h.7M456.5 137.8h.7M461.2 141.6h.7M456.7 137.1h.7M459.4 134.8h.7M457.0 135.1h.7M453.5 139.3h.7M455.3 144.4h.7M458.7 134.6h.7M458.8 138.4h.7M456.1 139.5h.7M456.2 139.2h.7M458.9 138.3h.7M458.4 135.9h.7M463.1 140.9h.7M459.5 136.1h.7M460.4 132.3h.7M464.7 130.9h.7M457.6 134.8h.7M466.5 142.3h.7M461.9 141.0h.7M462.6 135.1h.7M454.6 138.8h.7M458.1 135.0h.7M460.0 138.7h.7M464.8 131.6h.7M459.3 136.0h.7M458.2 139.7h.7M458.3 138.4h.7M464.0 136.8h.7M462.7 133.8h.7M459.6 135.9h.7M456.6 135.6h.7M465.0 134.1h.7M460.5 139.6h.7M456.7 142.3h.7M458.1 139.7h.7M463.1 134.0h.7M456.6 140.3h.7M462.7 134.9h.7M459.6 137.9h.7M458.7 139.6h.7M462.5 135.7h.7M463.4 137.7h.7M461.2 134.2h.7M457.6 131.8h.7M456.5 129.7h.7M460.6 138.0h.7M459.3 135.9h.7M457.7 134.5h.7M465.1 133.8h.7M457.2 135.7h.7M455.8 138.0h.7M461.1 141.2h.7M459.5 141.8h.7M465.7 135.6h.7M458.6 138.0h.7M465.6 136.9h.7M457.0 137.3h.7M457.6 138.6h.7M459.6 136.6h.7M457.2 132.3h.7M456.8 139.3h.7M462.6 138.3h.7M464.0 139.1h.7M456.2 139.5h.7M457.9 138.0h.7M462.8 141.5h.7M459.0 134.9h.7M459.1 135.0h.7M460.8 135.2h.7M459.8 137.2h.7M456.7 137.8h.7M460.2 133.7h.7M462.4 134.4h.7M461.5 138.3h.7M456.2 139.3h.7M464.6 138.1h.7M456.9 141.4h.7M461.7 140.1h.7M463.4 137.4h.7M456.0 140.6h.7M459.8 134.7h.7M460.2 140.5h.7M458.9 134.7h.7M458.1 135.7h.7M455.7 130.9h.7M458.5 135.0h.7M462.5 134.1h.7M461.7 142.3h.7M455.9 141.4h.7M459.5 137.9h.7M462.8 136.8h.7M460.0 141.0h.7M454.7 142.7h.7M458.9 139.8h.7M460.8 137.2h.7M460.1 141.4h.7M465.3 138.4h.7M458.9 137.5h.7M456.4 138.4h.7M456.2 143.3h.7M461.6 139.4h.7M463.4 137.0h.7M462.9 132.5h.7M456.8 130.5h.7M456.3 138.2h.7M460.1 140.4h.7M463.3 139.7h.7M463.2 139.1h.7M454.9 136.9h.7M459.8 140.7h.7M453.9 137.8h.7M456.7 137.9h.7M457.7 137.1h.7M456.6 135.8h.7M464.0 134.8h.7M460.3 137.7h.7M456.5 135.7h.7M463.5 137.4h.7M463.1 138.9h.7M464.3 133.1h.7M455.4 139.1h.7M456.1 132.9h.7M458.2 139.4h.7M460.2 135.8h.7M464.7 136.3h.7M456.9 141.1h.7M459.4 139.4h.7M457.8 138.3h.7M460.7 140.1h.7M460.8 169.1h.7M460.5 154.9h.7M459.6 151.2h.7M459.3 150.6h.7M459.5 142.6h.7M461.3 155.4h.7M459.6 170.4h.7M459.8 144.7h.7M459.3 160.4h.7M460.8 151.9h.7M460.5 150.1h.7M461.4 167.5h.7M458.2 160.4h.7M459.1 167.7h.7M458.7 167.0h.7M459.1 162.0h.7M459.2 164.8h.7M460.2 161.4h.7M460.9 158.4h.7M462.6 165.9h.7M459.7 169.3h.7M460.6 152.5h.7M459.8 164.2h.7M460.2 165.3h.7M455.8 162.1h.7M459.5 146.3h.7M459.6 172.7h.7M457.9 155.7h.7M458.3 169.8h.7M459.7 154.3h.7M459.6 160.8h.7M460.2 152.9h.7M461.3 157.8h.7M459.3 164.6h.7M461.7 151.6h.7M458.9 154.4h.7M460.6 161.9h.7M458.2 145.0h.7M456.8 171.4h.7M457.0 154.5h.7M458.8 153.8h.7M459.3 140.2h.7M458.3 166.7h.7M464.5 155.6h.7M460.8 158.5h.7M460.9 137.2h.7M458.0 168.8h.7M458.1 155.4h.7M458.1 145.8h.7M461.7 162.7h.7M459.3 158.5h.7M457.8 155.3h.7M458.0 170.3h.7M459.6 151.5h.7M459.3 146.0h.7M458.1 149.5h.7M461.2 156.8h.7M458.4 162.5h.7M457.1 165.4h.7M459.8 161.3h.7M461.4 174.8h.7M461.6 163.2h.7M459.6 169.7h.7M458.2 163.5h.7M461.5 157.1h.7M458.9 165.1h.7M460.5 163.4h.7M459.3 159.6h.7M461.4 157.4h.7M461.4 137.5h.7M456.4 161.6h.7M461.9 170.3h.7M458.2 174.1h.7M458.0 159.4h.7M460.3 163.1h.7M459.9 148.1h.7M457.8 154.4h.7M458.5 159.9h.7M458.9 141.2h.7M459.4 163.5h.7M460.1 157.8h.7M457.6 168.1h.7M457.0 173.2h.7M458.5 143.1h.7M458.9 153.5h.7M458.7 157.7h.7M461.6 143.9h.7M460.3 130.9h.7M457.7 156.9h.7M460.3 163.4h.7M460.1 161.2h.7M460.6 155.8h.7M460.0 155.6h.7M459.2 154.9h.7M460.8 153.3h.7M459.1 145.7h.7M459.0 171.5h.7M459.1 150.2h.7M457.1 148.3h.7M457.6 146.2h.7M458.0 163.0h.7M458.4 144.3h.7M459.4 143.1h.7M459.0 173.2h.7M457.1 158.3h.7M458.9 158.0h.7M458.7 169.9h.7M458.5 164.3h.7M457.9 158.5h.7M459.3 156.0h.7M458.5 150.3h.7M459.3 145.7h.7M460.8 171.0h.7M460.0 162.1h.7M462.2 154.3h.7M458.6 157.0h.7M458.9 162.7h.7M461.1 161.3h.7M457.5 133.8h.7M457.0 147.2h.7M461.1 157.4h.7M461.4 160.4h.7M460.4 172.0h.7M459.0 153.9h.7M461.1 166.7h.7M460.1 169.0h.7M457.6 172.5h.7M460.8 157.7h.7M457.6 156.0h.7M459.1 161.9h.7M459.6 142.4h.7M461.4 149.4h.7M461.3 159.3h.7M456.5 163.1h.7M459.7 140.0h.7M458.4 170.1h.7M461.1 161.2h.7M456.2 162.4h.7M459.8 151.6h.7M462.7 156.0h.7M458.5 160.2h.7M462.9 164.7h.7M459.4 143.1h.7M458.8 150.7h.7M462.9 147.0h.7M461.3 159.4h.7M460.9 158.0h.7M459.9 156.1h.7M458.7 151.9h.7M459.9 152.8h.7M460.2 164.7h.7M458.3 168.8h.7M457.0 161.5h.7M461.6 145.3h.7M460.4 167.5h.7M459.5 165.8h.7M461.1 149.5h.7M458.2 150.3h.7M457.6 162.0h.7M459.6 162.3h.7M457.3 155.2h.7M460.5 155.6h.7M459.5 157.0h.7M461.5 155.3h.7M460.4 153.0h.7M457.5 174.5h.7M458.9 169.9h.7M460.1 162.8h.7M461.7 151.3h.7M460.3 156.3h.7M460.9 148.1h.7M460.4 141.4h.7M459.4 146.3h.7M459.4 168.5h.7M460.3 149.0h.7M457.6 160.5h.7M460.1 167.0h.7M460.6 159.5h.7M459.8 158.6h.7M460.1 167.8h.7M461.6 142.5h.7M459.3 161.6h.7M458.1 166.6h.7M459.4 161.3h.7M459.3 169.4h.7M458.4 174.8h.7M460.5 161.3h.7M460.0 164.6h.7M458.1 172.5h.7M458.0 151.1h.7M460.1 145.3h.7M461.3 153.9h.7M460.1 148.1h.7M457.9 163.5h.7M460.3 152.4h.7M459.5 153.1h.7M459.7 139.7h.7M460.0 165.9h.7M461.7 164.5h.7M458.2 146.3h.7M458.8 163.8h.7M459.5 174.2h.7M456.9 147.0h.7M456.3 155.8h.7M459.3 166.0h.7M459.1 132.5h.7M459.4 170.8h.7M458.9 148.5h.7M460.1 156.1h.7M459.0 134.2h.7M458.6 159.6h.7M460.5 150.7h.7M459.3 166.2h.7M461.3 163.8h.7M460.3 138.3h.7M456.3 140.4h.7M457.6 147.9h.7M461.0 153.2h.7M461.9 154.0h.7M461.9 150.2h.7M458.5 157.0h.7M463.3 176.1h.7M457.6 138.0h.7M461.6 165.6h.7M459.7 163.6h.7M459.3 174.5h.7M457.7 167.7h.7M459.2 156.6h.7M460.5 144.5h.7M460.7 150.3h.7M459.6 147.6h.7M461.7 153.5h.7M458.4 166.7h.7M458.4 173.5h.7M460.5 156.8h.7M459.2 147.3h.7M461.2 167.4h.7M458.7 159.3h.7M458.6 157.9h.7M460.2 145.3h.7M457.8 138.0h.7M458.5 162.0h.7M459.1 157.9h.7M457.8 167.6h.7M460.7 156.1h.7M461.4 175.4h.7M459.4 149.7h.7M459.1 171.1h.7M460.5 168.2h.7M460.4 155.7h.7M459.9 156.1h.7M457.7 170.1h.7M460.3 171.5h.7M457.4 166.6h.7M460.0 148.7h.7M458.2 174.8h.7M462.6 159.0h.7M458.3 170.0h.7M459.2 150.1h.7M462.4 166.1h.7M459.6 160.7h.7M461.8 171.5h.7M458.2 170.7h.7M457.4 162.7h.7M458.1 159.9h.7M460.6 148.4h.7M458.0 164.4h.7M458.9 169.0h.7M460.9 172.6h.7M460.0 159.9h.7M456.7 166.7h.7M460.0 160.3h.7M457.3 159.7h.7M460.3 163.1h.7M459.0 164.9h.7M460.8 163.6h.7M461.1 135.4h.7M458.0 152.8h.7M458.0 160.5h.7M460.2 161.3h.7M460.2 153.7h.7M460.8 164.2h.7M460.4 149.7h.7M462.0 162.0h.7M456.3 162.8h.7M459.4 151.4h.7M458.6 161.1h.7M459.7 155.8h.7M459.3 170.3h.7M457.2 158.7h.7M459.5 159.4h.7M457.8 160.3h.7M458.2 166.6h.7M457.3 173.0h.7M460.7 156.3h.7M459.1 156.1h.7M461.3 139.2h.7M461.2 150.5h.7M458.6 161.0h.7M462.2 164.4h.7M458.2 145.2h.7M459.7 137.3h.7M459.0 158.0h.7M460.6 152.2h.7M457.9 137.4h.7M459.7 153.5h.7M458.1 144.0h.7M459.0 153.8h.7M459.6 151.1h.7M461.8 154.2h.7M458.6 174.5h.7M457.6 156.0h.7M458.9 146.7h.7M459.9 172.1h.7M460.2 162.6h.7M456.2 166.5h.7M458.9 165.5h.7M461.5 157.0h.7M460.6 168.5h.7M459.6 164.2h.7M457.0 159.2h.7M459.2 158.8h.7M461.5 157.1h.7M459.8 155.2h.7M460.0 161.1h.7M461.1 164.4h.7M459.9 152.2h.7M459.1 155.5h.7M458.6 172.6h.7M460.7 149.4h.7M459.9 148.7h.7M459.7 152.2h.7M460.1 152.9h.7M459.8 155.1h.7M462.5 167.1h.7M460.4 156.1h.7M460.8 155.4h.7M457.8 159.9h.7M457.2 144.7h.7M459.6 170.8h.7M458.7 162.9h.7M456.9 174.4h.7M459.7 139.8h.7M457.3 159.5h.7M460.8 145.5h.7M458.6 149.9h.7M460.5 162.8h.7M458.1 154.8h.7M459.9 156.9h.7M461.3 165.7h.7M460.0 163.0h.7M459.0 151.7h.7M458.7 173.3h.7M459.8 157.2h.7M460.5 147.2h.7M462.8 145.1h.7M460.2 156.3h.7M460.2 155.1h.7M459.6 142.4h.7M460.6 168.7h.7M460.0 152.0h.7M460.1 151.0h.7M459.4 151.0h.7M459.1 158.5h.7M459.7 152.7h.7M458.3 146.3h.7M458.1 163.9h.7M461.6 170.6h.7M460.6 153.4h.7M459.1 161.7h.7M459.0 163.5h.7M460.4 154.9h.7M460.6 154.9h.7M460.4 152.1h.7M460.1 154.0h.7M459.6 175.7h.7M459.8 170.4h.7M460.0 140.8h.7M460.2 168.7h.7M458.4 175.9h.7M457.6 163.4h.7M459.0 172.3h.7M457.4 157.2h.7M459.3 158.9h.7M460.4 154.3h.7M459.4 146.0h.7M462.3 161.8h.7M460.9 172.5h.7M459.9 157.8h.7M461.7 173.3h.7M460.6 145.7h.7M460.2 157.0h.7M460.4 165.5h.7M462.2 148.6h.7M461.1 167.3h.7M460.4 162.0h.7M461.5 159.4h.7M459.4 133.6h.7M460.3 158.1h.7M459.3 163.2h.7M459.4 173.3h.7M458.9 163.8h.7M459.9 149.2h.7M461.9 156.1h.7M462.8 163.0h.7M459.6 153.9h.7M458.7 163.7h.7M461.2 173.4h.7M457.9 163.4h.7M460.8 130.3h.7M459.7 153.5h.7M459.4 168.3h.7M461.2 157.3h.7M460.5 172.4h.7M458.7 171.4h.7M459.9 161.8h.7M457.8 158.8h.7M457.1 155.0h.7M460.1 151.5h.7M459.6 146.1h.7M462.3 168.0h.7M461.5 169.5h.7M462.3 155.5h.7M460.7 151.1h.7M457.8 160.7h.7M459.5 168.2h.7M461.7 159.8h.7M457.9 160.8h.7M460.5 160.0h.7M461.9 159.4h.7M462.2 171.9h.7M460.5 153.6h.7M457.1 154.1h.7M458.9 172.8h.7M460.7 167.7h.7M458.1 170.0h.7M460.5 172.1h.7M460.6 167.6h.7M457.8 147.6h.7M462.2 171.9h.7M460.2 155.4h.7M460.1 159.3h.7M460.0 160.0h.7M459.8 152.7h.7M461.7 149.7h.7M460.8 173.9h.7M459.0 158.1h.7M458.1 144.2h.7M460.4 175.4h.7M457.2 152.3h.7M458.0 157.3h.7M459.9 164.0h.7M459.0 163.4h.7M460.8 162.6h.7M458.5 161.4h.7M459.1 158.9h.7M458.6 142.3h.7M459.6 166.3h.7M458.6 165.2h.7M462.5 157.2h.7M456.5 163.0h.7M459.1 148.1h.7M460.0 160.8h.7M459.6 171.1h.7M458.3 164.2h.7M459.9 153.5h.7M458.9 169.6h.7M458.8 146.0h.7M458.3 151.3h.7M458.6 159.2h.7M458.1 169.3h.7M460.5 152.0h.7M460.5 161.8h.7M459.6 156.7h.7M458.2 161.8h.7M459.9 166.0h.7M459.8 148.4h.7M461.6 160.8h.7M455.6 173.7h.7M461.0 165.2h.7M460.9 149.4h.7M462.2 161.3h.7M458.4 169.7h.7M459.1 150.6h.7M460.1 164.7h.7M459.6 164.3h.7M461.4 159.2h.7M461.5 148.5h.7M459.1 140.0h.7M458.1 164.4h.7M460.8 154.8h.7M459.3 173.1h.7M458.7 147.8h.7M459.9 150.1h.7M461.1 169.8h.7M457.9 156.6h.7M461.5 147.8h.7M456.9 158.4h.7M458.6 164.8h.7M460.6 173.0h.7M460.5 164.7h.7M459.5 160.9h.7M460.9 169.9h.7M460.6 161.1h.7M459.7 155.9h.7M458.4 148.9h.7M459.9 169.4h.7M461.3 157.9h.7M457.4 165.6h.7M460.9 164.8h.7M458.5 154.8h.7M457.4 165.3h.7M460.3 157.2h.7M459.5 165.1h.7M457.1 148.3h.7M458.6 175.1h.7M458.1 157.2h.7M457.8 133.1h.7M456.2 161.4h.7M455.9 160.5h.7M460.6 171.6h.7M460.0 140.2h.7M458.4 152.9h.7M461.2 153.9h.7M459.3 153.4h.7M458.5 158.2h.7M462.2 143.1h.7M460.5 158.4h.7M454.9 162.9h.7M458.9 151.5h.7M460.3 161.7h.7M459.0 152.0h.7M459.9 162.5h.7M457.3 147.0h.7M459.5 146.2h.7M456.5 161.6h.7M458.8 151.2h.7M459.5 154.4h.7M459.5 148.8h.7M459.4 147.0h.7M459.8 152.3h.7M458.4 142.9h.7M460.1 172.7h.7M460.1 158.0h.7M461.8 160.4h.7M459.4 160.0h.7M462.1 165.3h.7M458.4 142.2h.7M460.1 163.8h.7M458.0 175.8h.7M460.8 170.2h.7M458.2 160.5h.7M460.4 171.0h.7M458.4 171.9h.7M457.9 160.7h.7M455.7 165.0h.7M460.1 165.0h.7M463.3 164.5h.7M461.3 154.7h.7M461.2 170.5h.7M460.5 172.1h.7M459.5 157.3h.7M458.8 146.0h.7M461.6 159.3h.7M461.3 151.1h.7M458.1 148.2h.7M458.1 146.3h.7M459.7 156.9h.7M458.5 159.1h.7M460.1 161.9h.7M457.4 160.6h.7M461.1 164.9h.7M457.1 170.4h.7M459.6 149.9h.7M461.5 163.1h.7M459.9 171.4h.7M459.5 172.3h.7M458.7 137.6h.7M461.3 151.7h.7M460.1 169.4h.7M457.8 149.8h.7M459.5 153.5h.7M458.4 167.4h.7M459.1 160.8h.7M458.7 157.4h.7M460.3 146.1h.7M460.1 157.4h.7M457.8 166.1h.7M461.5 165.4h.7M459.8 169.4h.7M460.6 143.5h.7M460.9 151.3h.7M457.9 147.9h.7M460.9 162.4h.7M457.8 169.0h.7M458.6 167.1h.7M460.7 164.0h.7M459.7 160.8h.7M457.7 145.4h.7M459.2 162.8h.7M459.5 166.8h.7M458.7 155.7h.7M459.5 143.8h.7M459.9 167.4h.7M458.9 156.6h.7M459.6 146.8h.7M459.1 170.1h.7M459.2 152.9h.7M458.8 160.7h.7M460.5 141.1h.7M459.4 154.0h.7M459.9 170.1h.7M461.5 159.7h.7M458.5 167.1h.7M462.5 172.0h.7M460.0 139.7h.7M459.4 142.1h.7M457.7 156.8h.7M455.9 162.8h.7M455.5 155.4h.7M457.7 171.5h.7M458.1 157.6h.7M461.0 159.8h.7M458.0 160.6h.7M459.7 165.8h.7M458.9 161.6h.7M461.2 130.0h.7M458.9 141.6h.7M462.2 168.9h.7M459.6 172.6h.7M459.5 168.9h.7M460.3 166.9h.7M460.5 151.4h.7M457.2 170.8h.7M458.0 163.5h.7M461.1 167.3h.7M461.2 151.1h.7M461.1 148.6h.7M459.7 151.5h.7M461.5 149.8h.7M457.9 167.3h.7M457.2 163.9h.7M460.3 148.9h.7M460.7 163.6h.7M459.5 170.8h.7M458.3 160.9h.7M461.5 160.9h.7M462.2 150.1h.7M459.1 146.6h.7M461.5 153.4h.7M459.5 169.6h.7M459.3 145.9h.7M460.4 145.7h.7M460.5 162.2h.7M459.3 150.4h.7M459.3 155.2h.7M457.8 174.0h.7M456.7 155.7h.7M461.1 167.5h.7M459.3 152.0h.7M458.3 153.4h.7M460.5 152.5h.7M458.4 149.7h.7M461.2 166.8h.7M457.6 142.4h.7M456.0 152.2h.7M462.1 166.6h.7M461.8 159.1h.7M462.9 149.3h.7M462.3 164.3h.7M463.2 157.8h.7M458.9 163.9h.7M457.2 142.3h.7M457.6 156.1h.7M460.1 164.8h.7M459.6 164.5h.7M457.1 157.9h.7M463.4 151.1h.7M459.2 174.3h.7M459.9 171.5h.7M462.2 152.6h.7M458.1 163.1h.7M460.7 164.4h.7M457.4 154.4h.7M459.8 154.2h.7M461.3 150.8h.7M459.3 137.8h.7M456.5 156.5h.7M457.9 174.8h.7M459.2 174.4h.7M462.6 154.9h.7M459.0 159.1h.7M461.9 152.3h.7M460.4 150.6h.7M458.1 146.3h.7M461.0 157.7h.7M459.3 159.9h.7M459.7 151.7h.7M459.9 167.7h.7M460.0 170.3h.7M461.1 175.5h.7M456.0 157.1h.7M461.0 174.6h.7M459.4 164.4h.7M459.6 141.0h.7M458.8 166.8h.7M458.9 152.5h.7M460.8 167.4h.7M462.8 166.5h.7M459.9 156.8h.7M459.5 168.4h.7M460.9 157.8h.7M458.7 145.6h.7M460.2 150.1h.7M458.4 163.3h.7M460.7 140.0h.7M458.4 147.5h.7M457.8 135.5h.7M458.5 159.8h.7M459.3 157.3h.7M458.6 154.6h.7M461.2 151.6h.7M457.4 164.7h.7M460.1 144.7h.7M459.2 140.6h.7M460.5 145.2h.7M460.1 154.7h.7M461.0 159.9h.7M460.0 167.5h.7M461.2 161.0h.7M461.1 165.4h.7M457.5 168.4h.7M459.8 162.1h.7M459.6 151.4h.7M460.3 169.5h.7M457.2 174.8h.7M459.2 160.1h.7M462.2 151.0h.7M462.4 171.9h.7M459.0 147.7h.7M459.4 144.0h.7M458.8 164.4h.7M460.1 158.6h.7M457.2 153.0h.7M460.7 154.8h.7M460.1 157.0h.7M458.9 147.9h.7M460.1 152.3h.7M458.7 154.1h.7M460.6 144.7h.7M457.2 144.2h.7M461.5 142.3h.7M460.5 167.1h.7M459.4 153.5h.7M463.1 159.5h.7M459.9 152.2h.7M456.6 164.8h.7M459.3 140.7h.7M458.0 170.8h.7M458.7 150.1h.7M458.1 162.5h.7M458.6 147.9h.7M461.5 156.8h.7M457.4 169.6h.7M459.1 158.2h.7M458.7 147.9h.7M456.4 171.8h.7M458.1 135.1h.7M460.0 159.0h.7M460.4 154.7h.7M459.7 150.9h.7M459.2 156.5h.7M459.0 159.3h.7M459.3 168.9h.7M457.8 153.8h.7M460.7 161.4h.7M459.6 152.8h.7M459.2 156.1h.7M455.7 149.5h.7M460.6 154.5h.7M459.6 170.4h.7M459.4 169.0h.7M459.4 146.9h.7M459.1 162.1h.7M459.0 162.6h.7M460.3 144.4h.7M458.8 141.5h.7M459.7 159.8h.7M460.2 153.4h.7M461.5 165.4h.7M459.0 157.5h.7M461.1 167.0h.7M458.9 160.4h.7M460.3 160.2h.7M461.3 161.5h.7M459.3 151.8h.7M461.8 142.6h.7M459.8 144.4h.7M460.4 155.4h.7M459.9 162.8h.7M459.5 160.6h.7M462.5 140.0h.7M459.9 176.1h.7M459.3 157.3h.7M460.3 173.1h.7M460.8 144.4h.7M459.5 170.3h.7M462.1 142.5h.7M459.5 154.6h.7M458.7 156.0h.7M461.4 152.5h.7M459.4 155.2h.7M461.6 136.7h.7M456.5 158.8h.7M460.3 152.9h.7M458.2 152.6h.7M461.5 173.2h.7M459.6 170.2h.7M460.4 145.4h.7M459.6 159.1h.7M459.6 150.9h.7M460.7 170.9h.7M460.2 156.5h.7M459.5 170.5h.7M460.5 173.1h.7M458.8 156.6h.7M461.1 166.7h.7M458.4 171.9h.7M460.2 141.6h.7M459.8 167.9h.7M460.1 150.7h.7M459.4 173.3h.7M459.8 158.0h.7M456.8 156.4h.7M459.4 161.0h.7M456.3 170.1h.7M460.0 169.0h.7M458.3 151.1h.7M459.6 169.6h.7M460.0 136.6h.7M461.8 156.3h.7M459.0 161.5h.7M457.4 167.5h.7M461.8 163.9h.7M459.8 152.4h.7M459.3 170.8h.7M460.0 163.7h.7M458.2 158.2h.7M459.4 148.1h.7M457.6 139.2h.7M458.2 145.5h.7M460.1 171.3h.7M460.4 152.2h.7M461.2 144.9h.7M456.4 165.2h.7M459.0 156.8h.7M460.8 165.9h.7M461.7 163.2h.7M458.9 155.2h.7M460.8 155.1h.7M461.3 163.3h.7M462.0 152.3h.7M460.1 152.9h.7M462.3 168.8h.7M464.4 162.5h.7M462.1 144.4h.7M461.1 145.9h.7M458.4 169.0h.7M457.7 163.4h.7M459.5 144.4h.7M458.5 156.3h.7M459.1 160.5h.7M459.2 151.9h.7M460.7 149.0h.7M459.3 171.6h.7M460.7 156.0h.7M462.3 157.5h.7M460.1 149.7h.7M460.0 158.7h.7M459.4 165.5h.7M459.2 150.9h.7M461.4 161.4h.7M457.1 172.0h.7M459.7 160.9h.7M461.1 175.1h.7M459.8 154.2h.7M461.7 141.3h.7M459.6 153.8h.7M458.3 150.9h.7M461.9 168.0h.7M457.9 152.9h.7M458.2 152.9h.7M459.3 146.9h.7M461.6 125.2h.7M459.4 159.2h.7M463.3 137.4h.7M458.4 169.2h.7M457.6 165.2h.7M459.4 169.3h.7M457.3 159.7h.7M458.4 138.8h.7M460.7 157.1h.7M460.6 150.2h.7M459.8 165.3h.7M459.1 154.6h.7M459.0 164.1h.7M460.0 147.9h.7M457.4 169.6h.7M460.9 168.3h.7M459.3 154.4h.7M459.8 151.8h.7M459.6 165.3h.7M460.2 149.9h.7M460.3 157.4h.7M458.3 157.8h.7M463.0 156.0h.7M459.4 161.7h.7M458.5 133.8h.7M462.4 175.5h.7M457.5 169.4h.7M459.7 164.6h.7M460.8 154.5h.7M460.1 174.3h.7M460.1 163.2h.7M459.5 146.7h.7M457.9 145.8h.7M459.9 162.2h.7M459.2 158.7h.7M457.2 175.5h.7M457.6 159.1h.7M460.6 139.7h.7M459.7 155.0h.7M459.1 159.1h.7M461.0 158.7h.7M457.0 166.3h.7M458.1 128.7h.7M460.6 171.8h.7M460.3 151.8h.7M459.4 159.4h.7M460.5 132.0h.7M457.3 136.0h.7M459.6 169.2h.7M458.3 166.1h.7M461.6 153.3h.7M459.3 130.5h.7M459.6 154.8h.7M461.2 175.3h.7M459.2 175.4h.7M459.0 140.9h.7M457.6 148.2h.7M460.0 165.1h.7M457.0 144.2h.7M457.6 171.5h.7M461.6 153.4h.7M458.0 171.7h.7M458.9 168.6h.7M460.2 140.7h.7M458.7 155.3h.7M458.2 161.8h.7M461.7 176.0h.7M458.5 164.4h.7M460.1 171.9h.7M461.5 166.3h.7M460.3 134.6h.7M459.3 154.5h.7M457.9 158.1h.7M457.9 158.2h.7M461.9 170.7h.7M459.2 145.9h.7M459.8 158.3h.7M457.8 161.5h.7M460.3 174.1h.7M459.8 133.4h.7M459.0 158.2h.7M459.8 169.2h.7M460.6 143.7h.7M457.8 152.2h.7M461.5 161.3h.7M458.9 175.7h.7M458.6 163.0h.7M458.8 173.3h.7M459.9 166.6h.7M463.9 153.8h.7M458.6 147.4h.7M461.0 151.5h.7M458.7 169.4h.7M461.0 166.5h.7M458.8 162.6h.7M459.9 148.8h.7M457.2 153.6h.7M458.7 150.8h.7M459.3 152.7h.7M461.3 172.9h.7M460.2 136.2h.7M461.1 169.6h.7M458.5 160.3h.7M458.2 152.2h.7M459.8 161.7h.7M459.8 158.8h.7M458.2 142.0h.7M460.3 153.7h.7M461.4 151.9h.7M459.5 174.5h.7M461.3 168.4h.7M460.5 149.4h.7M459.7 151.9h.7M460.4 160.1h.7M460.4 149.3h.7M458.3 149.1h.7M459.1 169.6h.7M458.2 161.4h.7M458.1 173.4h.7M457.9 164.5h.7M462.3 169.4h.7M459.6 162.6h.7M460.5 148.7h.7M460.3 158.9h.7M459.9 158.7h.7M461.5 170.3h.7M459.8 138.7h.7M458.4 152.1h.7M459.1 149.2h.7M457.2 173.6h.7M459.3 144.1h.7M458.2 152.5h.7M458.5 159.7h.7M458.8 167.0h.7M461.6 145.1h.7M463.0 170.9h.7M460.1 169.7h.7M455.0 161.3h.7M458.1 161.7h.7M459.1 164.8h.7M461.6 160.3h.7M458.2 150.0h.7M461.8 155.5h.7M458.3 159.6h.7M459.2 165.3h.7M459.7 153.5h.7M459.8 160.9h.7M460.4 137.3h.7M460.3 159.8h.7M457.9 159.7h.7M459.2 155.5h.7M458.6 152.5h.7M456.4 158.6h.7M459.1 152.8h.7M460.4 154.5h.7M459.5 145.5h.7M458.9 173.0h.7M460.0 157.7h.7M459.2 143.9h.7M456.7 150.3h.7M457.4 159.4h.7M457.8 138.5h.7M460.3 140.8h.7M458.6 170.3h.7M461.5 155.4h.7M457.7 170.1h.7M461.2 166.5h.7M462.0 175.6h.7M457.8 166.8h.7M461.1 162.2h.7M460.6 151.7h.7M460.9 136.0h.7M458.0 157.4h.7M457.4 158.5h.7M462.4 144.0h.7M461.3 159.1h.7M460.9 156.2h.7M458.0 156.4h.7M460.9 168.0h.7M459.2 157.8h.7M460.4 165.9h.7M459.7 154.7h.7M458.7 159.1h.7M458.2 166.7h.7M456.0 157.7h.7M458.9 150.7h.7M458.3 152.4h.7M460.4 173.9h.7M460.3 153.2h.7M462.6 165.7h.7M459.9 152.6h.7M457.6 144.5h.7M461.3 164.0h.7M460.9 156.2h.7M459.7 134.6h.7M458.7 169.8h.7M458.2 162.2h.7M459.0 152.3h.7M460.8 149.9h.7M458.6 160.0h.7M459.4 157.5h.7M459.5 171.5h.7M458.6 138.4h.7M459.3 161.8h.7M458.3 144.1h.7M461.5 141.8h.7M458.7 142.0h.7M461.0 141.4h.7M459.7 150.5h.7M460.2 162.0h.7M461.4 148.9h.7M458.6 161.1h.7M459.8 175.9h.7M458.2 155.3h.7M459.1 151.6h.7M461.0 170.8h.7M459.6 163.3h.7M457.4 149.4h.7M459.0 152.2h.7M463.6 167.9h.7M460.3 163.8h.7M461.8 166.1h.7M459.1 154.7h.7M463.5 171.1h.7M460.3 152.6h.7M458.4 172.3h.7M461.1 167.3h.7M456.5 149.0h.7M459.2 160.4h.7M460.9 152.3h.7M459.5 146.6h.7M459.1 170.5h.7M460.8 134.5h.7M459.9 164.7h.7M459.3 157.7h.7M457.2 162.0h.7M458.5 148.2h.7M460.2 165.4h.7M457.8 142.5h.7M459.5 138.9h.7M460.9 152.7h.7M459.2 158.6h.7M458.2 161.1h.7M459.2 158.5h.7M458.2 145.2h.7M460.2 154.7h.7M459.8 147.6h.7M461.7 160.4h.7M463.4 142.6h.7M459.8 157.4h.7M458.0 154.8h.7M460.0 161.6h.7M462.0 156.7h.7M457.1 154.7h.7M461.1 159.5h.7M460.7 159.0h.7M456.1 171.3h.7M461.0 171.4h.7M457.7 154.8h.7M458.8 151.5h.7M460.7 153.6h.7M460.2 157.6h.7M462.1 168.0h.7M459.1 149.5h.7M458.1 154.5h.7M459.6 169.2h.7M458.7 155.8h.7M461.0 175.1h.7M459.9 147.1h.7M459.8 174.5h.7M461.0 150.7h.7M459.6 169.3h.7M460.1 160.9h.7M458.7 152.6h.7M459.8 154.0h.7M459.5 148.1h.7M460.4 146.7h.7M459.5 153.5h.7M461.4 158.3h.7M460.4 149.5h.7M463.4 161.5h.7M460.5 165.9h.7M457.9 132.6h.7M457.3 138.8h.7M461.0 172.3h.7M461.0 137.9h.7M458.6 173.0h.7M462.4 169.6h.7M460.1 164.3h.7M460.0 167.0h.7M457.4 165.7h.7M459.1 155.7h.7M460.2 168.3h.7M462.2 164.2h.7M458.2 169.5h.7M461.1 162.1h.7M461.6 163.1h.7M462.5 162.4h.7M458.6 136.9h.7M460.1 146.6h.7M459.6 161.5h.7M462.6 160.6h.7M460.0 169.2h.7M462.4 170.1h.7M462.4 163.3h.7M457.9 162.6h.7M459.5 166.2h.7M461.7 153.9h.7M460.2 149.7h.7M459.5 159.7h.7M459.6 172.1h.7M459.6 163.7h.7M461.4 147.1h.7M461.3 147.3h.7M459.8 160.9h.7M459.6 156.8h.7M460.8 164.9h.7M460.6 164.3h.7M457.1 152.9h.7M458.2 153.4h.7M460.5 169.7h.7M458.7 153.1h.7M460.0 173.3h.7M459.8 171.7h.7M457.4 140.6h.7M458.0 165.0h.7M460.9 155.9h.7M461.3 161.1h.7M463.7 168.5h.7M460.1 173.2h.7M459.1 173.8h.7M456.9 160.0h.7M458.8 163.4h.7M457.7 158.9h.7M461.7 144.7h.7M456.8 144.6h.7M456.9 150.6h.7M457.5 163.9h.7M460.3 149.6h.7M462.3 152.3h.7M459.1 159.3h.7M459.5 167.4h.7M460.4 147.3h.7M461.5 158.4h.7M463.1 161.5h.7M459.6 151.9h.7M461.3 161.1h.7M460.6 171.5h.7M461.4 174.9h.7M458.3 146.0h.7M460.5 167.2h.7M456.9 155.3h.7M460.4 156.0h.7M458.0 159.7h.7M460.4 161.2h.7M460.6 149.3h.7M458.9 175.5h.7M459.0 163.2h.7M458.9 145.0h.7M460.3 162.3h.7M459.1 161.3h.7M459.4 160.1h.7M456.6 168.7h.7M460.7 141.8h.7M459.7 166.5h.7M460.0 170.2h.7M457.2 166.8h.7M461.3 172.5h.7M459.7 163.2h.7M460.1 175.1h.7M459.6 171.0h.7M460.4 152.4h.7M461.8 176.2h.7M459.5 170.9h.7M459.2 151.4h.7M462.6 142.6h.7M459.9 153.4h.7M461.8 168.4h.7M459.7 165.8h.7M459.4 165.9h.7M461.4 158.9h.7M458.7 169.2h.7M458.5 168.5h.7M456.9 167.7h.7M460.9 151.9h.7M463.0 162.8h.7M458.5 162.2h.7M462.6 165.8h.7M460.7 169.5h.7M459.0 169.0h.7M459.6 162.2h.7M460.2 168.9h.7M457.6 175.3h.7M461.6 150.4h.7M458.5 153.1h.7M458.5 161.3h.7M459.7 141.9h.7M460.6 174.1h.7M458.2 141.7h.7M458.2 174.9h.7M460.3 163.0h.7M458.2 145.0h.7M459.8 172.1h.7M459.4 173.0h.7M461.6 171.4h.7M459.1 131.0h.7M458.7 151.6h.7M461.1 166.0h.7M461.4 159.1h.7M460.8 154.8h.7M455.3 175.2h.7M461.1 165.6h.7M459.8 148.4h.7M463.1 169.3h.7M458.3 158.4h.7M461.6 169.9h.7M459.2 159.4h.7M459.6 170.1h.7M460.3 129.5h.7M459.2 160.4h.7M461.3 153.0h.7M459.0 147.0h.7M460.4 170.1h.7M457.0 166.5h.7M461.5 150.8h.7M459.6 153.8h.7M459.5 134.5h.7M458.3 165.5h.7M459.1 164.8h.7M458.9 163.3h.7M459.6 149.1h.7M458.8 151.0h.7M460.0 170.7h.7M459.8 161.0h.7M457.0 146.9h.7M460.1 137.8h.7M462.2 156.6h.7M460.3 155.8h.7M461.7 157.2h.7M459.8 166.4h.7M463.3 172.2h.7M460.2 148.4h.7M459.2 166.9h.7M457.2 140.6h.7M459.2 162.0h.7M460.8 164.7h.7M459.7 152.7h.7M461.6 152.0h.7M459.5 151.4h.7M458.6 158.1h.7M458.9 170.4h.7M460.9 172.9h.7M458.0 148.6h.7M461.7 167.2h.7M459.4 166.5h.7M461.0 145.1h.7M459.5 148.5h.7M456.3 156.0h.7M459.6 165.5h.7M460.3 147.7h.7M460.5 163.2h.7M460.8 168.8h.7M458.9 148.8h.7M461.7 168.2h.7M459.3 145.5h.7M460.5 166.8h.7M461.0 157.6h.7M460.7 152.8h.7M460.0 153.2h.7M459.8 165.0h.7M458.3 140.2h.7M459.9 159.0h.7M457.8 170.7h.7M458.7 174.5h.7M459.2 165.0h.7M461.8 167.7h.7M458.6 154.0h.7M461.3 172.8h.7M458.1 149.3h.7M460.2 148.4h.7M463.0 151.6h.7M461.2 153.9h.7M459.3 168.4h.7M458.9 158.8h.7M459.6 144.4h.7M458.7 167.8h.7M461.3 167.2h.7M460.3 174.2h.7M460.9 139.5h.7M458.4 144.8h.7M458.5 157.3h.7M458.9 143.6h.7M461.1 158.4h.7M458.8 153.9h.7M460.1 156.5h.7M459.6 142.8h.7M460.7 166.7h.7M459.2 175.8h.7M460.3 169.9h.7M460.9 171.8h.7M460.5 156.4h.7M455.7 160.0h.7M461.5 153.1h.7M459.1 153.2h.7M461.3 145.2h.7M460.6 165.3h.7M457.2 139.2h.7M461.8 174.5h.7M459.0 174.9h.7M458.5 150.9h.7M457.1 149.8h.7M460.3 143.6h.7M459.4 135.4h.7M458.3 157.5h.7M459.3 148.6h.7M457.6 147.8h.7M458.7 145.0h.7M460.7 170.0h.7M458.6 167.1h.7M459.0 154.8h.7M458.4 153.4h.7M463.1 143.8h.7M459.3 155.2h.7M455.4 163.5h.7M459.9 156.8h.7M458.0 160.3h.7M458.4 158.8h.7M462.0 154.3h.7M457.4 158.7h.7M461.2 161.4h.7M459.3 153.2h.7M461.4 175.7h.7M462.1 167.1h.7M460.8 151.8h.7M456.6 172.3h.7M459.8 152.8h.7M460.4 167.7h.7M458.6 158.4h.7M460.0 165.9h.7M460.5 148.4h.7M459.3 175.2h.7M459.5 173.9h.7M459.8 149.0h.7M458.5 167.6h.7M461.6 142.5h.7M460.9 159.7h.7M458.0 159.1h.7M458.8 165.2h.7M461.2 160.7h.7M463.2 159.5h.7M459.1 150.1h.7M458.9 170.8h.7M459.0 159.3h.7M459.6 158.3h.7M462.3 160.2h.7M460.0 149.5h.7M460.0 138.8h.7M460.5 161.2h.7M460.1 157.8h.7M459.2 159.6h.7M457.9 156.7h.7M457.9 173.0h.7M462.3 162.7h.7M460.0 173.9h.7M457.8 171.4h.7M456.2 142.3h.7M460.6 162.0h.7M458.8 146.6h.7M459.2 169.1h.7M461.6 156.2h.7M459.8 151.6h.7M457.8 151.5h.7M459.7 167.5h.7M456.6 147.3h.7M460.0 144.7h.7M459.3 158.2h.7M457.1 164.6h.7M458.9 135.7h.7M459.8 149.0h.7M455.6 161.7h.7M460.4 154.9h.7M457.9 153.1h.7M460.5 161.2h.7M460.5 158.7h.7M460.2 162.2h.7M458.3 172.1h.7M459.3 171.0h.7M461.1 163.2h.7M461.0 167.5h.7M461.2 163.8h.7M461.5 154.3h.7M460.8 175.2h.7M457.4 157.7h.7M458.1 162.9h.7M459.8 147.6h.7M460.8 171.7h.7M457.0 169.8h.7M459.2 155.1h.7M459.4 159.2h.7M458.7 171.0h.7M460.3 163.9h.7M459.7 146.3h.7M459.6 169.1h.7M462.5 158.6h.7M459.8 134.8h.7M458.1 161.3h.7M463.0 147.5h.7M460.4 155.8h.7M461.1 161.5h.7M461.1 164.3h.7M458.8 136.4h.7M459.1 158.2h.7M459.0 166.8h.7M459.3 152.9h.7M460.5 171.9h.7M460.1 148.9h.7M460.7 152.3h.7M459.3 159.7h.7M458.5 164.9h.7M457.2 166.8h.7M458.2 146.8h.7M455.9 166.9h.7M460.3 159.7h.7M459.5 157.8h.7M459.9 165.1h.7M459.0 150.3h.7M458.5 140.6h.7M460.2 174.7h.7M460.3 154.8h.7M458.0 149.7h.7M458.6 154.3h.7M456.6 159.1h.7M458.7 155.7h.7M461.4 149.7h.7M460.9 156.7h.7M460.0 153.3h.7M460.5 147.7h.7M461.9 147.9h.7M457.9 166.5h.7M458.1 161.7h.7M461.4 169.3h.7M459.4 160.9h.7M459.6 175.4h.7M460.4 151.7h.7M459.9 158.2h.7M461.3 148.8h.7M460.7 139.7h.7M459.8 159.1h.7M460.5 170.6h.7M460.0 164.5h.7M460.3 159.9h.7M458.1 153.7h.7M461.4 156.8h.7M460.1 162.0h.7M459.4 151.1h.7M462.0 160.0h.7M458.8 167.6h.7M461.7 144.3h.7M458.3 152.1h.7M459.5 162.9h.7M461.9 139.9h.7M459.3 169.7h.7M459.4 155.5h.7M463.5 172.3h.7M461.3 140.8h.7M461.3 174.5h.7M459.0 166.4h.7M460.3 152.1h.7M457.7 162.1h.7M460.6 146.9h.7M459.5 162.5h.7M459.4 164.7h.7M459.4 142.9h.7M456.5 152.1h.7M460.5 173.9h.7M458.3 151.0h.7M458.9 159.9h.7M461.0 163.6h.7M462.4 156.8h.7M454.8 173.9h.7M460.5 173.1h.7M459.2 144.3h.7M460.6 156.5h.7M461.3 165.5h.7M459.5 172.4h.7M460.6 159.1h.7M459.1 162.3h.7M461.1 159.5h.7M458.3 140.9h.7M459.6 168.0h.7M462.2 168.1h.7M456.3 171.3h.7M459.9 144.7h.7M461.4 162.2h.7M459.0 159.7h.7M457.4 167.4h.7M459.0 146.9h.7M458.1 164.9h.7M460.4 166.9h.7M460.8 169.6h.7M456.3 132.1h.7M458.8 162.4h.7M458.6 155.8h.7M460.9 155.7h.7M460.9 156.8h.7M459.9 167.5h.7M456.7 151.7h.7M459.7 171.6h.7M463.1 159.5h.7M461.3 129.1h.7M459.2 156.7h.7M457.8 154.3h.7M460.0 171.8h.7M457.0 163.7h.7M458.4 157.8h.7M459.7 167.4h.7M458.9 141.0h.7M458.9 167.1h.7M459.6 159.5h.7M459.9 155.1h.7M460.4 156.9h.7M460.6 162.1h.7M462.9 140.8h.7M461.5 150.2h.7M458.9 144.1h.7M458.7 153.6h.7M460.7 165.0h.7M460.4 176.1h.7M462.4 164.4h.7M458.0 152.8h.7M459.6 169.0h.7M463.5 162.4h.7M457.9 158.2h.7M457.6 158.8h.7M461.1 155.4h.7M459.6 152.9h.7M458.9 161.7h.7M459.5 173.8h.7M461.6 167.2h.7M456.8 154.4h.7M460.4 165.6h.7M459.5 155.7h.7M459.3 147.0h.7M460.1 155.2h.7M459.3 143.2h.7M458.1 154.5h.7M460.6 145.3h.7M460.0 167.7h.7M459.4 167.1h.7M461.1 154.2h.7M458.1 162.8h.7M462.9 159.7h.7M459.3 161.7h.7M461.7 138.2h.7M456.2 154.6h.7M460.3 155.9h.7M458.0 149.3h.7M465.0 154.2h.7M459.8 156.2h.7M459.1 167.2h.7M460.9 151.8h.7M459.8 163.4h.7M461.7 150.9h.7M457.7 156.6h.7M460.3 163.5h.7M458.6 172.1h.7M460.0 135.2h.7M458.7 165.8h.7M458.4 169.9h.7M458.9 160.4h.7M460.0 158.5h.7M457.8 160.4h.7M460.4 168.5h.7M461.3 162.4h.7M458.4 147.6h.7M459.9 162.5h.7M458.3 165.2h.7M459.4 160.9h.7M461.4 166.6h.7M459.2 160.4h.7M458.1 153.7h.7M459.8 157.1h.7M459.8 142.2h.7M458.1 171.8h.7M458.2 161.0h.7M459.5 153.6h.7M460.1 170.2h.7M459.3 168.8h.7M459.5 176.1h.7M459.2 156.8h.7M458.4 155.5h.7M458.5 172.4h.7M458.5 156.8h.7M460.2 151.0h.7M458.5 175.7h.7M460.6 171.1h.7M460.7 163.3h.7M461.7 164.8h.7M459.3 165.9h.7M457.2 167.9h.7M456.4 163.6h.7M458.2 163.4h.7M456.6 164.2h.7M457.1 151.0h.7M459.6 161.2h.7M457.7 158.8h.7M461.2 152.9h.7M459.0 149.5h.7M460.8 152.1h.7M462.1 168.8h.7M458.2 163.3h.7M461.4 146.4h.7M458.7 153.1h.7M460.6 161.2h.7M457.0 167.0h.7M458.5 148.1h.7M460.5 156.9h.7M459.8 149.1h.7M458.4 158.0h.7M460.5 163.0h.7M462.3 155.2h.7M459.2 157.7h.7M460.8 170.3h.7M464.2 159.2h.7M459.9 159.5h.7M460.5 162.3h.7M458.8 151.7h.7M460.7 166.6h.7M459.2 155.1h.7M460.9 169.2h.7M459.6 156.8h.7M459.2 157.3h.7M461.0 170.9h.7M460.1 157.9h.7M460.8 162.2h.7M458.5 155.8h.7M459.6 167.9h.7M456.3 170.8h.7M460.6 154.4h.7M463.3 146.0h.7M462.1 156.4h.7M459.6 155.0h.7M459.5 135.5h.7M459.2 156.9h.7M460.2 154.0h.7M461.6 167.3h.7M462.1 153.3h.7M459.2 169.3h.7M461.3 151.3h.7M459.0 144.3h.7M459.5 144.9h.7M458.4 148.7h.7M460.9 160.8h.7M457.7 153.7h.7M462.4 143.4h.7M462.2 168.4h.7M458.0 162.6h.7M458.6 155.1h.7M461.3 150.6h.7M460.8 153.9h.7M460.5 170.3h.7M460.3 170.6h.7M461.4 155.2h.7M457.8 156.9h.7M457.5 151.6h.7M461.4 161.4h.7M456.8 164.8h.7M461.7 141.4h.7M459.2 143.0h.7M458.8 164.7h.7M460.6 149.1h.7M458.9 147.6h.7M457.5 169.6h.7M460.8 162.9h.7M458.1 139.7h.7M461.5 159.2h.7M457.6 156.7h.7M456.7 158.6h.7M457.4 139.8h.7M458.8 161.7h.7M459.4 157.8h.7M459.3 168.9h.7M458.8 168.1h.7M460.3 163.4h.7M456.2 162.7h.7M462.7 159.5h.7M458.7 159.4h.7M459.6 169.3h.7M459.4 165.5h.7M459.9 161.4h.7M460.2 157.4h.7M460.9 164.8h.7M462.9 161.3h.7M457.1 159.2h.7M459.8 169.5h.7M459.1 168.1h.7M460.6 161.5h.7M460.0 156.5h.7M461.2 138.4h.7M459.9 157.2h.7M459.6 165.8h.7M458.7 139.8h.7M460.4 157.9h.7M460.0 162.4h.7M459.4 144.7h.7M458.5 150.5h.7M459.5 167.6h.7M459.8 153.4h.7M462.5 153.8h.7M460.5 166.3h.7M460.0 158.9h.7M462.0 155.8h.7M460.3 153.6h.7M458.5 169.5h.7M458.8 168.1h.7M458.6 168.2h.7M460.9 139.6h.7M459.7 166.3h.7M456.2 156.0h.7M458.9 155.9h.7M456.3 148.8h.7M460.8 164.3h.7M458.8 146.5h.7M460.9 163.3h.7M461.4 157.6h.7M459.9 150.8h.7M462.7 162.3h.7M461.3 162.0h.7M458.9 161.3h.7M461.7 145.4h.7M459.7 156.3h.7M461.6 155.0h.7M460.8 150.4h.7M457.2 154.3h.7M462.9 170.1h.7M459.3 134.6h.7M459.4 164.6h.7M457.9 153.1h.7M458.3 158.5h.7M458.8 154.2h.7M459.5 159.0h.7M459.0 161.2h.7M461.7 168.6h.7M459.1 171.5h.7M459.8 150.1h.7M460.8 164.9h.7M459.2 174.2h.7M459.4 164.2h.7M460.4 158.0h.7M456.8 167.2h.7M459.1 161.9h.7M458.7 160.4h.7M459.1 164.5h.7M462.0 143.7h.7M457.4 170.7h.7M459.7 168.7h.7M458.0 162.9h.7M461.0 149.8h.7M458.7 151.9h.7M461.9 172.9h.7M459.6 162.2h.7M459.0 152.3h.7M459.1 141.6h.7M457.7 158.0h.7M460.8 150.0h.7M460.5 158.4h.7M458.3 165.3h.7M457.5 132.0h.7M461.4 164.5h.7M461.4 169.1h.7M461.0 135.7h.7M460.1 164.4h.7M458.5 169.3h.7M461.6 159.9h.7M459.8 166.1h.7M459.5 159.9h.7M459.2 158.4h.7M459.4 175.5h.7M461.1 162.4h.7M459.5 172.0h.7M458.9 175.7h.7M459.3 158.1h.7M458.7 174.4h.7M460.7 157.1h.7M457.7 156.5h.7M460.0 172.6h.7M458.0 167.3h.7M458.6 167.4h.7M457.7 174.9h.7M460.9 172.4h.7M458.3 168.2h.7M459.3 168.7h.7M460.4 166.1h.7M461.2 149.3h.7M461.6 149.4h.7M458.1 166.5h.7M457.0 165.0h.7M460.0 145.8h.7M461.0 161.4h.7M458.2 171.1h.7M457.9 154.4h.7M461.4 156.4h.7M459.3 159.8h.7M457.8 169.7h.7M459.7 160.4h.7M458.4 148.5h.7M458.5 157.4h.7M457.8 157.9h.7M458.3 161.2h.7M459.3 152.0h.7M460.2 148.4h.7M459.7 164.0h.7M460.9 153.1h.7M462.5 150.2h.7M460.2 156.9h.7M460.2 163.1h.7M461.3 145.1h.7M460.2 161.8h.7M456.9 160.9h.7M459.1 167.0h.7M461.4 151.1h.7M459.8 169.6h.7M459.9 166.9h.7M460.1 151.2h.7M459.2 173.5h.7M462.5 155.0h.7M459.9 160.0h.7M458.4 134.4h.7M460.9 146.3h.7M458.7 166.6h.7M459.6 153.6h.7M460.0 150.0h.7M461.2 176.2h.7M460.6 138.4h.7M460.5 146.0h.7M460.0 173.0h.7M459.5 158.8h.7M460.9 146.0h.7M458.4 149.4h.7M458.9 171.5h.7M461.5 160.8h.7M459.7 165.6h.7M458.3 153.7h.7M461.6 158.3h.7M461.7 148.4h.7M458.3 158.0h.7M461.7 144.9h.7M459.6 151.1h.7M458.2 163.6h.7M463.2 142.8h.7M461.7 137.4h.7M459.5 166.1h.7M461.7 175.8h.7M459.7 168.6h.7M461.2 166.7h.7M460.5 146.4h.7M459.7 158.5h.7M461.2 152.2h.7M457.4 163.7h.7M460.7 168.9h.7M460.4 157.5h.7M459.6 156.9h.7M458.6 145.2h.7M458.7 167.8h.7M459.7 168.2h.7M458.0 166.4h.7M462.1 138.0h.7M457.1 159.4h.7M458.4 154.4h.7M460.0 138.9h.7M460.5 156.9h.7M461.5 142.5h.7M460.3 164.6h.7M461.4 152.7h.7M458.5 164.3h.7M461.7 163.0h.7M457.1 168.3h.7M461.6 159.8h.7M459.3 165.2h.7M459.5 155.2h.7M459.0 156.9h.7M460.1 160.0h.7M459.5 149.8h.7M458.8 143.1h.7M460.5 159.8h.7M463.1 136.1h.7M460.0 164.8h.7M461.5 156.4h.7M458.8 173.2h.7M458.5 153.7h.7M458.4 159.6h.7M460.9 162.4h.7M459.7 144.3h.7M459.2 145.1h.7M459.0 152.7h.7M460.2 148.1h.7M459.2 166.4h.7M458.4 151.1h.7M458.7 156.2h.7M461.6 162.8h.7M458.5 163.0h.7M459.4 162.5h.7M458.8 148.3h.7M461.4 162.4h.7M459.7 167.4h.7M460.0 145.7h.7M463.3 150.0h.7M457.5 163.3h.7M460.8 161.4h.7M460.4 148.9h.7M460.8 143.4h.7M456.9 148.6h.7M459.8 166.5h.7M457.7 149.6h.7M463.1 160.0h.7M458.8 150.5h.7M460.8 158.8h.7M457.6 175.4h.7M461.0 152.4h.7M459.5 171.3h.7M458.9 153.0h.7M458.6 154.8h.7M458.3 161.1h.7M464.0 162.7h.7M459.3 163.4h.7M459.9 159.2h.7M459.2 132.7h.7M459.4 161.4h.7M457.8 146.6h.7M458.5 174.2h.7M460.7 175.7h.7M460.7 149.5h.7M457.8 155.1h.7M460.0 156.2h.7M462.8 148.2h.7M458.9 161.9h.7M461.1 167.9h.7M460.5 143.5h.7M459.9 164.9h.7M459.8 142.9h.7M456.8 167.0h.7M458.7 156.7h.7M459.5 155.0h.7M458.5 133.7h.7M460.1 151.7h.7M459.4 153.0h.7M460.4 166.9h.7M461.0 158.7h.7M461.6 173.5h.7M459.1 155.8h.7M456.3 174.5h.7M460.0 160.8h.7M457.2 162.7h.7M461.0 161.4h.7M461.4 168.5h.7M459.8 157.3h.7M459.4 149.6h.7M458.9 133.7h.7M458.7 168.6h.7M458.5 157.0h.7M460.2 145.0h.7M460.2 157.1h.7M458.4 157.4h.7M461.0 162.4h.7M461.7 166.8h.7M460.7 150.8h.7M461.7 152.9h.7M461.9 160.9h.7M461.6 156.5h.7M459.1 165.9h.7M459.7 175.4h.7M460.0 146.5h.7M459.6 148.7h.7M457.1 157.8h.7M460.8 159.9h.7M460.0 156.0h.7M457.3 166.6h.7M457.7 161.8h.7M457.4 145.9h.7M460.8 163.3h.7M462.1 164.3h.7M459.5 172.0h.7M457.7 160.7h.7M458.9 125.9h.7M461.3 163.4h.7M458.4 154.1h.7M459.7 168.3h.7M456.7 153.6h.7M460.2 156.1h.7M459.2 174.7h.7M460.6 148.9h.7M459.4 159.5h.7M462.2 164.3h.7M459.4 152.8h.7M458.4 163.9h.7M458.8 150.8h.7M458.6 172.7h.7M456.6 173.7h.7M459.1 172.7h.7M458.5 143.0h.7M459.5 170.2h.7M457.7 154.6h.7M461.2 139.2h.7M456.9 145.5h.7M458.0 163.6h.7M460.7 153.2h.7M464.2 149.2h.7M459.5 152.5h.7M456.6 135.8h.7M461.3 147.9h.7M459.0 139.0h.7M457.1 149.0h.7M459.1 157.8h.7M456.8 136.2h.7M458.4 133.9h.7M464.0 154.0h.7M461.7 150.1h.7M458.3 145.0h.7M459.6 147.1h.7M459.7 146.2h.7M459.8 149.8h.7M461.1 151.4h.7M455.8 147.3h.7M456.2 142.7h.7M458.5 151.6h.7M458.0 149.8h.7M460.8 133.4h.7M461.1 144.5h.7M457.9 147.1h.7M456.6 144.8h.7M459.6 142.6h.7M458.8 136.8h.7M458.2 151.8h.7M455.7 148.5h.7M458.2 149.7h.7M456.7 156.5h.7M463.3 148.3h.7M461.4 140.7h.7M461.2 139.3h.7M459.4 152.1h.7M459.8 156.4h.7M458.0 141.7h.7M461.0 144.3h.7M457.2 143.9h.7M461.0 163.4h.7M459.3 151.2h.7M461.6 148.9h.7M459.0 141.4h.7M458.3 155.6h.7M459.5 154.0h.7M462.0 154.5h.7M458.9 136.3h.7M460.5 153.7h.7M463.0 150.4h.7M462.0 151.6h.7M458.1 148.7h.7M457.4 140.6h.7M456.1 161.5h.7M458.9 154.5h.7M461.4 160.9h.7M457.9 145.6h.7M461.1 154.3h.7M458.7 147.6h.7M458.0 135.0h.7M458.5 148.7h.7M459.1 142.6h.7M459.4 134.5h.7M459.6 153.2h.7M457.9 142.3h.7M461.0 167.1h.7M460.0 145.4h.7M460.9 143.5h.7M459.1 150.3h.7M461.5 147.4h.7M462.9 141.2h.7M458.7 142.2h.7M458.0 153.3h.7M461.5 149.7h.7M460.0 148.8h.7M461.8 151.5h.7M461.4 134.7h.7M464.8 147.3h.7M457.9 144.2h.7M460.5 150.4h.7M461.5 155.2h.7M459.4 146.3h.7M461.8 144.3h.7M461.6 142.0h.7M458.2 147.5h.7M461.0 150.4h.7M458.2 151.0h.7M461.1 138.5h.7M461.0 154.7h.7M457.7 142.5h.7M460.8 139.1h.7M459.2 144.7h.7M458.7 159.6h.7M461.5 144.2h.7M462.9 134.5h.7M463.0 140.7h.7M459.4 146.2h.7M459.6 148.9h.7M456.5 159.6h.7M462.1 148.3h.7M458.8 156.6h.7M459.6 154.6h.7M459.9 155.6h.7M456.7 152.9h.7M460.1 157.0h.7M457.1 146.3h.7M459.8 153.6h.7M465.3 145.7h.7M462.2 148.5h.7M458.3 156.8h.7M455.9 144.3h.7M457.4 151.0h.7M457.7 144.6h.7M460.2 145.0h.7M464.1 142.9h.7M461.5 150.8h.7M459.5 153.0h.7M462.4 153.8h.7M462.2 155.2h.7M460.8 132.3h.7M458.8 140.4h.7M457.9 141.9h.7M462.1 142.8h.7M457.3 154.0h.7M460.1 138.1h.7M460.8 140.8h.7M456.4 155.8h.7M464.6 157.9h.7M459.3 151.7h.7M462.5 139.0h.7M460.6 143.7h.7M455.3 145.8h.7M460.4 141.2h.7M457.4 150.5h.7M458.9 145.2h.7M457.9 150.4h.7M459.7 146.9h.7M459.7 150.8h.7M457.2 147.8h.7M462.2 139.7h.7M456.7 128.5h.7M459.6 146.5h.7M460.3 142.1h.7M462.2 146.7h.7M458.1 161.5h.7M460.8 143.8h.7M460.1 150.8h.7M460.2 145.8h.7M459.5 148.1h.7M457.7 146.5h.7M459.6 148.2h.7M459.2 148.6h.7M458.3 149.1h.7M464.5 147.3h.7M459.6 147.5h.7M461.5 160.8h.7M458.8 149.6h.7M462.0 162.5h.7M456.9 147.6h.7M459.8 163.1h.7M461.5 151.2h.7M460.6 144.3h.7M459.8 151.6h.7M458.9 143.4h.7M458.0 157.1h.7M459.9 141.9h.7M465.7 159.4h.7M462.1 130.7h.7M460.5 155.9h.7M460.4 140.3h.7M458.9 150.2h.7M459.1 146.3h.7M459.5 159.5h.7M460.2 148.7h.7M458.7 134.1h.7M459.5 141.0h.7M457.0 145.1h.7M460.0 143.9h.7M460.6 136.5h.7M464.4 157.3h.7M460.9 156.9h.7M456.7 144.5h.7M460.5 143.1h.7M462.2 145.7h.7M457.7 132.1h.7M460.3 146.0h.7M460.0 149.5h.7M463.1 162.6h.7M460.6 140.4h.7M458.3 153.6h.7M457.6 145.6h.7M459.5 155.7h.7M461.7 150.0h.7M460.3 156.9h.7M460.3 141.8h.7M459.1 148.1h.7M458.1 142.2h.7M460.7 141.1h.7M460.3 144.6h.7M460.7 141.9h.7M460.5 143.9h.7M456.9 149.0h.7M460.4 140.7h.7M457.3 147.7h.7M459.8 147.3h.7M458.6 153.7h.7M459.8 149.4h.7M457.9 154.6h.7M457.9 147.8h.7M461.9 161.5h.7M458.0 155.1h.7M462.0 142.4h.7M459.7 147.4h.7M460.5 136.7h.7M458.9 152.3h.7M458.2 142.6h.7M460.3 150.6h.7M460.9 148.7h.7M458.3 159.2h.7M460.0 149.2h.7M459.7 144.5h.7M462.3 155.6h.7M460.9 152.3h.7M458.4 139.2h.7M457.3 155.5h.7M457.9 149.6h.7M462.5 152.3h.7M460.6 140.3h.7M459.7 145.7h.7M460.2 153.4h.7M457.7 150.5h.7M460.5 142.3h.7M460.0 156.2h.7M462.9 156.9h.7M459.4 146.7h.7M459.9 145.9h.7M459.7 154.2h.7M459.3 138.4h.7M457.5 150.5h.7M458.4 143.3h.7M457.6 141.8h.7M459.8 149.5h.7M458.7 152.0h.7M458.1 151.0h.7M461.7 144.7h.7M456.4 155.7h.7M462.7 151.5h.7M460.9 163.3h.7M460.2 152.4h.7M459.4 155.8h.7M462.3 143.7h.7M457.2 152.9h.7M459.0 152.7h.7M459.7 147.5h.7M458.6 156.8h.7M459.6 145.9h.7M461.6 137.0h.7M462.9 146.1h.7M461.6 139.8h.7M461.3 146.9h.7M462.3 149.5h.7M459.2 147.3h.7M456.6 152.2h.7M460.4 146.5h.7M459.0 145.5h.7M459.7 148.3h.7M462.8 152.3h.7M462.4 147.7h.7M460.2 152.8h.7M457.4 145.0h.7M457.0 135.1h.7M460.2 147.8h.7M459.0 150.4h.7M459.8 137.2h.7M456.6 164.2h.7M457.6 138.5h.7M459.6 147.7h.7M462.5 149.6h.7M458.2 148.1h.7M460.2 141.0h.7M460.9 149.9h.7M460.7 151.9h.7M462.4 141.8h.7M458.8 153.5h.7M456.5 147.5h.7M463.4 149.3h.7M458.5 149.0h.7M458.2 136.9h.7M459.2 131.3h.7M460.8 146.8h.7M463.0 150.8h.7M458.9 149.3h.7M458.6 142.8h.7M459.0 152.1h.7M457.6 146.2h.7M457.8 150.5h.7M458.1 142.7h.7M456.3 140.8h.7M459.1 161.1h.7M452.6 149.9h.7M460.6 160.2h.7M459.7 147.6h.7M461.2 148.1h.7M459.9 145.2h.7M457.5 142.4h.7M461.2 155.8h.7M458.5 159.8h.7M459.3 154.0h.7M458.8 141.6h.7M459.0 149.2h.7M457.8 144.4h.7M458.9 156.1h.7M460.9 141.1h.7M456.2 145.1h.7M460.2 149.1h.7M461.4 153.0h.7M459.7 149.5h.7M458.1 142.2h.7M460.7 150.0h.7M460.5 143.6h.7M461.0 163.0h.7M460.6 142.2h.7M459.3 147.8h.7M458.7 144.3h.7M458.7 156.5h.7M459.0 143.9h.7M458.7 150.2h.7M457.3 150.2h.7M459.2 143.6h.7M456.5 153.4h.7M455.9 152.6h.7M457.2 152.5h.7M459.1 142.4h.7M457.9 141.6h.7M459.6 140.0h.7M462.2 146.1h.7M456.5 144.9h.7M460.9 150.5h.7M458.7 159.2h.7M460.3 149.5h.7M460.7 157.6h.7M458.3 161.1h.7M457.1 157.1h.7M461.5 139.3h.7M460.0 151.1h.7M459.4 132.9h.7M460.9 149.0h.7M462.2 138.7h.7M459.4 145.8h.7M457.2 142.0h.7M458.4 145.9h.7M457.3 149.2h.7M457.7 152.3h.7M459.2 145.9h.7M459.7 143.5h.7M461.8 150.9h.7M458.3 144.3h.7M458.3 144.5h.7M461.5 143.6h.7M456.6 151.0h.7M457.9 139.9h.7M460.9 163.4h.7M461.3 140.5h.7M461.8 140.0h.7M458.9 146.5h.7M458.1 153.9h.7M459.8 140.5h.7M459.3 156.6h.7M459.2 157.8h.7M460.0 142.2h.7M453.5 165.3h.7M459.9 147.0h.7M456.8 146.2h.7M461.7 143.8h.7M457.7 130.7h.7M457.1 158.4h.7M458.4 143.3h.7M459.2 150.6h.7M459.7 137.0h.7M461.0 165.8h.7M459.5 134.9h.7M459.8 169.3h.7M461.6 151.4h.7M457.4 152.4h.7M459.9 155.1h.7M456.5 146.7h.7M459.2 147.5h.7M456.3 138.0h.7M460.1 149.3h.7M459.5 138.5h.7M462.1 149.5h.7M459.5 150.7h.7M459.7 157.5h.7M458.2 140.6h.7M461.2 144.1h.7M459.6 138.1h.7M459.5 156.5h.7M458.5 160.3h.7M459.4 145.4h.7M461.6 143.8h.7M458.3 140.6h.7M462.1 153.5h.7M460.3 152.1h.7M460.4 156.4h.7M459.0 146.0h.7M457.6 146.0h.7M457.6 153.7h.7M460.2 146.6h.7M462.2 150.0h.7M459.2 151.3h.7M460.1 143.2h.7M462.7 152.8h.7M461.6 149.9h.7M459.8 145.5h.7M457.9 151.1h.7M455.8 142.7h.7M463.3 151.5h.7M459.1 159.8h.7M458.9 150.4h.7M458.7 147.9h.7M457.0 152.0h.7M457.2 150.7h.7M463.1 155.0h.7M459.7 160.9h.7M458.9 161.2h.7M458.2 143.2h.7M458.8 153.3h.7M458.9 147.4h.7M454.7 147.0h.7M457.6 137.6h.7M457.7 153.0h.7M459.4 145.6h.7M456.9 148.1h.7M461.3 149.8h.7M459.9 144.3h.7M458.1 154.7h.7M460.3 148.4h.7M457.3 142.0h.7M457.7 149.8h.7M457.6 149.2h.7M457.1 155.5h.7M456.2 130.6h.7M461.8 151.7h.7M459.6 134.0h.7M460.3 141.2h.7M457.4 154.1h.7M456.3 147.4h.7M461.4 151.6h.7M456.6 157.4h.7M459.1 146.7h.7M458.2 133.7h.7M463.8 153.3h.7M459.9 144.1h.7M459.9 153.3h.7M457.6 139.0h.7M458.6 151.1h.7M459.0 146.8h.7M457.8 151.0h.7M458.1 135.0h.7M459.9 139.9h.7M460.2 151.3h.7M458.2 144.3h.7M459.9 133.2h.7M460.4 147.5h.7M459.2 151.3h.7M463.1 148.3h.7M463.7 142.4h.7M459.7 141.8h.7M456.6 154.9h.7M461.1 144.2h.7M455.5 159.8h.7M463.6 157.5h.7M459.7 150.0h.7M457.8 145.7h.7M458.7 155.0h.7M460.2 138.2h.7M457.6 152.1h.7M457.9 139.7h.7M459.0 147.1h.7M458.6 147.2h.7M462.1 149.6h.7M461.0 142.7h.7M461.3 144.3h.7M457.4 141.9h.7M460.2 146.2h.7M459.4 139.9h.7M458.2 147.6h.7M460.0 147.2h.7M456.4 146.9h.7M457.7 139.5h.7M465.6 149.9h.7M461.7 138.7h.7M462.3 158.4h.7M456.6 147.9h.7M460.9 141.7h.7M462.1 154.1h.7M455.8 140.5h.7M457.3 148.8h.7M456.9 136.9h.7M461.7 164.1h.7M454.4 148.9h.7M450.6 150.7h.7M451.1 159.7h.7M454.9 143.3h.7M455.6 143.9h.7M449.2 144.2h.7M455.3 148.2h.7M450.5 142.5h.7M454.2 142.6h.7M454.7 144.7h.7M455.7 141.3h.7M457.6 148.8h.7M456.6 146.9h.7M450.6 144.1h.7M448.7 141.8h.7M461.2 151.8h.7M457.7 138.7h.7M452.6 148.2h.7M460.7 144.0h.7M451.5 144.6h.7M456.3 135.1h.7M469.6 139.9h.7M458.4 142.6h.7M451.2 138.2h.7M460.1 138.4h.7M463.3 139.8h.7M453.4 137.1h.7M456.0 144.3h.7M454.8 132.9h.7M457.5 142.3h.7M462.4 151.9h.7M463.6 145.5h.7M456.3 150.2h.7M453.8 145.0h.7M453.3 149.4h.7M460.6 148.9h.7M454.3 137.8h.7M461.9 147.0h.7M460.0 139.0h.7M454.2 138.7h.7M455.5 145.5h.7M462.8 143.9h.7M456.7 139.5h.7M452.3 151.3h.7M451.9 130.6h.7M448.3 140.4h.7M456.3 139.3h.7M455.6 136.9h.7M458.5 145.5h.7M445.5 149.5h.7M453.8 144.3h.7M451.8 147.4h.7M461.8 154.7h.7M450.9 143.3h.7M455.6 139.9h.7M455.8 142.1h.7M454.0 142.5h.7M451.1 142.4h.7M453.4 145.7h.7M459.3 138.8h.7M451.5 135.0h.7M455.9 147.8h.7M453.0 146.6h.7M453.6 127.0h.7M451.3 141.1h.7M460.3 150.3h.7M457.5 145.7h.7M459.6 144.9h.7M458.0 146.0h.7M457.5 145.6h.7M454.7 140.2h.7M455.7 142.7h.7M451.1 142.6h.7M459.3 142.5h.7M458.1 141.0h.7M448.9 151.2h.7M456.1 136.2h.7M455.9 143.3h.7M455.6 152.0h.7M456.5 144.4h.7M455.9 146.5h.7M449.1 141.3h.7M457.0 147.5h.7M453.5 142.4h.7M450.2 143.8h.7M456.6 141.2h.7M463.9 144.2h.7M458.5 147.2h.7M456.5 140.4h.7M454.5 140.7h.7M453.3 138.2h.7M444.0 144.9h.7M454.2 150.1h.7M454.1 131.6h.7M450.3 142.8h.7M454.4 136.5h.7M452.9 141.8h.7M451.3 136.0h.7M457.3 138.1h.7M455.8 147.0h.7M454.1 146.8h.7M456.0 129.5h.7M449.2 137.5h.7M463.3 141.8h.7M450.0 148.6h.7M455.8 136.1h.7M453.0 134.0h.7M451.6 153.4h.7M452.2 139.1h.7M460.2 144.5h.7M451.9 143.9h.7M456.2 139.0h.7M455.7 138.8h.7M450.3 144.0h.7M455.7 133.0h.7M454.9 139.3h.7M454.6 137.6h.7M458.1 143.0h.7M458.2 139.9h.7M453.1 148.3h.7M453.3 137.7h.7M458.4 137.8h.7M458.8 134.8h.7M461.0 146.0h.7M458.9 141.6h.7M463.9 141.2h.7M452.9 138.1h.7M454.0 141.4h.7M461.8 136.9h.7M450.1 149.3h.7M449.3 140.1h.7M446.5 139.0h.7M446.7 140.3h.7M443.3 142.1h.7M445.8 136.6h.7M449.9 139.7h.7M445.2 140.6h.7M447.2 137.2h.7M444.3 141.5h.7M451.2 141.3h.7M448.3 143.4h.7M445.7 141.6h.7M445.4 141.5h.7M447.2 142.8h.7M445.3 145.2h.7M446.1 143.6h.7M444.7 140.7h.7M446.1 141.5h.7M447.4 140.0h.7M443.8 139.9h.7M446.8 137.2h.7M445.2 141.7h.7M445.9 143.9h.7M447.5 138.6h.7M444.0 139.4h.7M442.8 137.6h.7M447.9 140.5h.7M446.4 138.6h.7M445.5 142.5h.7M446.0 139.2h.7M441.7 145.8h.7M445.4 141.5h.7M445.9 138.5h.7M449.4 140.5h.7M449.4 141.9h.7M446.0 135.8h.7M448.1 139.7h.7M447.6 141.5h.7M449.1 144.1h.7M444.7 141.6h.7M445.4 138.1h.7M447.0 141.7h.7M444.3 140.6h.7M446.3 142.7h.7M444.7 142.0h.7M447.2 142.5h.7M445.9 140.4h.7M447.7 138.8h.7M446.8 141.5h.7M445.9 138.8h.7M447.1 136.8h.7M446.2 139.8h.7M446.2 142.0h.7M445.4 142.8h.7M443.1 139.4h.7M447.6 145.2h.7M449.6 142.4h.7M448.8 141.6h.7M448.0 142.5h.7M449.2 141.2h.7M446.9 139.7h.7M446.8 136.8h.7M446.6 140.2h.7M449.0 139.5h.7M448.2 140.4h.7M449.9 145.4h.7M442.1 136.7h.7M444.9 142.7h.7M445.0 142.3h.7M445.7 143.4h.7M444.7 140.1h.7M445.6 140.4h.7M445.4 139.0h.7M447.5 141.5h.7M448.4 137.9h.7M446.2 144.1h.7M445.5 140.4h.7M445.1 141.2h.7M444.2 136.9h.7M445.9 139.7h.7M451.7 168.0h.7M453.8 167.9h.7M459.3 163.1h.7M453.9 147.3h.7M455.7 153.2h.7M454.3 165.5h.7M454.9 157.1h.7M454.4 148.8h.7M452.6 157.9h.7M448.8 158.4h.7M448.0 170.7h.7M448.7 147.1h.7M455.4 150.9h.7M454.4 157.7h.7M448.8 161.9h.7M453.2 160.0h.7M451.5 160.6h.7M456.4 150.0h.7M452.6 154.3h.7M454.9 149.7h.7M449.4 146.3h.7M452.6 169.1h.7M454.8 150.0h.7M453.2 146.1h.7M448.9 155.4h.7M452.8 148.0h.7M453.7 153.7h.7M454.1 143.1h.7M452.5 146.3h.7M458.6 155.7h.7M446.8 156.0h.7M452.4 167.9h.7M445.8 151.5h.7M456.1 151.9h.7M450.9 165.6h.7M449.8 164.0h.7M453.1 146.9h.7M455.3 169.0h.7M457.0 145.2h.7M454.6 172.4h.7M450.2 143.6h.7M459.4 158.2h.7M455.8 170.3h.7M453.0 156.9h.7M451.1 171.8h.7M455.2 165.6h.7M451.2 172.5h.7M448.8 155.9h.7M452.2 173.5h.7M447.2 154.9h.7M456.1 146.0h.7M454.8 143.2h.7M452.0 144.8h.7M455.1 138.0h.7M450.2 160.2h.7M453.7 156.1h.7M450.0 152.4h.7M453.6 144.2h.7" stroke="#000" stroke-width="0.7" fill="none"/>
</g>
</svg>
</body></html>
